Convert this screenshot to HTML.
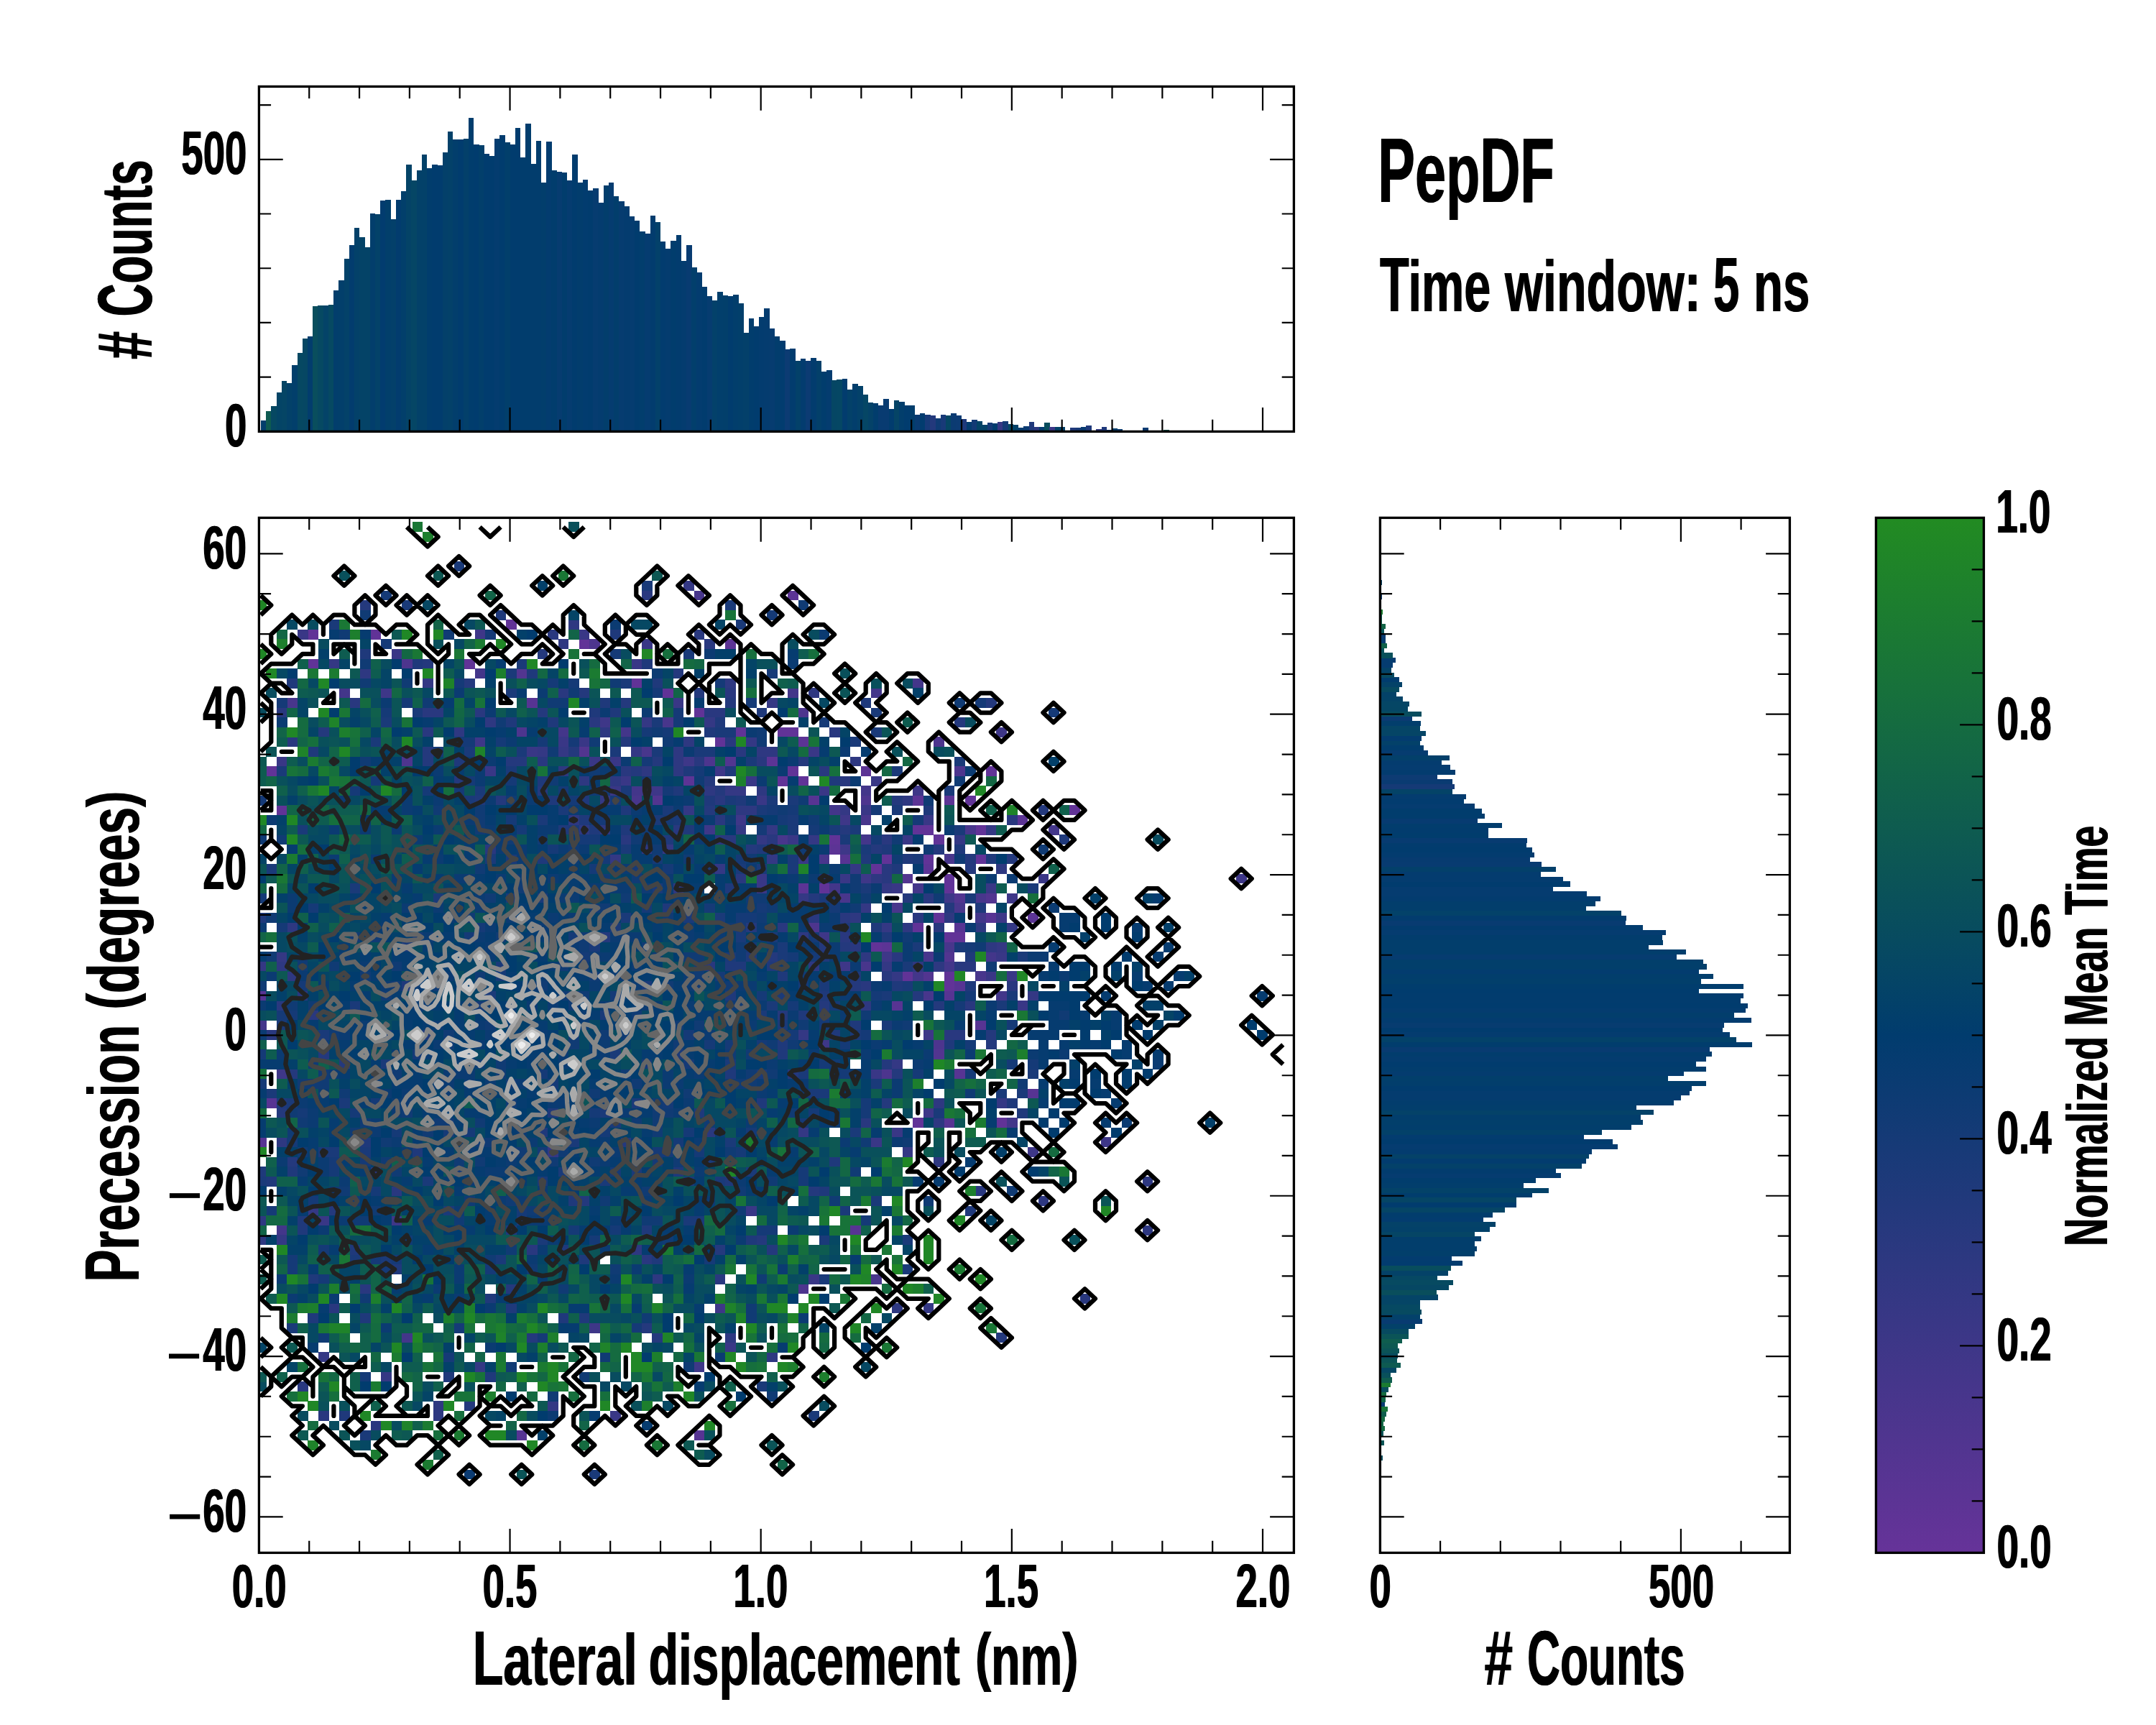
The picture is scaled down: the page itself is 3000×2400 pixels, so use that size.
<!DOCTYPE html><html><head><meta charset="utf-8"><title>PepDF</title><style>html,body{margin:0;padding:0;background:#fff}svg{display:block}</style></head><body><svg width="3000" height="2400" viewBox="0 0 3000 2400">
<defs>
<linearGradient id="cb" x1="0" y1="1" x2="0" y2="0"><stop offset="0" stop-color="#663399"/><stop offset="0.5" stop-color="#013c6e"/><stop offset="1" stop-color="#228b22"/></linearGradient>
<clipPath id="cm"><rect x="360.4" y="720.4" width="1440" height="1440"/></clipPath>
<clipPath id="ct"><rect x="360.4" y="120.4" width="1440" height="480"/></clipPath>
<clipPath id="cr"><rect x="1920.4" y="720.4" width="570" height="1440"/></clipPath>
</defs>
<rect width="3000" height="2400" fill="#fff"/>
<g clip-path="url(#ct)" shape-rendering="crispEdges">
<rect x="363.00" y="585.07" width="7.52" height="15.33" fill="#023e6c"/>
<rect x="370.22" y="571.69" width="7.52" height="28.71" fill="#0e5a51"/>
<rect x="377.44" y="564.73" width="7.52" height="35.67" fill="#064862"/>
<rect x="384.66" y="545.50" width="7.52" height="54.90" fill="#044466"/>
<rect x="391.88" y="530.45" width="7.52" height="69.95" fill="#054565"/>
<rect x="399.10" y="533.24" width="7.52" height="67.16" fill="#034169"/>
<rect x="406.32" y="508.43" width="7.52" height="91.97" fill="#023f6b"/>
<rect x="413.54" y="491.15" width="7.52" height="109.25" fill="#064862"/>
<rect x="420.76" y="471.37" width="7.52" height="129.03" fill="#064763"/>
<rect x="427.98" y="468.02" width="7.52" height="132.38" fill="#023d6d"/>
<rect x="435.20" y="426.22" width="7.52" height="174.18" fill="#094e5d"/>
<rect x="442.42" y="424.55" width="7.52" height="175.85" fill="#064962"/>
<rect x="449.64" y="425.38" width="7.52" height="175.02" fill="#044368"/>
<rect x="456.86" y="424.27" width="7.52" height="176.13" fill="#064962"/>
<rect x="464.08" y="404.20" width="7.52" height="196.20" fill="#023e6c"/>
<rect x="471.30" y="390.27" width="7.52" height="210.13" fill="#023f6b"/>
<rect x="478.52" y="360.17" width="7.52" height="240.23" fill="#034269"/>
<rect x="485.74" y="341.22" width="7.52" height="259.18" fill="#023c6e"/>
<rect x="492.96" y="317.25" width="7.52" height="283.15" fill="#034169"/>
<rect x="500.18" y="330.07" width="7.52" height="270.33" fill="#044367"/>
<rect x="507.40" y="344.01" width="7.52" height="256.39" fill="#044367"/>
<rect x="514.62" y="296.91" width="7.52" height="303.49" fill="#023e6c"/>
<rect x="521.84" y="298.02" width="7.52" height="302.38" fill="#034269"/>
<rect x="529.06" y="279.07" width="7.52" height="321.33" fill="#023c6f"/>
<rect x="536.28" y="278.23" width="7.52" height="322.17" fill="#023f6b"/>
<rect x="543.50" y="304.71" width="7.52" height="295.69" fill="#03406a"/>
<rect x="550.72" y="278.23" width="7.52" height="322.17" fill="#023c6e"/>
<rect x="557.94" y="265.97" width="7.52" height="334.43" fill="#023f6b"/>
<rect x="565.16" y="228.91" width="7.52" height="371.49" fill="#044367"/>
<rect x="572.38" y="250.64" width="7.52" height="349.76" fill="#054665"/>
<rect x="579.60" y="236.99" width="7.52" height="363.41" fill="#034169"/>
<rect x="586.82" y="214.97" width="7.52" height="385.43" fill="#034169"/>
<rect x="594.04" y="233.92" width="7.52" height="366.48" fill="#013d6d"/>
<rect x="601.26" y="228.91" width="7.52" height="371.49" fill="#013c6e"/>
<rect x="608.48" y="230.02" width="7.52" height="370.38" fill="#013c6e"/>
<rect x="615.70" y="211.63" width="7.52" height="388.77" fill="#03406a"/>
<rect x="622.92" y="182.92" width="7.52" height="417.48" fill="#034169"/>
<rect x="630.14" y="194.07" width="7.52" height="406.33" fill="#023e6c"/>
<rect x="637.36" y="194.07" width="7.52" height="406.33" fill="#013c6e"/>
<rect x="644.58" y="193.23" width="7.52" height="407.17" fill="#03406a"/>
<rect x="651.80" y="163.69" width="7.52" height="436.71" fill="#013d6d"/>
<rect x="659.02" y="200.76" width="7.52" height="399.64" fill="#013c6e"/>
<rect x="666.24" y="202.43" width="7.52" height="397.97" fill="#023f6b"/>
<rect x="673.46" y="213.86" width="7.52" height="386.54" fill="#013c6e"/>
<rect x="680.68" y="216.64" width="7.52" height="383.76" fill="#013c6e"/>
<rect x="687.90" y="192.96" width="7.52" height="407.44" fill="#043c6f"/>
<rect x="695.12" y="187.94" width="7.52" height="412.46" fill="#013c6e"/>
<rect x="702.34" y="197.97" width="7.52" height="402.43" fill="#023f6b"/>
<rect x="709.56" y="200.76" width="7.52" height="399.64" fill="#013c6e"/>
<rect x="716.78" y="177.63" width="7.52" height="422.77" fill="#013c6e"/>
<rect x="724.00" y="218.60" width="7.52" height="381.80" fill="#013d6d"/>
<rect x="731.22" y="171.78" width="7.52" height="428.62" fill="#013d6d"/>
<rect x="738.44" y="227.79" width="7.52" height="372.61" fill="#023d6d"/>
<rect x="745.66" y="195.74" width="7.52" height="404.66" fill="#023d6d"/>
<rect x="752.88" y="253.99" width="7.52" height="346.41" fill="#023e6c"/>
<rect x="760.10" y="196.86" width="7.52" height="403.54" fill="#033c6f"/>
<rect x="767.32" y="236.99" width="7.52" height="363.41" fill="#013d6d"/>
<rect x="774.54" y="238.94" width="7.52" height="361.46" fill="#063c70"/>
<rect x="781.76" y="240.05" width="7.52" height="360.35" fill="#013d6d"/>
<rect x="788.98" y="251.48" width="7.52" height="348.92" fill="#053c70"/>
<rect x="796.20" y="214.97" width="7.52" height="385.43" fill="#013c6e"/>
<rect x="803.42" y="253.99" width="7.52" height="346.41" fill="#023d6d"/>
<rect x="810.64" y="249.81" width="7.52" height="350.59" fill="#023c6f"/>
<rect x="817.86" y="264.86" width="7.52" height="335.54" fill="#013c6e"/>
<rect x="825.08" y="262.07" width="7.52" height="338.33" fill="#063c70"/>
<rect x="832.30" y="281.86" width="7.52" height="318.54" fill="#043c6f"/>
<rect x="839.52" y="257.89" width="7.52" height="342.51" fill="#023e6c"/>
<rect x="846.74" y="253.99" width="7.52" height="346.41" fill="#053c70"/>
<rect x="853.96" y="272.94" width="7.52" height="327.46" fill="#023e6c"/>
<rect x="861.18" y="279.91" width="7.52" height="320.49" fill="#063c70"/>
<rect x="868.40" y="287.15" width="7.52" height="313.25" fill="#043c6f"/>
<rect x="875.62" y="301.09" width="7.52" height="299.31" fill="#053c70"/>
<rect x="882.84" y="306.94" width="7.52" height="293.46" fill="#013c6e"/>
<rect x="890.06" y="322.27" width="7.52" height="278.13" fill="#023e6d"/>
<rect x="897.28" y="325.05" width="7.52" height="275.35" fill="#053c70"/>
<rect x="904.50" y="300.25" width="7.52" height="300.15" fill="#023c6e"/>
<rect x="911.72" y="309.17" width="7.52" height="291.23" fill="#03416a"/>
<rect x="918.94" y="335.92" width="7.52" height="264.48" fill="#023c6f"/>
<rect x="926.16" y="345.96" width="7.52" height="254.44" fill="#043c6f"/>
<rect x="933.38" y="335.09" width="7.52" height="265.31" fill="#013d6d"/>
<rect x="940.60" y="327.01" width="7.52" height="273.39" fill="#023c6e"/>
<rect x="947.82" y="362.96" width="7.52" height="237.44" fill="#043c6f"/>
<rect x="955.04" y="341.22" width="7.52" height="259.18" fill="#083b71"/>
<rect x="962.26" y="372.15" width="7.52" height="228.25" fill="#023f6c"/>
<rect x="969.48" y="379.12" width="7.52" height="221.28" fill="#033c6f"/>
<rect x="976.70" y="399.19" width="7.52" height="201.21" fill="#013c6e"/>
<rect x="983.92" y="412.01" width="7.52" height="188.39" fill="#063c70"/>
<rect x="991.14" y="417.86" width="7.52" height="182.54" fill="#03416a"/>
<rect x="998.36" y="406.15" width="7.52" height="194.25" fill="#023f6c"/>
<rect x="1005.58" y="411.17" width="7.52" height="189.23" fill="#023f6b"/>
<rect x="1012.80" y="412.01" width="7.52" height="188.39" fill="#013c6e"/>
<rect x="1020.02" y="410.33" width="7.52" height="190.07" fill="#023e6c"/>
<rect x="1027.24" y="422.04" width="7.52" height="178.36" fill="#023f6b"/>
<rect x="1034.46" y="463.28" width="7.52" height="137.12" fill="#03406a"/>
<rect x="1041.68" y="443.22" width="7.52" height="157.18" fill="#013d6d"/>
<rect x="1048.90" y="454.09" width="7.52" height="146.31" fill="#013c6e"/>
<rect x="1056.12" y="441.27" width="7.52" height="159.13" fill="#033c6f"/>
<rect x="1063.34" y="429.01" width="7.52" height="171.39" fill="#043c6f"/>
<rect x="1070.56" y="457.15" width="7.52" height="143.25" fill="#063c70"/>
<rect x="1077.78" y="468.02" width="7.52" height="132.38" fill="#023d6d"/>
<rect x="1085.00" y="474.31" width="7.52" height="126.09" fill="#023c6f"/>
<rect x="1092.22" y="486.35" width="7.52" height="114.05" fill="#0c3b73"/>
<rect x="1099.44" y="485.35" width="7.52" height="115.05" fill="#023c6e"/>
<rect x="1106.66" y="502.41" width="7.52" height="97.99" fill="#034169"/>
<rect x="1113.88" y="499.40" width="7.52" height="101.00" fill="#033c6f"/>
<rect x="1121.10" y="502.41" width="7.52" height="97.99" fill="#0c3b73"/>
<rect x="1128.32" y="498.39" width="7.52" height="102.01" fill="#023c6e"/>
<rect x="1135.54" y="502.41" width="7.52" height="97.99" fill="#03406a"/>
<rect x="1142.76" y="517.29" width="7.52" height="83.11" fill="#013d6d"/>
<rect x="1149.98" y="515.45" width="7.52" height="84.95" fill="#043c6f"/>
<rect x="1157.20" y="529.33" width="7.52" height="71.07" fill="#054664"/>
<rect x="1164.42" y="528.33" width="7.52" height="72.07" fill="#054764"/>
<rect x="1171.64" y="527.32" width="7.52" height="73.08" fill="#023c6e"/>
<rect x="1178.86" y="542.37" width="7.52" height="58.03" fill="#034169"/>
<rect x="1186.08" y="533.51" width="7.52" height="66.89" fill="#023e6c"/>
<rect x="1193.30" y="537.36" width="7.52" height="63.04" fill="#034169"/>
<rect x="1200.52" y="549.40" width="7.52" height="51.00" fill="#054665"/>
<rect x="1207.74" y="560.43" width="7.52" height="39.97" fill="#044268"/>
<rect x="1214.96" y="561.44" width="7.52" height="38.96" fill="#013d6d"/>
<rect x="1222.18" y="564.45" width="7.52" height="35.95" fill="#083b71"/>
<rect x="1229.40" y="555.42" width="7.52" height="44.98" fill="#083b71"/>
<rect x="1236.62" y="569.46" width="7.52" height="30.94" fill="#013c6e"/>
<rect x="1243.84" y="557.42" width="7.52" height="42.98" fill="#054466"/>
<rect x="1251.06" y="558.59" width="7.52" height="41.81" fill="#023e6c"/>
<rect x="1258.28" y="564.45" width="7.52" height="35.95" fill="#013c6e"/>
<rect x="1265.50" y="564.45" width="7.52" height="35.95" fill="#023e6c"/>
<rect x="1272.72" y="577.49" width="7.52" height="22.91" fill="#093b71"/>
<rect x="1279.94" y="575.48" width="7.52" height="24.92" fill="#023c6f"/>
<rect x="1287.16" y="577.49" width="7.52" height="22.91" fill="#173a78"/>
<rect x="1294.38" y="578.49" width="7.52" height="21.91" fill="#23397c"/>
<rect x="1301.60" y="581.50" width="7.52" height="18.90" fill="#0f3b74"/>
<rect x="1308.82" y="577.49" width="7.52" height="22.91" fill="#183a78"/>
<rect x="1316.04" y="578.49" width="7.52" height="21.91" fill="#054664"/>
<rect x="1323.26" y="575.48" width="7.52" height="24.92" fill="#0b3b72"/>
<rect x="1330.48" y="578.49" width="7.52" height="21.91" fill="#0c3b73"/>
<rect x="1337.70" y="582.51" width="7.52" height="17.89" fill="#1f397b"/>
<rect x="1344.92" y="586.52" width="7.52" height="13.88" fill="#043c6f"/>
<rect x="1352.14" y="583.51" width="7.52" height="16.89" fill="#123a75"/>
<rect x="1359.36" y="585.52" width="7.52" height="14.88" fill="#044467"/>
<rect x="1366.58" y="590.53" width="7.52" height="9.87" fill="#044268"/>
<rect x="1373.80" y="587.52" width="7.52" height="12.88" fill="#163a77"/>
<rect x="1381.02" y="588.53" width="7.52" height="11.87" fill="#023c6e"/>
<rect x="1388.24" y="586.52" width="7.52" height="13.88" fill="#363784"/>
<rect x="1395.46" y="585.52" width="7.52" height="14.88" fill="#143a76"/>
<rect x="1402.68" y="589.53" width="7.52" height="10.87" fill="#064863"/>
<rect x="1409.90" y="590.53" width="7.52" height="9.87" fill="#034269"/>
<rect x="1417.12" y="594.55" width="7.52" height="5.85" fill="#053c70"/>
<rect x="1424.34" y="592.54" width="7.52" height="7.86" fill="#0a3b72"/>
<rect x="1431.56" y="586.52" width="7.52" height="13.88" fill="#20397b"/>
<rect x="1438.78" y="593.92" width="7.52" height="6.48" fill="#2a387f"/>
<rect x="1446.00" y="594.44" width="7.52" height="5.96" fill="#033c6f"/>
<rect x="1453.22" y="587.56" width="7.52" height="12.84" fill="#084d5d"/>
<rect x="1460.44" y="593.58" width="7.52" height="6.82" fill="#3c3787"/>
<rect x="1467.66" y="594.26" width="7.52" height="6.14" fill="#034268"/>
<rect x="1474.88" y="594.26" width="7.52" height="6.14" fill="#034169"/>
<rect x="1482.10" y="598.56" width="7.52" height="1.84" fill="#0c5754"/>
<rect x="1489.32" y="595.29" width="7.52" height="5.11" fill="#21397b"/>
<rect x="1496.54" y="594.61" width="7.52" height="5.79" fill="#173a77"/>
<rect x="1503.76" y="593.58" width="7.52" height="6.82" fill="#083b71"/>
<rect x="1510.98" y="591.51" width="7.52" height="8.89" fill="#1e397a"/>
<rect x="1525.42" y="596.50" width="7.52" height="3.90" fill="#2f3882"/>
<rect x="1532.64" y="594.44" width="7.52" height="5.96" fill="#1f397b"/>
<rect x="1539.86" y="597.53" width="7.52" height="2.87" fill="#0c3b73"/>
<rect x="1547.08" y="595.64" width="7.52" height="4.76" fill="#023e6c"/>
<rect x="1554.30" y="596.50" width="7.52" height="3.90" fill="#0a3b72"/>
<rect x="1561.52" y="598.56" width="7.52" height="1.84" fill="#063c70"/>
<rect x="1568.74" y="598.73" width="7.52" height="1.67" fill="#29387f"/>
<rect x="1575.96" y="598.73" width="7.52" height="1.67" fill="#2b3880"/>
<rect x="1583.18" y="598.56" width="7.52" height="1.84" fill="#0f5d4e"/>
<rect x="1590.40" y="595.47" width="7.52" height="4.93" fill="#0b3b72"/>
<rect x="1604.84" y="598.73" width="7.52" height="1.67" fill="#0d3b73"/>
<rect x="1612.06" y="598.56" width="7.52" height="1.84" fill="#0c5754"/>
<rect x="1619.28" y="597.53" width="7.52" height="2.87" fill="#0d5952"/>
<rect x="1640.94" y="598.90" width="7.52" height="1.50" fill="#136744"/>
<rect x="1677.04" y="598.90" width="7.52" height="1.50" fill="#054665"/>
</g>
<g clip-path="url(#cr)" shape-rendering="crispEdges">
<rect x="1920.40" y="2024.71" width="3.60" height="7.06" fill="#084e5d"/>
<rect x="1920.40" y="2004.42" width="5.60" height="7.06" fill="#0b5556"/>
<rect x="1920.40" y="1990.89" width="4.60" height="7.06" fill="#0b5358"/>
<rect x="1920.40" y="1984.12" width="6.60" height="7.06" fill="#146a41"/>
<rect x="1920.40" y="1977.36" width="4.60" height="7.06" fill="#126646"/>
<rect x="1920.40" y="1970.59" width="6.60" height="7.06" fill="#156b41"/>
<rect x="1920.40" y="1963.83" width="8.60" height="7.06" fill="#0f5e4d"/>
<rect x="1920.40" y="1957.06" width="10.60" height="7.06" fill="#187438"/>
<rect x="1920.40" y="1950.30" width="6.60" height="7.06" fill="#083b71"/>
<rect x="1920.40" y="1943.53" width="7.60" height="7.06" fill="#126646"/>
<rect x="1920.40" y="1936.77" width="8.60" height="7.06" fill="#156c40"/>
<rect x="1920.40" y="1930.00" width="11.60" height="7.06" fill="#084e5d"/>
<rect x="1920.40" y="1923.24" width="14.60" height="7.06" fill="#1b7b31"/>
<rect x="1920.40" y="1916.47" width="16.60" height="7.06" fill="#0f5d4e"/>
<rect x="1920.40" y="1909.71" width="14.60" height="7.06" fill="#09505b"/>
<rect x="1920.40" y="1902.94" width="22.60" height="7.06" fill="#054764"/>
<rect x="1920.40" y="1896.18" width="28.60" height="7.06" fill="#0e5a51"/>
<rect x="1920.40" y="1889.41" width="23.60" height="7.06" fill="#0b5456"/>
<rect x="1920.40" y="1882.65" width="24.60" height="7.06" fill="#084c5e"/>
<rect x="1920.40" y="1875.88" width="26.60" height="7.06" fill="#0b5457"/>
<rect x="1920.40" y="1869.12" width="24.60" height="7.06" fill="#0d5952"/>
<rect x="1920.40" y="1862.35" width="30.60" height="7.06" fill="#0f5d4e"/>
<rect x="1920.40" y="1855.59" width="39.60" height="7.06" fill="#0b5457"/>
<rect x="1920.40" y="1848.82" width="39.60" height="7.06" fill="#074a60"/>
<rect x="1920.40" y="1842.06" width="48.60" height="7.06" fill="#034169"/>
<rect x="1920.40" y="1835.29" width="58.60" height="7.06" fill="#083b71"/>
<rect x="1920.40" y="1828.53" width="55.60" height="7.06" fill="#03416a"/>
<rect x="1920.40" y="1821.76" width="57.60" height="7.06" fill="#074a60"/>
<rect x="1920.40" y="1815.00" width="55.60" height="7.06" fill="#064962"/>
<rect x="1920.40" y="1808.23" width="55.60" height="7.06" fill="#054566"/>
<rect x="1920.40" y="1801.47" width="80.60" height="7.06" fill="#044467"/>
<rect x="1920.40" y="1794.70" width="78.60" height="7.06" fill="#094e5c"/>
<rect x="1920.40" y="1787.94" width="95.60" height="7.06" fill="#064763"/>
<rect x="1920.40" y="1781.17" width="101.60" height="7.06" fill="#074a61"/>
<rect x="1920.40" y="1774.41" width="79.60" height="7.06" fill="#064863"/>
<rect x="1920.40" y="1767.64" width="94.60" height="7.06" fill="#044268"/>
<rect x="1920.40" y="1760.88" width="98.60" height="7.06" fill="#084d5d"/>
<rect x="1920.40" y="1754.11" width="114.60" height="7.06" fill="#023c6f"/>
<rect x="1920.40" y="1747.35" width="99.60" height="7.06" fill="#033c6f"/>
<rect x="1920.40" y="1740.58" width="131.60" height="7.06" fill="#023f6b"/>
<rect x="1920.40" y="1733.82" width="134.60" height="7.06" fill="#023e6c"/>
<rect x="1920.40" y="1727.05" width="131.60" height="7.06" fill="#023e6c"/>
<rect x="1920.40" y="1720.29" width="140.53" height="7.06" fill="#023e6c"/>
<rect x="1920.40" y="1713.52" width="131.81" height="7.06" fill="#054565"/>
<rect x="1920.40" y="1706.76" width="152.43" height="7.06" fill="#034169"/>
<rect x="1920.40" y="1699.99" width="160.36" height="7.06" fill="#044268"/>
<rect x="1920.40" y="1693.23" width="143.70" height="7.06" fill="#033c6f"/>
<rect x="1920.40" y="1686.46" width="156.92" height="7.06" fill="#023d6d"/>
<rect x="1920.40" y="1679.70" width="173.58" height="7.06" fill="#054565"/>
<rect x="1920.40" y="1672.93" width="189.45" height="7.06" fill="#013c6e"/>
<rect x="1920.40" y="1666.17" width="189.45" height="7.06" fill="#054565"/>
<rect x="1920.40" y="1659.40" width="211.13" height="7.06" fill="#013d6d"/>
<rect x="1920.40" y="1652.64" width="234.40" height="7.06" fill="#034268"/>
<rect x="1920.40" y="1645.87" width="199.76" height="7.06" fill="#023e6c"/>
<rect x="1920.40" y="1639.11" width="216.42" height="7.06" fill="#013d6d"/>
<rect x="1920.40" y="1632.34" width="251.32" height="7.06" fill="#053c70"/>
<rect x="1920.40" y="1625.58" width="244.71" height="7.06" fill="#023c6e"/>
<rect x="1920.40" y="1618.81" width="280.40" height="7.06" fill="#034169"/>
<rect x="1920.40" y="1612.05" width="286.49" height="7.06" fill="#023c6f"/>
<rect x="1920.40" y="1605.28" width="290.45" height="7.06" fill="#044268"/>
<rect x="1920.40" y="1598.52" width="294.42" height="7.06" fill="#033c6f"/>
<rect x="1920.40" y="1591.75" width="330.11" height="7.06" fill="#053c70"/>
<rect x="1920.40" y="1584.99" width="323.50" height="7.06" fill="#013c6e"/>
<rect x="1920.40" y="1578.22" width="283.84" height="7.06" fill="#033c6f"/>
<rect x="1920.40" y="1571.46" width="308.43" height="7.06" fill="#034169"/>
<rect x="1920.40" y="1564.69" width="349.94" height="7.06" fill="#023e6c"/>
<rect x="1920.40" y="1557.93" width="365.28" height="7.06" fill="#023f6b"/>
<rect x="1920.40" y="1551.16" width="362.64" height="7.06" fill="#023e6c"/>
<rect x="1920.40" y="1544.40" width="380.35" height="7.06" fill="#044268"/>
<rect x="1920.40" y="1537.63" width="356.55" height="7.06" fill="#023e6c"/>
<rect x="1920.40" y="1530.87" width="408.64" height="7.06" fill="#023d6d"/>
<rect x="1920.40" y="1524.10" width="418.69" height="7.06" fill="#043c6f"/>
<rect x="1920.40" y="1517.34" width="430.59" height="7.06" fill="#043c6f"/>
<rect x="1920.40" y="1510.57" width="433.23" height="7.06" fill="#013c6e"/>
<rect x="1920.40" y="1503.81" width="453.59" height="7.06" fill="#023e6c"/>
<rect x="1920.40" y="1497.04" width="400.71" height="7.06" fill="#023f6b"/>
<rect x="1920.40" y="1490.28" width="422.13" height="7.06" fill="#043c6f"/>
<rect x="1920.40" y="1483.51" width="453.59" height="7.06" fill="#023d6d"/>
<rect x="1920.40" y="1476.75" width="439.84" height="7.06" fill="#013c6e"/>
<rect x="1920.40" y="1469.98" width="453.59" height="7.06" fill="#043c6f"/>
<rect x="1920.40" y="1463.22" width="461.52" height="7.06" fill="#023d6d"/>
<rect x="1920.40" y="1456.45" width="458.88" height="7.06" fill="#083b71"/>
<rect x="1920.40" y="1449.69" width="517.32" height="7.06" fill="#013d6d"/>
<rect x="1920.40" y="1442.92" width="495.37" height="7.06" fill="#034269"/>
<rect x="1920.40" y="1436.16" width="486.12" height="7.06" fill="#043c6f"/>
<rect x="1920.40" y="1429.39" width="476.33" height="7.06" fill="#013c6e"/>
<rect x="1920.40" y="1422.63" width="478.18" height="7.06" fill="#073c70"/>
<rect x="1920.40" y="1415.86" width="516.52" height="7.06" fill="#033c6f"/>
<rect x="1920.40" y="1409.10" width="492.73" height="7.06" fill="#023e6c"/>
<rect x="1920.40" y="1402.33" width="508.59" height="7.06" fill="#043c6f"/>
<rect x="1920.40" y="1395.57" width="511.76" height="7.06" fill="#013c6e"/>
<rect x="1920.40" y="1388.80" width="501.45" height="7.06" fill="#023c6e"/>
<rect x="1920.40" y="1382.04" width="505.42" height="7.06" fill="#023c6e"/>
<rect x="1920.40" y="1375.27" width="443.81" height="7.06" fill="#013c6e"/>
<rect x="1920.40" y="1368.51" width="505.42" height="7.06" fill="#013d6d"/>
<rect x="1920.40" y="1361.74" width="446.45" height="7.06" fill="#023f6b"/>
<rect x="1920.40" y="1354.98" width="463.64" height="7.06" fill="#023e6c"/>
<rect x="1920.40" y="1348.21" width="443.81" height="7.06" fill="#033c6f"/>
<rect x="1920.40" y="1341.45" width="454.39" height="7.06" fill="#023f6b"/>
<rect x="1920.40" y="1334.68" width="449.10" height="7.06" fill="#023f6b"/>
<rect x="1920.40" y="1327.92" width="412.61" height="7.06" fill="#063c70"/>
<rect x="1920.40" y="1321.15" width="425.30" height="7.06" fill="#023e6c"/>
<rect x="1920.40" y="1314.39" width="373.74" height="7.06" fill="#023e6c"/>
<rect x="1920.40" y="1307.62" width="393.57" height="7.06" fill="#023e6c"/>
<rect x="1920.40" y="1300.86" width="392.25" height="7.06" fill="#023d6d"/>
<rect x="1920.40" y="1294.09" width="397.54" height="7.06" fill="#053c70"/>
<rect x="1920.40" y="1287.33" width="365.28" height="7.06" fill="#023c6e"/>
<rect x="1920.40" y="1280.56" width="341.48" height="7.06" fill="#083b71"/>
<rect x="1920.40" y="1273.80" width="342.54" height="7.06" fill="#023c6e"/>
<rect x="1920.40" y="1267.03" width="335.40" height="7.06" fill="#034269"/>
<rect x="1920.40" y="1260.27" width="286.49" height="7.06" fill="#023e6c"/>
<rect x="1920.40" y="1253.50" width="299.18" height="7.06" fill="#023e6c"/>
<rect x="1920.40" y="1246.74" width="306.32" height="7.06" fill="#033c6f"/>
<rect x="1920.40" y="1239.97" width="287.28" height="7.06" fill="#053c70"/>
<rect x="1920.40" y="1233.21" width="240.21" height="7.06" fill="#053c70"/>
<rect x="1920.40" y="1226.44" width="264.54" height="7.06" fill="#013c6e"/>
<rect x="1920.40" y="1219.68" width="254.23" height="7.06" fill="#043c6f"/>
<rect x="1920.40" y="1212.91" width="223.56" height="7.06" fill="#043c6f"/>
<rect x="1920.40" y="1206.15" width="244.44" height="7.06" fill="#03406a"/>
<rect x="1920.40" y="1199.38" width="224.35" height="7.06" fill="#083b71"/>
<rect x="1920.40" y="1192.62" width="208.48" height="7.06" fill="#073b70"/>
<rect x="1920.40" y="1185.85" width="214.30" height="7.06" fill="#033c6f"/>
<rect x="1920.40" y="1179.09" width="211.13" height="7.06" fill="#013c6e"/>
<rect x="1920.40" y="1172.32" width="203.20" height="7.06" fill="#023c6e"/>
<rect x="1920.40" y="1165.56" width="204.52" height="7.06" fill="#073b71"/>
<rect x="1920.40" y="1158.79" width="150.31" height="7.06" fill="#013d6d"/>
<rect x="1920.40" y="1152.03" width="150.31" height="7.06" fill="#023c6e"/>
<rect x="1920.40" y="1145.26" width="169.35" height="7.06" fill="#023d6d"/>
<rect x="1920.40" y="1138.50" width="135.24" height="7.06" fill="#073b71"/>
<rect x="1920.40" y="1131.73" width="145.29" height="7.06" fill="#013d6d"/>
<rect x="1920.40" y="1124.97" width="141.32" height="7.06" fill="#013d6d"/>
<rect x="1920.40" y="1118.20" width="131.28" height="7.06" fill="#053c70"/>
<rect x="1920.40" y="1111.44" width="116.47" height="7.06" fill="#023c6f"/>
<rect x="1920.40" y="1104.67" width="119.38" height="7.06" fill="#043c6f"/>
<rect x="1920.40" y="1097.91" width="100.34" height="7.06" fill="#044367"/>
<rect x="1920.40" y="1091.14" width="103.25" height="7.06" fill="#153a76"/>
<rect x="1920.40" y="1084.38" width="100.34" height="7.06" fill="#0a3b72"/>
<rect x="1920.40" y="1077.61" width="79.45" height="7.06" fill="#0d3b73"/>
<rect x="1920.40" y="1070.85" width="104.57" height="7.06" fill="#033c6f"/>
<rect x="1920.40" y="1064.08" width="97.43" height="7.06" fill="#053c70"/>
<rect x="1920.40" y="1057.32" width="85.27" height="7.06" fill="#043c6f"/>
<rect x="1920.40" y="1050.55" width="96.37" height="7.06" fill="#03406a"/>
<rect x="1920.40" y="1043.79" width="66.60" height="7.06" fill="#063c70"/>
<rect x="1920.40" y="1037.02" width="60.60" height="7.06" fill="#013d6d"/>
<rect x="1920.40" y="1030.26" width="55.60" height="7.06" fill="#034169"/>
<rect x="1920.40" y="1023.49" width="57.60" height="7.06" fill="#033c6f"/>
<rect x="1920.40" y="1016.73" width="63.60" height="7.06" fill="#054566"/>
<rect x="1920.40" y="1009.96" width="55.60" height="7.06" fill="#054566"/>
<rect x="1920.40" y="1003.20" width="56.60" height="7.06" fill="#023e6c"/>
<rect x="1920.40" y="996.43" width="44.60" height="7.06" fill="#0a3b72"/>
<rect x="1920.40" y="989.67" width="57.60" height="7.06" fill="#084d5e"/>
<rect x="1920.40" y="982.90" width="38.60" height="7.06" fill="#054664"/>
<rect x="1920.40" y="976.14" width="40.60" height="7.06" fill="#054665"/>
<rect x="1920.40" y="969.37" width="31.60" height="7.06" fill="#044367"/>
<rect x="1920.40" y="962.61" width="22.60" height="7.06" fill="#044268"/>
<rect x="1920.40" y="955.84" width="26.60" height="7.06" fill="#074a60"/>
<rect x="1920.40" y="949.08" width="30.60" height="7.06" fill="#044268"/>
<rect x="1920.40" y="942.31" width="26.60" height="7.06" fill="#013c6e"/>
<rect x="1920.40" y="935.55" width="19.60" height="7.06" fill="#074a60"/>
<rect x="1920.40" y="928.78" width="15.60" height="7.06" fill="#044367"/>
<rect x="1920.40" y="922.02" width="17.60" height="7.06" fill="#053c70"/>
<rect x="1920.40" y="915.25" width="21.60" height="7.06" fill="#053c70"/>
<rect x="1920.40" y="908.49" width="17.60" height="7.06" fill="#09505a"/>
<rect x="1920.40" y="901.72" width="5.60" height="7.06" fill="#09505b"/>
<rect x="1920.40" y="894.96" width="9.60" height="7.06" fill="#116249"/>
<rect x="1920.40" y="888.19" width="7.60" height="7.06" fill="#053c70"/>
<rect x="1920.40" y="881.43" width="7.60" height="7.06" fill="#0a3b72"/>
<rect x="1920.40" y="874.66" width="5.60" height="7.06" fill="#0b5457"/>
<rect x="1920.40" y="867.90" width="7.60" height="7.06" fill="#126547"/>
<rect x="1920.40" y="861.13" width="2.60" height="7.06" fill="#0f5e4d"/>
<rect x="1920.40" y="854.37" width="2.60" height="7.06" fill="#0d5952"/>
<rect x="1920.40" y="847.60" width="3.60" height="7.06" fill="#1c7e2f"/>
<rect x="1920.40" y="840.84" width="2.00" height="7.06" fill="#0f3b74"/>
<rect x="1920.40" y="834.07" width="2.00" height="7.06" fill="#26397e"/>
<rect x="1920.40" y="827.31" width="2.60" height="7.06" fill="#0a3b72"/>
<rect x="1920.40" y="807.01" width="2.60" height="7.06" fill="#034268"/>
</g>
<g clip-path="url(#cm)" shape-rendering="crispEdges">
<path fill="#613397" d="M370.4 1066.1h14.6v13.9h-14.6zM384.9 1120.4h14.6v13.9h-14.6zM428.4 916.6h14.6v13.9h-14.6zM428.4 875.8h14.6v13.9h-14.6zM515.5 875.8h14.6v13.9h-14.6zM646.1 916.6h14.6v13.9h-14.6zM704.2 862.2h14.6v13.9h-14.6zM805.8 889.4h14.6v13.9h-14.6zM878.4 943.8h14.6v13.9h-14.6zM921.9 957.3h14.6v13.9h-14.6zM965.5 984.5h14.6v13.9h-14.6zM994.5 1025.3h14.6v13.9h-14.6zM1023.5 1011.7h14.6v13.9h-14.6zM1081.6 1079.6h14.6v13.9h-14.6zM1081.6 1011.7h14.6v13.9h-14.6zM1096.1 1066.1h14.6v13.9h-14.6zM1096.1 1011.7h14.6v13.9h-14.6zM1110.6 1079.6h14.6v13.9h-14.6zM1139.7 1229.1h14.6v13.9h-14.6zM1154.2 1161.2h14.6v13.9h-14.6zM1212.2 1310.7h14.6v13.9h-14.6zM1212.2 1201.9h14.6v13.9h-14.6zM1226.8 1188.4h14.6v13.9h-14.6zM1255.8 1351.4h14.6v13.9h-14.6zM1270.3 1555.3h14.6v13.9h-14.6zM1270.3 1283.5h14.6v13.9h-14.6zM1270.3 1147.6h14.6v13.9h-14.6zM1284.8 1188.4h14.6v13.9h-14.6zM1284.8 1147.6h14.6v13.9h-14.6zM1299.3 1269.9h14.6v13.9h-14.6zM1299.3 1161.2h14.6v13.9h-14.6zM1313.8 1365.0h14.6v13.9h-14.6zM1313.8 1351.4h14.6v13.9h-14.6zM1313.8 1297.1h14.6v13.9h-14.6zM1313.8 1229.1h14.6v13.9h-14.6zM1313.8 1215.5h14.6v13.9h-14.6zM1328.4 1297.1h14.6v13.9h-14.6zM1342.9 1106.8h14.6v13.9h-14.6zM1357.4 1188.4h14.6v13.9h-14.6zM1357.4 1147.6h14.6v13.9h-14.6zM1371.9 1066.1h14.6v13.9h-14.6zM1386.4 1555.3h14.6v13.9h-14.6zM1488.0 1120.4h14.6v13.9h-14.6z"/>
<path fill="#5c3495" d="M951.0 1079.6h14.6v13.9h-14.6zM1009.0 889.4h14.6v13.9h-14.6zM1067.1 1052.5h14.6v13.9h-14.6zM1096.1 821.5h14.6v13.9h-14.6zM1110.6 1229.1h14.6v13.9h-14.6zM1110.6 1025.3h14.6v13.9h-14.6zM1154.2 1174.8h14.6v13.9h-14.6zM1197.7 1066.1h14.6v13.9h-14.6zM1226.8 1310.7h14.6v13.9h-14.6zM1270.3 1106.8h14.6v13.9h-14.6zM1284.8 1201.9h14.6v13.9h-14.6zM1313.8 1106.8h14.6v13.9h-14.6zM1415.4 1134.0h14.6v13.9h-14.6zM1430.0 1269.9h14.6v13.9h-14.6z"/>
<path fill="#573493" d="M355.9 1582.4h14.6v13.9h-14.6zM355.9 1378.6h14.6v13.9h-14.6zM370.4 1528.1h14.6v13.9h-14.6zM718.7 1990.1h14.6v13.9h-14.6zM733.2 970.9h14.6v13.9h-14.6zM965.5 1990.1h14.6v13.9h-14.6zM1125.1 1106.8h14.6v13.9h-14.6zM1168.7 1188.4h14.6v13.9h-14.6zM1183.2 1704.7h14.6v13.9h-14.6zM1241.3 1392.2h14.6v13.9h-14.6zM1313.8 1555.3h14.6v13.9h-14.6zM1313.8 1378.6h14.6v13.9h-14.6zM1328.4 1487.3h14.6v13.9h-14.6zM1328.4 1365.0h14.6v13.9h-14.6zM1328.4 1283.5h14.6v13.9h-14.6zM1357.4 1419.4h14.6v13.9h-14.6zM1371.9 1269.9h14.6v13.9h-14.6zM1430.0 1514.5h14.6v13.9h-14.6z"/>
<path fill="#523590" d="M718.7 930.2h14.6v13.9h-14.6zM805.8 1038.9h14.6v13.9h-14.6zM907.4 1106.8h14.6v13.9h-14.6zM1009.0 1052.5h14.6v13.9h-14.6zM1255.8 1215.5h14.6v13.9h-14.6zM1284.8 1351.4h14.6v13.9h-14.6zM1299.3 1460.1h14.6v13.9h-14.6zM1313.8 1324.2h14.6v13.9h-14.6zM1328.4 1242.7h14.6v13.9h-14.6zM1371.9 1242.7h14.6v13.9h-14.6z"/>
<path fill="#4d358e" d="M559.1 1052.5h14.6v13.9h-14.6zM559.1 916.6h14.6v13.9h-14.6zM718.7 1011.7h14.6v13.9h-14.6zM820.3 889.4h14.6v13.9h-14.6zM980.0 1052.5h14.6v13.9h-14.6zM1110.6 1786.3h14.6v13.9h-14.6zM1110.6 984.5h14.6v13.9h-14.6zM1125.1 1283.5h14.6v13.9h-14.6zM1197.7 1106.8h14.6v13.9h-14.6zM1226.8 1487.3h14.6v13.9h-14.6zM1299.3 1446.5h14.6v13.9h-14.6zM1299.3 1025.3h14.6v13.9h-14.6zM1328.4 1066.1h14.6v13.9h-14.6z"/>
<path fill="#48368c" d="M399.4 970.9h14.6v13.9h-14.6zM878.4 1106.8h14.6v13.9h-14.6zM892.9 1038.9h14.6v13.9h-14.6zM921.9 998.1h14.6v13.9h-14.6zM965.5 821.5h14.6v13.9h-14.6zM1081.6 1161.2h14.6v13.9h-14.6zM1139.7 1188.4h14.6v13.9h-14.6zM1168.7 1242.7h14.6v13.9h-14.6zM1197.7 1337.8h14.6v13.9h-14.6zM1197.7 1134.0h14.6v13.9h-14.6zM1212.2 1772.7h14.6v13.9h-14.6zM1241.3 1256.3h14.6v13.9h-14.6zM1284.8 1378.6h14.6v13.9h-14.6zM1284.8 1324.2h14.6v13.9h-14.6zM1313.8 1310.7h14.6v13.9h-14.6zM1313.8 1188.4h14.6v13.9h-14.6zM1328.4 1256.3h14.6v13.9h-14.6zM1342.9 1147.6h14.6v13.9h-14.6zM1357.4 1351.4h14.6v13.9h-14.6zM1357.4 1242.7h14.6v13.9h-14.6z"/>
<path fill="#43368a" d="M355.9 1419.4h14.6v13.9h-14.6zM384.9 1704.7h14.6v13.9h-14.6zM472.0 957.3h14.6v13.9h-14.6zM559.1 1854.2h14.6v13.9h-14.6zM660.7 930.2h14.6v13.9h-14.6zM776.8 1011.7h14.6v13.9h-14.6zM863.9 1011.7h14.6v13.9h-14.6zM878.4 1093.2h14.6v13.9h-14.6zM1096.1 957.3h14.6v13.9h-14.6zM1154.2 1229.1h14.6v13.9h-14.6zM1154.2 1120.4h14.6v13.9h-14.6zM1197.7 1161.2h14.6v13.9h-14.6zM1197.7 1093.2h14.6v13.9h-14.6zM1212.2 957.3h14.6v13.9h-14.6zM1270.3 1351.4h14.6v13.9h-14.6zM1270.3 1229.1h14.6v13.9h-14.6zM1270.3 943.8h14.6v13.9h-14.6zM1313.8 1337.8h14.6v13.9h-14.6zM1357.4 1269.9h14.6v13.9h-14.6zM1371.9 1324.2h14.6v13.9h-14.6zM1386.4 1378.6h14.6v13.9h-14.6zM1400.9 1555.3h14.6v13.9h-14.6zM1459.0 1147.6h14.6v13.9h-14.6z"/>
<path fill="#3e3788" d="M384.9 1487.3h14.6v13.9h-14.6zM530.0 957.3h14.6v13.9h-14.6zM544.5 1691.1h14.6v13.9h-14.6zM660.7 1025.3h14.6v13.9h-14.6zM660.7 875.8h14.6v13.9h-14.6zM820.3 1840.6h14.6v13.9h-14.6zM834.8 998.1h14.6v13.9h-14.6zM892.9 1093.2h14.6v13.9h-14.6zM907.4 1093.2h14.6v13.9h-14.6zM951.0 1052.5h14.6v13.9h-14.6zM965.5 1895.0h14.6v13.9h-14.6zM980.0 1147.6h14.6v13.9h-14.6zM994.5 1813.4h14.6v13.9h-14.6zM994.5 1066.1h14.6v13.9h-14.6zM1023.5 1134.0h14.6v13.9h-14.6zM1139.7 1446.5h14.6v13.9h-14.6zM1139.7 1297.1h14.6v13.9h-14.6zM1168.7 1337.8h14.6v13.9h-14.6zM1168.7 1174.8h14.6v13.9h-14.6zM1168.7 1134.0h14.6v13.9h-14.6zM1197.7 1215.5h14.6v13.9h-14.6zM1226.8 1324.2h14.6v13.9h-14.6zM1270.3 1093.2h14.6v13.9h-14.6zM1284.8 1541.7h14.6v13.9h-14.6zM1284.8 1433.0h14.6v13.9h-14.6zM1313.8 1242.7h14.6v13.9h-14.6zM1386.4 1269.9h14.6v13.9h-14.6zM1386.4 1011.7h14.6v13.9h-14.6zM1400.9 1242.7h14.6v13.9h-14.6zM1430.0 1596.0h14.6v13.9h-14.6zM1531.6 1582.4h14.6v13.9h-14.6zM1720.3 1215.5h14.6v13.9h-14.6z"/>
<path fill="#393786" d="M384.9 1052.5h14.6v13.9h-14.6zM413.9 875.8h14.6v13.9h-14.6zM442.9 1691.1h14.6v13.9h-14.6zM544.5 903.0h14.6v13.9h-14.6zM675.2 1066.1h14.6v13.9h-14.6zM733.2 1038.9h14.6v13.9h-14.6zM776.8 1025.3h14.6v13.9h-14.6zM805.8 1025.3h14.6v13.9h-14.6zM805.8 875.8h14.6v13.9h-14.6zM820.3 1052.5h14.6v13.9h-14.6zM849.4 1962.9h14.6v13.9h-14.6zM849.4 1093.2h14.6v13.9h-14.6zM849.4 1052.5h14.6v13.9h-14.6zM863.9 1079.6h14.6v13.9h-14.6zM878.4 916.6h14.6v13.9h-14.6zM892.9 889.4h14.6v13.9h-14.6zM936.5 970.9h14.6v13.9h-14.6zM1009.0 1867.8h14.6v13.9h-14.6zM1038.1 1677.6h14.6v13.9h-14.6zM1038.1 1079.6h14.6v13.9h-14.6zM1052.6 1229.1h14.6v13.9h-14.6zM1052.6 1215.5h14.6v13.9h-14.6zM1052.6 1106.8h14.6v13.9h-14.6zM1096.1 1161.2h14.6v13.9h-14.6zM1110.6 1188.4h14.6v13.9h-14.6zM1125.1 1772.7h14.6v13.9h-14.6zM1125.1 1038.9h14.6v13.9h-14.6zM1139.7 1093.2h14.6v13.9h-14.6zM1168.7 1215.5h14.6v13.9h-14.6zM1197.7 1120.4h14.6v13.9h-14.6zM1212.2 1582.4h14.6v13.9h-14.6zM1212.2 1487.3h14.6v13.9h-14.6zM1212.2 1079.6h14.6v13.9h-14.6zM1241.3 1568.8h14.6v13.9h-14.6zM1241.3 1229.1h14.6v13.9h-14.6zM1255.8 1161.2h14.6v13.9h-14.6zM1284.8 1134.0h14.6v13.9h-14.6zM1371.9 1351.4h14.6v13.9h-14.6zM1371.9 1229.1h14.6v13.9h-14.6zM1386.4 1324.2h14.6v13.9h-14.6zM1400.9 1351.4h14.6v13.9h-14.6zM1415.4 1392.2h14.6v13.9h-14.6zM1444.5 1215.5h14.6v13.9h-14.6z"/>
<path fill="#343884" d="M355.9 1337.8h14.6v13.9h-14.6zM384.9 1718.3h14.6v13.9h-14.6zM384.9 1324.2h14.6v13.9h-14.6zM428.4 1677.6h14.6v13.9h-14.6zM442.9 1881.4h14.6v13.9h-14.6zM457.5 916.6h14.6v13.9h-14.6zM530.0 1908.6h14.6v13.9h-14.6zM588.1 943.8h14.6v13.9h-14.6zM660.7 1895.0h14.6v13.9h-14.6zM747.8 1038.9h14.6v13.9h-14.6zM762.3 1949.3h14.6v13.9h-14.6zM762.3 1596.0h14.6v13.9h-14.6zM776.8 1038.9h14.6v13.9h-14.6zM834.8 1106.8h14.6v13.9h-14.6zM849.4 1188.4h14.6v13.9h-14.6zM878.4 1038.9h14.6v13.9h-14.6zM892.9 998.1h14.6v13.9h-14.6zM921.9 1174.8h14.6v13.9h-14.6zM951.0 1120.4h14.6v13.9h-14.6zM951.0 807.9h14.6v13.9h-14.6zM980.0 998.1h14.6v13.9h-14.6zM994.5 1201.9h14.6v13.9h-14.6zM1009.0 1093.2h14.6v13.9h-14.6zM1023.5 1147.6h14.6v13.9h-14.6zM1023.5 1093.2h14.6v13.9h-14.6zM1038.1 1025.3h14.6v13.9h-14.6zM1052.6 1161.2h14.6v13.9h-14.6zM1067.1 1188.4h14.6v13.9h-14.6zM1067.1 1147.6h14.6v13.9h-14.6zM1067.1 970.9h14.6v13.9h-14.6zM1110.6 1568.8h14.6v13.9h-14.6zM1110.6 1433.0h14.6v13.9h-14.6zM1110.6 1242.7h14.6v13.9h-14.6zM1125.1 1161.2h14.6v13.9h-14.6zM1168.7 1120.4h14.6v13.9h-14.6zM1183.2 1201.9h14.6v13.9h-14.6zM1197.7 1256.3h14.6v13.9h-14.6zM1226.8 1337.8h14.6v13.9h-14.6zM1226.8 1283.5h14.6v13.9h-14.6zM1226.8 1229.1h14.6v13.9h-14.6zM1241.3 1473.7h14.6v13.9h-14.6zM1241.3 1351.4h14.6v13.9h-14.6zM1255.8 1596.0h14.6v13.9h-14.6zM1284.8 1813.4h14.6v13.9h-14.6zM1328.4 1161.2h14.6v13.9h-14.6zM1371.9 1147.6h14.6v13.9h-14.6zM1386.4 1528.1h14.6v13.9h-14.6zM1386.4 1310.7h14.6v13.9h-14.6zM1400.9 1283.5h14.6v13.9h-14.6zM1430.0 1378.6h14.6v13.9h-14.6z"/>
<path fill="#2e3881" d="M355.9 1718.3h14.6v13.9h-14.6zM355.9 1691.1h14.6v13.9h-14.6zM384.9 1582.4h14.6v13.9h-14.6zM384.9 1337.8h14.6v13.9h-14.6zM399.4 1351.4h14.6v13.9h-14.6zM399.4 1283.5h14.6v13.9h-14.6zM501.0 930.2h14.6v13.9h-14.6zM602.6 1962.9h14.6v13.9h-14.6zM602.6 1949.3h14.6v13.9h-14.6zM631.6 1011.7h14.6v13.9h-14.6zM675.2 998.1h14.6v13.9h-14.6zM776.8 1066.1h14.6v13.9h-14.6zM776.8 889.4h14.6v13.9h-14.6zM791.3 1134.0h14.6v13.9h-14.6zM791.3 862.2h14.6v13.9h-14.6zM805.8 1147.6h14.6v13.9h-14.6zM805.8 1079.6h14.6v13.9h-14.6zM834.8 1147.6h14.6v13.9h-14.6zM834.8 1011.7h14.6v13.9h-14.6zM849.4 1079.6h14.6v13.9h-14.6zM878.4 1731.9h14.6v13.9h-14.6zM892.9 1174.8h14.6v13.9h-14.6zM892.9 1066.1h14.6v13.9h-14.6zM907.4 1772.7h14.6v13.9h-14.6zM936.5 1229.1h14.6v13.9h-14.6zM936.5 1066.1h14.6v13.9h-14.6zM936.5 1052.5h14.6v13.9h-14.6zM936.5 1038.9h14.6v13.9h-14.6zM951.0 1025.3h14.6v13.9h-14.6zM980.0 1093.2h14.6v13.9h-14.6zM1009.0 1854.2h14.6v13.9h-14.6zM1009.0 943.8h14.6v13.9h-14.6zM1023.5 1120.4h14.6v13.9h-14.6zM1038.1 1120.4h14.6v13.9h-14.6zM1052.6 1093.2h14.6v13.9h-14.6zM1052.6 1038.9h14.6v13.9h-14.6zM1067.1 1881.4h14.6v13.9h-14.6zM1067.1 1038.9h14.6v13.9h-14.6zM1110.6 1297.1h14.6v13.9h-14.6zM1125.1 1337.8h14.6v13.9h-14.6zM1125.1 957.3h14.6v13.9h-14.6zM1183.2 1269.9h14.6v13.9h-14.6zM1183.2 1052.5h14.6v13.9h-14.6zM1197.7 1392.2h14.6v13.9h-14.6zM1197.7 1324.2h14.6v13.9h-14.6zM1212.2 1215.5h14.6v13.9h-14.6zM1241.3 1813.4h14.6v13.9h-14.6zM1255.8 1283.5h14.6v13.9h-14.6zM1255.8 1106.8h14.6v13.9h-14.6zM1270.3 1337.8h14.6v13.9h-14.6zM1299.3 1609.6h14.6v13.9h-14.6zM1299.3 1555.3h14.6v13.9h-14.6zM1299.3 1528.1h14.6v13.9h-14.6zM1299.3 1337.8h14.6v13.9h-14.6zM1313.8 1269.9h14.6v13.9h-14.6zM1357.4 1283.5h14.6v13.9h-14.6zM1371.9 1310.7h14.6v13.9h-14.6zM1386.4 1201.9h14.6v13.9h-14.6zM1444.5 1664.0h14.6v13.9h-14.6zM1589.6 1704.7h14.6v13.9h-14.6zM1589.6 1636.8h14.6v13.9h-14.6z"/>
<path fill="#29387f" d="M370.4 1433.0h14.6v13.9h-14.6zM384.9 1392.2h14.6v13.9h-14.6zM384.9 984.5h14.6v13.9h-14.6zM399.4 1025.3h14.6v13.9h-14.6zM413.9 1922.2h14.6v13.9h-14.6zM413.9 1378.6h14.6v13.9h-14.6zM428.4 1405.8h14.6v13.9h-14.6zM442.9 1962.9h14.6v13.9h-14.6zM457.5 1813.4h14.6v13.9h-14.6zM486.5 970.9h14.6v13.9h-14.6zM501.0 1786.3h14.6v13.9h-14.6zM515.5 1976.5h14.6v13.9h-14.6zM515.5 1623.2h14.6v13.9h-14.6zM544.5 1650.4h14.6v13.9h-14.6zM588.1 1011.7h14.6v13.9h-14.6zM588.1 984.5h14.6v13.9h-14.6zM602.6 984.5h14.6v13.9h-14.6zM660.7 984.5h14.6v13.9h-14.6zM675.2 1174.8h14.6v13.9h-14.6zM733.2 1731.9h14.6v13.9h-14.6zM747.8 1052.5h14.6v13.9h-14.6zM762.3 875.8h14.6v13.9h-14.6zM776.8 957.3h14.6v13.9h-14.6zM820.3 998.1h14.6v13.9h-14.6zM863.9 1161.2h14.6v13.9h-14.6zM863.9 1066.1h14.6v13.9h-14.6zM892.9 1745.5h14.6v13.9h-14.6zM892.9 821.5h14.6v13.9h-14.6zM936.5 1147.6h14.6v13.9h-14.6zM965.5 1052.5h14.6v13.9h-14.6zM965.5 875.8h14.6v13.9h-14.6zM980.0 1568.8h14.6v13.9h-14.6zM980.0 1337.8h14.6v13.9h-14.6zM980.0 984.5h14.6v13.9h-14.6zM980.0 889.4h14.6v13.9h-14.6zM994.5 1772.7h14.6v13.9h-14.6zM994.5 1161.2h14.6v13.9h-14.6zM994.5 1134.0h14.6v13.9h-14.6zM994.5 1106.8h14.6v13.9h-14.6zM994.5 984.5h14.6v13.9h-14.6zM1009.0 1161.2h14.6v13.9h-14.6zM1009.0 1025.3h14.6v13.9h-14.6zM1009.0 957.3h14.6v13.9h-14.6zM1023.5 1215.5h14.6v13.9h-14.6zM1023.5 1038.9h14.6v13.9h-14.6zM1052.6 1052.5h14.6v13.9h-14.6zM1067.1 1161.2h14.6v13.9h-14.6zM1081.6 1283.5h14.6v13.9h-14.6zM1125.1 1269.9h14.6v13.9h-14.6zM1139.7 1066.1h14.6v13.9h-14.6zM1154.2 1011.7h14.6v13.9h-14.6zM1168.7 1297.1h14.6v13.9h-14.6zM1168.7 1269.9h14.6v13.9h-14.6zM1168.7 1079.6h14.6v13.9h-14.6zM1183.2 1310.7h14.6v13.9h-14.6zM1197.7 1555.3h14.6v13.9h-14.6zM1197.7 1365.0h14.6v13.9h-14.6zM1226.8 1351.4h14.6v13.9h-14.6zM1226.8 1215.5h14.6v13.9h-14.6zM1226.8 1201.9h14.6v13.9h-14.6zM1226.8 1161.2h14.6v13.9h-14.6zM1241.3 1324.2h14.6v13.9h-14.6zM1270.3 1269.9h14.6v13.9h-14.6zM1284.8 1242.7h14.6v13.9h-14.6zM1299.3 1283.5h14.6v13.9h-14.6zM1313.8 1433.0h14.6v13.9h-14.6zM1328.4 1433.0h14.6v13.9h-14.6zM1328.4 1337.8h14.6v13.9h-14.6zM1342.9 1392.2h14.6v13.9h-14.6zM1342.9 1337.8h14.6v13.9h-14.6zM1357.4 1650.4h14.6v13.9h-14.6zM1400.9 1365.0h14.6v13.9h-14.6zM1400.9 1134.0h14.6v13.9h-14.6zM1502.5 1799.9h14.6v13.9h-14.6z"/>
<path fill="#24397d" d="M384.9 1541.7h14.6v13.9h-14.6zM399.4 1609.6h14.6v13.9h-14.6zM399.4 1487.3h14.6v13.9h-14.6zM442.9 1460.1h14.6v13.9h-14.6zM442.9 1011.7h14.6v13.9h-14.6zM457.5 1677.6h14.6v13.9h-14.6zM472.0 1473.7h14.6v13.9h-14.6zM501.0 835.0h14.6v13.9h-14.6zM588.1 1052.5h14.6v13.9h-14.6zM588.1 1038.9h14.6v13.9h-14.6zM588.1 916.6h14.6v13.9h-14.6zM631.6 1079.6h14.6v13.9h-14.6zM646.1 1949.3h14.6v13.9h-14.6zM646.1 943.8h14.6v13.9h-14.6zM689.7 1106.8h14.6v13.9h-14.6zM704.2 1786.3h14.6v13.9h-14.6zM704.2 1052.5h14.6v13.9h-14.6zM718.7 1052.5h14.6v13.9h-14.6zM733.2 1854.2h14.6v13.9h-14.6zM747.8 1093.2h14.6v13.9h-14.6zM747.8 984.5h14.6v13.9h-14.6zM747.8 903.0h14.6v13.9h-14.6zM791.3 1038.9h14.6v13.9h-14.6zM805.8 1664.0h14.6v13.9h-14.6zM805.8 957.3h14.6v13.9h-14.6zM834.8 1297.1h14.6v13.9h-14.6zM863.9 1582.4h14.6v13.9h-14.6zM863.9 1025.3h14.6v13.9h-14.6zM863.9 970.9h14.6v13.9h-14.6zM878.4 1066.1h14.6v13.9h-14.6zM892.9 1840.6h14.6v13.9h-14.6zM907.4 1854.2h14.6v13.9h-14.6zM907.4 1052.5h14.6v13.9h-14.6zM936.5 930.2h14.6v13.9h-14.6zM965.5 957.3h14.6v13.9h-14.6zM980.0 1120.4h14.6v13.9h-14.6zM980.0 1079.6h14.6v13.9h-14.6zM994.5 1731.9h14.6v13.9h-14.6zM994.5 1093.2h14.6v13.9h-14.6zM1009.0 970.9h14.6v13.9h-14.6zM1038.1 1283.5h14.6v13.9h-14.6zM1038.1 1174.8h14.6v13.9h-14.6zM1052.6 1718.3h14.6v13.9h-14.6zM1067.1 1731.9h14.6v13.9h-14.6zM1067.1 1324.2h14.6v13.9h-14.6zM1081.6 1405.8h14.6v13.9h-14.6zM1096.1 1487.3h14.6v13.9h-14.6zM1110.6 1052.5h14.6v13.9h-14.6zM1125.1 1650.4h14.6v13.9h-14.6zM1125.1 1242.7h14.6v13.9h-14.6zM1139.7 1392.2h14.6v13.9h-14.6zM1139.7 1310.7h14.6v13.9h-14.6zM1168.7 1310.7h14.6v13.9h-14.6zM1168.7 1147.6h14.6v13.9h-14.6zM1183.2 1365.0h14.6v13.9h-14.6zM1212.2 1174.8h14.6v13.9h-14.6zM1226.8 1528.1h14.6v13.9h-14.6zM1226.8 1473.7h14.6v13.9h-14.6zM1241.3 1487.3h14.6v13.9h-14.6zM1241.3 1106.8h14.6v13.9h-14.6zM1255.8 1242.7h14.6v13.9h-14.6zM1270.3 1378.6h14.6v13.9h-14.6zM1299.3 1392.2h14.6v13.9h-14.6zM1299.3 1174.8h14.6v13.9h-14.6zM1313.8 1256.3h14.6v13.9h-14.6zM1328.4 998.1h14.6v13.9h-14.6zM1342.9 1201.9h14.6v13.9h-14.6zM1342.9 1188.4h14.6v13.9h-14.6zM1371.9 1446.5h14.6v13.9h-14.6zM1371.9 1433.0h14.6v13.9h-14.6zM1371.9 970.9h14.6v13.9h-14.6zM1386.4 1854.2h14.6v13.9h-14.6zM1400.9 1188.4h14.6v13.9h-14.6zM1444.5 1120.4h14.6v13.9h-14.6z"/>
<path fill="#1f397b" d="M355.9 1623.2h14.6v13.9h-14.6zM355.9 1269.9h14.6v13.9h-14.6zM370.4 1636.8h14.6v13.9h-14.6zM384.9 1528.1h14.6v13.9h-14.6zM399.4 1623.2h14.6v13.9h-14.6zM399.4 943.8h14.6v13.9h-14.6zM413.9 1704.7h14.6v13.9h-14.6zM413.9 1691.1h14.6v13.9h-14.6zM428.4 1827.0h14.6v13.9h-14.6zM428.4 1772.7h14.6v13.9h-14.6zM428.4 1038.9h14.6v13.9h-14.6zM472.0 1962.9h14.6v13.9h-14.6zM486.5 1731.9h14.6v13.9h-14.6zM501.0 1827.0h14.6v13.9h-14.6zM501.0 1582.4h14.6v13.9h-14.6zM501.0 903.0h14.6v13.9h-14.6zM544.5 1759.1h14.6v13.9h-14.6zM559.1 1365.0h14.6v13.9h-14.6zM573.6 1596.0h14.6v13.9h-14.6zM573.6 916.6h14.6v13.9h-14.6zM588.1 1433.0h14.6v13.9h-14.6zM617.1 1908.6h14.6v13.9h-14.6zM631.6 1052.5h14.6v13.9h-14.6zM660.7 1106.8h14.6v13.9h-14.6zM675.2 1908.6h14.6v13.9h-14.6zM675.2 1799.9h14.6v13.9h-14.6zM689.7 848.6h14.6v13.9h-14.6zM704.2 1813.4h14.6v13.9h-14.6zM704.2 1704.7h14.6v13.9h-14.6zM704.2 998.1h14.6v13.9h-14.6zM733.2 930.2h14.6v13.9h-14.6zM747.8 1568.8h14.6v13.9h-14.6zM747.8 1188.4h14.6v13.9h-14.6zM747.8 1079.6h14.6v13.9h-14.6zM762.3 1541.7h14.6v13.9h-14.6zM762.3 1106.8h14.6v13.9h-14.6zM762.3 998.1h14.6v13.9h-14.6zM776.8 1827.0h14.6v13.9h-14.6zM776.8 1731.9h14.6v13.9h-14.6zM776.8 1147.6h14.6v13.9h-14.6zM791.3 1664.0h14.6v13.9h-14.6zM805.8 1827.0h14.6v13.9h-14.6zM805.8 1745.5h14.6v13.9h-14.6zM805.8 1134.0h14.6v13.9h-14.6zM805.8 1106.8h14.6v13.9h-14.6zM820.3 1147.6h14.6v13.9h-14.6zM820.3 984.5h14.6v13.9h-14.6zM834.8 970.9h14.6v13.9h-14.6zM849.4 984.5h14.6v13.9h-14.6zM849.4 875.8h14.6v13.9h-14.6zM863.9 1147.6h14.6v13.9h-14.6zM863.9 1120.4h14.6v13.9h-14.6zM892.9 1704.7h14.6v13.9h-14.6zM892.9 916.6h14.6v13.9h-14.6zM907.4 1745.5h14.6v13.9h-14.6zM907.4 943.8h14.6v13.9h-14.6zM921.9 1256.3h14.6v13.9h-14.6zM921.9 1161.2h14.6v13.9h-14.6zM936.5 1623.2h14.6v13.9h-14.6zM936.5 1093.2h14.6v13.9h-14.6zM951.0 1147.6h14.6v13.9h-14.6zM951.0 1066.1h14.6v13.9h-14.6zM965.5 1541.7h14.6v13.9h-14.6zM980.0 1106.8h14.6v13.9h-14.6zM980.0 1011.7h14.6v13.9h-14.6zM994.5 998.1h14.6v13.9h-14.6zM1009.0 1636.8h14.6v13.9h-14.6zM1009.0 1487.3h14.6v13.9h-14.6zM1009.0 1378.6h14.6v13.9h-14.6zM1009.0 1337.8h14.6v13.9h-14.6zM1009.0 1229.1h14.6v13.9h-14.6zM1009.0 1066.1h14.6v13.9h-14.6zM1023.5 1337.8h14.6v13.9h-14.6zM1023.5 1106.8h14.6v13.9h-14.6zM1038.1 1718.3h14.6v13.9h-14.6zM1038.1 1324.2h14.6v13.9h-14.6zM1052.6 1528.1h14.6v13.9h-14.6zM1052.6 1174.8h14.6v13.9h-14.6zM1052.6 984.5h14.6v13.9h-14.6zM1067.1 1337.8h14.6v13.9h-14.6zM1081.6 1460.1h14.6v13.9h-14.6zM1081.6 1446.5h14.6v13.9h-14.6zM1081.6 1351.4h14.6v13.9h-14.6zM1110.6 1405.8h14.6v13.9h-14.6zM1139.7 1650.4h14.6v13.9h-14.6zM1139.7 1378.6h14.6v13.9h-14.6zM1139.7 1324.2h14.6v13.9h-14.6zM1139.7 1215.5h14.6v13.9h-14.6zM1154.2 1609.6h14.6v13.9h-14.6zM1154.2 1433.0h14.6v13.9h-14.6zM1154.2 1079.6h14.6v13.9h-14.6zM1168.7 1283.5h14.6v13.9h-14.6zM1183.2 1419.4h14.6v13.9h-14.6zM1183.2 1351.4h14.6v13.9h-14.6zM1197.7 1188.4h14.6v13.9h-14.6zM1197.7 970.9h14.6v13.9h-14.6zM1212.2 1283.5h14.6v13.9h-14.6zM1226.8 1297.1h14.6v13.9h-14.6zM1226.8 1174.8h14.6v13.9h-14.6zM1241.3 1365.0h14.6v13.9h-14.6zM1241.3 1201.9h14.6v13.9h-14.6zM1255.8 1188.4h14.6v13.9h-14.6zM1284.8 1120.4h14.6v13.9h-14.6zM1313.8 1446.5h14.6v13.9h-14.6zM1328.4 1174.8h14.6v13.9h-14.6zM1342.9 1677.6h14.6v13.9h-14.6zM1342.9 1365.0h14.6v13.9h-14.6zM1342.9 1324.2h14.6v13.9h-14.6zM1357.4 1256.3h14.6v13.9h-14.6zM1371.9 1188.4h14.6v13.9h-14.6zM1400.9 1528.1h14.6v13.9h-14.6zM1415.4 1541.7h14.6v13.9h-14.6zM1473.5 1161.2h14.6v13.9h-14.6z"/>
<path fill="#1a3a79" d="M355.9 1636.8h14.6v13.9h-14.6zM370.4 1514.5h14.6v13.9h-14.6zM370.4 1201.9h14.6v13.9h-14.6zM384.9 1419.4h14.6v13.9h-14.6zM384.9 1066.1h14.6v13.9h-14.6zM399.4 1840.6h14.6v13.9h-14.6zM399.4 1528.1h14.6v13.9h-14.6zM413.9 1147.6h14.6v13.9h-14.6zM442.9 1596.0h14.6v13.9h-14.6zM442.9 1433.0h14.6v13.9h-14.6zM457.5 1596.0h14.6v13.9h-14.6zM457.5 862.2h14.6v13.9h-14.6zM472.0 1528.1h14.6v13.9h-14.6zM486.5 1745.5h14.6v13.9h-14.6zM486.5 1392.2h14.6v13.9h-14.6zM486.5 1229.1h14.6v13.9h-14.6zM501.0 1990.1h14.6v13.9h-14.6zM501.0 1596.0h14.6v13.9h-14.6zM515.5 1025.3h14.6v13.9h-14.6zM530.0 1745.5h14.6v13.9h-14.6zM530.0 1473.7h14.6v13.9h-14.6zM530.0 998.1h14.6v13.9h-14.6zM559.1 1310.7h14.6v13.9h-14.6zM559.1 835.0h14.6v13.9h-14.6zM573.6 984.5h14.6v13.9h-14.6zM588.1 1636.8h14.6v13.9h-14.6zM602.6 1242.7h14.6v13.9h-14.6zM617.1 1677.6h14.6v13.9h-14.6zM631.6 780.7h14.6v13.9h-14.6zM646.1 1106.8h14.6v13.9h-14.6zM646.1 1038.9h14.6v13.9h-14.6zM660.7 1093.2h14.6v13.9h-14.6zM675.2 1378.6h14.6v13.9h-14.6zM675.2 1188.4h14.6v13.9h-14.6zM689.7 1745.5h14.6v13.9h-14.6zM689.7 1337.8h14.6v13.9h-14.6zM704.2 1242.7h14.6v13.9h-14.6zM704.2 1188.4h14.6v13.9h-14.6zM704.2 1066.1h14.6v13.9h-14.6zM704.2 957.3h14.6v13.9h-14.6zM704.2 930.2h14.6v13.9h-14.6zM718.7 1691.1h14.6v13.9h-14.6zM718.7 1038.9h14.6v13.9h-14.6zM718.7 916.6h14.6v13.9h-14.6zM747.8 1718.3h14.6v13.9h-14.6zM747.8 1636.8h14.6v13.9h-14.6zM747.8 1242.7h14.6v13.9h-14.6zM747.8 1134.0h14.6v13.9h-14.6zM776.8 1623.2h14.6v13.9h-14.6zM776.8 1120.4h14.6v13.9h-14.6zM791.3 1582.4h14.6v13.9h-14.6zM791.3 1378.6h14.6v13.9h-14.6zM791.3 1147.6h14.6v13.9h-14.6zM820.3 2044.5h14.6v13.9h-14.6zM820.3 1310.7h14.6v13.9h-14.6zM834.8 1636.8h14.6v13.9h-14.6zM834.8 1541.7h14.6v13.9h-14.6zM834.8 1405.8h14.6v13.9h-14.6zM849.4 1555.3h14.6v13.9h-14.6zM849.4 1460.1h14.6v13.9h-14.6zM849.4 1283.5h14.6v13.9h-14.6zM849.4 1038.9h14.6v13.9h-14.6zM863.9 1269.9h14.6v13.9h-14.6zM863.9 1174.8h14.6v13.9h-14.6zM863.9 1093.2h14.6v13.9h-14.6zM863.9 943.8h14.6v13.9h-14.6zM878.4 1623.2h14.6v13.9h-14.6zM878.4 1528.1h14.6v13.9h-14.6zM892.9 1365.0h14.6v13.9h-14.6zM892.9 807.9h14.6v13.9h-14.6zM907.4 1229.1h14.6v13.9h-14.6zM907.4 1134.0h14.6v13.9h-14.6zM907.4 1038.9h14.6v13.9h-14.6zM907.4 998.1h14.6v13.9h-14.6zM921.9 1120.4h14.6v13.9h-14.6zM936.5 1460.1h14.6v13.9h-14.6zM936.5 1134.0h14.6v13.9h-14.6zM951.0 1691.1h14.6v13.9h-14.6zM951.0 1636.8h14.6v13.9h-14.6zM951.0 1269.9h14.6v13.9h-14.6zM951.0 903.0h14.6v13.9h-14.6zM965.5 1691.1h14.6v13.9h-14.6zM965.5 1038.9h14.6v13.9h-14.6zM980.0 1609.6h14.6v13.9h-14.6zM980.0 1201.9h14.6v13.9h-14.6zM980.0 1038.9h14.6v13.9h-14.6zM994.5 1636.8h14.6v13.9h-14.6zM994.5 1269.9h14.6v13.9h-14.6zM994.5 1011.7h14.6v13.9h-14.6zM1009.0 1582.4h14.6v13.9h-14.6zM1009.0 1473.7h14.6v13.9h-14.6zM1009.0 1324.2h14.6v13.9h-14.6zM1009.0 1106.8h14.6v13.9h-14.6zM1009.0 1011.7h14.6v13.9h-14.6zM1009.0 835.0h14.6v13.9h-14.6zM1023.5 1297.1h14.6v13.9h-14.6zM1023.5 1201.9h14.6v13.9h-14.6zM1023.5 862.2h14.6v13.9h-14.6zM1038.1 1623.2h14.6v13.9h-14.6zM1038.1 1052.5h14.6v13.9h-14.6zM1052.6 1922.2h14.6v13.9h-14.6zM1052.6 1487.3h14.6v13.9h-14.6zM1052.6 1405.8h14.6v13.9h-14.6zM1052.6 1201.9h14.6v13.9h-14.6zM1052.6 1120.4h14.6v13.9h-14.6zM1067.1 1392.2h14.6v13.9h-14.6zM1067.1 1297.1h14.6v13.9h-14.6zM1067.1 1106.8h14.6v13.9h-14.6zM1081.6 1419.4h14.6v13.9h-14.6zM1081.6 1378.6h14.6v13.9h-14.6zM1081.6 1324.2h14.6v13.9h-14.6zM1081.6 1310.7h14.6v13.9h-14.6zM1096.1 1201.9h14.6v13.9h-14.6zM1096.1 1188.4h14.6v13.9h-14.6zM1096.1 1147.6h14.6v13.9h-14.6zM1096.1 1134.0h14.6v13.9h-14.6zM1096.1 1106.8h14.6v13.9h-14.6zM1110.6 1487.3h14.6v13.9h-14.6zM1125.1 1962.9h14.6v13.9h-14.6zM1125.1 1514.5h14.6v13.9h-14.6zM1139.7 1772.7h14.6v13.9h-14.6zM1139.7 1718.3h14.6v13.9h-14.6zM1139.7 1514.5h14.6v13.9h-14.6zM1139.7 1405.8h14.6v13.9h-14.6zM1139.7 1365.0h14.6v13.9h-14.6zM1139.7 1242.7h14.6v13.9h-14.6zM1154.2 1242.7h14.6v13.9h-14.6zM1154.2 1147.6h14.6v13.9h-14.6zM1168.7 1677.6h14.6v13.9h-14.6zM1168.7 1161.2h14.6v13.9h-14.6zM1183.2 1568.8h14.6v13.9h-14.6zM1183.2 1433.0h14.6v13.9h-14.6zM1183.2 1147.6h14.6v13.9h-14.6zM1183.2 1025.3h14.6v13.9h-14.6zM1197.7 1229.1h14.6v13.9h-14.6zM1197.7 1174.8h14.6v13.9h-14.6zM1212.2 1664.0h14.6v13.9h-14.6zM1212.2 1500.9h14.6v13.9h-14.6zM1212.2 1011.7h14.6v13.9h-14.6zM1212.2 984.5h14.6v13.9h-14.6zM1226.8 1419.4h14.6v13.9h-14.6zM1226.8 1378.6h14.6v13.9h-14.6zM1241.3 1120.4h14.6v13.9h-14.6zM1241.3 1066.1h14.6v13.9h-14.6zM1255.8 1759.1h14.6v13.9h-14.6zM1255.8 1718.3h14.6v13.9h-14.6zM1255.8 1365.0h14.6v13.9h-14.6zM1255.8 1337.8h14.6v13.9h-14.6zM1270.3 1310.7h14.6v13.9h-14.6zM1270.3 1188.4h14.6v13.9h-14.6zM1299.3 1541.7h14.6v13.9h-14.6zM1313.8 1093.2h14.6v13.9h-14.6zM1328.4 1310.7h14.6v13.9h-14.6zM1328.4 1147.6h14.6v13.9h-14.6zM1328.4 1052.5h14.6v13.9h-14.6zM1342.9 1242.7h14.6v13.9h-14.6zM1386.4 1514.5h14.6v13.9h-14.6zM1386.4 1392.2h14.6v13.9h-14.6zM1400.9 1378.6h14.6v13.9h-14.6zM1415.4 1514.5h14.6v13.9h-14.6zM1415.4 1324.2h14.6v13.9h-14.6zM1430.0 1487.3h14.6v13.9h-14.6zM1430.0 1229.1h14.6v13.9h-14.6z"/>
<path fill="#153a77" d="M355.9 1500.9h14.6v13.9h-14.6zM355.9 1460.1h14.6v13.9h-14.6zM355.9 1242.7h14.6v13.9h-14.6zM355.9 1106.8h14.6v13.9h-14.6zM370.4 1677.6h14.6v13.9h-14.6zM384.9 1405.8h14.6v13.9h-14.6zM384.9 1283.5h14.6v13.9h-14.6zM384.9 970.9h14.6v13.9h-14.6zM399.4 1759.1h14.6v13.9h-14.6zM399.4 1745.5h14.6v13.9h-14.6zM399.4 1582.4h14.6v13.9h-14.6zM399.4 1405.8h14.6v13.9h-14.6zM413.9 1541.7h14.6v13.9h-14.6zM413.9 1365.0h14.6v13.9h-14.6zM428.4 1664.0h14.6v13.9h-14.6zM428.4 1256.3h14.6v13.9h-14.6zM442.9 1772.7h14.6v13.9h-14.6zM442.9 1731.9h14.6v13.9h-14.6zM457.5 1623.2h14.6v13.9h-14.6zM457.5 1609.6h14.6v13.9h-14.6zM486.5 1541.7h14.6v13.9h-14.6zM486.5 1093.2h14.6v13.9h-14.6zM501.0 1908.6h14.6v13.9h-14.6zM501.0 1609.6h14.6v13.9h-14.6zM515.5 1745.5h14.6v13.9h-14.6zM515.5 1650.4h14.6v13.9h-14.6zM515.5 1528.1h14.6v13.9h-14.6zM515.5 1079.6h14.6v13.9h-14.6zM530.0 1759.1h14.6v13.9h-14.6zM530.0 1433.0h14.6v13.9h-14.6zM530.0 984.5h14.6v13.9h-14.6zM530.0 889.4h14.6v13.9h-14.6zM530.0 821.5h14.6v13.9h-14.6zM544.5 1745.5h14.6v13.9h-14.6zM544.5 1568.8h14.6v13.9h-14.6zM559.1 970.9h14.6v13.9h-14.6zM573.6 1460.1h14.6v13.9h-14.6zM573.6 1297.1h14.6v13.9h-14.6zM588.1 1093.2h14.6v13.9h-14.6zM602.6 1038.9h14.6v13.9h-14.6zM617.1 1881.4h14.6v13.9h-14.6zM617.1 1568.8h14.6v13.9h-14.6zM631.6 1840.6h14.6v13.9h-14.6zM631.6 1623.2h14.6v13.9h-14.6zM631.6 1093.2h14.6v13.9h-14.6zM631.6 1025.3h14.6v13.9h-14.6zM631.6 943.8h14.6v13.9h-14.6zM646.1 1568.8h14.6v13.9h-14.6zM646.1 1297.1h14.6v13.9h-14.6zM646.1 1079.6h14.6v13.9h-14.6zM646.1 1025.3h14.6v13.9h-14.6zM660.7 1392.2h14.6v13.9h-14.6zM660.7 1283.5h14.6v13.9h-14.6zM675.2 1759.1h14.6v13.9h-14.6zM675.2 875.8h14.6v13.9h-14.6zM689.7 1351.4h14.6v13.9h-14.6zM689.7 1025.3h14.6v13.9h-14.6zM704.2 1134.0h14.6v13.9h-14.6zM704.2 1079.6h14.6v13.9h-14.6zM718.7 1677.6h14.6v13.9h-14.6zM718.7 1147.6h14.6v13.9h-14.6zM747.8 1854.2h14.6v13.9h-14.6zM747.8 1596.0h14.6v13.9h-14.6zM747.8 1487.3h14.6v13.9h-14.6zM747.8 1025.3h14.6v13.9h-14.6zM762.3 1582.4h14.6v13.9h-14.6zM762.3 1500.9h14.6v13.9h-14.6zM762.3 1174.8h14.6v13.9h-14.6zM762.3 943.8h14.6v13.9h-14.6zM776.8 1093.2h14.6v13.9h-14.6zM791.3 1704.7h14.6v13.9h-14.6zM791.3 1297.1h14.6v13.9h-14.6zM791.3 1106.8h14.6v13.9h-14.6zM791.3 1025.3h14.6v13.9h-14.6zM791.3 943.8h14.6v13.9h-14.6zM805.8 1324.2h14.6v13.9h-14.6zM805.8 1161.2h14.6v13.9h-14.6zM820.3 1718.3h14.6v13.9h-14.6zM820.3 1541.7h14.6v13.9h-14.6zM820.3 1201.9h14.6v13.9h-14.6zM820.3 1161.2h14.6v13.9h-14.6zM834.8 1568.8h14.6v13.9h-14.6zM834.8 1188.4h14.6v13.9h-14.6zM834.8 1134.0h14.6v13.9h-14.6zM834.8 1093.2h14.6v13.9h-14.6zM849.4 1704.7h14.6v13.9h-14.6zM849.4 1623.2h14.6v13.9h-14.6zM849.4 1378.6h14.6v13.9h-14.6zM849.4 1106.8h14.6v13.9h-14.6zM849.4 903.0h14.6v13.9h-14.6zM878.4 1840.6h14.6v13.9h-14.6zM878.4 1609.6h14.6v13.9h-14.6zM878.4 1201.9h14.6v13.9h-14.6zM892.9 1473.7h14.6v13.9h-14.6zM892.9 1256.3h14.6v13.9h-14.6zM892.9 1079.6h14.6v13.9h-14.6zM892.9 1052.5h14.6v13.9h-14.6zM892.9 1011.7h14.6v13.9h-14.6zM907.4 1609.6h14.6v13.9h-14.6zM907.4 1596.0h14.6v13.9h-14.6zM907.4 1188.4h14.6v13.9h-14.6zM907.4 957.3h14.6v13.9h-14.6zM921.9 1596.0h14.6v13.9h-14.6zM921.9 1528.1h14.6v13.9h-14.6zM921.9 1201.9h14.6v13.9h-14.6zM921.9 1134.0h14.6v13.9h-14.6zM921.9 1093.2h14.6v13.9h-14.6zM921.9 1011.7h14.6v13.9h-14.6zM936.5 1582.4h14.6v13.9h-14.6zM936.5 998.1h14.6v13.9h-14.6zM936.5 984.5h14.6v13.9h-14.6zM951.0 1568.8h14.6v13.9h-14.6zM951.0 1473.7h14.6v13.9h-14.6zM951.0 1433.0h14.6v13.9h-14.6zM965.5 1596.0h14.6v13.9h-14.6zM965.5 1337.8h14.6v13.9h-14.6zM965.5 1066.1h14.6v13.9h-14.6zM980.0 1745.5h14.6v13.9h-14.6zM980.0 1446.5h14.6v13.9h-14.6zM980.0 1256.3h14.6v13.9h-14.6zM994.5 1351.4h14.6v13.9h-14.6zM994.5 943.8h14.6v13.9h-14.6zM1009.0 1446.5h14.6v13.9h-14.6zM1023.5 1596.0h14.6v13.9h-14.6zM1023.5 1283.5h14.6v13.9h-14.6zM1023.5 1269.9h14.6v13.9h-14.6zM1023.5 1188.4h14.6v13.9h-14.6zM1038.1 1568.8h14.6v13.9h-14.6zM1038.1 1310.7h14.6v13.9h-14.6zM1038.1 1269.9h14.6v13.9h-14.6zM1038.1 970.9h14.6v13.9h-14.6zM1052.6 1704.7h14.6v13.9h-14.6zM1052.6 1446.5h14.6v13.9h-14.6zM1052.6 1378.6h14.6v13.9h-14.6zM1052.6 1256.3h14.6v13.9h-14.6zM1052.6 1147.6h14.6v13.9h-14.6zM1067.1 1704.7h14.6v13.9h-14.6zM1067.1 1120.4h14.6v13.9h-14.6zM1067.1 930.2h14.6v13.9h-14.6zM1067.1 848.6h14.6v13.9h-14.6zM1081.6 1134.0h14.6v13.9h-14.6zM1096.1 1433.0h14.6v13.9h-14.6zM1096.1 1392.2h14.6v13.9h-14.6zM1096.1 1324.2h14.6v13.9h-14.6zM1096.1 1120.4h14.6v13.9h-14.6zM1110.6 1636.8h14.6v13.9h-14.6zM1110.6 1623.2h14.6v13.9h-14.6zM1110.6 1555.3h14.6v13.9h-14.6zM1110.6 1365.0h14.6v13.9h-14.6zM1125.1 1541.7h14.6v13.9h-14.6zM1125.1 1324.2h14.6v13.9h-14.6zM1125.1 1297.1h14.6v13.9h-14.6zM1125.1 1147.6h14.6v13.9h-14.6zM1139.7 1473.7h14.6v13.9h-14.6zM1139.7 1419.4h14.6v13.9h-14.6zM1139.7 998.1h14.6v13.9h-14.6zM1154.2 1392.2h14.6v13.9h-14.6zM1154.2 1256.3h14.6v13.9h-14.6zM1168.7 1487.3h14.6v13.9h-14.6zM1168.7 1446.5h14.6v13.9h-14.6zM1197.7 1691.1h14.6v13.9h-14.6zM1197.7 1541.7h14.6v13.9h-14.6zM1197.7 1528.1h14.6v13.9h-14.6zM1197.7 1433.0h14.6v13.9h-14.6zM1212.2 1378.6h14.6v13.9h-14.6zM1212.2 1161.2h14.6v13.9h-14.6zM1212.2 1120.4h14.6v13.9h-14.6zM1270.3 1487.3h14.6v13.9h-14.6zM1270.3 1134.0h14.6v13.9h-14.6zM1328.4 1392.2h14.6v13.9h-14.6zM1342.9 1487.3h14.6v13.9h-14.6zM1342.9 1446.5h14.6v13.9h-14.6zM1342.9 1378.6h14.6v13.9h-14.6zM1342.9 1310.7h14.6v13.9h-14.6zM1357.4 970.9h14.6v13.9h-14.6zM1400.9 1473.7h14.6v13.9h-14.6zM1400.9 1419.4h14.6v13.9h-14.6zM1430.0 1473.7h14.6v13.9h-14.6zM1459.0 984.5h14.6v13.9h-14.6z"/>
<path fill="#103b74" d="M355.9 1365.0h14.6v13.9h-14.6zM355.9 1161.2h14.6v13.9h-14.6zM370.4 1324.2h14.6v13.9h-14.6zM370.4 1269.9h14.6v13.9h-14.6zM384.9 1161.2h14.6v13.9h-14.6zM399.4 1568.8h14.6v13.9h-14.6zM399.4 1541.7h14.6v13.9h-14.6zM399.4 1392.2h14.6v13.9h-14.6zM413.9 1623.2h14.6v13.9h-14.6zM413.9 1596.0h14.6v13.9h-14.6zM413.9 1555.3h14.6v13.9h-14.6zM413.9 1500.9h14.6v13.9h-14.6zM413.9 1337.8h14.6v13.9h-14.6zM413.9 1324.2h14.6v13.9h-14.6zM428.4 1500.9h14.6v13.9h-14.6zM428.4 1473.7h14.6v13.9h-14.6zM428.4 1392.2h14.6v13.9h-14.6zM442.9 1854.2h14.6v13.9h-14.6zM442.9 1500.9h14.6v13.9h-14.6zM442.9 1487.3h14.6v13.9h-14.6zM442.9 1446.5h14.6v13.9h-14.6zM457.5 1650.4h14.6v13.9h-14.6zM457.5 1433.0h14.6v13.9h-14.6zM457.5 1337.8h14.6v13.9h-14.6zM472.0 1650.4h14.6v13.9h-14.6zM472.0 1514.5h14.6v13.9h-14.6zM472.0 875.8h14.6v13.9h-14.6zM486.5 1691.1h14.6v13.9h-14.6zM486.5 1664.0h14.6v13.9h-14.6zM486.5 1568.8h14.6v13.9h-14.6zM486.5 1297.1h14.6v13.9h-14.6zM501.0 1799.9h14.6v13.9h-14.6zM501.0 1691.1h14.6v13.9h-14.6zM501.0 1555.3h14.6v13.9h-14.6zM501.0 1351.4h14.6v13.9h-14.6zM501.0 1052.5h14.6v13.9h-14.6zM501.0 943.8h14.6v13.9h-14.6zM501.0 916.6h14.6v13.9h-14.6zM501.0 848.6h14.6v13.9h-14.6zM515.5 1677.6h14.6v13.9h-14.6zM515.5 1297.1h14.6v13.9h-14.6zM530.0 1609.6h14.6v13.9h-14.6zM530.0 1582.4h14.6v13.9h-14.6zM530.0 1378.6h14.6v13.9h-14.6zM544.5 1623.2h14.6v13.9h-14.6zM544.5 1487.3h14.6v13.9h-14.6zM544.5 1365.0h14.6v13.9h-14.6zM544.5 1337.8h14.6v13.9h-14.6zM559.1 1718.3h14.6v13.9h-14.6zM559.1 1541.7h14.6v13.9h-14.6zM559.1 943.8h14.6v13.9h-14.6zM588.1 1568.8h14.6v13.9h-14.6zM588.1 970.9h14.6v13.9h-14.6zM602.6 1555.3h14.6v13.9h-14.6zM602.6 1365.0h14.6v13.9h-14.6zM602.6 1120.4h14.6v13.9h-14.6zM617.1 1555.3h14.6v13.9h-14.6zM617.1 1446.5h14.6v13.9h-14.6zM617.1 1433.0h14.6v13.9h-14.6zM617.1 875.8h14.6v13.9h-14.6zM631.6 1691.1h14.6v13.9h-14.6zM631.6 1609.6h14.6v13.9h-14.6zM646.1 1664.0h14.6v13.9h-14.6zM646.1 1269.9h14.6v13.9h-14.6zM660.7 1609.6h14.6v13.9h-14.6zM660.7 1582.4h14.6v13.9h-14.6zM660.7 1555.3h14.6v13.9h-14.6zM660.7 1351.4h14.6v13.9h-14.6zM660.7 1201.9h14.6v13.9h-14.6zM660.7 1147.6h14.6v13.9h-14.6zM660.7 1134.0h14.6v13.9h-14.6zM660.7 1120.4h14.6v13.9h-14.6zM675.2 1745.5h14.6v13.9h-14.6zM675.2 1582.4h14.6v13.9h-14.6zM675.2 1419.4h14.6v13.9h-14.6zM675.2 1242.7h14.6v13.9h-14.6zM689.7 1487.3h14.6v13.9h-14.6zM689.7 1473.7h14.6v13.9h-14.6zM689.7 1297.1h14.6v13.9h-14.6zM689.7 998.1h14.6v13.9h-14.6zM704.2 1895.0h14.6v13.9h-14.6zM704.2 1731.9h14.6v13.9h-14.6zM704.2 1664.0h14.6v13.9h-14.6zM704.2 1528.1h14.6v13.9h-14.6zM704.2 1500.9h14.6v13.9h-14.6zM704.2 1161.2h14.6v13.9h-14.6zM704.2 1106.8h14.6v13.9h-14.6zM718.7 1596.0h14.6v13.9h-14.6zM718.7 1229.1h14.6v13.9h-14.6zM733.2 1759.1h14.6v13.9h-14.6zM733.2 1677.6h14.6v13.9h-14.6zM747.8 1365.0h14.6v13.9h-14.6zM747.8 1161.2h14.6v13.9h-14.6zM762.3 1935.7h14.6v13.9h-14.6zM762.3 1609.6h14.6v13.9h-14.6zM762.3 1079.6h14.6v13.9h-14.6zM762.3 1038.9h14.6v13.9h-14.6zM762.3 970.9h14.6v13.9h-14.6zM776.8 1786.3h14.6v13.9h-14.6zM776.8 1596.0h14.6v13.9h-14.6zM776.8 1378.6h14.6v13.9h-14.6zM776.8 1337.8h14.6v13.9h-14.6zM776.8 970.9h14.6v13.9h-14.6zM791.3 1446.5h14.6v13.9h-14.6zM791.3 1433.0h14.6v13.9h-14.6zM791.3 1392.2h14.6v13.9h-14.6zM791.3 1174.8h14.6v13.9h-14.6zM791.3 957.3h14.6v13.9h-14.6zM805.8 1908.6h14.6v13.9h-14.6zM805.8 1378.6h14.6v13.9h-14.6zM805.8 1337.8h14.6v13.9h-14.6zM805.8 1310.7h14.6v13.9h-14.6zM805.8 1297.1h14.6v13.9h-14.6zM820.3 1609.6h14.6v13.9h-14.6zM820.3 1514.5h14.6v13.9h-14.6zM820.3 1351.4h14.6v13.9h-14.6zM820.3 1324.2h14.6v13.9h-14.6zM820.3 1256.3h14.6v13.9h-14.6zM820.3 1134.0h14.6v13.9h-14.6zM820.3 1093.2h14.6v13.9h-14.6zM820.3 1066.1h14.6v13.9h-14.6zM820.3 1025.3h14.6v13.9h-14.6zM834.8 1881.4h14.6v13.9h-14.6zM834.8 1664.0h14.6v13.9h-14.6zM834.8 1433.0h14.6v13.9h-14.6zM834.8 1256.3h14.6v13.9h-14.6zM834.8 1215.5h14.6v13.9h-14.6zM849.4 1759.1h14.6v13.9h-14.6zM849.4 943.8h14.6v13.9h-14.6zM863.9 1487.3h14.6v13.9h-14.6zM863.9 1433.0h14.6v13.9h-14.6zM863.9 1242.7h14.6v13.9h-14.6zM878.4 1555.3h14.6v13.9h-14.6zM878.4 1500.9h14.6v13.9h-14.6zM878.4 1405.8h14.6v13.9h-14.6zM878.4 1215.5h14.6v13.9h-14.6zM878.4 1161.2h14.6v13.9h-14.6zM892.9 1827.0h14.6v13.9h-14.6zM892.9 1691.1h14.6v13.9h-14.6zM892.9 1650.4h14.6v13.9h-14.6zM892.9 1310.7h14.6v13.9h-14.6zM892.9 1229.1h14.6v13.9h-14.6zM892.9 1147.6h14.6v13.9h-14.6zM907.4 1691.1h14.6v13.9h-14.6zM907.4 1650.4h14.6v13.9h-14.6zM907.4 1568.8h14.6v13.9h-14.6zM907.4 1555.3h14.6v13.9h-14.6zM907.4 1541.7h14.6v13.9h-14.6zM907.4 1528.1h14.6v13.9h-14.6zM907.4 1174.8h14.6v13.9h-14.6zM907.4 1011.7h14.6v13.9h-14.6zM921.9 1718.3h14.6v13.9h-14.6zM921.9 1541.7h14.6v13.9h-14.6zM921.9 1365.0h14.6v13.9h-14.6zM921.9 1269.9h14.6v13.9h-14.6zM921.9 1025.3h14.6v13.9h-14.6zM936.5 1609.6h14.6v13.9h-14.6zM936.5 1446.5h14.6v13.9h-14.6zM936.5 1419.4h14.6v13.9h-14.6zM951.0 1895.0h14.6v13.9h-14.6zM951.0 1514.5h14.6v13.9h-14.6zM951.0 1324.2h14.6v13.9h-14.6zM951.0 1188.4h14.6v13.9h-14.6zM965.5 1419.4h14.6v13.9h-14.6zM965.5 1365.0h14.6v13.9h-14.6zM965.5 1351.4h14.6v13.9h-14.6zM965.5 1324.2h14.6v13.9h-14.6zM965.5 1079.6h14.6v13.9h-14.6zM980.0 1555.3h14.6v13.9h-14.6zM1009.0 1596.0h14.6v13.9h-14.6zM1009.0 1500.9h14.6v13.9h-14.6zM1009.0 1460.1h14.6v13.9h-14.6zM1009.0 1392.2h14.6v13.9h-14.6zM1009.0 1365.0h14.6v13.9h-14.6zM1009.0 1283.5h14.6v13.9h-14.6zM1009.0 1134.0h14.6v13.9h-14.6zM1023.5 1677.6h14.6v13.9h-14.6zM1023.5 1650.4h14.6v13.9h-14.6zM1023.5 1500.9h14.6v13.9h-14.6zM1023.5 1392.2h14.6v13.9h-14.6zM1023.5 1324.2h14.6v13.9h-14.6zM1023.5 1310.7h14.6v13.9h-14.6zM1038.1 1827.0h14.6v13.9h-14.6zM1038.1 1813.4h14.6v13.9h-14.6zM1038.1 1500.9h14.6v13.9h-14.6zM1038.1 1487.3h14.6v13.9h-14.6zM1038.1 1460.1h14.6v13.9h-14.6zM1038.1 1242.7h14.6v13.9h-14.6zM1038.1 1188.4h14.6v13.9h-14.6zM1038.1 1106.8h14.6v13.9h-14.6zM1052.6 1772.7h14.6v13.9h-14.6zM1052.6 1269.9h14.6v13.9h-14.6zM1052.6 1242.7h14.6v13.9h-14.6zM1052.6 1025.3h14.6v13.9h-14.6zM1052.6 1011.7h14.6v13.9h-14.6zM1067.1 1935.7h14.6v13.9h-14.6zM1067.1 1636.8h14.6v13.9h-14.6zM1067.1 1487.3h14.6v13.9h-14.6zM1067.1 1446.5h14.6v13.9h-14.6zM1067.1 1256.3h14.6v13.9h-14.6zM1081.6 1120.4h14.6v13.9h-14.6zM1096.1 1541.7h14.6v13.9h-14.6zM1096.1 1446.5h14.6v13.9h-14.6zM1110.6 1514.5h14.6v13.9h-14.6zM1110.6 1419.4h14.6v13.9h-14.6zM1110.6 1351.4h14.6v13.9h-14.6zM1110.6 1174.8h14.6v13.9h-14.6zM1110.6 1106.8h14.6v13.9h-14.6zM1110.6 835.0h14.6v13.9h-14.6zM1125.1 1134.0h14.6v13.9h-14.6zM1154.2 1664.0h14.6v13.9h-14.6zM1154.2 1473.7h14.6v13.9h-14.6zM1183.2 1623.2h14.6v13.9h-14.6zM1183.2 1256.3h14.6v13.9h-14.6zM1183.2 1229.1h14.6v13.9h-14.6zM1183.2 1215.5h14.6v13.9h-14.6zM1197.7 1582.4h14.6v13.9h-14.6zM1197.7 1405.8h14.6v13.9h-14.6zM1197.7 1242.7h14.6v13.9h-14.6zM1241.3 1188.4h14.6v13.9h-14.6zM1241.3 1161.2h14.6v13.9h-14.6zM1255.8 1582.4h14.6v13.9h-14.6zM1255.8 1419.4h14.6v13.9h-14.6zM1255.8 1297.1h14.6v13.9h-14.6zM1284.8 1664.0h14.6v13.9h-14.6zM1284.8 1174.8h14.6v13.9h-14.6zM1284.8 1106.8h14.6v13.9h-14.6zM1299.3 1242.7h14.6v13.9h-14.6zM1328.4 1188.4h14.6v13.9h-14.6zM1328.4 1079.6h14.6v13.9h-14.6zM1328.4 970.9h14.6v13.9h-14.6zM1342.9 1514.5h14.6v13.9h-14.6zM1357.4 1310.7h14.6v13.9h-14.6zM1371.9 1337.8h14.6v13.9h-14.6zM1400.9 1650.4h14.6v13.9h-14.6zM1415.4 1500.9h14.6v13.9h-14.6zM1444.5 1174.8h14.6v13.9h-14.6zM1473.5 1405.8h14.6v13.9h-14.6z"/>
<path fill="#0b3b72" d="M355.9 1433.0h14.6v13.9h-14.6zM355.9 1392.2h14.6v13.9h-14.6zM355.9 1283.5h14.6v13.9h-14.6zM370.4 1351.4h14.6v13.9h-14.6zM370.4 1134.0h14.6v13.9h-14.6zM384.9 1772.7h14.6v13.9h-14.6zM384.9 1609.6h14.6v13.9h-14.6zM384.9 1460.1h14.6v13.9h-14.6zM384.9 998.1h14.6v13.9h-14.6zM399.4 1799.9h14.6v13.9h-14.6zM399.4 1256.3h14.6v13.9h-14.6zM399.4 1242.7h14.6v13.9h-14.6zM413.9 1528.1h14.6v13.9h-14.6zM413.9 1351.4h14.6v13.9h-14.6zM428.4 1555.3h14.6v13.9h-14.6zM428.4 1541.7h14.6v13.9h-14.6zM442.9 1704.7h14.6v13.9h-14.6zM442.9 1623.2h14.6v13.9h-14.6zM442.9 1609.6h14.6v13.9h-14.6zM442.9 1514.5h14.6v13.9h-14.6zM457.5 1799.9h14.6v13.9h-14.6zM457.5 1487.3h14.6v13.9h-14.6zM457.5 1188.4h14.6v13.9h-14.6zM457.5 1147.6h14.6v13.9h-14.6zM472.0 1691.1h14.6v13.9h-14.6zM472.0 1636.8h14.6v13.9h-14.6zM472.0 1433.0h14.6v13.9h-14.6zM472.0 1324.2h14.6v13.9h-14.6zM472.0 1106.8h14.6v13.9h-14.6zM501.0 1419.4h14.6v13.9h-14.6zM501.0 1337.8h14.6v13.9h-14.6zM501.0 1147.6h14.6v13.9h-14.6zM515.5 1568.8h14.6v13.9h-14.6zM515.5 1555.3h14.6v13.9h-14.6zM515.5 1500.9h14.6v13.9h-14.6zM515.5 1487.3h14.6v13.9h-14.6zM515.5 1188.4h14.6v13.9h-14.6zM530.0 1840.6h14.6v13.9h-14.6zM530.0 1514.5h14.6v13.9h-14.6zM530.0 1365.0h14.6v13.9h-14.6zM530.0 1283.5h14.6v13.9h-14.6zM530.0 970.9h14.6v13.9h-14.6zM544.5 1582.4h14.6v13.9h-14.6zM544.5 1541.7h14.6v13.9h-14.6zM544.5 1528.1h14.6v13.9h-14.6zM544.5 1215.5h14.6v13.9h-14.6zM544.5 1147.6h14.6v13.9h-14.6zM559.1 1596.0h14.6v13.9h-14.6zM559.1 1528.1h14.6v13.9h-14.6zM559.1 1514.5h14.6v13.9h-14.6zM559.1 1256.3h14.6v13.9h-14.6zM559.1 1120.4h14.6v13.9h-14.6zM559.1 1106.8h14.6v13.9h-14.6zM573.6 1392.2h14.6v13.9h-14.6zM573.6 1365.0h14.6v13.9h-14.6zM573.6 1161.2h14.6v13.9h-14.6zM588.1 1460.1h14.6v13.9h-14.6zM588.1 1392.2h14.6v13.9h-14.6zM588.1 1297.1h14.6v13.9h-14.6zM602.6 1786.3h14.6v13.9h-14.6zM602.6 1500.9h14.6v13.9h-14.6zM602.6 1446.5h14.6v13.9h-14.6zM602.6 1419.4h14.6v13.9h-14.6zM602.6 1256.3h14.6v13.9h-14.6zM602.6 1188.4h14.6v13.9h-14.6zM602.6 1147.6h14.6v13.9h-14.6zM602.6 1106.8h14.6v13.9h-14.6zM602.6 1066.1h14.6v13.9h-14.6zM617.1 1514.5h14.6v13.9h-14.6zM617.1 1500.9h14.6v13.9h-14.6zM617.1 1487.3h14.6v13.9h-14.6zM617.1 1351.4h14.6v13.9h-14.6zM617.1 1269.9h14.6v13.9h-14.6zM631.6 1799.9h14.6v13.9h-14.6zM631.6 1772.7h14.6v13.9h-14.6zM631.6 1759.1h14.6v13.9h-14.6zM631.6 1677.6h14.6v13.9h-14.6zM631.6 1487.3h14.6v13.9h-14.6zM631.6 1215.5h14.6v13.9h-14.6zM631.6 957.3h14.6v13.9h-14.6zM646.1 2044.5h14.6v13.9h-14.6zM646.1 1636.8h14.6v13.9h-14.6zM646.1 1596.0h14.6v13.9h-14.6zM646.1 1500.9h14.6v13.9h-14.6zM646.1 1487.3h14.6v13.9h-14.6zM646.1 1392.2h14.6v13.9h-14.6zM646.1 1215.5h14.6v13.9h-14.6zM646.1 1134.0h14.6v13.9h-14.6zM646.1 1052.5h14.6v13.9h-14.6zM660.7 1473.7h14.6v13.9h-14.6zM660.7 1446.5h14.6v13.9h-14.6zM660.7 1419.4h14.6v13.9h-14.6zM660.7 1324.2h14.6v13.9h-14.6zM660.7 1297.1h14.6v13.9h-14.6zM660.7 1256.3h14.6v13.9h-14.6zM660.7 1242.7h14.6v13.9h-14.6zM660.7 1079.6h14.6v13.9h-14.6zM660.7 1066.1h14.6v13.9h-14.6zM675.2 1867.8h14.6v13.9h-14.6zM675.2 1813.4h14.6v13.9h-14.6zM675.2 1623.2h14.6v13.9h-14.6zM675.2 1500.9h14.6v13.9h-14.6zM675.2 1433.0h14.6v13.9h-14.6zM675.2 1392.2h14.6v13.9h-14.6zM675.2 1324.2h14.6v13.9h-14.6zM675.2 1310.7h14.6v13.9h-14.6zM675.2 1283.5h14.6v13.9h-14.6zM675.2 1147.6h14.6v13.9h-14.6zM675.2 1106.8h14.6v13.9h-14.6zM675.2 1052.5h14.6v13.9h-14.6zM675.2 984.5h14.6v13.9h-14.6zM689.7 1664.0h14.6v13.9h-14.6zM689.7 1623.2h14.6v13.9h-14.6zM689.7 1568.8h14.6v13.9h-14.6zM689.7 1215.5h14.6v13.9h-14.6zM689.7 1174.8h14.6v13.9h-14.6zM689.7 1161.2h14.6v13.9h-14.6zM704.2 1609.6h14.6v13.9h-14.6zM704.2 1596.0h14.6v13.9h-14.6zM704.2 1392.2h14.6v13.9h-14.6zM704.2 1269.9h14.6v13.9h-14.6zM704.2 1025.3h14.6v13.9h-14.6zM718.7 1664.0h14.6v13.9h-14.6zM718.7 1568.8h14.6v13.9h-14.6zM718.7 1500.9h14.6v13.9h-14.6zM718.7 1215.5h14.6v13.9h-14.6zM718.7 1188.4h14.6v13.9h-14.6zM718.7 1174.8h14.6v13.9h-14.6zM733.2 1745.5h14.6v13.9h-14.6zM733.2 1691.1h14.6v13.9h-14.6zM733.2 1582.4h14.6v13.9h-14.6zM733.2 1392.2h14.6v13.9h-14.6zM733.2 1365.0h14.6v13.9h-14.6zM733.2 1106.8h14.6v13.9h-14.6zM747.8 1731.9h14.6v13.9h-14.6zM747.8 1691.1h14.6v13.9h-14.6zM747.8 1677.6h14.6v13.9h-14.6zM747.8 1650.4h14.6v13.9h-14.6zM747.8 1433.0h14.6v13.9h-14.6zM747.8 1351.4h14.6v13.9h-14.6zM747.8 1283.5h14.6v13.9h-14.6zM747.8 1147.6h14.6v13.9h-14.6zM747.8 957.3h14.6v13.9h-14.6zM762.3 1962.9h14.6v13.9h-14.6zM762.3 1718.3h14.6v13.9h-14.6zM762.3 1528.1h14.6v13.9h-14.6zM762.3 1392.2h14.6v13.9h-14.6zM762.3 1269.9h14.6v13.9h-14.6zM762.3 1215.5h14.6v13.9h-14.6zM762.3 1147.6h14.6v13.9h-14.6zM776.8 1528.1h14.6v13.9h-14.6zM776.8 1473.7h14.6v13.9h-14.6zM776.8 1460.1h14.6v13.9h-14.6zM776.8 1242.7h14.6v13.9h-14.6zM776.8 1174.8h14.6v13.9h-14.6zM791.3 1541.7h14.6v13.9h-14.6zM791.3 1310.7h14.6v13.9h-14.6zM791.3 1269.9h14.6v13.9h-14.6zM791.3 1242.7h14.6v13.9h-14.6zM791.3 1188.4h14.6v13.9h-14.6zM791.3 1120.4h14.6v13.9h-14.6zM805.8 1419.4h14.6v13.9h-14.6zM805.8 1405.8h14.6v13.9h-14.6zM805.8 1174.8h14.6v13.9h-14.6zM820.3 1555.3h14.6v13.9h-14.6zM820.3 1365.0h14.6v13.9h-14.6zM820.3 1297.1h14.6v13.9h-14.6zM820.3 1229.1h14.6v13.9h-14.6zM834.8 1731.9h14.6v13.9h-14.6zM834.8 1609.6h14.6v13.9h-14.6zM834.8 1582.4h14.6v13.9h-14.6zM834.8 1528.1h14.6v13.9h-14.6zM834.8 1460.1h14.6v13.9h-14.6zM834.8 1446.5h14.6v13.9h-14.6zM834.8 1392.2h14.6v13.9h-14.6zM834.8 1324.2h14.6v13.9h-14.6zM834.8 1066.1h14.6v13.9h-14.6zM834.8 984.5h14.6v13.9h-14.6zM849.4 1772.7h14.6v13.9h-14.6zM849.4 1691.1h14.6v13.9h-14.6zM849.4 1596.0h14.6v13.9h-14.6zM849.4 1351.4h14.6v13.9h-14.6zM849.4 1297.1h14.6v13.9h-14.6zM849.4 1229.1h14.6v13.9h-14.6zM849.4 1201.9h14.6v13.9h-14.6zM849.4 862.2h14.6v13.9h-14.6zM863.9 1691.1h14.6v13.9h-14.6zM863.9 1541.7h14.6v13.9h-14.6zM863.9 1419.4h14.6v13.9h-14.6zM863.9 1351.4h14.6v13.9h-14.6zM863.9 1297.1h14.6v13.9h-14.6zM863.9 1229.1h14.6v13.9h-14.6zM863.9 1201.9h14.6v13.9h-14.6zM863.9 1052.5h14.6v13.9h-14.6zM878.4 1759.1h14.6v13.9h-14.6zM878.4 1582.4h14.6v13.9h-14.6zM878.4 1365.0h14.6v13.9h-14.6zM878.4 1337.8h14.6v13.9h-14.6zM878.4 1297.1h14.6v13.9h-14.6zM878.4 1120.4h14.6v13.9h-14.6zM892.9 1664.0h14.6v13.9h-14.6zM892.9 1392.2h14.6v13.9h-14.6zM892.9 984.5h14.6v13.9h-14.6zM907.4 1718.3h14.6v13.9h-14.6zM907.4 1324.2h14.6v13.9h-14.6zM907.4 930.2h14.6v13.9h-14.6zM921.9 1500.9h14.6v13.9h-14.6zM921.9 1487.3h14.6v13.9h-14.6zM921.9 1229.1h14.6v13.9h-14.6zM921.9 1215.5h14.6v13.9h-14.6zM936.5 1541.7h14.6v13.9h-14.6zM936.5 1500.9h14.6v13.9h-14.6zM936.5 1242.7h14.6v13.9h-14.6zM936.5 1120.4h14.6v13.9h-14.6zM951.0 1772.7h14.6v13.9h-14.6zM951.0 1528.1h14.6v13.9h-14.6zM951.0 1392.2h14.6v13.9h-14.6zM951.0 1365.0h14.6v13.9h-14.6zM951.0 1351.4h14.6v13.9h-14.6zM951.0 1297.1h14.6v13.9h-14.6zM951.0 1283.5h14.6v13.9h-14.6zM951.0 1256.3h14.6v13.9h-14.6zM951.0 1106.8h14.6v13.9h-14.6zM951.0 1038.9h14.6v13.9h-14.6zM965.5 1623.2h14.6v13.9h-14.6zM965.5 1582.4h14.6v13.9h-14.6zM965.5 1487.3h14.6v13.9h-14.6zM965.5 1161.2h14.6v13.9h-14.6zM980.0 1664.0h14.6v13.9h-14.6zM980.0 1433.0h14.6v13.9h-14.6zM980.0 1134.0h14.6v13.9h-14.6zM980.0 903.0h14.6v13.9h-14.6zM994.5 1881.4h14.6v13.9h-14.6zM994.5 1568.8h14.6v13.9h-14.6zM994.5 1297.1h14.6v13.9h-14.6zM1023.5 1718.3h14.6v13.9h-14.6zM1023.5 1636.8h14.6v13.9h-14.6zM1023.5 1365.0h14.6v13.9h-14.6zM1038.1 1555.3h14.6v13.9h-14.6zM1038.1 1419.4h14.6v13.9h-14.6zM1038.1 1365.0h14.6v13.9h-14.6zM1038.1 1256.3h14.6v13.9h-14.6zM1038.1 1201.9h14.6v13.9h-14.6zM1038.1 1011.7h14.6v13.9h-14.6zM1052.6 1514.5h14.6v13.9h-14.6zM1052.6 1500.9h14.6v13.9h-14.6zM1052.6 1392.2h14.6v13.9h-14.6zM1052.6 1297.1h14.6v13.9h-14.6zM1052.6 1283.5h14.6v13.9h-14.6zM1052.6 1079.6h14.6v13.9h-14.6zM1067.1 1473.7h14.6v13.9h-14.6zM1067.1 1310.7h14.6v13.9h-14.6zM1081.6 1759.1h14.6v13.9h-14.6zM1081.6 1337.8h14.6v13.9h-14.6zM1081.6 1066.1h14.6v13.9h-14.6zM1096.1 1704.7h14.6v13.9h-14.6zM1096.1 1405.8h14.6v13.9h-14.6zM1096.1 1215.5h14.6v13.9h-14.6zM1096.1 1052.5h14.6v13.9h-14.6zM1096.1 916.6h14.6v13.9h-14.6zM1110.6 1827.0h14.6v13.9h-14.6zM1110.6 1500.9h14.6v13.9h-14.6zM1110.6 1310.7h14.6v13.9h-14.6zM1110.6 1283.5h14.6v13.9h-14.6zM1125.1 1460.1h14.6v13.9h-14.6zM1125.1 1310.7h14.6v13.9h-14.6zM1125.1 1215.5h14.6v13.9h-14.6zM1139.7 1283.5h14.6v13.9h-14.6zM1139.7 1174.8h14.6v13.9h-14.6zM1139.7 1147.6h14.6v13.9h-14.6zM1139.7 875.8h14.6v13.9h-14.6zM1154.2 1555.3h14.6v13.9h-14.6zM1154.2 1487.3h14.6v13.9h-14.6zM1154.2 1324.2h14.6v13.9h-14.6zM1154.2 1310.7h14.6v13.9h-14.6zM1154.2 1283.5h14.6v13.9h-14.6zM1154.2 1269.9h14.6v13.9h-14.6zM1154.2 1201.9h14.6v13.9h-14.6zM1168.7 1582.4h14.6v13.9h-14.6zM1168.7 1405.8h14.6v13.9h-14.6zM1168.7 1378.6h14.6v13.9h-14.6zM1168.7 1038.9h14.6v13.9h-14.6zM1183.2 1487.3h14.6v13.9h-14.6zM1183.2 1337.8h14.6v13.9h-14.6zM1183.2 1079.6h14.6v13.9h-14.6zM1197.7 1460.1h14.6v13.9h-14.6zM1212.2 1446.5h14.6v13.9h-14.6zM1212.2 1392.2h14.6v13.9h-14.6zM1212.2 1365.0h14.6v13.9h-14.6zM1212.2 1229.1h14.6v13.9h-14.6zM1241.3 1582.4h14.6v13.9h-14.6zM1241.3 1514.5h14.6v13.9h-14.6zM1241.3 1500.9h14.6v13.9h-14.6zM1241.3 1419.4h14.6v13.9h-14.6zM1255.8 1324.2h14.6v13.9h-14.6zM1255.8 1310.7h14.6v13.9h-14.6zM1270.3 1473.7h14.6v13.9h-14.6zM1284.8 1460.1h14.6v13.9h-14.6zM1299.3 1324.2h14.6v13.9h-14.6zM1313.8 1147.6h14.6v13.9h-14.6zM1342.9 1460.1h14.6v13.9h-14.6zM1342.9 1283.5h14.6v13.9h-14.6zM1342.9 1066.1h14.6v13.9h-14.6zM1371.9 1392.2h14.6v13.9h-14.6zM1371.9 1215.5h14.6v13.9h-14.6zM1400.9 1215.5h14.6v13.9h-14.6zM1430.0 1460.1h14.6v13.9h-14.6zM1430.0 1324.2h14.6v13.9h-14.6zM1444.5 1324.2h14.6v13.9h-14.6zM1459.0 1256.3h14.6v13.9h-14.6zM1473.5 1460.1h14.6v13.9h-14.6zM1473.5 1351.4h14.6v13.9h-14.6zM1560.6 1555.3h14.6v13.9h-14.6zM1604.1 1473.7h14.6v13.9h-14.6z"/>
<path fill="#063c70" d="M355.9 1568.8h14.6v13.9h-14.6zM355.9 1555.3h14.6v13.9h-14.6zM355.9 1514.5h14.6v13.9h-14.6zM355.9 1473.7h14.6v13.9h-14.6zM355.9 1324.2h14.6v13.9h-14.6zM370.4 1473.7h14.6v13.9h-14.6zM384.9 1473.7h14.6v13.9h-14.6zM399.4 1174.8h14.6v13.9h-14.6zM413.9 1677.6h14.6v13.9h-14.6zM413.9 1636.8h14.6v13.9h-14.6zM428.4 1867.8h14.6v13.9h-14.6zM428.4 1759.1h14.6v13.9h-14.6zM428.4 1596.0h14.6v13.9h-14.6zM428.4 1582.4h14.6v13.9h-14.6zM428.4 1528.1h14.6v13.9h-14.6zM428.4 1419.4h14.6v13.9h-14.6zM442.9 1813.4h14.6v13.9h-14.6zM442.9 1528.1h14.6v13.9h-14.6zM442.9 1365.0h14.6v13.9h-14.6zM457.5 1731.9h14.6v13.9h-14.6zM457.5 1568.8h14.6v13.9h-14.6zM457.5 1555.3h14.6v13.9h-14.6zM457.5 875.8h14.6v13.9h-14.6zM472.0 1609.6h14.6v13.9h-14.6zM472.0 1487.3h14.6v13.9h-14.6zM472.0 1446.5h14.6v13.9h-14.6zM472.0 1392.2h14.6v13.9h-14.6zM472.0 1310.7h14.6v13.9h-14.6zM486.5 1419.4h14.6v13.9h-14.6zM486.5 1365.0h14.6v13.9h-14.6zM486.5 1242.7h14.6v13.9h-14.6zM501.0 1623.2h14.6v13.9h-14.6zM501.0 1528.1h14.6v13.9h-14.6zM501.0 1460.1h14.6v13.9h-14.6zM501.0 1433.0h14.6v13.9h-14.6zM501.0 1378.6h14.6v13.9h-14.6zM501.0 1324.2h14.6v13.9h-14.6zM501.0 1256.3h14.6v13.9h-14.6zM501.0 1134.0h14.6v13.9h-14.6zM501.0 875.8h14.6v13.9h-14.6zM515.5 1664.0h14.6v13.9h-14.6zM515.5 1473.7h14.6v13.9h-14.6zM515.5 1351.4h14.6v13.9h-14.6zM515.5 1283.5h14.6v13.9h-14.6zM515.5 1120.4h14.6v13.9h-14.6zM515.5 1052.5h14.6v13.9h-14.6zM530.0 1691.1h14.6v13.9h-14.6zM530.0 1677.6h14.6v13.9h-14.6zM530.0 1269.9h14.6v13.9h-14.6zM530.0 1120.4h14.6v13.9h-14.6zM544.5 1786.3h14.6v13.9h-14.6zM544.5 1500.9h14.6v13.9h-14.6zM544.5 1460.1h14.6v13.9h-14.6zM544.5 1378.6h14.6v13.9h-14.6zM544.5 1324.2h14.6v13.9h-14.6zM559.1 1636.8h14.6v13.9h-14.6zM559.1 1500.9h14.6v13.9h-14.6zM559.1 1446.5h14.6v13.9h-14.6zM559.1 1419.4h14.6v13.9h-14.6zM559.1 1405.8h14.6v13.9h-14.6zM559.1 1337.8h14.6v13.9h-14.6zM559.1 1324.2h14.6v13.9h-14.6zM559.1 1229.1h14.6v13.9h-14.6zM573.6 1582.4h14.6v13.9h-14.6zM573.6 1568.8h14.6v13.9h-14.6zM573.6 1500.9h14.6v13.9h-14.6zM573.6 1487.3h14.6v13.9h-14.6zM573.6 1446.5h14.6v13.9h-14.6zM573.6 1433.0h14.6v13.9h-14.6zM573.6 1405.8h14.6v13.9h-14.6zM573.6 1378.6h14.6v13.9h-14.6zM573.6 1351.4h14.6v13.9h-14.6zM573.6 1324.2h14.6v13.9h-14.6zM573.6 1242.7h14.6v13.9h-14.6zM573.6 1201.9h14.6v13.9h-14.6zM573.6 1120.4h14.6v13.9h-14.6zM588.1 1799.9h14.6v13.9h-14.6zM588.1 1731.9h14.6v13.9h-14.6zM588.1 1691.1h14.6v13.9h-14.6zM588.1 1609.6h14.6v13.9h-14.6zM588.1 1541.7h14.6v13.9h-14.6zM588.1 1419.4h14.6v13.9h-14.6zM588.1 1378.6h14.6v13.9h-14.6zM588.1 1365.0h14.6v13.9h-14.6zM588.1 1351.4h14.6v13.9h-14.6zM588.1 1310.7h14.6v13.9h-14.6zM588.1 1188.4h14.6v13.9h-14.6zM588.1 998.1h14.6v13.9h-14.6zM602.6 1541.7h14.6v13.9h-14.6zM602.6 1392.2h14.6v13.9h-14.6zM602.6 1215.5h14.6v13.9h-14.6zM602.6 1174.8h14.6v13.9h-14.6zM602.6 1079.6h14.6v13.9h-14.6zM617.1 1636.8h14.6v13.9h-14.6zM617.1 1596.0h14.6v13.9h-14.6zM617.1 1541.7h14.6v13.9h-14.6zM617.1 1337.8h14.6v13.9h-14.6zM617.1 1297.1h14.6v13.9h-14.6zM617.1 970.9h14.6v13.9h-14.6zM631.6 1650.4h14.6v13.9h-14.6zM631.6 1582.4h14.6v13.9h-14.6zM631.6 1555.3h14.6v13.9h-14.6zM631.6 1473.7h14.6v13.9h-14.6zM631.6 1433.0h14.6v13.9h-14.6zM631.6 1419.4h14.6v13.9h-14.6zM631.6 1405.8h14.6v13.9h-14.6zM631.6 1392.2h14.6v13.9h-14.6zM631.6 1324.2h14.6v13.9h-14.6zM631.6 1269.9h14.6v13.9h-14.6zM631.6 1066.1h14.6v13.9h-14.6zM646.1 1704.7h14.6v13.9h-14.6zM646.1 1541.7h14.6v13.9h-14.6zM646.1 1514.5h14.6v13.9h-14.6zM646.1 1460.1h14.6v13.9h-14.6zM646.1 1433.0h14.6v13.9h-14.6zM646.1 1188.4h14.6v13.9h-14.6zM646.1 1174.8h14.6v13.9h-14.6zM646.1 1161.2h14.6v13.9h-14.6zM660.7 1623.2h14.6v13.9h-14.6zM660.7 1596.0h14.6v13.9h-14.6zM660.7 1541.7h14.6v13.9h-14.6zM660.7 1514.5h14.6v13.9h-14.6zM660.7 1405.8h14.6v13.9h-14.6zM660.7 1310.7h14.6v13.9h-14.6zM660.7 1215.5h14.6v13.9h-14.6zM675.2 1691.1h14.6v13.9h-14.6zM675.2 1677.6h14.6v13.9h-14.6zM675.2 1596.0h14.6v13.9h-14.6zM675.2 1514.5h14.6v13.9h-14.6zM675.2 1297.1h14.6v13.9h-14.6zM675.2 1134.0h14.6v13.9h-14.6zM689.7 1799.9h14.6v13.9h-14.6zM689.7 1609.6h14.6v13.9h-14.6zM689.7 1011.7h14.6v13.9h-14.6zM689.7 916.6h14.6v13.9h-14.6zM704.2 1636.8h14.6v13.9h-14.6zM704.2 1568.8h14.6v13.9h-14.6zM704.2 1555.3h14.6v13.9h-14.6zM704.2 1514.5h14.6v13.9h-14.6zM704.2 1473.7h14.6v13.9h-14.6zM704.2 1446.5h14.6v13.9h-14.6zM704.2 1419.4h14.6v13.9h-14.6zM704.2 1405.8h14.6v13.9h-14.6zM704.2 1351.4h14.6v13.9h-14.6zM704.2 1174.8h14.6v13.9h-14.6zM704.2 1147.6h14.6v13.9h-14.6zM704.2 1093.2h14.6v13.9h-14.6zM718.7 1636.8h14.6v13.9h-14.6zM718.7 1609.6h14.6v13.9h-14.6zM718.7 1528.1h14.6v13.9h-14.6zM718.7 1433.0h14.6v13.9h-14.6zM718.7 1365.0h14.6v13.9h-14.6zM718.7 1269.9h14.6v13.9h-14.6zM718.7 1256.3h14.6v13.9h-14.6zM718.7 957.3h14.6v13.9h-14.6zM733.2 1514.5h14.6v13.9h-14.6zM733.2 1473.7h14.6v13.9h-14.6zM733.2 1460.1h14.6v13.9h-14.6zM733.2 1324.2h14.6v13.9h-14.6zM733.2 1297.1h14.6v13.9h-14.6zM733.2 1269.9h14.6v13.9h-14.6zM733.2 1093.2h14.6v13.9h-14.6zM733.2 1011.7h14.6v13.9h-14.6zM747.8 1772.7h14.6v13.9h-14.6zM747.8 1623.2h14.6v13.9h-14.6zM747.8 1541.7h14.6v13.9h-14.6zM747.8 1460.1h14.6v13.9h-14.6zM747.8 1446.5h14.6v13.9h-14.6zM747.8 1419.4h14.6v13.9h-14.6zM747.8 1378.6h14.6v13.9h-14.6zM747.8 1324.2h14.6v13.9h-14.6zM747.8 1297.1h14.6v13.9h-14.6zM747.8 1229.1h14.6v13.9h-14.6zM747.8 1174.8h14.6v13.9h-14.6zM747.8 1106.8h14.6v13.9h-14.6zM762.3 1691.1h14.6v13.9h-14.6zM762.3 1514.5h14.6v13.9h-14.6zM762.3 1487.3h14.6v13.9h-14.6zM762.3 1433.0h14.6v13.9h-14.6zM762.3 1405.8h14.6v13.9h-14.6zM762.3 1378.6h14.6v13.9h-14.6zM762.3 1365.0h14.6v13.9h-14.6zM762.3 1337.8h14.6v13.9h-14.6zM762.3 1297.1h14.6v13.9h-14.6zM762.3 1283.5h14.6v13.9h-14.6zM762.3 1134.0h14.6v13.9h-14.6zM762.3 1120.4h14.6v13.9h-14.6zM776.8 1840.6h14.6v13.9h-14.6zM776.8 1514.5h14.6v13.9h-14.6zM776.8 1405.8h14.6v13.9h-14.6zM776.8 1269.9h14.6v13.9h-14.6zM776.8 1215.5h14.6v13.9h-14.6zM791.3 1840.6h14.6v13.9h-14.6zM791.3 1813.4h14.6v13.9h-14.6zM791.3 1650.4h14.6v13.9h-14.6zM791.3 1596.0h14.6v13.9h-14.6zM791.3 1568.8h14.6v13.9h-14.6zM791.3 1528.1h14.6v13.9h-14.6zM791.3 1351.4h14.6v13.9h-14.6zM791.3 1229.1h14.6v13.9h-14.6zM791.3 1215.5h14.6v13.9h-14.6zM791.3 1201.9h14.6v13.9h-14.6zM791.3 1161.2h14.6v13.9h-14.6zM805.8 1813.4h14.6v13.9h-14.6zM805.8 1704.7h14.6v13.9h-14.6zM805.8 1555.3h14.6v13.9h-14.6zM805.8 1351.4h14.6v13.9h-14.6zM805.8 1215.5h14.6v13.9h-14.6zM805.8 1066.1h14.6v13.9h-14.6zM805.8 1011.7h14.6v13.9h-14.6zM820.3 1962.9h14.6v13.9h-14.6zM820.3 1704.7h14.6v13.9h-14.6zM820.3 1677.6h14.6v13.9h-14.6zM820.3 1623.2h14.6v13.9h-14.6zM820.3 1582.4h14.6v13.9h-14.6zM820.3 1568.8h14.6v13.9h-14.6zM820.3 1528.1h14.6v13.9h-14.6zM820.3 1500.9h14.6v13.9h-14.6zM820.3 1460.1h14.6v13.9h-14.6zM820.3 1446.5h14.6v13.9h-14.6zM820.3 1405.8h14.6v13.9h-14.6zM820.3 1120.4h14.6v13.9h-14.6zM820.3 1079.6h14.6v13.9h-14.6zM834.8 1704.7h14.6v13.9h-14.6zM834.8 1514.5h14.6v13.9h-14.6zM834.8 1283.5h14.6v13.9h-14.6zM834.8 1120.4h14.6v13.9h-14.6zM849.4 1609.6h14.6v13.9h-14.6zM849.4 1419.4h14.6v13.9h-14.6zM849.4 1392.2h14.6v13.9h-14.6zM849.4 1324.2h14.6v13.9h-14.6zM849.4 1310.7h14.6v13.9h-14.6zM849.4 1174.8h14.6v13.9h-14.6zM849.4 1147.6h14.6v13.9h-14.6zM849.4 1120.4h14.6v13.9h-14.6zM849.4 1066.1h14.6v13.9h-14.6zM863.9 1704.7h14.6v13.9h-14.6zM863.9 1650.4h14.6v13.9h-14.6zM863.9 1405.8h14.6v13.9h-14.6zM863.9 1378.6h14.6v13.9h-14.6zM878.4 1813.4h14.6v13.9h-14.6zM878.4 1650.4h14.6v13.9h-14.6zM878.4 1636.8h14.6v13.9h-14.6zM878.4 1541.7h14.6v13.9h-14.6zM878.4 1392.2h14.6v13.9h-14.6zM878.4 1269.9h14.6v13.9h-14.6zM878.4 1188.4h14.6v13.9h-14.6zM878.4 1174.8h14.6v13.9h-14.6zM878.4 1134.0h14.6v13.9h-14.6zM892.9 1976.5h14.6v13.9h-14.6zM892.9 1731.9h14.6v13.9h-14.6zM892.9 1623.2h14.6v13.9h-14.6zM892.9 1568.8h14.6v13.9h-14.6zM892.9 1541.7h14.6v13.9h-14.6zM892.9 1500.9h14.6v13.9h-14.6zM892.9 1460.1h14.6v13.9h-14.6zM892.9 1378.6h14.6v13.9h-14.6zM892.9 1351.4h14.6v13.9h-14.6zM892.9 1188.4h14.6v13.9h-14.6zM892.9 1161.2h14.6v13.9h-14.6zM892.9 1120.4h14.6v13.9h-14.6zM907.4 1460.1h14.6v13.9h-14.6zM907.4 1433.0h14.6v13.9h-14.6zM907.4 1405.8h14.6v13.9h-14.6zM907.4 1392.2h14.6v13.9h-14.6zM907.4 1283.5h14.6v13.9h-14.6zM907.4 1201.9h14.6v13.9h-14.6zM907.4 1161.2h14.6v13.9h-14.6zM907.4 1120.4h14.6v13.9h-14.6zM921.9 1704.7h14.6v13.9h-14.6zM921.9 1446.5h14.6v13.9h-14.6zM936.5 1365.0h14.6v13.9h-14.6zM936.5 1201.9h14.6v13.9h-14.6zM936.5 1106.8h14.6v13.9h-14.6zM936.5 1025.3h14.6v13.9h-14.6zM951.0 1786.3h14.6v13.9h-14.6zM951.0 1759.1h14.6v13.9h-14.6zM951.0 1704.7h14.6v13.9h-14.6zM951.0 1487.3h14.6v13.9h-14.6zM951.0 1460.1h14.6v13.9h-14.6zM951.0 1446.5h14.6v13.9h-14.6zM951.0 1229.1h14.6v13.9h-14.6zM951.0 1174.8h14.6v13.9h-14.6zM965.5 1922.2h14.6v13.9h-14.6zM965.5 1813.4h14.6v13.9h-14.6zM965.5 1677.6h14.6v13.9h-14.6zM965.5 1664.0h14.6v13.9h-14.6zM965.5 1636.8h14.6v13.9h-14.6zM965.5 1609.6h14.6v13.9h-14.6zM965.5 1433.0h14.6v13.9h-14.6zM965.5 1405.8h14.6v13.9h-14.6zM965.5 1297.1h14.6v13.9h-14.6zM965.5 1229.1h14.6v13.9h-14.6zM965.5 1201.9h14.6v13.9h-14.6zM965.5 1147.6h14.6v13.9h-14.6zM965.5 970.9h14.6v13.9h-14.6zM980.0 1473.7h14.6v13.9h-14.6zM980.0 1405.8h14.6v13.9h-14.6zM980.0 1066.1h14.6v13.9h-14.6zM994.5 1365.0h14.6v13.9h-14.6zM994.5 1242.7h14.6v13.9h-14.6zM994.5 1229.1h14.6v13.9h-14.6zM994.5 1215.5h14.6v13.9h-14.6zM994.5 1188.4h14.6v13.9h-14.6zM1009.0 1419.4h14.6v13.9h-14.6zM1009.0 1269.9h14.6v13.9h-14.6zM1009.0 1256.3h14.6v13.9h-14.6zM1023.5 1568.8h14.6v13.9h-14.6zM1023.5 1487.3h14.6v13.9h-14.6zM1023.5 1378.6h14.6v13.9h-14.6zM1023.5 1256.3h14.6v13.9h-14.6zM1023.5 1229.1h14.6v13.9h-14.6zM1038.1 1650.4h14.6v13.9h-14.6zM1038.1 1405.8h14.6v13.9h-14.6zM1038.1 1229.1h14.6v13.9h-14.6zM1052.6 1650.4h14.6v13.9h-14.6zM1052.6 1351.4h14.6v13.9h-14.6zM1052.6 1134.0h14.6v13.9h-14.6zM1067.1 1623.2h14.6v13.9h-14.6zM1067.1 1582.4h14.6v13.9h-14.6zM1067.1 1541.7h14.6v13.9h-14.6zM1067.1 1514.5h14.6v13.9h-14.6zM1067.1 1405.8h14.6v13.9h-14.6zM1067.1 1229.1h14.6v13.9h-14.6zM1067.1 1134.0h14.6v13.9h-14.6zM1081.6 1867.8h14.6v13.9h-14.6zM1081.6 1528.1h14.6v13.9h-14.6zM1081.6 1433.0h14.6v13.9h-14.6zM1081.6 1297.1h14.6v13.9h-14.6zM1081.6 1269.9h14.6v13.9h-14.6zM1081.6 1215.5h14.6v13.9h-14.6zM1096.1 1596.0h14.6v13.9h-14.6zM1096.1 1500.9h14.6v13.9h-14.6zM1096.1 1378.6h14.6v13.9h-14.6zM1096.1 1269.9h14.6v13.9h-14.6zM1096.1 1256.3h14.6v13.9h-14.6zM1096.1 1079.6h14.6v13.9h-14.6zM1096.1 903.0h14.6v13.9h-14.6zM1110.6 1473.7h14.6v13.9h-14.6zM1110.6 1446.5h14.6v13.9h-14.6zM1110.6 1269.9h14.6v13.9h-14.6zM1110.6 1256.3h14.6v13.9h-14.6zM1110.6 1161.2h14.6v13.9h-14.6zM1110.6 1134.0h14.6v13.9h-14.6zM1125.1 1568.8h14.6v13.9h-14.6zM1125.1 1433.0h14.6v13.9h-14.6zM1125.1 1351.4h14.6v13.9h-14.6zM1139.7 1555.3h14.6v13.9h-14.6zM1139.7 1038.9h14.6v13.9h-14.6zM1154.2 1541.7h14.6v13.9h-14.6zM1154.2 1351.4h14.6v13.9h-14.6zM1154.2 1215.5h14.6v13.9h-14.6zM1168.7 1514.5h14.6v13.9h-14.6zM1168.7 1460.1h14.6v13.9h-14.6zM1168.7 1351.4h14.6v13.9h-14.6zM1168.7 1256.3h14.6v13.9h-14.6zM1168.7 1229.1h14.6v13.9h-14.6zM1183.2 1745.5h14.6v13.9h-14.6zM1183.2 1596.0h14.6v13.9h-14.6zM1183.2 1378.6h14.6v13.9h-14.6zM1197.7 1487.3h14.6v13.9h-14.6zM1197.7 1473.7h14.6v13.9h-14.6zM1197.7 1038.9h14.6v13.9h-14.6zM1212.2 1568.8h14.6v13.9h-14.6zM1212.2 1297.1h14.6v13.9h-14.6zM1226.8 1446.5h14.6v13.9h-14.6zM1226.8 1365.0h14.6v13.9h-14.6zM1241.3 1337.8h14.6v13.9h-14.6zM1255.8 1568.8h14.6v13.9h-14.6zM1270.3 1636.8h14.6v13.9h-14.6zM1270.3 1446.5h14.6v13.9h-14.6zM1270.3 1201.9h14.6v13.9h-14.6zM1270.3 1161.2h14.6v13.9h-14.6zM1284.8 1473.7h14.6v13.9h-14.6zM1299.3 1636.8h14.6v13.9h-14.6zM1328.4 1419.4h14.6v13.9h-14.6zM1328.4 1269.9h14.6v13.9h-14.6zM1342.9 1609.6h14.6v13.9h-14.6zM1357.4 1433.0h14.6v13.9h-14.6zM1371.9 1555.3h14.6v13.9h-14.6zM1371.9 1405.8h14.6v13.9h-14.6zM1400.9 1568.8h14.6v13.9h-14.6zM1430.0 1433.0h14.6v13.9h-14.6zM1444.5 1528.1h14.6v13.9h-14.6zM1444.5 1500.9h14.6v13.9h-14.6zM1444.5 1473.7h14.6v13.9h-14.6zM1444.5 1460.1h14.6v13.9h-14.6zM1444.5 1446.5h14.6v13.9h-14.6zM1444.5 1433.0h14.6v13.9h-14.6zM1444.5 1351.4h14.6v13.9h-14.6zM1459.0 1433.0h14.6v13.9h-14.6zM1459.0 1419.4h14.6v13.9h-14.6zM1459.0 1405.8h14.6v13.9h-14.6zM1459.0 1392.2h14.6v13.9h-14.6zM1459.0 1337.8h14.6v13.9h-14.6zM1459.0 1310.7h14.6v13.9h-14.6zM1473.5 1446.5h14.6v13.9h-14.6zM1473.5 1419.4h14.6v13.9h-14.6zM1473.5 1392.2h14.6v13.9h-14.6zM1473.5 1283.5h14.6v13.9h-14.6zM1473.5 1269.9h14.6v13.9h-14.6zM1488.0 1487.3h14.6v13.9h-14.6zM1488.0 1269.9h14.6v13.9h-14.6zM1502.5 1405.8h14.6v13.9h-14.6zM1517.0 1500.9h14.6v13.9h-14.6zM1517.0 1446.5h14.6v13.9h-14.6zM1531.6 1555.3h14.6v13.9h-14.6zM1531.6 1514.5h14.6v13.9h-14.6zM1531.6 1378.6h14.6v13.9h-14.6zM1546.1 1528.1h14.6v13.9h-14.6zM1546.1 1419.4h14.6v13.9h-14.6zM1546.1 1405.8h14.6v13.9h-14.6zM1560.6 1460.1h14.6v13.9h-14.6zM1560.6 1446.5h14.6v13.9h-14.6zM1575.1 1351.4h14.6v13.9h-14.6zM1575.1 1283.5h14.6v13.9h-14.6zM1589.6 1365.0h14.6v13.9h-14.6zM1604.1 1460.1h14.6v13.9h-14.6zM1604.1 1324.2h14.6v13.9h-14.6zM1604.1 1242.7h14.6v13.9h-14.6zM1618.7 1365.0h14.6v13.9h-14.6zM1618.7 1310.7h14.6v13.9h-14.6zM1633.2 1351.4h14.6v13.9h-14.6zM1749.3 1378.6h14.6v13.9h-14.6z"/>
<path fill="#013c6e" d="M355.9 1650.4h14.6v13.9h-14.6zM355.9 1215.5h14.6v13.9h-14.6zM370.4 1392.2h14.6v13.9h-14.6zM399.4 1446.5h14.6v13.9h-14.6zM399.4 1419.4h14.6v13.9h-14.6zM399.4 1269.9h14.6v13.9h-14.6zM399.4 930.2h14.6v13.9h-14.6zM413.9 1718.3h14.6v13.9h-14.6zM413.9 1609.6h14.6v13.9h-14.6zM413.9 1582.4h14.6v13.9h-14.6zM413.9 1514.5h14.6v13.9h-14.6zM413.9 1283.5h14.6v13.9h-14.6zM413.9 1256.3h14.6v13.9h-14.6zM428.4 1786.3h14.6v13.9h-14.6zM428.4 1704.7h14.6v13.9h-14.6zM428.4 1650.4h14.6v13.9h-14.6zM428.4 1623.2h14.6v13.9h-14.6zM428.4 1351.4h14.6v13.9h-14.6zM428.4 1269.9h14.6v13.9h-14.6zM428.4 1229.1h14.6v13.9h-14.6zM428.4 1079.6h14.6v13.9h-14.6zM442.9 1827.0h14.6v13.9h-14.6zM442.9 1392.2h14.6v13.9h-14.6zM442.9 1324.2h14.6v13.9h-14.6zM442.9 1310.7h14.6v13.9h-14.6zM442.9 1174.8h14.6v13.9h-14.6zM457.5 1691.1h14.6v13.9h-14.6zM457.5 1664.0h14.6v13.9h-14.6zM457.5 1582.4h14.6v13.9h-14.6zM457.5 1528.1h14.6v13.9h-14.6zM457.5 1297.1h14.6v13.9h-14.6zM457.5 1201.9h14.6v13.9h-14.6zM457.5 984.5h14.6v13.9h-14.6zM457.5 943.8h14.6v13.9h-14.6zM472.0 1378.6h14.6v13.9h-14.6zM472.0 1351.4h14.6v13.9h-14.6zM486.5 1813.4h14.6v13.9h-14.6zM486.5 1460.1h14.6v13.9h-14.6zM486.5 1433.0h14.6v13.9h-14.6zM486.5 1351.4h14.6v13.9h-14.6zM486.5 1066.1h14.6v13.9h-14.6zM486.5 1052.5h14.6v13.9h-14.6zM501.0 1922.2h14.6v13.9h-14.6zM501.0 1677.6h14.6v13.9h-14.6zM501.0 1664.0h14.6v13.9h-14.6zM501.0 1405.8h14.6v13.9h-14.6zM501.0 1297.1h14.6v13.9h-14.6zM501.0 1093.2h14.6v13.9h-14.6zM515.5 1691.1h14.6v13.9h-14.6zM515.5 1596.0h14.6v13.9h-14.6zM515.5 1582.4h14.6v13.9h-14.6zM515.5 1337.8h14.6v13.9h-14.6zM515.5 1229.1h14.6v13.9h-14.6zM530.0 1922.2h14.6v13.9h-14.6zM530.0 1731.9h14.6v13.9h-14.6zM530.0 1568.8h14.6v13.9h-14.6zM530.0 1528.1h14.6v13.9h-14.6zM530.0 1297.1h14.6v13.9h-14.6zM544.5 1704.7h14.6v13.9h-14.6zM544.5 1514.5h14.6v13.9h-14.6zM544.5 1433.0h14.6v13.9h-14.6zM544.5 1351.4h14.6v13.9h-14.6zM544.5 1310.7h14.6v13.9h-14.6zM544.5 1011.7h14.6v13.9h-14.6zM544.5 916.6h14.6v13.9h-14.6zM559.1 1881.4h14.6v13.9h-14.6zM559.1 1827.0h14.6v13.9h-14.6zM559.1 1392.2h14.6v13.9h-14.6zM559.1 1297.1h14.6v13.9h-14.6zM559.1 1283.5h14.6v13.9h-14.6zM559.1 1269.9h14.6v13.9h-14.6zM559.1 1093.2h14.6v13.9h-14.6zM559.1 930.2h14.6v13.9h-14.6zM573.6 1745.5h14.6v13.9h-14.6zM573.6 1650.4h14.6v13.9h-14.6zM573.6 1473.7h14.6v13.9h-14.6zM573.6 1419.4h14.6v13.9h-14.6zM573.6 1269.9h14.6v13.9h-14.6zM573.6 1066.1h14.6v13.9h-14.6zM573.6 998.1h14.6v13.9h-14.6zM588.1 1759.1h14.6v13.9h-14.6zM588.1 1623.2h14.6v13.9h-14.6zM588.1 1596.0h14.6v13.9h-14.6zM588.1 1514.5h14.6v13.9h-14.6zM588.1 1500.9h14.6v13.9h-14.6zM588.1 1446.5h14.6v13.9h-14.6zM588.1 1283.5h14.6v13.9h-14.6zM588.1 1147.6h14.6v13.9h-14.6zM588.1 1066.1h14.6v13.9h-14.6zM602.6 1772.7h14.6v13.9h-14.6zM602.6 1664.0h14.6v13.9h-14.6zM602.6 1623.2h14.6v13.9h-14.6zM602.6 1582.4h14.6v13.9h-14.6zM602.6 1568.8h14.6v13.9h-14.6zM602.6 1473.7h14.6v13.9h-14.6zM602.6 1460.1h14.6v13.9h-14.6zM602.6 1351.4h14.6v13.9h-14.6zM602.6 1324.2h14.6v13.9h-14.6zM602.6 1297.1h14.6v13.9h-14.6zM602.6 1269.9h14.6v13.9h-14.6zM602.6 1093.2h14.6v13.9h-14.6zM617.1 1745.5h14.6v13.9h-14.6zM617.1 1704.7h14.6v13.9h-14.6zM617.1 1419.4h14.6v13.9h-14.6zM617.1 1392.2h14.6v13.9h-14.6zM617.1 1283.5h14.6v13.9h-14.6zM617.1 1188.4h14.6v13.9h-14.6zM617.1 1161.2h14.6v13.9h-14.6zM617.1 1011.7h14.6v13.9h-14.6zM631.6 1718.3h14.6v13.9h-14.6zM631.6 1704.7h14.6v13.9h-14.6zM631.6 1636.8h14.6v13.9h-14.6zM631.6 1460.1h14.6v13.9h-14.6zM631.6 1446.5h14.6v13.9h-14.6zM631.6 1365.0h14.6v13.9h-14.6zM631.6 1310.7h14.6v13.9h-14.6zM631.6 1256.3h14.6v13.9h-14.6zM646.1 1473.7h14.6v13.9h-14.6zM646.1 1446.5h14.6v13.9h-14.6zM646.1 1365.0h14.6v13.9h-14.6zM646.1 1310.7h14.6v13.9h-14.6zM646.1 1242.7h14.6v13.9h-14.6zM646.1 1120.4h14.6v13.9h-14.6zM660.7 1813.4h14.6v13.9h-14.6zM660.7 1677.6h14.6v13.9h-14.6zM660.7 1500.9h14.6v13.9h-14.6zM660.7 1052.5h14.6v13.9h-14.6zM660.7 998.1h14.6v13.9h-14.6zM675.2 1704.7h14.6v13.9h-14.6zM675.2 1609.6h14.6v13.9h-14.6zM675.2 1568.8h14.6v13.9h-14.6zM675.2 1555.3h14.6v13.9h-14.6zM675.2 1460.1h14.6v13.9h-14.6zM675.2 1446.5h14.6v13.9h-14.6zM675.2 1405.8h14.6v13.9h-14.6zM675.2 1365.0h14.6v13.9h-14.6zM675.2 1215.5h14.6v13.9h-14.6zM675.2 1201.9h14.6v13.9h-14.6zM675.2 1120.4h14.6v13.9h-14.6zM675.2 1011.7h14.6v13.9h-14.6zM675.2 970.9h14.6v13.9h-14.6zM675.2 930.2h14.6v13.9h-14.6zM689.7 1867.8h14.6v13.9h-14.6zM689.7 1636.8h14.6v13.9h-14.6zM689.7 1514.5h14.6v13.9h-14.6zM689.7 1446.5h14.6v13.9h-14.6zM689.7 1433.0h14.6v13.9h-14.6zM689.7 1405.8h14.6v13.9h-14.6zM689.7 1392.2h14.6v13.9h-14.6zM689.7 1283.5h14.6v13.9h-14.6zM689.7 1052.5h14.6v13.9h-14.6zM704.2 1935.7h14.6v13.9h-14.6zM704.2 1799.9h14.6v13.9h-14.6zM704.2 1623.2h14.6v13.9h-14.6zM704.2 1582.4h14.6v13.9h-14.6zM704.2 1433.0h14.6v13.9h-14.6zM704.2 1365.0h14.6v13.9h-14.6zM704.2 1337.8h14.6v13.9h-14.6zM704.2 1324.2h14.6v13.9h-14.6zM704.2 1283.5h14.6v13.9h-14.6zM704.2 1229.1h14.6v13.9h-14.6zM704.2 1120.4h14.6v13.9h-14.6zM718.7 1759.1h14.6v13.9h-14.6zM718.7 1704.7h14.6v13.9h-14.6zM718.7 1555.3h14.6v13.9h-14.6zM718.7 1541.7h14.6v13.9h-14.6zM718.7 1473.7h14.6v13.9h-14.6zM718.7 1460.1h14.6v13.9h-14.6zM718.7 1446.5h14.6v13.9h-14.6zM718.7 1378.6h14.6v13.9h-14.6zM718.7 1297.1h14.6v13.9h-14.6zM718.7 1242.7h14.6v13.9h-14.6zM733.2 1609.6h14.6v13.9h-14.6zM733.2 1528.1h14.6v13.9h-14.6zM733.2 1446.5h14.6v13.9h-14.6zM733.2 1419.4h14.6v13.9h-14.6zM733.2 1378.6h14.6v13.9h-14.6zM733.2 1283.5h14.6v13.9h-14.6zM733.2 1256.3h14.6v13.9h-14.6zM733.2 1201.9h14.6v13.9h-14.6zM733.2 1120.4h14.6v13.9h-14.6zM733.2 875.8h14.6v13.9h-14.6zM747.8 1962.9h14.6v13.9h-14.6zM747.8 1704.7h14.6v13.9h-14.6zM747.8 1555.3h14.6v13.9h-14.6zM747.8 1528.1h14.6v13.9h-14.6zM747.8 1337.8h14.6v13.9h-14.6zM747.8 1256.3h14.6v13.9h-14.6zM747.8 1215.5h14.6v13.9h-14.6zM747.8 1120.4h14.6v13.9h-14.6zM762.3 1745.5h14.6v13.9h-14.6zM762.3 1636.8h14.6v13.9h-14.6zM762.3 1623.2h14.6v13.9h-14.6zM762.3 1568.8h14.6v13.9h-14.6zM762.3 1473.7h14.6v13.9h-14.6zM762.3 1446.5h14.6v13.9h-14.6zM762.3 1242.7h14.6v13.9h-14.6zM762.3 1201.9h14.6v13.9h-14.6zM762.3 1188.4h14.6v13.9h-14.6zM776.8 1718.3h14.6v13.9h-14.6zM776.8 1419.4h14.6v13.9h-14.6zM776.8 1392.2h14.6v13.9h-14.6zM776.8 1324.2h14.6v13.9h-14.6zM776.8 1283.5h14.6v13.9h-14.6zM776.8 1134.0h14.6v13.9h-14.6zM776.8 984.5h14.6v13.9h-14.6zM776.8 916.6h14.6v13.9h-14.6zM791.3 1636.8h14.6v13.9h-14.6zM791.3 1609.6h14.6v13.9h-14.6zM791.3 1555.3h14.6v13.9h-14.6zM791.3 1473.7h14.6v13.9h-14.6zM791.3 1337.8h14.6v13.9h-14.6zM805.8 1759.1h14.6v13.9h-14.6zM805.8 1718.3h14.6v13.9h-14.6zM805.8 1623.2h14.6v13.9h-14.6zM805.8 1609.6h14.6v13.9h-14.6zM805.8 1568.8h14.6v13.9h-14.6zM805.8 1392.2h14.6v13.9h-14.6zM805.8 1242.7h14.6v13.9h-14.6zM805.8 1229.1h14.6v13.9h-14.6zM805.8 1188.4h14.6v13.9h-14.6zM820.3 1691.1h14.6v13.9h-14.6zM820.3 1487.3h14.6v13.9h-14.6zM834.8 1786.3h14.6v13.9h-14.6zM834.8 1473.7h14.6v13.9h-14.6zM834.8 1419.4h14.6v13.9h-14.6zM834.8 1269.9h14.6v13.9h-14.6zM834.8 1242.7h14.6v13.9h-14.6zM834.8 1161.2h14.6v13.9h-14.6zM849.4 1541.7h14.6v13.9h-14.6zM849.4 1528.1h14.6v13.9h-14.6zM849.4 1514.5h14.6v13.9h-14.6zM849.4 1337.8h14.6v13.9h-14.6zM849.4 1256.3h14.6v13.9h-14.6zM849.4 1161.2h14.6v13.9h-14.6zM863.9 1514.5h14.6v13.9h-14.6zM863.9 1500.9h14.6v13.9h-14.6zM863.9 1392.2h14.6v13.9h-14.6zM863.9 1337.8h14.6v13.9h-14.6zM863.9 998.1h14.6v13.9h-14.6zM878.4 1487.3h14.6v13.9h-14.6zM878.4 1351.4h14.6v13.9h-14.6zM878.4 1310.7h14.6v13.9h-14.6zM878.4 1025.3h14.6v13.9h-14.6zM892.9 1881.4h14.6v13.9h-14.6zM892.9 1677.6h14.6v13.9h-14.6zM892.9 1582.4h14.6v13.9h-14.6zM892.9 1528.1h14.6v13.9h-14.6zM892.9 1337.8h14.6v13.9h-14.6zM892.9 1269.9h14.6v13.9h-14.6zM892.9 1242.7h14.6v13.9h-14.6zM892.9 1215.5h14.6v13.9h-14.6zM892.9 957.3h14.6v13.9h-14.6zM907.4 1365.0h14.6v13.9h-14.6zM907.4 1337.8h14.6v13.9h-14.6zM907.4 1297.1h14.6v13.9h-14.6zM907.4 1215.5h14.6v13.9h-14.6zM907.4 1147.6h14.6v13.9h-14.6zM921.9 1840.6h14.6v13.9h-14.6zM921.9 1827.0h14.6v13.9h-14.6zM921.9 1772.7h14.6v13.9h-14.6zM921.9 1460.1h14.6v13.9h-14.6zM921.9 1419.4h14.6v13.9h-14.6zM921.9 1378.6h14.6v13.9h-14.6zM921.9 1351.4h14.6v13.9h-14.6zM921.9 1242.7h14.6v13.9h-14.6zM921.9 1106.8h14.6v13.9h-14.6zM921.9 1052.5h14.6v13.9h-14.6zM936.5 1718.3h14.6v13.9h-14.6zM936.5 1664.0h14.6v13.9h-14.6zM936.5 1528.1h14.6v13.9h-14.6zM936.5 1405.8h14.6v13.9h-14.6zM936.5 1392.2h14.6v13.9h-14.6zM936.5 1378.6h14.6v13.9h-14.6zM936.5 1324.2h14.6v13.9h-14.6zM936.5 1297.1h14.6v13.9h-14.6zM936.5 1283.5h14.6v13.9h-14.6zM936.5 1269.9h14.6v13.9h-14.6zM951.0 1718.3h14.6v13.9h-14.6zM951.0 1582.4h14.6v13.9h-14.6zM951.0 1419.4h14.6v13.9h-14.6zM951.0 1378.6h14.6v13.9h-14.6zM951.0 1215.5h14.6v13.9h-14.6zM951.0 998.1h14.6v13.9h-14.6zM965.5 1827.0h14.6v13.9h-14.6zM965.5 1745.5h14.6v13.9h-14.6zM965.5 1568.8h14.6v13.9h-14.6zM965.5 1514.5h14.6v13.9h-14.6zM965.5 1473.7h14.6v13.9h-14.6zM965.5 1460.1h14.6v13.9h-14.6zM965.5 1283.5h14.6v13.9h-14.6zM965.5 1215.5h14.6v13.9h-14.6zM965.5 1134.0h14.6v13.9h-14.6zM980.0 1908.6h14.6v13.9h-14.6zM980.0 1731.9h14.6v13.9h-14.6zM980.0 1487.3h14.6v13.9h-14.6zM980.0 1161.2h14.6v13.9h-14.6zM994.5 1596.0h14.6v13.9h-14.6zM994.5 1473.7h14.6v13.9h-14.6zM994.5 1460.1h14.6v13.9h-14.6zM994.5 1324.2h14.6v13.9h-14.6zM994.5 1310.7h14.6v13.9h-14.6zM994.5 1283.5h14.6v13.9h-14.6zM1009.0 1731.9h14.6v13.9h-14.6zM1009.0 1528.1h14.6v13.9h-14.6zM1009.0 1514.5h14.6v13.9h-14.6zM1009.0 1351.4h14.6v13.9h-14.6zM1009.0 1310.7h14.6v13.9h-14.6zM1009.0 1147.6h14.6v13.9h-14.6zM1009.0 1038.9h14.6v13.9h-14.6zM1023.5 1935.7h14.6v13.9h-14.6zM1023.5 1704.7h14.6v13.9h-14.6zM1038.1 1636.8h14.6v13.9h-14.6zM1038.1 1596.0h14.6v13.9h-14.6zM1038.1 1528.1h14.6v13.9h-14.6zM1038.1 1473.7h14.6v13.9h-14.6zM1052.6 1473.7h14.6v13.9h-14.6zM1052.6 1433.0h14.6v13.9h-14.6zM1052.6 1337.8h14.6v13.9h-14.6zM1067.1 1664.0h14.6v13.9h-14.6zM1067.1 1433.0h14.6v13.9h-14.6zM1067.1 1365.0h14.6v13.9h-14.6zM1067.1 1215.5h14.6v13.9h-14.6zM1067.1 1174.8h14.6v13.9h-14.6zM1081.6 1500.9h14.6v13.9h-14.6zM1081.6 1487.3h14.6v13.9h-14.6zM1081.6 1052.5h14.6v13.9h-14.6zM1081.6 984.5h14.6v13.9h-14.6zM1096.1 1799.9h14.6v13.9h-14.6zM1096.1 1528.1h14.6v13.9h-14.6zM1096.1 1365.0h14.6v13.9h-14.6zM1096.1 1310.7h14.6v13.9h-14.6zM1125.1 1636.8h14.6v13.9h-14.6zM1125.1 1473.7h14.6v13.9h-14.6zM1125.1 1446.5h14.6v13.9h-14.6zM1125.1 1201.9h14.6v13.9h-14.6zM1125.1 1188.4h14.6v13.9h-14.6zM1139.7 1799.9h14.6v13.9h-14.6zM1139.7 1704.7h14.6v13.9h-14.6zM1139.7 1623.2h14.6v13.9h-14.6zM1139.7 1541.7h14.6v13.9h-14.6zM1139.7 1256.3h14.6v13.9h-14.6zM1139.7 1106.8h14.6v13.9h-14.6zM1168.7 1025.3h14.6v13.9h-14.6zM1197.7 1867.8h14.6v13.9h-14.6zM1197.7 1446.5h14.6v13.9h-14.6zM1197.7 1419.4h14.6v13.9h-14.6zM1197.7 1310.7h14.6v13.9h-14.6zM1212.2 1623.2h14.6v13.9h-14.6zM1212.2 1460.1h14.6v13.9h-14.6zM1212.2 1337.8h14.6v13.9h-14.6zM1226.8 1256.3h14.6v13.9h-14.6zM1241.3 1297.1h14.6v13.9h-14.6zM1255.8 1446.5h14.6v13.9h-14.6zM1284.8 1514.5h14.6v13.9h-14.6zM1284.8 1392.2h14.6v13.9h-14.6zM1284.8 1229.1h14.6v13.9h-14.6zM1299.3 1500.9h14.6v13.9h-14.6zM1299.3 1378.6h14.6v13.9h-14.6zM1299.3 1297.1h14.6v13.9h-14.6zM1328.4 1623.2h14.6v13.9h-14.6zM1371.9 1528.1h14.6v13.9h-14.6zM1371.9 1419.4h14.6v13.9h-14.6zM1386.4 1188.4h14.6v13.9h-14.6zM1430.0 1623.2h14.6v13.9h-14.6zM1444.5 1555.3h14.6v13.9h-14.6zM1444.5 1405.8h14.6v13.9h-14.6zM1444.5 1378.6h14.6v13.9h-14.6zM1459.0 1568.8h14.6v13.9h-14.6zM1459.0 1541.7h14.6v13.9h-14.6zM1459.0 1460.1h14.6v13.9h-14.6zM1459.0 1378.6h14.6v13.9h-14.6zM1459.0 1351.4h14.6v13.9h-14.6zM1473.5 1555.3h14.6v13.9h-14.6zM1473.5 1528.1h14.6v13.9h-14.6zM1473.5 1378.6h14.6v13.9h-14.6zM1488.0 1528.1h14.6v13.9h-14.6zM1488.0 1500.9h14.6v13.9h-14.6zM1488.0 1405.8h14.6v13.9h-14.6zM1488.0 1392.2h14.6v13.9h-14.6zM1488.0 1378.6h14.6v13.9h-14.6zM1488.0 1351.4h14.6v13.9h-14.6zM1488.0 1337.8h14.6v13.9h-14.6zM1488.0 1283.5h14.6v13.9h-14.6zM1502.5 1446.5h14.6v13.9h-14.6zM1502.5 1433.0h14.6v13.9h-14.6zM1502.5 1419.4h14.6v13.9h-14.6zM1502.5 1378.6h14.6v13.9h-14.6zM1502.5 1337.8h14.6v13.9h-14.6zM1517.0 1514.5h14.6v13.9h-14.6zM1517.0 1487.3h14.6v13.9h-14.6zM1531.6 1446.5h14.6v13.9h-14.6zM1531.6 1419.4h14.6v13.9h-14.6zM1531.6 1283.5h14.6v13.9h-14.6zM1531.6 1269.9h14.6v13.9h-14.6zM1546.1 1568.8h14.6v13.9h-14.6zM1546.1 1460.1h14.6v13.9h-14.6zM1546.1 1433.0h14.6v13.9h-14.6zM1546.1 1337.8h14.6v13.9h-14.6zM1560.6 1500.9h14.6v13.9h-14.6zM1560.6 1487.3h14.6v13.9h-14.6zM1560.6 1324.2h14.6v13.9h-14.6zM1575.1 1419.4h14.6v13.9h-14.6zM1575.1 1365.0h14.6v13.9h-14.6zM1575.1 1297.1h14.6v13.9h-14.6zM1589.6 1487.3h14.6v13.9h-14.6zM1589.6 1433.0h14.6v13.9h-14.6zM1633.2 1405.8h14.6v13.9h-14.6zM1734.8 1419.4h14.6v13.9h-14.6zM1749.3 1433.0h14.6v13.9h-14.6z"/>
<path fill="#03406a" d="M370.4 1718.3h14.6v13.9h-14.6zM384.9 1650.4h14.6v13.9h-14.6zM384.9 1623.2h14.6v13.9h-14.6zM384.9 1596.0h14.6v13.9h-14.6zM384.9 1378.6h14.6v13.9h-14.6zM384.9 1242.7h14.6v13.9h-14.6zM384.9 1134.0h14.6v13.9h-14.6zM399.4 1731.9h14.6v13.9h-14.6zM399.4 1691.1h14.6v13.9h-14.6zM399.4 1596.0h14.6v13.9h-14.6zM399.4 1500.9h14.6v13.9h-14.6zM399.4 1473.7h14.6v13.9h-14.6zM399.4 1106.8h14.6v13.9h-14.6zM413.9 1799.9h14.6v13.9h-14.6zM413.9 1731.9h14.6v13.9h-14.6zM413.9 1664.0h14.6v13.9h-14.6zM413.9 1405.8h14.6v13.9h-14.6zM413.9 1392.2h14.6v13.9h-14.6zM413.9 1297.1h14.6v13.9h-14.6zM413.9 1188.4h14.6v13.9h-14.6zM413.9 1079.6h14.6v13.9h-14.6zM428.4 1609.6h14.6v13.9h-14.6zM428.4 1568.8h14.6v13.9h-14.6zM428.4 1378.6h14.6v13.9h-14.6zM428.4 1174.8h14.6v13.9h-14.6zM442.9 1541.7h14.6v13.9h-14.6zM442.9 1405.8h14.6v13.9h-14.6zM442.9 1256.3h14.6v13.9h-14.6zM442.9 903.0h14.6v13.9h-14.6zM457.5 1460.1h14.6v13.9h-14.6zM457.5 1378.6h14.6v13.9h-14.6zM457.5 1324.2h14.6v13.9h-14.6zM472.0 1664.0h14.6v13.9h-14.6zM472.0 1500.9h14.6v13.9h-14.6zM472.0 1460.1h14.6v13.9h-14.6zM472.0 1256.3h14.6v13.9h-14.6zM486.5 1772.7h14.6v13.9h-14.6zM486.5 1623.2h14.6v13.9h-14.6zM486.5 1582.4h14.6v13.9h-14.6zM486.5 1555.3h14.6v13.9h-14.6zM486.5 1378.6h14.6v13.9h-14.6zM486.5 1337.8h14.6v13.9h-14.6zM486.5 1324.2h14.6v13.9h-14.6zM486.5 998.1h14.6v13.9h-14.6zM501.0 1392.2h14.6v13.9h-14.6zM515.5 1609.6h14.6v13.9h-14.6zM515.5 1514.5h14.6v13.9h-14.6zM515.5 1446.5h14.6v13.9h-14.6zM515.5 1433.0h14.6v13.9h-14.6zM515.5 1392.2h14.6v13.9h-14.6zM515.5 1365.0h14.6v13.9h-14.6zM515.5 1324.2h14.6v13.9h-14.6zM515.5 1269.9h14.6v13.9h-14.6zM530.0 1813.4h14.6v13.9h-14.6zM530.0 1664.0h14.6v13.9h-14.6zM530.0 1487.3h14.6v13.9h-14.6zM530.0 1392.2h14.6v13.9h-14.6zM530.0 1351.4h14.6v13.9h-14.6zM530.0 1134.0h14.6v13.9h-14.6zM530.0 1066.1h14.6v13.9h-14.6zM530.0 1052.5h14.6v13.9h-14.6zM530.0 1038.9h14.6v13.9h-14.6zM544.5 1718.3h14.6v13.9h-14.6zM544.5 1636.8h14.6v13.9h-14.6zM544.5 1596.0h14.6v13.9h-14.6zM544.5 1473.7h14.6v13.9h-14.6zM544.5 1392.2h14.6v13.9h-14.6zM544.5 1297.1h14.6v13.9h-14.6zM544.5 1052.5h14.6v13.9h-14.6zM559.1 1772.7h14.6v13.9h-14.6zM559.1 1704.7h14.6v13.9h-14.6zM559.1 1677.6h14.6v13.9h-14.6zM559.1 1487.3h14.6v13.9h-14.6zM559.1 1242.7h14.6v13.9h-14.6zM559.1 1174.8h14.6v13.9h-14.6zM559.1 1011.7h14.6v13.9h-14.6zM573.6 1799.9h14.6v13.9h-14.6zM573.6 1718.3h14.6v13.9h-14.6zM573.6 1691.1h14.6v13.9h-14.6zM573.6 1623.2h14.6v13.9h-14.6zM573.6 1541.7h14.6v13.9h-14.6zM573.6 1514.5h14.6v13.9h-14.6zM588.1 1718.3h14.6v13.9h-14.6zM588.1 1528.1h14.6v13.9h-14.6zM588.1 1337.8h14.6v13.9h-14.6zM588.1 1324.2h14.6v13.9h-14.6zM588.1 1215.5h14.6v13.9h-14.6zM588.1 1161.2h14.6v13.9h-14.6zM588.1 1134.0h14.6v13.9h-14.6zM588.1 1106.8h14.6v13.9h-14.6zM588.1 1025.3h14.6v13.9h-14.6zM602.6 1731.9h14.6v13.9h-14.6zM602.6 1528.1h14.6v13.9h-14.6zM602.6 1514.5h14.6v13.9h-14.6zM602.6 1433.0h14.6v13.9h-14.6zM602.6 1405.8h14.6v13.9h-14.6zM602.6 1378.6h14.6v13.9h-14.6zM617.1 1895.0h14.6v13.9h-14.6zM617.1 1867.8h14.6v13.9h-14.6zM617.1 1813.4h14.6v13.9h-14.6zM617.1 1799.9h14.6v13.9h-14.6zM617.1 1528.1h14.6v13.9h-14.6zM617.1 1460.1h14.6v13.9h-14.6zM617.1 1365.0h14.6v13.9h-14.6zM617.1 1324.2h14.6v13.9h-14.6zM617.1 1229.1h14.6v13.9h-14.6zM617.1 1079.6h14.6v13.9h-14.6zM631.6 1786.3h14.6v13.9h-14.6zM631.6 1731.9h14.6v13.9h-14.6zM631.6 1568.8h14.6v13.9h-14.6zM631.6 1500.9h14.6v13.9h-14.6zM631.6 1242.7h14.6v13.9h-14.6zM631.6 1229.1h14.6v13.9h-14.6zM631.6 1161.2h14.6v13.9h-14.6zM631.6 1106.8h14.6v13.9h-14.6zM631.6 1038.9h14.6v13.9h-14.6zM646.1 1623.2h14.6v13.9h-14.6zM646.1 1324.2h14.6v13.9h-14.6zM646.1 1147.6h14.6v13.9h-14.6zM646.1 1011.7h14.6v13.9h-14.6zM660.7 1691.1h14.6v13.9h-14.6zM660.7 1664.0h14.6v13.9h-14.6zM660.7 1650.4h14.6v13.9h-14.6zM660.7 1636.8h14.6v13.9h-14.6zM660.7 1528.1h14.6v13.9h-14.6zM660.7 1433.0h14.6v13.9h-14.6zM660.7 1365.0h14.6v13.9h-14.6zM660.7 1011.7h14.6v13.9h-14.6zM675.2 1895.0h14.6v13.9h-14.6zM675.2 1731.9h14.6v13.9h-14.6zM675.2 1636.8h14.6v13.9h-14.6zM675.2 1541.7h14.6v13.9h-14.6zM675.2 1528.1h14.6v13.9h-14.6zM675.2 1487.3h14.6v13.9h-14.6zM675.2 1351.4h14.6v13.9h-14.6zM675.2 1256.3h14.6v13.9h-14.6zM675.2 1161.2h14.6v13.9h-14.6zM675.2 1025.3h14.6v13.9h-14.6zM675.2 943.8h14.6v13.9h-14.6zM689.7 1772.7h14.6v13.9h-14.6zM689.7 1731.9h14.6v13.9h-14.6zM689.7 1555.3h14.6v13.9h-14.6zM689.7 1500.9h14.6v13.9h-14.6zM689.7 1378.6h14.6v13.9h-14.6zM689.7 1242.7h14.6v13.9h-14.6zM689.7 1201.9h14.6v13.9h-14.6zM689.7 1188.4h14.6v13.9h-14.6zM689.7 1120.4h14.6v13.9h-14.6zM689.7 1066.1h14.6v13.9h-14.6zM704.2 1827.0h14.6v13.9h-14.6zM704.2 1691.1h14.6v13.9h-14.6zM704.2 1677.6h14.6v13.9h-14.6zM704.2 1541.7h14.6v13.9h-14.6zM704.2 1487.3h14.6v13.9h-14.6zM704.2 1460.1h14.6v13.9h-14.6zM704.2 1011.7h14.6v13.9h-14.6zM718.7 1813.4h14.6v13.9h-14.6zM718.7 1786.3h14.6v13.9h-14.6zM718.7 1623.2h14.6v13.9h-14.6zM718.7 1514.5h14.6v13.9h-14.6zM718.7 1419.4h14.6v13.9h-14.6zM718.7 1337.8h14.6v13.9h-14.6zM718.7 1201.9h14.6v13.9h-14.6zM718.7 1134.0h14.6v13.9h-14.6zM718.7 875.8h14.6v13.9h-14.6zM733.2 1881.4h14.6v13.9h-14.6zM733.2 1623.2h14.6v13.9h-14.6zM733.2 1568.8h14.6v13.9h-14.6zM733.2 1555.3h14.6v13.9h-14.6zM733.2 1541.7h14.6v13.9h-14.6zM733.2 1500.9h14.6v13.9h-14.6zM733.2 1487.3h14.6v13.9h-14.6zM733.2 1433.0h14.6v13.9h-14.6zM733.2 1405.8h14.6v13.9h-14.6zM733.2 1242.7h14.6v13.9h-14.6zM733.2 1215.5h14.6v13.9h-14.6zM733.2 1174.8h14.6v13.9h-14.6zM733.2 1161.2h14.6v13.9h-14.6zM733.2 1147.6h14.6v13.9h-14.6zM747.8 1990.1h14.6v13.9h-14.6zM747.8 1500.9h14.6v13.9h-14.6zM747.8 1473.7h14.6v13.9h-14.6zM747.8 1269.9h14.6v13.9h-14.6zM747.8 998.1h14.6v13.9h-14.6zM747.8 807.9h14.6v13.9h-14.6zM762.3 1677.6h14.6v13.9h-14.6zM762.3 1555.3h14.6v13.9h-14.6zM762.3 1460.1h14.6v13.9h-14.6zM762.3 1351.4h14.6v13.9h-14.6zM762.3 1256.3h14.6v13.9h-14.6zM776.8 1664.0h14.6v13.9h-14.6zM776.8 1636.8h14.6v13.9h-14.6zM776.8 1609.6h14.6v13.9h-14.6zM776.8 1568.8h14.6v13.9h-14.6zM776.8 1487.3h14.6v13.9h-14.6zM776.8 1365.0h14.6v13.9h-14.6zM776.8 1310.7h14.6v13.9h-14.6zM776.8 1297.1h14.6v13.9h-14.6zM776.8 1201.9h14.6v13.9h-14.6zM776.8 1188.4h14.6v13.9h-14.6zM776.8 1079.6h14.6v13.9h-14.6zM776.8 943.8h14.6v13.9h-14.6zM791.3 1514.5h14.6v13.9h-14.6zM791.3 1500.9h14.6v13.9h-14.6zM791.3 1487.3h14.6v13.9h-14.6zM805.8 1636.8h14.6v13.9h-14.6zM805.8 1487.3h14.6v13.9h-14.6zM805.8 1365.0h14.6v13.9h-14.6zM805.8 1269.9h14.6v13.9h-14.6zM805.8 998.1h14.6v13.9h-14.6zM805.8 970.9h14.6v13.9h-14.6zM820.3 1664.0h14.6v13.9h-14.6zM820.3 1433.0h14.6v13.9h-14.6zM820.3 1392.2h14.6v13.9h-14.6zM820.3 1337.8h14.6v13.9h-14.6zM820.3 1283.5h14.6v13.9h-14.6zM820.3 1269.9h14.6v13.9h-14.6zM820.3 1215.5h14.6v13.9h-14.6zM820.3 1188.4h14.6v13.9h-14.6zM834.8 1650.4h14.6v13.9h-14.6zM834.8 1623.2h14.6v13.9h-14.6zM834.8 1596.0h14.6v13.9h-14.6zM834.8 1555.3h14.6v13.9h-14.6zM834.8 1365.0h14.6v13.9h-14.6zM834.8 1310.7h14.6v13.9h-14.6zM849.4 1664.0h14.6v13.9h-14.6zM849.4 1636.8h14.6v13.9h-14.6zM849.4 1582.4h14.6v13.9h-14.6zM849.4 1568.8h14.6v13.9h-14.6zM849.4 1487.3h14.6v13.9h-14.6zM849.4 1405.8h14.6v13.9h-14.6zM849.4 1269.9h14.6v13.9h-14.6zM849.4 970.9h14.6v13.9h-14.6zM863.9 1636.8h14.6v13.9h-14.6zM863.9 1596.0h14.6v13.9h-14.6zM863.9 1568.8h14.6v13.9h-14.6zM863.9 1446.5h14.6v13.9h-14.6zM863.9 1324.2h14.6v13.9h-14.6zM863.9 1310.7h14.6v13.9h-14.6zM863.9 1256.3h14.6v13.9h-14.6zM863.9 1215.5h14.6v13.9h-14.6zM878.4 1596.0h14.6v13.9h-14.6zM878.4 1514.5h14.6v13.9h-14.6zM878.4 1419.4h14.6v13.9h-14.6zM892.9 1772.7h14.6v13.9h-14.6zM892.9 1636.8h14.6v13.9h-14.6zM892.9 1596.0h14.6v13.9h-14.6zM892.9 1419.4h14.6v13.9h-14.6zM892.9 1283.5h14.6v13.9h-14.6zM892.9 1134.0h14.6v13.9h-14.6zM892.9 1025.3h14.6v13.9h-14.6zM892.9 943.8h14.6v13.9h-14.6zM907.4 1731.9h14.6v13.9h-14.6zM907.4 1636.8h14.6v13.9h-14.6zM907.4 1419.4h14.6v13.9h-14.6zM907.4 1351.4h14.6v13.9h-14.6zM907.4 1242.7h14.6v13.9h-14.6zM921.9 1623.2h14.6v13.9h-14.6zM921.9 1609.6h14.6v13.9h-14.6zM921.9 1079.6h14.6v13.9h-14.6zM936.5 1731.9h14.6v13.9h-14.6zM936.5 1650.4h14.6v13.9h-14.6zM936.5 1514.5h14.6v13.9h-14.6zM936.5 1473.7h14.6v13.9h-14.6zM936.5 1351.4h14.6v13.9h-14.6zM936.5 1310.7h14.6v13.9h-14.6zM936.5 1188.4h14.6v13.9h-14.6zM951.0 1609.6h14.6v13.9h-14.6zM951.0 1596.0h14.6v13.9h-14.6zM951.0 1541.7h14.6v13.9h-14.6zM951.0 1500.9h14.6v13.9h-14.6zM951.0 1242.7h14.6v13.9h-14.6zM965.5 1500.9h14.6v13.9h-14.6zM965.5 1446.5h14.6v13.9h-14.6zM965.5 1392.2h14.6v13.9h-14.6zM965.5 930.2h14.6v13.9h-14.6zM980.0 1799.9h14.6v13.9h-14.6zM980.0 1514.5h14.6v13.9h-14.6zM980.0 1351.4h14.6v13.9h-14.6zM980.0 1242.7h14.6v13.9h-14.6zM980.0 1174.8h14.6v13.9h-14.6zM994.5 1745.5h14.6v13.9h-14.6zM994.5 1718.3h14.6v13.9h-14.6zM994.5 1582.4h14.6v13.9h-14.6zM994.5 1514.5h14.6v13.9h-14.6zM994.5 1500.9h14.6v13.9h-14.6zM994.5 1446.5h14.6v13.9h-14.6zM994.5 1405.8h14.6v13.9h-14.6zM994.5 1378.6h14.6v13.9h-14.6zM994.5 1038.9h14.6v13.9h-14.6zM994.5 903.0h14.6v13.9h-14.6zM1009.0 1840.6h14.6v13.9h-14.6zM1009.0 1541.7h14.6v13.9h-14.6zM1009.0 1405.8h14.6v13.9h-14.6zM1009.0 1297.1h14.6v13.9h-14.6zM1009.0 1215.5h14.6v13.9h-14.6zM1009.0 1201.9h14.6v13.9h-14.6zM1009.0 903.0h14.6v13.9h-14.6zM1023.5 1745.5h14.6v13.9h-14.6zM1023.5 1528.1h14.6v13.9h-14.6zM1023.5 1419.4h14.6v13.9h-14.6zM1023.5 1242.7h14.6v13.9h-14.6zM1023.5 1052.5h14.6v13.9h-14.6zM1038.1 1786.3h14.6v13.9h-14.6zM1038.1 1446.5h14.6v13.9h-14.6zM1038.1 1297.1h14.6v13.9h-14.6zM1038.1 1134.0h14.6v13.9h-14.6zM1038.1 930.2h14.6v13.9h-14.6zM1052.6 1609.6h14.6v13.9h-14.6zM1052.6 1324.2h14.6v13.9h-14.6zM1067.1 1922.2h14.6v13.9h-14.6zM1067.1 1568.8h14.6v13.9h-14.6zM1067.1 1500.9h14.6v13.9h-14.6zM1067.1 1242.7h14.6v13.9h-14.6zM1081.6 1609.6h14.6v13.9h-14.6zM1081.6 1541.7h14.6v13.9h-14.6zM1081.6 1473.7h14.6v13.9h-14.6zM1081.6 1365.0h14.6v13.9h-14.6zM1081.6 1188.4h14.6v13.9h-14.6zM1096.1 1650.4h14.6v13.9h-14.6zM1096.1 1609.6h14.6v13.9h-14.6zM1096.1 1419.4h14.6v13.9h-14.6zM1096.1 1229.1h14.6v13.9h-14.6zM1110.6 1759.1h14.6v13.9h-14.6zM1110.6 1677.6h14.6v13.9h-14.6zM1110.6 1392.2h14.6v13.9h-14.6zM1110.6 1324.2h14.6v13.9h-14.6zM1110.6 998.1h14.6v13.9h-14.6zM1125.1 1609.6h14.6v13.9h-14.6zM1125.1 1528.1h14.6v13.9h-14.6zM1125.1 1419.4h14.6v13.9h-14.6zM1125.1 1365.0h14.6v13.9h-14.6zM1125.1 1256.3h14.6v13.9h-14.6zM1125.1 1229.1h14.6v13.9h-14.6zM1125.1 1174.8h14.6v13.9h-14.6zM1139.7 1337.8h14.6v13.9h-14.6zM1139.7 1269.9h14.6v13.9h-14.6zM1139.7 1025.3h14.6v13.9h-14.6zM1154.2 1460.1h14.6v13.9h-14.6zM1154.2 1419.4h14.6v13.9h-14.6zM1154.2 1365.0h14.6v13.9h-14.6zM1154.2 1052.5h14.6v13.9h-14.6zM1168.7 1473.7h14.6v13.9h-14.6zM1183.2 1555.3h14.6v13.9h-14.6zM1183.2 1541.7h14.6v13.9h-14.6zM1183.2 1297.1h14.6v13.9h-14.6zM1197.7 1514.5h14.6v13.9h-14.6zM1197.7 1500.9h14.6v13.9h-14.6zM1197.7 1269.9h14.6v13.9h-14.6zM1212.2 1840.6h14.6v13.9h-14.6zM1212.2 1528.1h14.6v13.9h-14.6zM1226.8 1677.6h14.6v13.9h-14.6zM1226.8 1392.2h14.6v13.9h-14.6zM1226.8 1269.9h14.6v13.9h-14.6zM1226.8 1134.0h14.6v13.9h-14.6zM1255.8 1405.8h14.6v13.9h-14.6zM1270.3 1297.1h14.6v13.9h-14.6zM1270.3 957.3h14.6v13.9h-14.6zM1284.8 1487.3h14.6v13.9h-14.6zM1284.8 1365.0h14.6v13.9h-14.6zM1284.8 1337.8h14.6v13.9h-14.6zM1313.8 1392.2h14.6v13.9h-14.6zM1328.4 1446.5h14.6v13.9h-14.6zM1371.9 1541.7h14.6v13.9h-14.6zM1386.4 1596.0h14.6v13.9h-14.6zM1386.4 1283.5h14.6v13.9h-14.6zM1400.9 1392.2h14.6v13.9h-14.6zM1400.9 1324.2h14.6v13.9h-14.6zM1430.0 1392.2h14.6v13.9h-14.6zM1444.5 1514.5h14.6v13.9h-14.6zM1459.0 1052.5h14.6v13.9h-14.6zM1473.5 1500.9h14.6v13.9h-14.6zM1473.5 1365.0h14.6v13.9h-14.6zM1488.0 1473.7h14.6v13.9h-14.6zM1488.0 1446.5h14.6v13.9h-14.6zM1488.0 1419.4h14.6v13.9h-14.6zM1502.5 1351.4h14.6v13.9h-14.6zM1502.5 1297.1h14.6v13.9h-14.6zM1517.0 1419.4h14.6v13.9h-14.6zM1517.0 1242.7h14.6v13.9h-14.6zM1531.6 1433.0h14.6v13.9h-14.6zM1531.6 1405.8h14.6v13.9h-14.6zM1546.1 1351.4h14.6v13.9h-14.6zM1575.1 1473.7h14.6v13.9h-14.6zM1575.1 1337.8h14.6v13.9h-14.6zM1589.6 1392.2h14.6v13.9h-14.6zM1589.6 1242.7h14.6v13.9h-14.6zM1604.1 1419.4h14.6v13.9h-14.6zM1604.1 1392.2h14.6v13.9h-14.6zM1618.7 1283.5h14.6v13.9h-14.6zM1647.7 1351.4h14.6v13.9h-14.6zM1676.7 1555.3h14.6v13.9h-14.6z"/>
<path fill="#044466" d="M355.9 1867.8h14.6v13.9h-14.6zM355.9 1188.4h14.6v13.9h-14.6zM384.9 1365.0h14.6v13.9h-14.6zM384.9 1269.9h14.6v13.9h-14.6zM384.9 1147.6h14.6v13.9h-14.6zM399.4 1895.0h14.6v13.9h-14.6zM399.4 1718.3h14.6v13.9h-14.6zM399.4 1664.0h14.6v13.9h-14.6zM399.4 1324.2h14.6v13.9h-14.6zM399.4 1229.1h14.6v13.9h-14.6zM399.4 1201.9h14.6v13.9h-14.6zM413.9 1242.7h14.6v13.9h-14.6zM413.9 984.5h14.6v13.9h-14.6zM413.9 970.9h14.6v13.9h-14.6zM428.4 1691.1h14.6v13.9h-14.6zM428.4 1636.8h14.6v13.9h-14.6zM428.4 1337.8h14.6v13.9h-14.6zM428.4 1011.7h14.6v13.9h-14.6zM442.9 1636.8h14.6v13.9h-14.6zM442.9 1568.8h14.6v13.9h-14.6zM442.9 1351.4h14.6v13.9h-14.6zM442.9 1201.9h14.6v13.9h-14.6zM457.5 1541.7h14.6v13.9h-14.6zM457.5 1446.5h14.6v13.9h-14.6zM457.5 1419.4h14.6v13.9h-14.6zM457.5 1392.2h14.6v13.9h-14.6zM457.5 1093.2h14.6v13.9h-14.6zM472.0 1772.7h14.6v13.9h-14.6zM472.0 1759.1h14.6v13.9h-14.6zM472.0 1623.2h14.6v13.9h-14.6zM472.0 1555.3h14.6v13.9h-14.6zM472.0 1419.4h14.6v13.9h-14.6zM472.0 1365.0h14.6v13.9h-14.6zM472.0 1337.8h14.6v13.9h-14.6zM472.0 1283.5h14.6v13.9h-14.6zM472.0 1242.7h14.6v13.9h-14.6zM472.0 916.6h14.6v13.9h-14.6zM486.5 1840.6h14.6v13.9h-14.6zM486.5 1759.1h14.6v13.9h-14.6zM486.5 1609.6h14.6v13.9h-14.6zM486.5 1514.5h14.6v13.9h-14.6zM486.5 1487.3h14.6v13.9h-14.6zM486.5 1473.7h14.6v13.9h-14.6zM486.5 1446.5h14.6v13.9h-14.6zM486.5 1269.9h14.6v13.9h-14.6zM486.5 1188.4h14.6v13.9h-14.6zM486.5 984.5h14.6v13.9h-14.6zM501.0 1650.4h14.6v13.9h-14.6zM501.0 1514.5h14.6v13.9h-14.6zM501.0 1500.9h14.6v13.9h-14.6zM501.0 1487.3h14.6v13.9h-14.6zM501.0 1446.5h14.6v13.9h-14.6zM501.0 1283.5h14.6v13.9h-14.6zM501.0 1242.7h14.6v13.9h-14.6zM501.0 889.4h14.6v13.9h-14.6zM515.5 1867.8h14.6v13.9h-14.6zM515.5 1636.8h14.6v13.9h-14.6zM515.5 1419.4h14.6v13.9h-14.6zM515.5 1256.3h14.6v13.9h-14.6zM515.5 1242.7h14.6v13.9h-14.6zM515.5 1011.7h14.6v13.9h-14.6zM530.0 1596.0h14.6v13.9h-14.6zM530.0 1555.3h14.6v13.9h-14.6zM530.0 1541.7h14.6v13.9h-14.6zM530.0 1500.9h14.6v13.9h-14.6zM530.0 1446.5h14.6v13.9h-14.6zM530.0 1405.8h14.6v13.9h-14.6zM530.0 1337.8h14.6v13.9h-14.6zM530.0 1324.2h14.6v13.9h-14.6zM530.0 943.8h14.6v13.9h-14.6zM530.0 930.2h14.6v13.9h-14.6zM544.5 1799.9h14.6v13.9h-14.6zM544.5 1664.0h14.6v13.9h-14.6zM544.5 1419.4h14.6v13.9h-14.6zM544.5 1242.7h14.6v13.9h-14.6zM544.5 1229.1h14.6v13.9h-14.6zM544.5 1188.4h14.6v13.9h-14.6zM544.5 1120.4h14.6v13.9h-14.6zM544.5 1079.6h14.6v13.9h-14.6zM559.1 1786.3h14.6v13.9h-14.6zM559.1 1650.4h14.6v13.9h-14.6zM559.1 1623.2h14.6v13.9h-14.6zM559.1 1460.1h14.6v13.9h-14.6zM559.1 1215.5h14.6v13.9h-14.6zM573.6 1731.9h14.6v13.9h-14.6zM573.6 1704.7h14.6v13.9h-14.6zM573.6 1528.1h14.6v13.9h-14.6zM573.6 1337.8h14.6v13.9h-14.6zM573.6 1134.0h14.6v13.9h-14.6zM573.6 1052.5h14.6v13.9h-14.6zM573.6 1038.9h14.6v13.9h-14.6zM588.1 1935.7h14.6v13.9h-14.6zM588.1 1704.7h14.6v13.9h-14.6zM588.1 1650.4h14.6v13.9h-14.6zM588.1 1555.3h14.6v13.9h-14.6zM588.1 1487.3h14.6v13.9h-14.6zM588.1 1405.8h14.6v13.9h-14.6zM588.1 1256.3h14.6v13.9h-14.6zM602.6 1677.6h14.6v13.9h-14.6zM602.6 1636.8h14.6v13.9h-14.6zM602.6 1609.6h14.6v13.9h-14.6zM602.6 1596.0h14.6v13.9h-14.6zM602.6 1337.8h14.6v13.9h-14.6zM602.6 1310.7h14.6v13.9h-14.6zM602.6 998.1h14.6v13.9h-14.6zM617.1 1609.6h14.6v13.9h-14.6zM617.1 1405.8h14.6v13.9h-14.6zM617.1 1310.7h14.6v13.9h-14.6zM617.1 1256.3h14.6v13.9h-14.6zM617.1 1134.0h14.6v13.9h-14.6zM617.1 1120.4h14.6v13.9h-14.6zM617.1 984.5h14.6v13.9h-14.6zM617.1 916.6h14.6v13.9h-14.6zM631.6 1813.4h14.6v13.9h-14.6zM631.6 1664.0h14.6v13.9h-14.6zM631.6 1541.7h14.6v13.9h-14.6zM631.6 1528.1h14.6v13.9h-14.6zM631.6 1514.5h14.6v13.9h-14.6zM631.6 1378.6h14.6v13.9h-14.6zM631.6 1337.8h14.6v13.9h-14.6zM631.6 1297.1h14.6v13.9h-14.6zM631.6 1188.4h14.6v13.9h-14.6zM646.1 1854.2h14.6v13.9h-14.6zM646.1 1691.1h14.6v13.9h-14.6zM646.1 1419.4h14.6v13.9h-14.6zM646.1 1378.6h14.6v13.9h-14.6zM646.1 1351.4h14.6v13.9h-14.6zM646.1 1337.8h14.6v13.9h-14.6zM646.1 1229.1h14.6v13.9h-14.6zM646.1 970.9h14.6v13.9h-14.6zM660.7 1704.7h14.6v13.9h-14.6zM660.7 1487.3h14.6v13.9h-14.6zM660.7 1378.6h14.6v13.9h-14.6zM660.7 1161.2h14.6v13.9h-14.6zM675.2 1664.0h14.6v13.9h-14.6zM675.2 1473.7h14.6v13.9h-14.6zM675.2 1269.9h14.6v13.9h-14.6zM675.2 1229.1h14.6v13.9h-14.6zM675.2 1079.6h14.6v13.9h-14.6zM675.2 1038.9h14.6v13.9h-14.6zM689.7 1962.9h14.6v13.9h-14.6zM689.7 1691.1h14.6v13.9h-14.6zM689.7 1596.0h14.6v13.9h-14.6zM689.7 1582.4h14.6v13.9h-14.6zM689.7 1541.7h14.6v13.9h-14.6zM689.7 1365.0h14.6v13.9h-14.6zM689.7 1324.2h14.6v13.9h-14.6zM689.7 1310.7h14.6v13.9h-14.6zM689.7 1256.3h14.6v13.9h-14.6zM689.7 1134.0h14.6v13.9h-14.6zM689.7 1079.6h14.6v13.9h-14.6zM704.2 1772.7h14.6v13.9h-14.6zM704.2 1650.4h14.6v13.9h-14.6zM704.2 1378.6h14.6v13.9h-14.6zM704.2 1297.1h14.6v13.9h-14.6zM704.2 1215.5h14.6v13.9h-14.6zM704.2 1201.9h14.6v13.9h-14.6zM718.7 1799.9h14.6v13.9h-14.6zM718.7 1487.3h14.6v13.9h-14.6zM718.7 1392.2h14.6v13.9h-14.6zM718.7 1324.2h14.6v13.9h-14.6zM718.7 1283.5h14.6v13.9h-14.6zM718.7 1120.4h14.6v13.9h-14.6zM718.7 1025.3h14.6v13.9h-14.6zM733.2 1799.9h14.6v13.9h-14.6zM733.2 1351.4h14.6v13.9h-14.6zM733.2 1079.6h14.6v13.9h-14.6zM733.2 1025.3h14.6v13.9h-14.6zM733.2 998.1h14.6v13.9h-14.6zM747.8 1745.5h14.6v13.9h-14.6zM747.8 1582.4h14.6v13.9h-14.6zM747.8 1514.5h14.6v13.9h-14.6zM747.8 1405.8h14.6v13.9h-14.6zM747.8 1392.2h14.6v13.9h-14.6zM747.8 1310.7h14.6v13.9h-14.6zM762.3 1419.4h14.6v13.9h-14.6zM762.3 1310.7h14.6v13.9h-14.6zM762.3 1229.1h14.6v13.9h-14.6zM762.3 1066.1h14.6v13.9h-14.6zM762.3 930.2h14.6v13.9h-14.6zM776.8 1677.6h14.6v13.9h-14.6zM776.8 1500.9h14.6v13.9h-14.6zM776.8 1446.5h14.6v13.9h-14.6zM776.8 1351.4h14.6v13.9h-14.6zM776.8 1256.3h14.6v13.9h-14.6zM776.8 1229.1h14.6v13.9h-14.6zM791.3 1854.2h14.6v13.9h-14.6zM791.3 1745.5h14.6v13.9h-14.6zM791.3 1677.6h14.6v13.9h-14.6zM791.3 1460.1h14.6v13.9h-14.6zM791.3 1405.8h14.6v13.9h-14.6zM791.3 1283.5h14.6v13.9h-14.6zM791.3 1093.2h14.6v13.9h-14.6zM791.3 848.6h14.6v13.9h-14.6zM805.8 1582.4h14.6v13.9h-14.6zM805.8 1541.7h14.6v13.9h-14.6zM805.8 1514.5h14.6v13.9h-14.6zM805.8 1473.7h14.6v13.9h-14.6zM805.8 1460.1h14.6v13.9h-14.6zM805.8 1201.9h14.6v13.9h-14.6zM805.8 1120.4h14.6v13.9h-14.6zM820.3 1596.0h14.6v13.9h-14.6zM820.3 1378.6h14.6v13.9h-14.6zM834.8 1500.9h14.6v13.9h-14.6zM834.8 1487.3h14.6v13.9h-14.6zM834.8 1378.6h14.6v13.9h-14.6zM834.8 1351.4h14.6v13.9h-14.6zM834.8 1337.8h14.6v13.9h-14.6zM834.8 1229.1h14.6v13.9h-14.6zM834.8 1174.8h14.6v13.9h-14.6zM849.4 1854.2h14.6v13.9h-14.6zM849.4 1786.3h14.6v13.9h-14.6zM849.4 1500.9h14.6v13.9h-14.6zM849.4 1446.5h14.6v13.9h-14.6zM863.9 1623.2h14.6v13.9h-14.6zM863.9 1365.0h14.6v13.9h-14.6zM878.4 1704.7h14.6v13.9h-14.6zM878.4 1677.6h14.6v13.9h-14.6zM878.4 1473.7h14.6v13.9h-14.6zM878.4 1460.1h14.6v13.9h-14.6zM878.4 1433.0h14.6v13.9h-14.6zM878.4 1378.6h14.6v13.9h-14.6zM878.4 1256.3h14.6v13.9h-14.6zM878.4 1147.6h14.6v13.9h-14.6zM892.9 1555.3h14.6v13.9h-14.6zM892.9 1514.5h14.6v13.9h-14.6zM892.9 1324.2h14.6v13.9h-14.6zM907.4 1867.8h14.6v13.9h-14.6zM907.4 1759.1h14.6v13.9h-14.6zM907.4 1704.7h14.6v13.9h-14.6zM907.4 1664.0h14.6v13.9h-14.6zM907.4 1623.2h14.6v13.9h-14.6zM907.4 1473.7h14.6v13.9h-14.6zM907.4 1446.5h14.6v13.9h-14.6zM921.9 1664.0h14.6v13.9h-14.6zM921.9 1555.3h14.6v13.9h-14.6zM921.9 1514.5h14.6v13.9h-14.6zM921.9 1433.0h14.6v13.9h-14.6zM921.9 1405.8h14.6v13.9h-14.6zM921.9 1297.1h14.6v13.9h-14.6zM921.9 1283.5h14.6v13.9h-14.6zM921.9 1188.4h14.6v13.9h-14.6zM921.9 1038.9h14.6v13.9h-14.6zM921.9 930.2h14.6v13.9h-14.6zM936.5 1704.7h14.6v13.9h-14.6zM936.5 1487.3h14.6v13.9h-14.6zM936.5 1174.8h14.6v13.9h-14.6zM936.5 1079.6h14.6v13.9h-14.6zM951.0 1881.4h14.6v13.9h-14.6zM951.0 1799.9h14.6v13.9h-14.6zM951.0 1677.6h14.6v13.9h-14.6zM951.0 1664.0h14.6v13.9h-14.6zM951.0 1555.3h14.6v13.9h-14.6zM951.0 1405.8h14.6v13.9h-14.6zM951.0 1093.2h14.6v13.9h-14.6zM965.5 1854.2h14.6v13.9h-14.6zM965.5 1256.3h14.6v13.9h-14.6zM965.5 1188.4h14.6v13.9h-14.6zM965.5 1093.2h14.6v13.9h-14.6zM965.5 1025.3h14.6v13.9h-14.6zM980.0 1759.1h14.6v13.9h-14.6zM980.0 1677.6h14.6v13.9h-14.6zM980.0 1650.4h14.6v13.9h-14.6zM980.0 1623.2h14.6v13.9h-14.6zM980.0 1500.9h14.6v13.9h-14.6zM980.0 1460.1h14.6v13.9h-14.6zM980.0 1365.0h14.6v13.9h-14.6zM980.0 1310.7h14.6v13.9h-14.6zM980.0 1297.1h14.6v13.9h-14.6zM994.5 1487.3h14.6v13.9h-14.6zM994.5 1337.8h14.6v13.9h-14.6zM994.5 1256.3h14.6v13.9h-14.6zM994.5 1120.4h14.6v13.9h-14.6zM994.5 862.2h14.6v13.9h-14.6zM1009.0 1704.7h14.6v13.9h-14.6zM1009.0 1664.0h14.6v13.9h-14.6zM1009.0 1433.0h14.6v13.9h-14.6zM1009.0 1242.7h14.6v13.9h-14.6zM1009.0 1188.4h14.6v13.9h-14.6zM1009.0 1174.8h14.6v13.9h-14.6zM1023.5 1786.3h14.6v13.9h-14.6zM1023.5 1691.1h14.6v13.9h-14.6zM1023.5 1555.3h14.6v13.9h-14.6zM1023.5 1514.5h14.6v13.9h-14.6zM1023.5 1405.8h14.6v13.9h-14.6zM1038.1 1514.5h14.6v13.9h-14.6zM1038.1 1392.2h14.6v13.9h-14.6zM1038.1 1378.6h14.6v13.9h-14.6zM1038.1 1337.8h14.6v13.9h-14.6zM1038.1 1038.9h14.6v13.9h-14.6zM1038.1 916.6h14.6v13.9h-14.6zM1052.6 1664.0h14.6v13.9h-14.6zM1052.6 1596.0h14.6v13.9h-14.6zM1052.6 1568.8h14.6v13.9h-14.6zM1052.6 1555.3h14.6v13.9h-14.6zM1052.6 1419.4h14.6v13.9h-14.6zM1052.6 1188.4h14.6v13.9h-14.6zM1067.1 1419.4h14.6v13.9h-14.6zM1067.1 1351.4h14.6v13.9h-14.6zM1067.1 1283.5h14.6v13.9h-14.6zM1067.1 1093.2h14.6v13.9h-14.6zM1081.6 1786.3h14.6v13.9h-14.6zM1081.6 1636.8h14.6v13.9h-14.6zM1081.6 1623.2h14.6v13.9h-14.6zM1081.6 1555.3h14.6v13.9h-14.6zM1081.6 1242.7h14.6v13.9h-14.6zM1096.1 1677.6h14.6v13.9h-14.6zM1096.1 1623.2h14.6v13.9h-14.6zM1096.1 1473.7h14.6v13.9h-14.6zM1096.1 1351.4h14.6v13.9h-14.6zM1096.1 1337.8h14.6v13.9h-14.6zM1096.1 1242.7h14.6v13.9h-14.6zM1096.1 970.9h14.6v13.9h-14.6zM1110.6 1609.6h14.6v13.9h-14.6zM1110.6 1541.7h14.6v13.9h-14.6zM1110.6 1378.6h14.6v13.9h-14.6zM1125.1 1378.6h14.6v13.9h-14.6zM1125.1 1052.5h14.6v13.9h-14.6zM1139.7 1840.6h14.6v13.9h-14.6zM1139.7 1636.8h14.6v13.9h-14.6zM1139.7 1134.0h14.6v13.9h-14.6zM1154.2 1446.5h14.6v13.9h-14.6zM1154.2 1378.6h14.6v13.9h-14.6zM1154.2 1337.8h14.6v13.9h-14.6zM1168.7 1596.0h14.6v13.9h-14.6zM1168.7 1433.0h14.6v13.9h-14.6zM1168.7 1419.4h14.6v13.9h-14.6zM1168.7 1392.2h14.6v13.9h-14.6zM1168.7 1011.7h14.6v13.9h-14.6zM1183.2 1514.5h14.6v13.9h-14.6zM1183.2 1446.5h14.6v13.9h-14.6zM1183.2 1242.7h14.6v13.9h-14.6zM1197.7 1609.6h14.6v13.9h-14.6zM1197.7 1351.4h14.6v13.9h-14.6zM1212.2 1242.7h14.6v13.9h-14.6zM1212.2 1188.4h14.6v13.9h-14.6zM1226.8 1514.5h14.6v13.9h-14.6zM1241.3 1718.3h14.6v13.9h-14.6zM1241.3 1405.8h14.6v13.9h-14.6zM1241.3 1174.8h14.6v13.9h-14.6zM1255.8 1731.9h14.6v13.9h-14.6zM1255.8 1460.1h14.6v13.9h-14.6zM1255.8 1392.2h14.6v13.9h-14.6zM1255.8 1147.6h14.6v13.9h-14.6zM1270.3 1514.5h14.6v13.9h-14.6zM1270.3 1460.1h14.6v13.9h-14.6zM1270.3 1324.2h14.6v13.9h-14.6zM1270.3 1242.7h14.6v13.9h-14.6zM1284.8 1555.3h14.6v13.9h-14.6zM1284.8 1446.5h14.6v13.9h-14.6zM1284.8 1269.9h14.6v13.9h-14.6zM1313.8 1405.8h14.6v13.9h-14.6zM1328.4 1405.8h14.6v13.9h-14.6zM1328.4 1378.6h14.6v13.9h-14.6zM1357.4 1405.8h14.6v13.9h-14.6zM1371.9 1691.1h14.6v13.9h-14.6zM1386.4 1256.3h14.6v13.9h-14.6zM1415.4 1582.4h14.6v13.9h-14.6zM1430.0 1541.7h14.6v13.9h-14.6zM1444.5 1623.2h14.6v13.9h-14.6zM1618.7 1405.8h14.6v13.9h-14.6z"/>
<path fill="#064863" d="M355.9 1528.1h14.6v13.9h-14.6zM355.9 1351.4h14.6v13.9h-14.6zM384.9 1514.5h14.6v13.9h-14.6zM384.9 1310.7h14.6v13.9h-14.6zM384.9 1297.1h14.6v13.9h-14.6zM384.9 1188.4h14.6v13.9h-14.6zM384.9 930.2h14.6v13.9h-14.6zM399.4 1650.4h14.6v13.9h-14.6zM399.4 1514.5h14.6v13.9h-14.6zM399.4 1433.0h14.6v13.9h-14.6zM399.4 1365.0h14.6v13.9h-14.6zM399.4 1079.6h14.6v13.9h-14.6zM399.4 862.2h14.6v13.9h-14.6zM413.9 1786.3h14.6v13.9h-14.6zM413.9 1745.5h14.6v13.9h-14.6zM413.9 1487.3h14.6v13.9h-14.6zM413.9 1419.4h14.6v13.9h-14.6zM413.9 1310.7h14.6v13.9h-14.6zM413.9 1215.5h14.6v13.9h-14.6zM428.4 1854.2h14.6v13.9h-14.6zM428.4 1840.6h14.6v13.9h-14.6zM428.4 1460.1h14.6v13.9h-14.6zM428.4 1324.2h14.6v13.9h-14.6zM428.4 1242.7h14.6v13.9h-14.6zM428.4 1161.2h14.6v13.9h-14.6zM428.4 1066.1h14.6v13.9h-14.6zM428.4 943.8h14.6v13.9h-14.6zM442.9 1664.0h14.6v13.9h-14.6zM442.9 1650.4h14.6v13.9h-14.6zM442.9 1582.4h14.6v13.9h-14.6zM442.9 1419.4h14.6v13.9h-14.6zM442.9 1297.1h14.6v13.9h-14.6zM442.9 1188.4h14.6v13.9h-14.6zM442.9 1161.2h14.6v13.9h-14.6zM442.9 1147.6h14.6v13.9h-14.6zM442.9 1038.9h14.6v13.9h-14.6zM442.9 916.6h14.6v13.9h-14.6zM457.5 1745.5h14.6v13.9h-14.6zM457.5 1351.4h14.6v13.9h-14.6zM457.5 1310.7h14.6v13.9h-14.6zM457.5 1256.3h14.6v13.9h-14.6zM457.5 1215.5h14.6v13.9h-14.6zM472.0 1786.3h14.6v13.9h-14.6zM472.0 1568.8h14.6v13.9h-14.6zM472.0 1541.7h14.6v13.9h-14.6zM472.0 1405.8h14.6v13.9h-14.6zM472.0 1297.1h14.6v13.9h-14.6zM472.0 1066.1h14.6v13.9h-14.6zM486.5 1881.4h14.6v13.9h-14.6zM486.5 1528.1h14.6v13.9h-14.6zM486.5 1283.5h14.6v13.9h-14.6zM486.5 1215.5h14.6v13.9h-14.6zM486.5 1201.9h14.6v13.9h-14.6zM486.5 1174.8h14.6v13.9h-14.6zM486.5 1106.8h14.6v13.9h-14.6zM501.0 2003.7h14.6v13.9h-14.6zM501.0 1636.8h14.6v13.9h-14.6zM501.0 1568.8h14.6v13.9h-14.6zM501.0 1541.7h14.6v13.9h-14.6zM501.0 1473.7h14.6v13.9h-14.6zM501.0 1365.0h14.6v13.9h-14.6zM501.0 1310.7h14.6v13.9h-14.6zM501.0 1269.9h14.6v13.9h-14.6zM501.0 1201.9h14.6v13.9h-14.6zM501.0 1025.3h14.6v13.9h-14.6zM501.0 998.1h14.6v13.9h-14.6zM515.5 1541.7h14.6v13.9h-14.6zM515.5 1405.8h14.6v13.9h-14.6zM515.5 1215.5h14.6v13.9h-14.6zM515.5 1174.8h14.6v13.9h-14.6zM515.5 943.8h14.6v13.9h-14.6zM530.0 1895.0h14.6v13.9h-14.6zM530.0 1854.2h14.6v13.9h-14.6zM530.0 1718.3h14.6v13.9h-14.6zM530.0 1650.4h14.6v13.9h-14.6zM530.0 1636.8h14.6v13.9h-14.6zM530.0 1460.1h14.6v13.9h-14.6zM530.0 1256.3h14.6v13.9h-14.6zM544.5 1731.9h14.6v13.9h-14.6zM544.5 1555.3h14.6v13.9h-14.6zM544.5 1446.5h14.6v13.9h-14.6zM544.5 1269.9h14.6v13.9h-14.6zM559.1 1609.6h14.6v13.9h-14.6zM559.1 1568.8h14.6v13.9h-14.6zM559.1 1555.3h14.6v13.9h-14.6zM559.1 1473.7h14.6v13.9h-14.6zM559.1 1378.6h14.6v13.9h-14.6zM573.6 1949.3h14.6v13.9h-14.6zM573.6 1813.4h14.6v13.9h-14.6zM573.6 1677.6h14.6v13.9h-14.6zM573.6 1636.8h14.6v13.9h-14.6zM573.6 1283.5h14.6v13.9h-14.6zM573.6 1256.3h14.6v13.9h-14.6zM573.6 1229.1h14.6v13.9h-14.6zM588.1 1786.3h14.6v13.9h-14.6zM588.1 1745.5h14.6v13.9h-14.6zM588.1 1677.6h14.6v13.9h-14.6zM588.1 1582.4h14.6v13.9h-14.6zM588.1 1473.7h14.6v13.9h-14.6zM588.1 1269.9h14.6v13.9h-14.6zM588.1 1229.1h14.6v13.9h-14.6zM588.1 1201.9h14.6v13.9h-14.6zM588.1 957.3h14.6v13.9h-14.6zM588.1 835.0h14.6v13.9h-14.6zM602.6 1813.4h14.6v13.9h-14.6zM602.6 1650.4h14.6v13.9h-14.6zM602.6 1487.3h14.6v13.9h-14.6zM602.6 1052.5h14.6v13.9h-14.6zM617.1 1718.3h14.6v13.9h-14.6zM617.1 1664.0h14.6v13.9h-14.6zM617.1 1582.4h14.6v13.9h-14.6zM617.1 1473.7h14.6v13.9h-14.6zM617.1 1378.6h14.6v13.9h-14.6zM617.1 1242.7h14.6v13.9h-14.6zM617.1 1215.5h14.6v13.9h-14.6zM617.1 1106.8h14.6v13.9h-14.6zM617.1 1025.3h14.6v13.9h-14.6zM631.6 1596.0h14.6v13.9h-14.6zM631.6 1201.9h14.6v13.9h-14.6zM631.6 1134.0h14.6v13.9h-14.6zM631.6 1120.4h14.6v13.9h-14.6zM631.6 930.2h14.6v13.9h-14.6zM631.6 889.4h14.6v13.9h-14.6zM646.1 1895.0h14.6v13.9h-14.6zM646.1 1799.9h14.6v13.9h-14.6zM646.1 1718.3h14.6v13.9h-14.6zM646.1 1650.4h14.6v13.9h-14.6zM646.1 1201.9h14.6v13.9h-14.6zM646.1 1066.1h14.6v13.9h-14.6zM646.1 862.2h14.6v13.9h-14.6zM660.7 1745.5h14.6v13.9h-14.6zM660.7 1718.3h14.6v13.9h-14.6zM660.7 1568.8h14.6v13.9h-14.6zM660.7 1460.1h14.6v13.9h-14.6zM660.7 1337.8h14.6v13.9h-14.6zM660.7 1229.1h14.6v13.9h-14.6zM660.7 1188.4h14.6v13.9h-14.6zM675.2 1962.9h14.6v13.9h-14.6zM675.2 1772.7h14.6v13.9h-14.6zM675.2 1718.3h14.6v13.9h-14.6zM675.2 1650.4h14.6v13.9h-14.6zM675.2 916.6h14.6v13.9h-14.6zM689.7 1528.1h14.6v13.9h-14.6zM689.7 1419.4h14.6v13.9h-14.6zM689.7 1269.9h14.6v13.9h-14.6zM689.7 1147.6h14.6v13.9h-14.6zM704.2 1867.8h14.6v13.9h-14.6zM704.2 984.5h14.6v13.9h-14.6zM718.7 1881.4h14.6v13.9h-14.6zM718.7 1650.4h14.6v13.9h-14.6zM718.7 1582.4h14.6v13.9h-14.6zM718.7 1405.8h14.6v13.9h-14.6zM718.7 1351.4h14.6v13.9h-14.6zM718.7 1310.7h14.6v13.9h-14.6zM718.7 1106.8h14.6v13.9h-14.6zM718.7 1079.6h14.6v13.9h-14.6zM718.7 1066.1h14.6v13.9h-14.6zM718.7 998.1h14.6v13.9h-14.6zM733.2 1664.0h14.6v13.9h-14.6zM733.2 1636.8h14.6v13.9h-14.6zM733.2 1229.1h14.6v13.9h-14.6zM747.8 1799.9h14.6v13.9h-14.6zM747.8 1759.1h14.6v13.9h-14.6zM747.8 1609.6h14.6v13.9h-14.6zM747.8 1201.9h14.6v13.9h-14.6zM747.8 1011.7h14.6v13.9h-14.6zM747.8 970.9h14.6v13.9h-14.6zM747.8 943.8h14.6v13.9h-14.6zM762.3 1664.0h14.6v13.9h-14.6zM762.3 1650.4h14.6v13.9h-14.6zM762.3 1093.2h14.6v13.9h-14.6zM762.3 1025.3h14.6v13.9h-14.6zM762.3 1011.7h14.6v13.9h-14.6zM776.8 1799.9h14.6v13.9h-14.6zM776.8 1772.7h14.6v13.9h-14.6zM776.8 1759.1h14.6v13.9h-14.6zM776.8 1650.4h14.6v13.9h-14.6zM776.8 1555.3h14.6v13.9h-14.6zM776.8 998.1h14.6v13.9h-14.6zM791.3 1786.3h14.6v13.9h-14.6zM791.3 1623.2h14.6v13.9h-14.6zM805.8 1854.2h14.6v13.9h-14.6zM805.8 1731.9h14.6v13.9h-14.6zM805.8 1691.1h14.6v13.9h-14.6zM805.8 1677.6h14.6v13.9h-14.6zM805.8 1596.0h14.6v13.9h-14.6zM805.8 1500.9h14.6v13.9h-14.6zM805.8 1446.5h14.6v13.9h-14.6zM805.8 1433.0h14.6v13.9h-14.6zM805.8 1256.3h14.6v13.9h-14.6zM805.8 1093.2h14.6v13.9h-14.6zM820.3 1786.3h14.6v13.9h-14.6zM820.3 1772.7h14.6v13.9h-14.6zM820.3 1650.4h14.6v13.9h-14.6zM820.3 1636.8h14.6v13.9h-14.6zM820.3 1473.7h14.6v13.9h-14.6zM820.3 1419.4h14.6v13.9h-14.6zM820.3 1106.8h14.6v13.9h-14.6zM834.8 1922.2h14.6v13.9h-14.6zM834.8 1691.1h14.6v13.9h-14.6zM834.8 1677.6h14.6v13.9h-14.6zM834.8 1201.9h14.6v13.9h-14.6zM849.4 1813.4h14.6v13.9h-14.6zM849.4 1718.3h14.6v13.9h-14.6zM849.4 1650.4h14.6v13.9h-14.6zM849.4 1473.7h14.6v13.9h-14.6zM849.4 1365.0h14.6v13.9h-14.6zM849.4 1215.5h14.6v13.9h-14.6zM849.4 1134.0h14.6v13.9h-14.6zM863.9 1922.2h14.6v13.9h-14.6zM863.9 1827.0h14.6v13.9h-14.6zM863.9 1677.6h14.6v13.9h-14.6zM863.9 1609.6h14.6v13.9h-14.6zM863.9 1555.3h14.6v13.9h-14.6zM863.9 1528.1h14.6v13.9h-14.6zM863.9 1283.5h14.6v13.9h-14.6zM863.9 1134.0h14.6v13.9h-14.6zM878.4 1799.9h14.6v13.9h-14.6zM878.4 1568.8h14.6v13.9h-14.6zM878.4 1446.5h14.6v13.9h-14.6zM878.4 1283.5h14.6v13.9h-14.6zM878.4 862.2h14.6v13.9h-14.6zM892.9 1405.8h14.6v13.9h-14.6zM892.9 1297.1h14.6v13.9h-14.6zM892.9 862.2h14.6v13.9h-14.6zM907.4 1908.6h14.6v13.9h-14.6zM907.4 1514.5h14.6v13.9h-14.6zM907.4 1487.3h14.6v13.9h-14.6zM907.4 1378.6h14.6v13.9h-14.6zM907.4 1269.9h14.6v13.9h-14.6zM907.4 1256.3h14.6v13.9h-14.6zM907.4 1079.6h14.6v13.9h-14.6zM921.9 1949.3h14.6v13.9h-14.6zM921.9 1867.8h14.6v13.9h-14.6zM921.9 1677.6h14.6v13.9h-14.6zM921.9 1582.4h14.6v13.9h-14.6zM921.9 1568.8h14.6v13.9h-14.6zM921.9 1147.6h14.6v13.9h-14.6zM921.9 1066.1h14.6v13.9h-14.6zM936.5 1691.1h14.6v13.9h-14.6zM936.5 1677.6h14.6v13.9h-14.6zM936.5 1596.0h14.6v13.9h-14.6zM936.5 1433.0h14.6v13.9h-14.6zM936.5 1161.2h14.6v13.9h-14.6zM951.0 1840.6h14.6v13.9h-14.6zM951.0 1201.9h14.6v13.9h-14.6zM965.5 1555.3h14.6v13.9h-14.6zM965.5 1242.7h14.6v13.9h-14.6zM965.5 1174.8h14.6v13.9h-14.6zM965.5 1120.4h14.6v13.9h-14.6zM980.0 1596.0h14.6v13.9h-14.6zM980.0 1582.4h14.6v13.9h-14.6zM980.0 1541.7h14.6v13.9h-14.6zM980.0 1528.1h14.6v13.9h-14.6zM980.0 1392.2h14.6v13.9h-14.6zM980.0 1378.6h14.6v13.9h-14.6zM980.0 1324.2h14.6v13.9h-14.6zM980.0 1283.5h14.6v13.9h-14.6zM980.0 1188.4h14.6v13.9h-14.6zM994.5 1555.3h14.6v13.9h-14.6zM994.5 1541.7h14.6v13.9h-14.6zM994.5 1392.2h14.6v13.9h-14.6zM1009.0 1555.3h14.6v13.9h-14.6zM1023.5 1582.4h14.6v13.9h-14.6zM1023.5 1460.1h14.6v13.9h-14.6zM1023.5 1433.0h14.6v13.9h-14.6zM1023.5 1174.8h14.6v13.9h-14.6zM1038.1 1433.0h14.6v13.9h-14.6zM1038.1 1351.4h14.6v13.9h-14.6zM1038.1 1161.2h14.6v13.9h-14.6zM1052.6 1677.6h14.6v13.9h-14.6zM1052.6 1582.4h14.6v13.9h-14.6zM1052.6 1460.1h14.6v13.9h-14.6zM1052.6 1365.0h14.6v13.9h-14.6zM1067.1 1827.0h14.6v13.9h-14.6zM1067.1 1786.3h14.6v13.9h-14.6zM1067.1 1691.1h14.6v13.9h-14.6zM1067.1 1677.6h14.6v13.9h-14.6zM1067.1 1460.1h14.6v13.9h-14.6zM1067.1 1378.6h14.6v13.9h-14.6zM1081.6 1568.8h14.6v13.9h-14.6zM1081.6 1392.2h14.6v13.9h-14.6zM1081.6 1256.3h14.6v13.9h-14.6zM1081.6 1229.1h14.6v13.9h-14.6zM1081.6 1147.6h14.6v13.9h-14.6zM1081.6 1025.3h14.6v13.9h-14.6zM1081.6 970.9h14.6v13.9h-14.6zM1096.1 1731.9h14.6v13.9h-14.6zM1096.1 1636.8h14.6v13.9h-14.6zM1096.1 1297.1h14.6v13.9h-14.6zM1096.1 1038.9h14.6v13.9h-14.6zM1110.6 1704.7h14.6v13.9h-14.6zM1110.6 1215.5h14.6v13.9h-14.6zM1125.1 1677.6h14.6v13.9h-14.6zM1125.1 1664.0h14.6v13.9h-14.6zM1125.1 1555.3h14.6v13.9h-14.6zM1125.1 1405.8h14.6v13.9h-14.6zM1125.1 1392.2h14.6v13.9h-14.6zM1139.7 1596.0h14.6v13.9h-14.6zM1139.7 1351.4h14.6v13.9h-14.6zM1139.7 1201.9h14.6v13.9h-14.6zM1139.7 1120.4h14.6v13.9h-14.6zM1139.7 970.9h14.6v13.9h-14.6zM1154.2 1745.5h14.6v13.9h-14.6zM1154.2 1718.3h14.6v13.9h-14.6zM1154.2 1405.8h14.6v13.9h-14.6zM1168.7 1365.0h14.6v13.9h-14.6zM1168.7 1324.2h14.6v13.9h-14.6zM1168.7 1201.9h14.6v13.9h-14.6zM1183.2 1609.6h14.6v13.9h-14.6zM1183.2 1582.4h14.6v13.9h-14.6zM1183.2 1134.0h14.6v13.9h-14.6zM1197.7 1895.0h14.6v13.9h-14.6zM1212.2 1473.7h14.6v13.9h-14.6zM1212.2 1405.8h14.6v13.9h-14.6zM1212.2 1147.6h14.6v13.9h-14.6zM1226.8 1827.0h14.6v13.9h-14.6zM1226.8 1650.4h14.6v13.9h-14.6zM1226.8 1405.8h14.6v13.9h-14.6zM1241.3 1691.1h14.6v13.9h-14.6zM1241.3 1650.4h14.6v13.9h-14.6zM1241.3 1433.0h14.6v13.9h-14.6zM1241.3 1378.6h14.6v13.9h-14.6zM1255.8 1256.3h14.6v13.9h-14.6zM1299.3 1310.7h14.6v13.9h-14.6zM1299.3 1229.1h14.6v13.9h-14.6zM1313.8 1500.9h14.6v13.9h-14.6zM1357.4 1297.1h14.6v13.9h-14.6zM1357.4 1174.8h14.6v13.9h-14.6zM1386.4 1433.0h14.6v13.9h-14.6zM1430.0 1365.0h14.6v13.9h-14.6z"/>
<path fill="#084c5f" d="M355.9 1922.2h14.6v13.9h-14.6zM355.9 1405.8h14.6v13.9h-14.6zM355.9 984.5h14.6v13.9h-14.6zM370.4 1568.8h14.6v13.9h-14.6zM370.4 1378.6h14.6v13.9h-14.6zM370.4 957.3h14.6v13.9h-14.6zM384.9 1786.3h14.6v13.9h-14.6zM399.4 1378.6h14.6v13.9h-14.6zM399.4 1310.7h14.6v13.9h-14.6zM399.4 1093.2h14.6v13.9h-14.6zM413.9 1962.9h14.6v13.9h-14.6zM413.9 1446.5h14.6v13.9h-14.6zM413.9 1106.8h14.6v13.9h-14.6zM413.9 1052.5h14.6v13.9h-14.6zM428.4 1799.9h14.6v13.9h-14.6zM428.4 1446.5h14.6v13.9h-14.6zM428.4 1297.1h14.6v13.9h-14.6zM428.4 1201.9h14.6v13.9h-14.6zM428.4 1147.6h14.6v13.9h-14.6zM428.4 998.1h14.6v13.9h-14.6zM428.4 862.2h14.6v13.9h-14.6zM442.9 1378.6h14.6v13.9h-14.6zM442.9 1283.5h14.6v13.9h-14.6zM442.9 1242.7h14.6v13.9h-14.6zM442.9 1229.1h14.6v13.9h-14.6zM442.9 1106.8h14.6v13.9h-14.6zM442.9 889.4h14.6v13.9h-14.6zM457.5 1976.5h14.6v13.9h-14.6zM457.5 1772.7h14.6v13.9h-14.6zM457.5 1718.3h14.6v13.9h-14.6zM457.5 1636.8h14.6v13.9h-14.6zM457.5 1405.8h14.6v13.9h-14.6zM457.5 1365.0h14.6v13.9h-14.6zM457.5 1269.9h14.6v13.9h-14.6zM457.5 1242.7h14.6v13.9h-14.6zM472.0 1147.6h14.6v13.9h-14.6zM472.0 998.1h14.6v13.9h-14.6zM472.0 943.8h14.6v13.9h-14.6zM486.5 1827.0h14.6v13.9h-14.6zM486.5 1718.3h14.6v13.9h-14.6zM486.5 1677.6h14.6v13.9h-14.6zM486.5 1500.9h14.6v13.9h-14.6zM486.5 1310.7h14.6v13.9h-14.6zM486.5 1147.6h14.6v13.9h-14.6zM486.5 943.8h14.6v13.9h-14.6zM501.0 1813.4h14.6v13.9h-14.6zM501.0 1718.3h14.6v13.9h-14.6zM515.5 1990.1h14.6v13.9h-14.6zM515.5 1378.6h14.6v13.9h-14.6zM515.5 1201.9h14.6v13.9h-14.6zM515.5 1161.2h14.6v13.9h-14.6zM515.5 1147.6h14.6v13.9h-14.6zM515.5 970.9h14.6v13.9h-14.6zM530.0 1623.2h14.6v13.9h-14.6zM530.0 1419.4h14.6v13.9h-14.6zM530.0 1106.8h14.6v13.9h-14.6zM530.0 916.6h14.6v13.9h-14.6zM544.5 1976.5h14.6v13.9h-14.6zM544.5 1405.8h14.6v13.9h-14.6zM544.5 1283.5h14.6v13.9h-14.6zM544.5 1256.3h14.6v13.9h-14.6zM544.5 1025.3h14.6v13.9h-14.6zM544.5 998.1h14.6v13.9h-14.6zM559.1 1867.8h14.6v13.9h-14.6zM559.1 1759.1h14.6v13.9h-14.6zM559.1 1745.5h14.6v13.9h-14.6zM559.1 1433.0h14.6v13.9h-14.6zM559.1 1351.4h14.6v13.9h-14.6zM559.1 1038.9h14.6v13.9h-14.6zM573.6 1772.7h14.6v13.9h-14.6zM573.6 1759.1h14.6v13.9h-14.6zM573.6 1664.0h14.6v13.9h-14.6zM573.6 1555.3h14.6v13.9h-14.6zM573.6 1310.7h14.6v13.9h-14.6zM573.6 1147.6h14.6v13.9h-14.6zM573.6 1079.6h14.6v13.9h-14.6zM573.6 1025.3h14.6v13.9h-14.6zM588.1 1922.2h14.6v13.9h-14.6zM588.1 1664.0h14.6v13.9h-14.6zM588.1 1242.7h14.6v13.9h-14.6zM588.1 1120.4h14.6v13.9h-14.6zM602.6 1827.0h14.6v13.9h-14.6zM602.6 1799.9h14.6v13.9h-14.6zM602.6 1759.1h14.6v13.9h-14.6zM602.6 1718.3h14.6v13.9h-14.6zM602.6 1704.7h14.6v13.9h-14.6zM602.6 1691.1h14.6v13.9h-14.6zM602.6 1283.5h14.6v13.9h-14.6zM602.6 1201.9h14.6v13.9h-14.6zM602.6 1134.0h14.6v13.9h-14.6zM602.6 970.9h14.6v13.9h-14.6zM617.1 1759.1h14.6v13.9h-14.6zM617.1 1731.9h14.6v13.9h-14.6zM617.1 1691.1h14.6v13.9h-14.6zM617.1 1201.9h14.6v13.9h-14.6zM617.1 1147.6h14.6v13.9h-14.6zM617.1 1066.1h14.6v13.9h-14.6zM631.6 1351.4h14.6v13.9h-14.6zM631.6 1283.5h14.6v13.9h-14.6zM646.1 1745.5h14.6v13.9h-14.6zM646.1 1731.9h14.6v13.9h-14.6zM646.1 1609.6h14.6v13.9h-14.6zM646.1 1582.4h14.6v13.9h-14.6zM646.1 1555.3h14.6v13.9h-14.6zM646.1 1405.8h14.6v13.9h-14.6zM646.1 1256.3h14.6v13.9h-14.6zM646.1 998.1h14.6v13.9h-14.6zM660.7 1786.3h14.6v13.9h-14.6zM660.7 1731.9h14.6v13.9h-14.6zM675.2 1337.8h14.6v13.9h-14.6zM689.7 1677.6h14.6v13.9h-14.6zM689.7 1460.1h14.6v13.9h-14.6zM689.7 1229.1h14.6v13.9h-14.6zM689.7 1093.2h14.6v13.9h-14.6zM704.2 1990.1h14.6v13.9h-14.6zM718.7 1772.7h14.6v13.9h-14.6zM718.7 1093.2h14.6v13.9h-14.6zM733.2 1962.9h14.6v13.9h-14.6zM733.2 1867.8h14.6v13.9h-14.6zM733.2 1813.4h14.6v13.9h-14.6zM733.2 1704.7h14.6v13.9h-14.6zM733.2 1596.0h14.6v13.9h-14.6zM733.2 1337.8h14.6v13.9h-14.6zM733.2 1188.4h14.6v13.9h-14.6zM733.2 943.8h14.6v13.9h-14.6zM762.3 1867.8h14.6v13.9h-14.6zM762.3 1786.3h14.6v13.9h-14.6zM776.8 1704.7h14.6v13.9h-14.6zM776.8 1582.4h14.6v13.9h-14.6zM776.8 1541.7h14.6v13.9h-14.6zM776.8 1433.0h14.6v13.9h-14.6zM791.3 1691.1h14.6v13.9h-14.6zM791.3 1419.4h14.6v13.9h-14.6zM791.3 1365.0h14.6v13.9h-14.6zM791.3 1079.6h14.6v13.9h-14.6zM820.3 1827.0h14.6v13.9h-14.6zM820.3 1242.7h14.6v13.9h-14.6zM834.8 1827.0h14.6v13.9h-14.6zM834.8 1772.7h14.6v13.9h-14.6zM849.4 1908.6h14.6v13.9h-14.6zM849.4 1827.0h14.6v13.9h-14.6zM849.4 1433.0h14.6v13.9h-14.6zM849.4 1242.7h14.6v13.9h-14.6zM863.9 1473.7h14.6v13.9h-14.6zM863.9 1106.8h14.6v13.9h-14.6zM863.9 903.0h14.6v13.9h-14.6zM878.4 1691.1h14.6v13.9h-14.6zM878.4 1324.2h14.6v13.9h-14.6zM878.4 1229.1h14.6v13.9h-14.6zM878.4 1079.6h14.6v13.9h-14.6zM878.4 1011.7h14.6v13.9h-14.6zM892.9 1867.8h14.6v13.9h-14.6zM892.9 1446.5h14.6v13.9h-14.6zM892.9 1433.0h14.6v13.9h-14.6zM892.9 1201.9h14.6v13.9h-14.6zM892.9 1106.8h14.6v13.9h-14.6zM907.4 1677.6h14.6v13.9h-14.6zM907.4 1500.9h14.6v13.9h-14.6zM907.4 1066.1h14.6v13.9h-14.6zM921.9 1786.3h14.6v13.9h-14.6zM921.9 1473.7h14.6v13.9h-14.6zM921.9 1324.2h14.6v13.9h-14.6zM921.9 1310.7h14.6v13.9h-14.6zM936.5 1813.4h14.6v13.9h-14.6zM936.5 1337.8h14.6v13.9h-14.6zM936.5 1256.3h14.6v13.9h-14.6zM951.0 1813.4h14.6v13.9h-14.6zM951.0 1731.9h14.6v13.9h-14.6zM951.0 1337.8h14.6v13.9h-14.6zM951.0 1310.7h14.6v13.9h-14.6zM965.5 1840.6h14.6v13.9h-14.6zM965.5 1799.9h14.6v13.9h-14.6zM965.5 1786.3h14.6v13.9h-14.6zM965.5 1759.1h14.6v13.9h-14.6zM965.5 1310.7h14.6v13.9h-14.6zM980.0 2017.3h14.6v13.9h-14.6zM980.0 1922.2h14.6v13.9h-14.6zM980.0 1827.0h14.6v13.9h-14.6zM980.0 1786.3h14.6v13.9h-14.6zM994.5 1664.0h14.6v13.9h-14.6zM994.5 1650.4h14.6v13.9h-14.6zM994.5 1433.0h14.6v13.9h-14.6zM1009.0 1718.3h14.6v13.9h-14.6zM1009.0 1691.1h14.6v13.9h-14.6zM1009.0 1677.6h14.6v13.9h-14.6zM1009.0 1650.4h14.6v13.9h-14.6zM1009.0 1609.6h14.6v13.9h-14.6zM1009.0 1120.4h14.6v13.9h-14.6zM1009.0 984.5h14.6v13.9h-14.6zM1023.5 1623.2h14.6v13.9h-14.6zM1023.5 1541.7h14.6v13.9h-14.6zM1023.5 1473.7h14.6v13.9h-14.6zM1023.5 1351.4h14.6v13.9h-14.6zM1038.1 1799.9h14.6v13.9h-14.6zM1038.1 1664.0h14.6v13.9h-14.6zM1052.6 1827.0h14.6v13.9h-14.6zM1052.6 1636.8h14.6v13.9h-14.6zM1052.6 1541.7h14.6v13.9h-14.6zM1052.6 1310.7h14.6v13.9h-14.6zM1052.6 1066.1h14.6v13.9h-14.6zM1067.1 1718.3h14.6v13.9h-14.6zM1067.1 1609.6h14.6v13.9h-14.6zM1067.1 1269.9h14.6v13.9h-14.6zM1067.1 1066.1h14.6v13.9h-14.6zM1081.6 1582.4h14.6v13.9h-14.6zM1096.1 1772.7h14.6v13.9h-14.6zM1096.1 1568.8h14.6v13.9h-14.6zM1096.1 1093.2h14.6v13.9h-14.6zM1096.1 889.4h14.6v13.9h-14.6zM1110.6 1582.4h14.6v13.9h-14.6zM1125.1 1704.7h14.6v13.9h-14.6zM1125.1 1582.4h14.6v13.9h-14.6zM1125.1 1120.4h14.6v13.9h-14.6zM1125.1 875.8h14.6v13.9h-14.6zM1139.7 1949.3h14.6v13.9h-14.6zM1139.7 1609.6h14.6v13.9h-14.6zM1139.7 1460.1h14.6v13.9h-14.6zM1139.7 1052.5h14.6v13.9h-14.6zM1154.2 1731.9h14.6v13.9h-14.6zM1154.2 1650.4h14.6v13.9h-14.6zM1168.7 1568.8h14.6v13.9h-14.6zM1183.2 1392.2h14.6v13.9h-14.6zM1183.2 1324.2h14.6v13.9h-14.6zM1226.8 1636.8h14.6v13.9h-14.6zM1241.3 1460.1h14.6v13.9h-14.6zM1241.3 1446.5h14.6v13.9h-14.6zM1241.3 1283.5h14.6v13.9h-14.6zM1255.8 1541.7h14.6v13.9h-14.6zM1255.8 1433.0h14.6v13.9h-14.6zM1255.8 1378.6h14.6v13.9h-14.6zM1255.8 943.8h14.6v13.9h-14.6zM1270.3 1365.0h14.6v13.9h-14.6zM1284.8 1405.8h14.6v13.9h-14.6zM1299.3 1038.9h14.6v13.9h-14.6zM1313.8 1487.3h14.6v13.9h-14.6zM1328.4 1596.0h14.6v13.9h-14.6zM1342.9 998.1h14.6v13.9h-14.6zM1357.4 1229.1h14.6v13.9h-14.6zM1357.4 1215.5h14.6v13.9h-14.6zM1386.4 1473.7h14.6v13.9h-14.6zM1415.4 1229.1h14.6v13.9h-14.6zM1604.1 1161.2h14.6v13.9h-14.6z"/>
<path fill="#09505b" d="M370.4 1405.8h14.6v13.9h-14.6zM384.9 1555.3h14.6v13.9h-14.6zM384.9 1106.8h14.6v13.9h-14.6zM384.9 1079.6h14.6v13.9h-14.6zM399.4 1337.8h14.6v13.9h-14.6zM399.4 1297.1h14.6v13.9h-14.6zM413.9 1650.4h14.6v13.9h-14.6zM413.9 1568.8h14.6v13.9h-14.6zM413.9 1460.1h14.6v13.9h-14.6zM413.9 1134.0h14.6v13.9h-14.6zM428.4 1718.3h14.6v13.9h-14.6zM428.4 1433.0h14.6v13.9h-14.6zM428.4 1120.4h14.6v13.9h-14.6zM428.4 970.9h14.6v13.9h-14.6zM442.9 1949.3h14.6v13.9h-14.6zM442.9 1745.5h14.6v13.9h-14.6zM442.9 1269.9h14.6v13.9h-14.6zM442.9 1079.6h14.6v13.9h-14.6zM442.9 1025.3h14.6v13.9h-14.6zM457.5 1867.8h14.6v13.9h-14.6zM457.5 1500.9h14.6v13.9h-14.6zM457.5 1106.8h14.6v13.9h-14.6zM457.5 1011.7h14.6v13.9h-14.6zM472.0 1949.3h14.6v13.9h-14.6zM472.0 1704.7h14.6v13.9h-14.6zM472.0 1582.4h14.6v13.9h-14.6zM472.0 1229.1h14.6v13.9h-14.6zM472.0 1025.3h14.6v13.9h-14.6zM472.0 794.3h14.6v13.9h-14.6zM486.5 2003.7h14.6v13.9h-14.6zM486.5 1256.3h14.6v13.9h-14.6zM501.0 1745.5h14.6v13.9h-14.6zM501.0 1215.5h14.6v13.9h-14.6zM501.0 1188.4h14.6v13.9h-14.6zM501.0 1174.8h14.6v13.9h-14.6zM501.0 1106.8h14.6v13.9h-14.6zM501.0 1038.9h14.6v13.9h-14.6zM501.0 984.5h14.6v13.9h-14.6zM501.0 957.3h14.6v13.9h-14.6zM515.5 1731.9h14.6v13.9h-14.6zM515.5 1718.3h14.6v13.9h-14.6zM515.5 1310.7h14.6v13.9h-14.6zM515.5 957.3h14.6v13.9h-14.6zM530.0 1799.9h14.6v13.9h-14.6zM530.0 1772.7h14.6v13.9h-14.6zM530.0 1229.1h14.6v13.9h-14.6zM530.0 1215.5h14.6v13.9h-14.6zM530.0 1188.4h14.6v13.9h-14.6zM544.5 1174.8h14.6v13.9h-14.6zM544.5 1161.2h14.6v13.9h-14.6zM544.5 1038.9h14.6v13.9h-14.6zM559.1 1582.4h14.6v13.9h-14.6zM559.1 1079.6h14.6v13.9h-14.6zM559.1 957.3h14.6v13.9h-14.6zM573.6 1786.3h14.6v13.9h-14.6zM573.6 1188.4h14.6v13.9h-14.6zM573.6 1106.8h14.6v13.9h-14.6zM573.6 1093.2h14.6v13.9h-14.6zM588.1 1854.2h14.6v13.9h-14.6zM602.6 1745.5h14.6v13.9h-14.6zM602.6 889.4h14.6v13.9h-14.6zM617.1 1772.7h14.6v13.9h-14.6zM617.1 1174.8h14.6v13.9h-14.6zM631.6 1745.5h14.6v13.9h-14.6zM631.6 1174.8h14.6v13.9h-14.6zM646.1 1922.2h14.6v13.9h-14.6zM646.1 1283.5h14.6v13.9h-14.6zM660.7 1772.7h14.6v13.9h-14.6zM675.2 957.3h14.6v13.9h-14.6zM689.7 1813.4h14.6v13.9h-14.6zM689.7 1759.1h14.6v13.9h-14.6zM689.7 1704.7h14.6v13.9h-14.6zM704.2 1310.7h14.6v13.9h-14.6zM704.2 1256.3h14.6v13.9h-14.6zM704.2 1038.9h14.6v13.9h-14.6zM704.2 943.8h14.6v13.9h-14.6zM733.2 1786.3h14.6v13.9h-14.6zM733.2 1650.4h14.6v13.9h-14.6zM733.2 1134.0h14.6v13.9h-14.6zM733.2 1066.1h14.6v13.9h-14.6zM747.8 1664.0h14.6v13.9h-14.6zM762.3 1731.9h14.6v13.9h-14.6zM762.3 1324.2h14.6v13.9h-14.6zM762.3 1052.5h14.6v13.9h-14.6zM776.8 1745.5h14.6v13.9h-14.6zM776.8 1691.1h14.6v13.9h-14.6zM776.8 1161.2h14.6v13.9h-14.6zM776.8 1106.8h14.6v13.9h-14.6zM776.8 1052.5h14.6v13.9h-14.6zM791.3 1066.1h14.6v13.9h-14.6zM791.3 726.3h14.6v13.9h-14.6zM805.8 1283.5h14.6v13.9h-14.6zM805.8 1052.5h14.6v13.9h-14.6zM805.8 916.6h14.6v13.9h-14.6zM820.3 1908.6h14.6v13.9h-14.6zM820.3 1038.9h14.6v13.9h-14.6zM820.3 970.9h14.6v13.9h-14.6zM834.8 1052.5h14.6v13.9h-14.6zM849.4 1745.5h14.6v13.9h-14.6zM849.4 1025.3h14.6v13.9h-14.6zM863.9 1854.2h14.6v13.9h-14.6zM863.9 1759.1h14.6v13.9h-14.6zM863.9 1731.9h14.6v13.9h-14.6zM863.9 1664.0h14.6v13.9h-14.6zM863.9 1188.4h14.6v13.9h-14.6zM863.9 984.5h14.6v13.9h-14.6zM878.4 1949.3h14.6v13.9h-14.6zM878.4 1827.0h14.6v13.9h-14.6zM878.4 1772.7h14.6v13.9h-14.6zM892.9 1759.1h14.6v13.9h-14.6zM892.9 1609.6h14.6v13.9h-14.6zM892.9 1487.3h14.6v13.9h-14.6zM907.4 1827.0h14.6v13.9h-14.6zM907.4 1786.3h14.6v13.9h-14.6zM907.4 1582.4h14.6v13.9h-14.6zM921.9 1650.4h14.6v13.9h-14.6zM921.9 1636.8h14.6v13.9h-14.6zM921.9 1337.8h14.6v13.9h-14.6zM921.9 943.8h14.6v13.9h-14.6zM936.5 1568.8h14.6v13.9h-14.6zM936.5 1555.3h14.6v13.9h-14.6zM936.5 1215.5h14.6v13.9h-14.6zM951.0 1650.4h14.6v13.9h-14.6zM951.0 1623.2h14.6v13.9h-14.6zM965.5 1935.7h14.6v13.9h-14.6zM965.5 1867.8h14.6v13.9h-14.6zM965.5 1772.7h14.6v13.9h-14.6zM965.5 1718.3h14.6v13.9h-14.6zM965.5 1269.9h14.6v13.9h-14.6zM965.5 1106.8h14.6v13.9h-14.6zM980.0 1990.1h14.6v13.9h-14.6zM980.0 1636.8h14.6v13.9h-14.6zM980.0 1419.4h14.6v13.9h-14.6zM994.5 1419.4h14.6v13.9h-14.6zM1023.5 1772.7h14.6v13.9h-14.6zM1023.5 1446.5h14.6v13.9h-14.6zM1023.5 1161.2h14.6v13.9h-14.6zM1052.6 1854.2h14.6v13.9h-14.6zM1052.6 1731.9h14.6v13.9h-14.6zM1052.6 916.6h14.6v13.9h-14.6zM1067.1 1799.9h14.6v13.9h-14.6zM1067.1 916.6h14.6v13.9h-14.6zM1081.6 1922.2h14.6v13.9h-14.6zM1081.6 1745.5h14.6v13.9h-14.6zM1081.6 1650.4h14.6v13.9h-14.6zM1096.1 1582.4h14.6v13.9h-14.6zM1110.6 1772.7h14.6v13.9h-14.6zM1110.6 1460.1h14.6v13.9h-14.6zM1110.6 1337.8h14.6v13.9h-14.6zM1110.6 1120.4h14.6v13.9h-14.6zM1125.1 1500.9h14.6v13.9h-14.6zM1125.1 1093.2h14.6v13.9h-14.6zM1139.7 1745.5h14.6v13.9h-14.6zM1139.7 1568.8h14.6v13.9h-14.6zM1139.7 1528.1h14.6v13.9h-14.6zM1139.7 1433.0h14.6v13.9h-14.6zM1154.2 1786.3h14.6v13.9h-14.6zM1154.2 1623.2h14.6v13.9h-14.6zM1154.2 1500.9h14.6v13.9h-14.6zM1168.7 1541.7h14.6v13.9h-14.6zM1168.7 930.2h14.6v13.9h-14.6zM1183.2 1759.1h14.6v13.9h-14.6zM1183.2 1528.1h14.6v13.9h-14.6zM1183.2 1500.9h14.6v13.9h-14.6zM1183.2 1283.5h14.6v13.9h-14.6zM1197.7 1596.0h14.6v13.9h-14.6zM1212.2 1650.4h14.6v13.9h-14.6zM1212.2 1596.0h14.6v13.9h-14.6zM1212.2 1555.3h14.6v13.9h-14.6zM1212.2 1269.9h14.6v13.9h-14.6zM1212.2 943.8h14.6v13.9h-14.6zM1226.8 1596.0h14.6v13.9h-14.6zM1226.8 1568.8h14.6v13.9h-14.6zM1241.3 1038.9h14.6v13.9h-14.6zM1255.8 1487.3h14.6v13.9h-14.6zM1284.8 1677.6h14.6v13.9h-14.6zM1299.3 1596.0h14.6v13.9h-14.6zM1313.8 1528.1h14.6v13.9h-14.6zM1313.8 1419.4h14.6v13.9h-14.6zM1313.8 1038.9h14.6v13.9h-14.6zM1386.4 1636.8h14.6v13.9h-14.6zM1386.4 1419.4h14.6v13.9h-14.6zM1430.0 1405.8h14.6v13.9h-14.6zM1488.0 1718.3h14.6v13.9h-14.6z"/>
<path fill="#0b5457" d="M355.9 1677.6h14.6v13.9h-14.6zM355.9 1201.9h14.6v13.9h-14.6zM370.4 1038.9h14.6v13.9h-14.6zM384.9 1568.8h14.6v13.9h-14.6zM384.9 1256.3h14.6v13.9h-14.6zM399.4 1786.3h14.6v13.9h-14.6zM399.4 1704.7h14.6v13.9h-14.6zM399.4 1677.6h14.6v13.9h-14.6zM399.4 1460.1h14.6v13.9h-14.6zM399.4 1215.5h14.6v13.9h-14.6zM413.9 1759.1h14.6v13.9h-14.6zM413.9 1433.0h14.6v13.9h-14.6zM413.9 1229.1h14.6v13.9h-14.6zM428.4 1514.5h14.6v13.9h-14.6zM428.4 1106.8h14.6v13.9h-14.6zM442.9 1935.7h14.6v13.9h-14.6zM442.9 1786.3h14.6v13.9h-14.6zM442.9 1718.3h14.6v13.9h-14.6zM442.9 1677.6h14.6v13.9h-14.6zM442.9 1555.3h14.6v13.9h-14.6zM442.9 1337.8h14.6v13.9h-14.6zM442.9 957.3h14.6v13.9h-14.6zM457.5 1827.0h14.6v13.9h-14.6zM457.5 1473.7h14.6v13.9h-14.6zM457.5 1229.1h14.6v13.9h-14.6zM457.5 1025.3h14.6v13.9h-14.6zM472.0 1990.1h14.6v13.9h-14.6zM472.0 1881.4h14.6v13.9h-14.6zM472.0 1677.6h14.6v13.9h-14.6zM472.0 1215.5h14.6v13.9h-14.6zM472.0 1201.9h14.6v13.9h-14.6zM501.0 1772.7h14.6v13.9h-14.6zM501.0 1229.1h14.6v13.9h-14.6zM501.0 1066.1h14.6v13.9h-14.6zM515.5 1460.1h14.6v13.9h-14.6zM515.5 1038.9h14.6v13.9h-14.6zM530.0 1867.8h14.6v13.9h-14.6zM530.0 1704.7h14.6v13.9h-14.6zM530.0 1310.7h14.6v13.9h-14.6zM530.0 1242.7h14.6v13.9h-14.6zM530.0 1174.8h14.6v13.9h-14.6zM530.0 1079.6h14.6v13.9h-14.6zM544.5 1827.0h14.6v13.9h-14.6zM544.5 1677.6h14.6v13.9h-14.6zM544.5 1201.9h14.6v13.9h-14.6zM544.5 1066.1h14.6v13.9h-14.6zM544.5 984.5h14.6v13.9h-14.6zM544.5 970.9h14.6v13.9h-14.6zM544.5 943.8h14.6v13.9h-14.6zM559.1 1731.9h14.6v13.9h-14.6zM559.1 1201.9h14.6v13.9h-14.6zM559.1 1147.6h14.6v13.9h-14.6zM559.1 1066.1h14.6v13.9h-14.6zM573.6 1935.7h14.6v13.9h-14.6zM573.6 1609.6h14.6v13.9h-14.6zM573.6 1174.8h14.6v13.9h-14.6zM588.1 1174.8h14.6v13.9h-14.6zM602.6 1229.1h14.6v13.9h-14.6zM617.1 1650.4h14.6v13.9h-14.6zM617.1 1623.2h14.6v13.9h-14.6zM631.6 1881.4h14.6v13.9h-14.6zM631.6 916.6h14.6v13.9h-14.6zM646.1 1093.2h14.6v13.9h-14.6zM646.1 957.3h14.6v13.9h-14.6zM660.7 1269.9h14.6v13.9h-14.6zM675.2 1854.2h14.6v13.9h-14.6zM675.2 1093.2h14.6v13.9h-14.6zM704.2 1759.1h14.6v13.9h-14.6zM704.2 1745.5h14.6v13.9h-14.6zM718.7 2044.5h14.6v13.9h-14.6zM718.7 1718.3h14.6v13.9h-14.6zM718.7 1161.2h14.6v13.9h-14.6zM733.2 1310.7h14.6v13.9h-14.6zM733.2 984.5h14.6v13.9h-14.6zM747.8 1827.0h14.6v13.9h-14.6zM762.3 1772.7h14.6v13.9h-14.6zM762.3 1161.2h14.6v13.9h-14.6zM762.3 984.5h14.6v13.9h-14.6zM791.3 1718.3h14.6v13.9h-14.6zM791.3 1324.2h14.6v13.9h-14.6zM791.3 998.1h14.6v13.9h-14.6zM805.8 1962.9h14.6v13.9h-14.6zM805.8 1528.1h14.6v13.9h-14.6zM820.3 1745.5h14.6v13.9h-14.6zM820.3 1731.9h14.6v13.9h-14.6zM820.3 1174.8h14.6v13.9h-14.6zM820.3 957.3h14.6v13.9h-14.6zM863.9 1460.1h14.6v13.9h-14.6zM878.4 1664.0h14.6v13.9h-14.6zM878.4 998.1h14.6v13.9h-14.6zM892.9 1935.7h14.6v13.9h-14.6zM907.4 1310.7h14.6v13.9h-14.6zM921.9 1799.9h14.6v13.9h-14.6zM921.9 1691.1h14.6v13.9h-14.6zM921.9 1392.2h14.6v13.9h-14.6zM951.0 1134.0h14.6v13.9h-14.6zM965.5 1704.7h14.6v13.9h-14.6zM965.5 1650.4h14.6v13.9h-14.6zM965.5 1378.6h14.6v13.9h-14.6zM994.5 1840.6h14.6v13.9h-14.6zM994.5 1691.1h14.6v13.9h-14.6zM994.5 1677.6h14.6v13.9h-14.6zM994.5 1623.2h14.6v13.9h-14.6zM994.5 957.3h14.6v13.9h-14.6zM1009.0 1827.0h14.6v13.9h-14.6zM1009.0 1568.8h14.6v13.9h-14.6zM1023.5 1867.8h14.6v13.9h-14.6zM1023.5 1799.9h14.6v13.9h-14.6zM1038.1 1881.4h14.6v13.9h-14.6zM1038.1 1745.5h14.6v13.9h-14.6zM1038.1 1541.7h14.6v13.9h-14.6zM1052.6 1813.4h14.6v13.9h-14.6zM1052.6 1786.3h14.6v13.9h-14.6zM1052.6 1759.1h14.6v13.9h-14.6zM1067.1 2003.7h14.6v13.9h-14.6zM1067.1 1201.9h14.6v13.9h-14.6zM1067.1 1079.6h14.6v13.9h-14.6zM1081.6 1514.5h14.6v13.9h-14.6zM1096.1 1514.5h14.6v13.9h-14.6zM1110.6 1596.0h14.6v13.9h-14.6zM1125.1 1623.2h14.6v13.9h-14.6zM1125.1 1066.1h14.6v13.9h-14.6zM1125.1 1011.7h14.6v13.9h-14.6zM1139.7 1582.4h14.6v13.9h-14.6zM1154.2 1636.8h14.6v13.9h-14.6zM1154.2 1297.1h14.6v13.9h-14.6zM1154.2 1134.0h14.6v13.9h-14.6zM1168.7 1636.8h14.6v13.9h-14.6zM1168.7 957.3h14.6v13.9h-14.6zM1183.2 1664.0h14.6v13.9h-14.6zM1183.2 1650.4h14.6v13.9h-14.6zM1197.7 1650.4h14.6v13.9h-14.6zM1212.2 1691.1h14.6v13.9h-14.6zM1212.2 1677.6h14.6v13.9h-14.6zM1212.2 1609.6h14.6v13.9h-14.6zM1226.8 1582.4h14.6v13.9h-14.6zM1226.8 1433.0h14.6v13.9h-14.6zM1226.8 1011.7h14.6v13.9h-14.6zM1241.3 1269.9h14.6v13.9h-14.6zM1255.8 1514.5h14.6v13.9h-14.6zM1255.8 1500.9h14.6v13.9h-14.6zM1299.3 1582.4h14.6v13.9h-14.6zM1313.8 1460.1h14.6v13.9h-14.6zM1313.8 1134.0h14.6v13.9h-14.6zM1328.4 1555.3h14.6v13.9h-14.6zM1357.4 1514.5h14.6v13.9h-14.6zM1371.9 1568.8h14.6v13.9h-14.6zM1473.5 1636.8h14.6v13.9h-14.6zM1531.6 1664.0h14.6v13.9h-14.6z"/>
<path fill="#0d5853" d="M355.9 1908.6h14.6v13.9h-14.6zM355.9 1664.0h14.6v13.9h-14.6zM355.9 1052.5h14.6v13.9h-14.6zM370.4 1623.2h14.6v13.9h-14.6zM370.4 1555.3h14.6v13.9h-14.6zM370.4 1215.5h14.6v13.9h-14.6zM384.9 1745.5h14.6v13.9h-14.6zM384.9 1664.0h14.6v13.9h-14.6zM384.9 1446.5h14.6v13.9h-14.6zM384.9 1433.0h14.6v13.9h-14.6zM384.9 1351.4h14.6v13.9h-14.6zM399.4 1867.8h14.6v13.9h-14.6zM399.4 1813.4h14.6v13.9h-14.6zM413.9 1990.1h14.6v13.9h-14.6zM413.9 1161.2h14.6v13.9h-14.6zM428.4 1365.0h14.6v13.9h-14.6zM428.4 1215.5h14.6v13.9h-14.6zM428.4 957.3h14.6v13.9h-14.6zM442.9 1215.5h14.6v13.9h-14.6zM457.5 1704.7h14.6v13.9h-14.6zM457.5 1514.5h14.6v13.9h-14.6zM457.5 1161.2h14.6v13.9h-14.6zM457.5 1120.4h14.6v13.9h-14.6zM472.0 1596.0h14.6v13.9h-14.6zM472.0 1174.8h14.6v13.9h-14.6zM472.0 970.9h14.6v13.9h-14.6zM486.5 1650.4h14.6v13.9h-14.6zM486.5 1596.0h14.6v13.9h-14.6zM486.5 1405.8h14.6v13.9h-14.6zM486.5 930.2h14.6v13.9h-14.6zM501.0 1840.6h14.6v13.9h-14.6zM501.0 1731.9h14.6v13.9h-14.6zM501.0 1079.6h14.6v13.9h-14.6zM515.5 1106.8h14.6v13.9h-14.6zM515.5 1093.2h14.6v13.9h-14.6zM530.0 1161.2h14.6v13.9h-14.6zM530.0 1147.6h14.6v13.9h-14.6zM544.5 1854.2h14.6v13.9h-14.6zM544.5 875.8h14.6v13.9h-14.6zM559.1 1990.1h14.6v13.9h-14.6zM559.1 1949.3h14.6v13.9h-14.6zM559.1 1664.0h14.6v13.9h-14.6zM559.1 1161.2h14.6v13.9h-14.6zM573.6 1215.5h14.6v13.9h-14.6zM573.6 1011.7h14.6v13.9h-14.6zM573.6 957.3h14.6v13.9h-14.6zM602.6 1854.2h14.6v13.9h-14.6zM602.6 1161.2h14.6v13.9h-14.6zM602.6 1011.7h14.6v13.9h-14.6zM602.6 794.3h14.6v13.9h-14.6zM617.1 1786.3h14.6v13.9h-14.6zM617.1 1052.5h14.6v13.9h-14.6zM617.1 998.1h14.6v13.9h-14.6zM617.1 957.3h14.6v13.9h-14.6zM631.6 1895.0h14.6v13.9h-14.6zM631.6 1147.6h14.6v13.9h-14.6zM646.1 1772.7h14.6v13.9h-14.6zM646.1 984.5h14.6v13.9h-14.6zM660.7 1799.9h14.6v13.9h-14.6zM660.7 957.3h14.6v13.9h-14.6zM660.7 862.2h14.6v13.9h-14.6zM689.7 1908.6h14.6v13.9h-14.6zM689.7 1718.3h14.6v13.9h-14.6zM689.7 984.5h14.6v13.9h-14.6zM704.2 1718.3h14.6v13.9h-14.6zM718.7 1731.9h14.6v13.9h-14.6zM718.7 970.9h14.6v13.9h-14.6zM733.2 1718.3h14.6v13.9h-14.6zM747.8 1949.3h14.6v13.9h-14.6zM762.3 1799.9h14.6v13.9h-14.6zM776.8 1867.8h14.6v13.9h-14.6zM791.3 1731.9h14.6v13.9h-14.6zM791.3 1256.3h14.6v13.9h-14.6zM791.3 1011.7h14.6v13.9h-14.6zM805.8 1772.7h14.6v13.9h-14.6zM805.8 930.2h14.6v13.9h-14.6zM849.4 1799.9h14.6v13.9h-14.6zM849.4 1731.9h14.6v13.9h-14.6zM849.4 998.1h14.6v13.9h-14.6zM849.4 957.3h14.6v13.9h-14.6zM878.4 1745.5h14.6v13.9h-14.6zM878.4 970.9h14.6v13.9h-14.6zM878.4 957.3h14.6v13.9h-14.6zM892.9 970.9h14.6v13.9h-14.6zM907.4 794.3h14.6v13.9h-14.6zM921.9 970.9h14.6v13.9h-14.6zM936.5 1854.2h14.6v13.9h-14.6zM936.5 1759.1h14.6v13.9h-14.6zM951.0 2003.7h14.6v13.9h-14.6zM965.5 1528.1h14.6v13.9h-14.6zM965.5 998.1h14.6v13.9h-14.6zM994.5 1759.1h14.6v13.9h-14.6zM994.5 1609.6h14.6v13.9h-14.6zM994.5 1528.1h14.6v13.9h-14.6zM1023.5 998.1h14.6v13.9h-14.6zM1038.1 1704.7h14.6v13.9h-14.6zM1038.1 1609.6h14.6v13.9h-14.6zM1038.1 943.8h14.6v13.9h-14.6zM1052.6 1623.2h14.6v13.9h-14.6zM1067.1 1528.1h14.6v13.9h-14.6zM1081.6 1038.9h14.6v13.9h-14.6zM1096.1 1786.3h14.6v13.9h-14.6zM1096.1 1460.1h14.6v13.9h-14.6zM1110.6 1691.1h14.6v13.9h-14.6zM1125.1 1731.9h14.6v13.9h-14.6zM1139.7 1500.9h14.6v13.9h-14.6zM1154.2 1813.4h14.6v13.9h-14.6zM1154.2 1596.0h14.6v13.9h-14.6zM1154.2 1582.4h14.6v13.9h-14.6zM1154.2 1038.9h14.6v13.9h-14.6zM1168.7 1772.7h14.6v13.9h-14.6zM1183.2 1174.8h14.6v13.9h-14.6zM1197.7 1378.6h14.6v13.9h-14.6zM1212.2 1745.5h14.6v13.9h-14.6zM1212.2 1324.2h14.6v13.9h-14.6zM1255.8 1636.8h14.6v13.9h-14.6zM1299.3 1419.4h14.6v13.9h-14.6zM1313.8 1514.5h14.6v13.9h-14.6zM1313.8 1120.4h14.6v13.9h-14.6zM1342.9 1161.2h14.6v13.9h-14.6zM1371.9 1297.1h14.6v13.9h-14.6zM1400.9 1460.1h14.6v13.9h-14.6zM1430.0 1528.1h14.6v13.9h-14.6z"/>
<path fill="#0e5c50" d="M355.9 1772.7h14.6v13.9h-14.6zM355.9 1745.5h14.6v13.9h-14.6zM355.9 1079.6h14.6v13.9h-14.6zM355.9 1066.1h14.6v13.9h-14.6zM370.4 1799.9h14.6v13.9h-14.6zM370.4 1460.1h14.6v13.9h-14.6zM384.9 1500.9h14.6v13.9h-14.6zM384.9 1025.3h14.6v13.9h-14.6zM399.4 1147.6h14.6v13.9h-14.6zM399.4 1052.5h14.6v13.9h-14.6zM413.9 1473.7h14.6v13.9h-14.6zM413.9 1120.4h14.6v13.9h-14.6zM413.9 957.3h14.6v13.9h-14.6zM428.4 1731.9h14.6v13.9h-14.6zM428.4 1487.3h14.6v13.9h-14.6zM428.4 1310.7h14.6v13.9h-14.6zM442.9 1922.2h14.6v13.9h-14.6zM442.9 1134.0h14.6v13.9h-14.6zM442.9 998.1h14.6v13.9h-14.6zM457.5 1854.2h14.6v13.9h-14.6zM457.5 1052.5h14.6v13.9h-14.6zM472.0 1813.4h14.6v13.9h-14.6zM472.0 1718.3h14.6v13.9h-14.6zM472.0 1120.4h14.6v13.9h-14.6zM472.0 1052.5h14.6v13.9h-14.6zM472.0 903.0h14.6v13.9h-14.6zM486.5 1161.2h14.6v13.9h-14.6zM486.5 1120.4h14.6v13.9h-14.6zM501.0 1759.1h14.6v13.9h-14.6zM501.0 1161.2h14.6v13.9h-14.6zM515.5 1895.0h14.6v13.9h-14.6zM515.5 1813.4h14.6v13.9h-14.6zM515.5 1704.7h14.6v13.9h-14.6zM515.5 998.1h14.6v13.9h-14.6zM515.5 930.2h14.6v13.9h-14.6zM530.0 1201.9h14.6v13.9h-14.6zM544.5 1990.1h14.6v13.9h-14.6zM544.5 1840.6h14.6v13.9h-14.6zM544.5 1134.0h14.6v13.9h-14.6zM544.5 1106.8h14.6v13.9h-14.6zM559.1 1895.0h14.6v13.9h-14.6zM559.1 1840.6h14.6v13.9h-14.6zM559.1 1188.4h14.6v13.9h-14.6zM573.6 1895.0h14.6v13.9h-14.6zM588.1 1813.4h14.6v13.9h-14.6zM617.1 930.2h14.6v13.9h-14.6zM646.1 1759.1h14.6v13.9h-14.6zM646.1 1677.6h14.6v13.9h-14.6zM646.1 1528.1h14.6v13.9h-14.6zM660.7 1854.2h14.6v13.9h-14.6zM660.7 1174.8h14.6v13.9h-14.6zM689.7 1786.3h14.6v13.9h-14.6zM689.7 1038.9h14.6v13.9h-14.6zM704.2 1908.6h14.6v13.9h-14.6zM733.2 1052.5h14.6v13.9h-14.6zM762.3 1704.7h14.6v13.9h-14.6zM820.3 1799.9h14.6v13.9h-14.6zM820.3 1759.1h14.6v13.9h-14.6zM834.8 1799.9h14.6v13.9h-14.6zM834.8 1759.1h14.6v13.9h-14.6zM849.4 1840.6h14.6v13.9h-14.6zM849.4 1677.6h14.6v13.9h-14.6zM863.9 1718.3h14.6v13.9h-14.6zM878.4 1242.7h14.6v13.9h-14.6zM892.9 1922.2h14.6v13.9h-14.6zM892.9 1813.4h14.6v13.9h-14.6zM907.4 1935.7h14.6v13.9h-14.6zM907.4 1840.6h14.6v13.9h-14.6zM921.9 1922.2h14.6v13.9h-14.6zM921.9 1759.1h14.6v13.9h-14.6zM921.9 1745.5h14.6v13.9h-14.6zM936.5 1786.3h14.6v13.9h-14.6zM936.5 1636.8h14.6v13.9h-14.6zM965.5 2017.3h14.6v13.9h-14.6zM980.0 1772.7h14.6v13.9h-14.6zM980.0 1718.3h14.6v13.9h-14.6zM980.0 1215.5h14.6v13.9h-14.6zM994.5 1827.0h14.6v13.9h-14.6zM994.5 1174.8h14.6v13.9h-14.6zM994.5 1052.5h14.6v13.9h-14.6zM1023.5 1731.9h14.6v13.9h-14.6zM1023.5 1609.6h14.6v13.9h-14.6zM1052.6 1840.6h14.6v13.9h-14.6zM1067.1 1772.7h14.6v13.9h-14.6zM1067.1 1745.5h14.6v13.9h-14.6zM1067.1 1596.0h14.6v13.9h-14.6zM1081.6 1827.0h14.6v13.9h-14.6zM1081.6 1664.0h14.6v13.9h-14.6zM1081.6 1174.8h14.6v13.9h-14.6zM1096.1 1691.1h14.6v13.9h-14.6zM1096.1 1025.3h14.6v13.9h-14.6zM1096.1 943.8h14.6v13.9h-14.6zM1110.6 1664.0h14.6v13.9h-14.6zM1110.6 903.0h14.6v13.9h-14.6zM1139.7 1731.9h14.6v13.9h-14.6zM1183.2 1405.8h14.6v13.9h-14.6zM1197.7 1636.8h14.6v13.9h-14.6zM1197.7 1201.9h14.6v13.9h-14.6zM1212.2 1514.5h14.6v13.9h-14.6zM1226.8 1541.7h14.6v13.9h-14.6zM1226.8 1500.9h14.6v13.9h-14.6zM1226.8 1106.8h14.6v13.9h-14.6zM1255.8 1528.1h14.6v13.9h-14.6zM1255.8 1134.0h14.6v13.9h-14.6zM1255.8 998.1h14.6v13.9h-14.6zM1270.3 1405.8h14.6v13.9h-14.6zM1284.8 1596.0h14.6v13.9h-14.6zM1328.4 1514.5h14.6v13.9h-14.6zM1342.9 1582.4h14.6v13.9h-14.6zM1357.4 1582.4h14.6v13.9h-14.6zM1357.4 1392.2h14.6v13.9h-14.6zM1371.9 1487.3h14.6v13.9h-14.6zM1386.4 1460.1h14.6v13.9h-14.6zM1386.4 1229.1h14.6v13.9h-14.6zM1386.4 1147.6h14.6v13.9h-14.6zM1415.4 1446.5h14.6v13.9h-14.6z"/>
<path fill="#10604c" d="M355.9 1446.5h14.6v13.9h-14.6zM370.4 1609.6h14.6v13.9h-14.6zM370.4 1337.8h14.6v13.9h-14.6zM384.9 1908.6h14.6v13.9h-14.6zM384.9 1636.8h14.6v13.9h-14.6zM384.9 1093.2h14.6v13.9h-14.6zM399.4 1636.8h14.6v13.9h-14.6zM413.9 1840.6h14.6v13.9h-14.6zM413.9 1269.9h14.6v13.9h-14.6zM413.9 1201.9h14.6v13.9h-14.6zM413.9 1093.2h14.6v13.9h-14.6zM413.9 916.6h14.6v13.9h-14.6zM428.4 1745.5h14.6v13.9h-14.6zM428.4 1283.5h14.6v13.9h-14.6zM428.4 1188.4h14.6v13.9h-14.6zM442.9 1759.1h14.6v13.9h-14.6zM442.9 1473.7h14.6v13.9h-14.6zM457.5 1759.1h14.6v13.9h-14.6zM457.5 1283.5h14.6v13.9h-14.6zM457.5 1174.8h14.6v13.9h-14.6zM472.0 1867.8h14.6v13.9h-14.6zM472.0 1731.9h14.6v13.9h-14.6zM472.0 1269.9h14.6v13.9h-14.6zM472.0 1188.4h14.6v13.9h-14.6zM486.5 1922.2h14.6v13.9h-14.6zM486.5 1908.6h14.6v13.9h-14.6zM486.5 1636.8h14.6v13.9h-14.6zM486.5 1079.6h14.6v13.9h-14.6zM486.5 1038.9h14.6v13.9h-14.6zM501.0 1867.8h14.6v13.9h-14.6zM501.0 1854.2h14.6v13.9h-14.6zM501.0 1011.7h14.6v13.9h-14.6zM515.5 1949.3h14.6v13.9h-14.6zM515.5 1066.1h14.6v13.9h-14.6zM515.5 984.5h14.6v13.9h-14.6zM515.5 916.6h14.6v13.9h-14.6zM530.0 1827.0h14.6v13.9h-14.6zM530.0 1025.3h14.6v13.9h-14.6zM544.5 1609.6h14.6v13.9h-14.6zM559.1 1813.4h14.6v13.9h-14.6zM559.1 1691.1h14.6v13.9h-14.6zM559.1 1134.0h14.6v13.9h-14.6zM573.6 1976.5h14.6v13.9h-14.6zM573.6 1881.4h14.6v13.9h-14.6zM573.6 1827.0h14.6v13.9h-14.6zM573.6 970.9h14.6v13.9h-14.6zM588.1 1079.6h14.6v13.9h-14.6zM602.6 2017.3h14.6v13.9h-14.6zM602.6 1922.2h14.6v13.9h-14.6zM617.1 1840.6h14.6v13.9h-14.6zM617.1 1038.9h14.6v13.9h-14.6zM660.7 1759.1h14.6v13.9h-14.6zM689.7 1650.4h14.6v13.9h-14.6zM704.2 1854.2h14.6v13.9h-14.6zM718.7 1922.2h14.6v13.9h-14.6zM718.7 984.5h14.6v13.9h-14.6zM718.7 943.8h14.6v13.9h-14.6zM747.8 1881.4h14.6v13.9h-14.6zM747.8 1786.3h14.6v13.9h-14.6zM762.3 1840.6h14.6v13.9h-14.6zM762.3 957.3h14.6v13.9h-14.6zM791.3 1827.0h14.6v13.9h-14.6zM805.8 1840.6h14.6v13.9h-14.6zM805.8 1799.9h14.6v13.9h-14.6zM805.8 1786.3h14.6v13.9h-14.6zM820.3 1011.7h14.6v13.9h-14.6zM849.4 1011.7h14.6v13.9h-14.6zM863.9 1786.3h14.6v13.9h-14.6zM863.9 1745.5h14.6v13.9h-14.6zM878.4 1052.5h14.6v13.9h-14.6zM892.9 1799.9h14.6v13.9h-14.6zM892.9 1718.3h14.6v13.9h-14.6zM907.4 1895.0h14.6v13.9h-14.6zM921.9 984.5h14.6v13.9h-14.6zM936.5 1772.7h14.6v13.9h-14.6zM980.0 1704.7h14.6v13.9h-14.6zM980.0 1269.9h14.6v13.9h-14.6zM994.5 1867.8h14.6v13.9h-14.6zM994.5 1147.6h14.6v13.9h-14.6zM1009.0 1922.2h14.6v13.9h-14.6zM1009.0 1786.3h14.6v13.9h-14.6zM1067.1 1908.6h14.6v13.9h-14.6zM1067.1 1650.4h14.6v13.9h-14.6zM1067.1 1555.3h14.6v13.9h-14.6zM1081.6 1731.9h14.6v13.9h-14.6zM1081.6 943.8h14.6v13.9h-14.6zM1096.1 1759.1h14.6v13.9h-14.6zM1168.7 1500.9h14.6v13.9h-14.6zM1183.2 1460.1h14.6v13.9h-14.6zM1183.2 1161.2h14.6v13.9h-14.6zM1197.7 1704.7h14.6v13.9h-14.6zM1284.8 1786.3h14.6v13.9h-14.6zM1299.3 1568.8h14.6v13.9h-14.6zM1371.9 1120.4h14.6v13.9h-14.6zM1459.0 1201.9h14.6v13.9h-14.6zM1473.5 1120.4h14.6v13.9h-14.6z"/>
<path fill="#126448" d="M355.9 1704.7h14.6v13.9h-14.6zM355.9 1297.1h14.6v13.9h-14.6zM355.9 1229.1h14.6v13.9h-14.6zM370.4 1079.6h14.6v13.9h-14.6zM384.9 1759.1h14.6v13.9h-14.6zM384.9 1201.9h14.6v13.9h-14.6zM384.9 1011.7h14.6v13.9h-14.6zM399.4 1555.3h14.6v13.9h-14.6zM399.4 1120.4h14.6v13.9h-14.6zM399.4 984.5h14.6v13.9h-14.6zM413.9 1025.3h14.6v13.9h-14.6zM442.9 1052.5h14.6v13.9h-14.6zM457.5 1038.9h14.6v13.9h-14.6zM472.0 1134.0h14.6v13.9h-14.6zM486.5 1134.0h14.6v13.9h-14.6zM515.5 1786.3h14.6v13.9h-14.6zM515.5 1772.7h14.6v13.9h-14.6zM515.5 1759.1h14.6v13.9h-14.6zM515.5 1134.0h14.6v13.9h-14.6zM530.0 1786.3h14.6v13.9h-14.6zM559.1 1799.9h14.6v13.9h-14.6zM573.6 1922.2h14.6v13.9h-14.6zM573.6 1908.6h14.6v13.9h-14.6zM573.6 1840.6h14.6v13.9h-14.6zM602.6 1867.8h14.6v13.9h-14.6zM602.6 862.2h14.6v13.9h-14.6zM617.1 1854.2h14.6v13.9h-14.6zM631.6 1827.0h14.6v13.9h-14.6zM631.6 998.1h14.6v13.9h-14.6zM646.1 1867.8h14.6v13.9h-14.6zM646.1 889.4h14.6v13.9h-14.6zM660.7 1881.4h14.6v13.9h-14.6zM675.2 821.5h14.6v13.9h-14.6zM704.2 1976.5h14.6v13.9h-14.6zM733.2 1772.7h14.6v13.9h-14.6zM762.3 1759.1h14.6v13.9h-14.6zM791.3 1799.9h14.6v13.9h-14.6zM791.3 1759.1h14.6v13.9h-14.6zM791.3 875.8h14.6v13.9h-14.6zM805.8 1976.5h14.6v13.9h-14.6zM805.8 1650.4h14.6v13.9h-14.6zM820.3 1867.8h14.6v13.9h-14.6zM834.8 1813.4h14.6v13.9h-14.6zM834.8 1718.3h14.6v13.9h-14.6zM849.4 1895.0h14.6v13.9h-14.6zM863.9 916.6h14.6v13.9h-14.6zM878.4 1908.6h14.6v13.9h-14.6zM878.4 1718.3h14.6v13.9h-14.6zM921.9 1895.0h14.6v13.9h-14.6zM921.9 1813.4h14.6v13.9h-14.6zM936.5 1745.5h14.6v13.9h-14.6zM936.5 957.3h14.6v13.9h-14.6zM951.0 1161.2h14.6v13.9h-14.6zM1009.0 1799.9h14.6v13.9h-14.6zM1038.1 1731.9h14.6v13.9h-14.6zM1052.6 1745.5h14.6v13.9h-14.6zM1081.6 2030.9h14.6v13.9h-14.6zM1081.6 1677.6h14.6v13.9h-14.6zM1096.1 1283.5h14.6v13.9h-14.6zM1110.6 1840.6h14.6v13.9h-14.6zM1110.6 1745.5h14.6v13.9h-14.6zM1110.6 1093.2h14.6v13.9h-14.6zM1125.1 1759.1h14.6v13.9h-14.6zM1125.1 1596.0h14.6v13.9h-14.6zM1139.7 1664.0h14.6v13.9h-14.6zM1168.7 1664.0h14.6v13.9h-14.6zM1197.7 1568.8h14.6v13.9h-14.6zM1212.2 1541.7h14.6v13.9h-14.6zM1241.3 1609.6h14.6v13.9h-14.6zM1328.4 1500.9h14.6v13.9h-14.6zM1328.4 1460.1h14.6v13.9h-14.6zM1357.4 1500.9h14.6v13.9h-14.6zM1386.4 1487.3h14.6v13.9h-14.6zM1386.4 1297.1h14.6v13.9h-14.6zM1400.9 1500.9h14.6v13.9h-14.6zM1400.9 1310.7h14.6v13.9h-14.6zM1459.0 1623.2h14.6v13.9h-14.6z"/>
<path fill="#136744" d="M355.9 1147.6h14.6v13.9h-14.6zM370.4 1691.1h14.6v13.9h-14.6zM384.9 1691.1h14.6v13.9h-14.6zM384.9 875.8h14.6v13.9h-14.6zM413.9 943.8h14.6v13.9h-14.6zM428.4 1134.0h14.6v13.9h-14.6zM442.9 1120.4h14.6v13.9h-14.6zM457.5 1908.6h14.6v13.9h-14.6zM472.0 1093.2h14.6v13.9h-14.6zM486.5 1867.8h14.6v13.9h-14.6zM486.5 1799.9h14.6v13.9h-14.6zM501.0 1120.4h14.6v13.9h-14.6zM515.5 1881.4h14.6v13.9h-14.6zM530.0 1011.7h14.6v13.9h-14.6zM544.5 957.3h14.6v13.9h-14.6zM559.1 903.0h14.6v13.9h-14.6zM588.1 1840.6h14.6v13.9h-14.6zM602.6 1895.0h14.6v13.9h-14.6zM631.6 984.5h14.6v13.9h-14.6zM646.1 1786.3h14.6v13.9h-14.6zM689.7 1922.2h14.6v13.9h-14.6zM718.7 1962.9h14.6v13.9h-14.6zM718.7 1840.6h14.6v13.9h-14.6zM747.8 1908.6h14.6v13.9h-14.6zM747.8 930.2h14.6v13.9h-14.6zM776.8 1813.4h14.6v13.9h-14.6zM791.3 1881.4h14.6v13.9h-14.6zM791.3 1772.7h14.6v13.9h-14.6zM791.3 1052.5h14.6v13.9h-14.6zM834.8 1854.2h14.6v13.9h-14.6zM834.8 1079.6h14.6v13.9h-14.6zM834.8 943.8h14.6v13.9h-14.6zM863.9 1840.6h14.6v13.9h-14.6zM921.9 1908.6h14.6v13.9h-14.6zM936.5 1881.4h14.6v13.9h-14.6zM951.0 1854.2h14.6v13.9h-14.6zM951.0 1827.0h14.6v13.9h-14.6zM965.5 916.6h14.6v13.9h-14.6zM1052.6 1881.4h14.6v13.9h-14.6zM1081.6 1691.1h14.6v13.9h-14.6zM1096.1 1555.3h14.6v13.9h-14.6zM1096.1 1174.8h14.6v13.9h-14.6zM1110.6 1528.1h14.6v13.9h-14.6zM1125.1 1745.5h14.6v13.9h-14.6zM1139.7 1867.8h14.6v13.9h-14.6zM1168.7 1745.5h14.6v13.9h-14.6zM1168.7 1623.2h14.6v13.9h-14.6zM1168.7 1609.6h14.6v13.9h-14.6zM1168.7 1528.1h14.6v13.9h-14.6zM1197.7 1827.0h14.6v13.9h-14.6zM1226.8 1066.1h14.6v13.9h-14.6zM1241.3 1623.2h14.6v13.9h-14.6zM1241.3 1310.7h14.6v13.9h-14.6zM1241.3 1215.5h14.6v13.9h-14.6zM1255.8 1691.1h14.6v13.9h-14.6zM1255.8 1052.5h14.6v13.9h-14.6zM1371.9 1079.6h14.6v13.9h-14.6zM1400.9 1446.5h14.6v13.9h-14.6z"/>
<path fill="#156b40" d="M355.9 1541.7h14.6v13.9h-14.6zM384.9 1677.6h14.6v13.9h-14.6zM384.9 1229.1h14.6v13.9h-14.6zM413.9 1066.1h14.6v13.9h-14.6zM413.9 1011.7h14.6v13.9h-14.6zM413.9 998.1h14.6v13.9h-14.6zM428.4 1976.5h14.6v13.9h-14.6zM472.0 1161.2h14.6v13.9h-14.6zM486.5 1704.7h14.6v13.9h-14.6zM501.0 970.9h14.6v13.9h-14.6zM515.5 1854.2h14.6v13.9h-14.6zM515.5 1840.6h14.6v13.9h-14.6zM544.5 1093.2h14.6v13.9h-14.6zM559.1 1908.6h14.6v13.9h-14.6zM588.1 1867.8h14.6v13.9h-14.6zM631.6 970.9h14.6v13.9h-14.6zM660.7 1827.0h14.6v13.9h-14.6zM704.2 1840.6h14.6v13.9h-14.6zM718.7 1745.5h14.6v13.9h-14.6zM733.2 1935.7h14.6v13.9h-14.6zM776.8 930.2h14.6v13.9h-14.6zM805.8 2003.7h14.6v13.9h-14.6zM820.3 916.6h14.6v13.9h-14.6zM834.8 1895.0h14.6v13.9h-14.6zM849.4 1881.4h14.6v13.9h-14.6zM849.4 1867.8h14.6v13.9h-14.6zM878.4 1854.2h14.6v13.9h-14.6zM878.4 1786.3h14.6v13.9h-14.6zM951.0 916.6h14.6v13.9h-14.6zM965.5 1731.9h14.6v13.9h-14.6zM980.0 1691.1h14.6v13.9h-14.6zM994.5 1704.7h14.6v13.9h-14.6zM1009.0 1745.5h14.6v13.9h-14.6zM1052.6 1691.1h14.6v13.9h-14.6zM1081.6 1854.2h14.6v13.9h-14.6zM1096.1 1718.3h14.6v13.9h-14.6zM1096.1 984.5h14.6v13.9h-14.6zM1110.6 1038.9h14.6v13.9h-14.6zM1125.1 1487.3h14.6v13.9h-14.6zM1139.7 1854.2h14.6v13.9h-14.6zM1154.2 1772.7h14.6v13.9h-14.6zM1154.2 1528.1h14.6v13.9h-14.6zM1154.2 1093.2h14.6v13.9h-14.6zM1183.2 1854.2h14.6v13.9h-14.6zM1183.2 1636.8h14.6v13.9h-14.6zM1197.7 1745.5h14.6v13.9h-14.6zM1212.2 1433.0h14.6v13.9h-14.6zM1226.8 1786.3h14.6v13.9h-14.6zM1241.3 1528.1h14.6v13.9h-14.6zM1284.8 1528.1h14.6v13.9h-14.6zM1386.4 1568.8h14.6v13.9h-14.6zM1386.4 1351.4h14.6v13.9h-14.6zM1400.9 1718.3h14.6v13.9h-14.6zM1459.0 1596.0h14.6v13.9h-14.6z"/>
<path fill="#166f3d" d="M355.9 1487.3h14.6v13.9h-14.6zM370.4 1297.1h14.6v13.9h-14.6zM399.4 1935.7h14.6v13.9h-14.6zM413.9 1895.0h14.6v13.9h-14.6zM413.9 1174.8h14.6v13.9h-14.6zM428.4 1025.3h14.6v13.9h-14.6zM457.5 1935.7h14.6v13.9h-14.6zM457.5 1134.0h14.6v13.9h-14.6zM457.5 1066.1h14.6v13.9h-14.6zM472.0 1854.2h14.6v13.9h-14.6zM486.5 1786.3h14.6v13.9h-14.6zM486.5 1025.3h14.6v13.9h-14.6zM515.5 1827.0h14.6v13.9h-14.6zM602.6 1990.1h14.6v13.9h-14.6zM617.1 1093.2h14.6v13.9h-14.6zM631.6 1962.9h14.6v13.9h-14.6zM689.7 1827.0h14.6v13.9h-14.6zM733.2 1827.0h14.6v13.9h-14.6zM762.3 1813.4h14.6v13.9h-14.6zM791.3 1935.7h14.6v13.9h-14.6zM834.8 1935.7h14.6v13.9h-14.6zM834.8 1840.6h14.6v13.9h-14.6zM863.9 1813.4h14.6v13.9h-14.6zM892.9 1786.3h14.6v13.9h-14.6zM921.9 903.0h14.6v13.9h-14.6zM936.5 1799.9h14.6v13.9h-14.6zM951.0 1867.8h14.6v13.9h-14.6zM951.0 1745.5h14.6v13.9h-14.6zM1009.0 1949.3h14.6v13.9h-14.6zM1023.5 1813.4h14.6v13.9h-14.6zM1038.1 1895.0h14.6v13.9h-14.6zM1038.1 1066.1h14.6v13.9h-14.6zM1038.1 957.3h14.6v13.9h-14.6zM1038.1 903.0h14.6v13.9h-14.6zM1067.1 1867.8h14.6v13.9h-14.6zM1081.6 1201.9h14.6v13.9h-14.6zM1096.1 1854.2h14.6v13.9h-14.6zM1110.6 1731.9h14.6v13.9h-14.6zM1110.6 1650.4h14.6v13.9h-14.6zM1125.1 903.0h14.6v13.9h-14.6zM1139.7 1487.3h14.6v13.9h-14.6zM1154.2 1066.1h14.6v13.9h-14.6zM1183.2 1188.4h14.6v13.9h-14.6zM1226.8 1623.2h14.6v13.9h-14.6zM1328.4 1541.7h14.6v13.9h-14.6zM1342.9 1568.8h14.6v13.9h-14.6zM1342.9 1500.9h14.6v13.9h-14.6zM1430.0 1242.7h14.6v13.9h-14.6z"/>
<path fill="#187339" d="M399.4 1066.1h14.6v13.9h-14.6zM413.9 1772.7h14.6v13.9h-14.6zM442.9 1908.6h14.6v13.9h-14.6zM472.0 1079.6h14.6v13.9h-14.6zM486.5 1011.7h14.6v13.9h-14.6zM501.0 1704.7h14.6v13.9h-14.6zM559.1 998.1h14.6v13.9h-14.6zM588.1 1895.0h14.6v13.9h-14.6zM588.1 1772.7h14.6v13.9h-14.6zM602.6 1881.4h14.6v13.9h-14.6zM631.6 1935.7h14.6v13.9h-14.6zM646.1 1935.7h14.6v13.9h-14.6zM646.1 1840.6h14.6v13.9h-14.6zM660.7 1908.6h14.6v13.9h-14.6zM660.7 970.9h14.6v13.9h-14.6zM733.2 1908.6h14.6v13.9h-14.6zM747.8 1840.6h14.6v13.9h-14.6zM747.8 1066.1h14.6v13.9h-14.6zM762.3 1922.2h14.6v13.9h-14.6zM776.8 1895.0h14.6v13.9h-14.6zM791.3 903.0h14.6v13.9h-14.6zM820.3 1813.4h14.6v13.9h-14.6zM820.3 943.8h14.6v13.9h-14.6zM907.4 1922.2h14.6v13.9h-14.6zM1009.0 848.6h14.6v13.9h-14.6zM1023.5 1664.0h14.6v13.9h-14.6zM1038.1 1854.2h14.6v13.9h-14.6zM1038.1 1759.1h14.6v13.9h-14.6zM1038.1 1215.5h14.6v13.9h-14.6zM1052.6 1895.0h14.6v13.9h-14.6zM1067.1 1759.1h14.6v13.9h-14.6zM1081.6 1840.6h14.6v13.9h-14.6zM1081.6 1596.0h14.6v13.9h-14.6zM1125.1 1025.3h14.6v13.9h-14.6zM1139.7 1677.6h14.6v13.9h-14.6zM1139.7 1161.2h14.6v13.9h-14.6zM1154.2 1704.7h14.6v13.9h-14.6zM1168.7 1704.7h14.6v13.9h-14.6zM1168.7 1691.1h14.6v13.9h-14.6zM1183.2 1731.9h14.6v13.9h-14.6zM1183.2 1691.1h14.6v13.9h-14.6zM1241.3 1745.5h14.6v13.9h-14.6zM1241.3 1636.8h14.6v13.9h-14.6zM1284.8 1419.4h14.6v13.9h-14.6zM1299.3 1433.0h14.6v13.9h-14.6zM1357.4 1813.4h14.6v13.9h-14.6z"/>
<path fill="#1a7735" d="M384.9 1215.5h14.6v13.9h-14.6zM428.4 1093.2h14.6v13.9h-14.6zM428.4 930.2h14.6v13.9h-14.6zM442.9 1840.6h14.6v13.9h-14.6zM457.5 1079.6h14.6v13.9h-14.6zM472.0 1745.5h14.6v13.9h-14.6zM472.0 984.5h14.6v13.9h-14.6zM472.0 862.2h14.6v13.9h-14.6zM573.6 903.0h14.6v13.9h-14.6zM573.6 726.3h14.6v13.9h-14.6zM631.6 903.0h14.6v13.9h-14.6zM675.2 1840.6h14.6v13.9h-14.6zM675.2 1827.0h14.6v13.9h-14.6zM689.7 1881.4h14.6v13.9h-14.6zM776.8 1922.2h14.6v13.9h-14.6zM776.8 794.3h14.6v13.9h-14.6zM892.9 1908.6h14.6v13.9h-14.6zM907.4 2003.7h14.6v13.9h-14.6zM965.5 1881.4h14.6v13.9h-14.6zM1009.0 1759.1h14.6v13.9h-14.6zM1052.6 1799.9h14.6v13.9h-14.6zM1081.6 1799.9h14.6v13.9h-14.6zM1110.6 1718.3h14.6v13.9h-14.6zM1139.7 1691.1h14.6v13.9h-14.6zM1168.7 1799.9h14.6v13.9h-14.6zM1168.7 1555.3h14.6v13.9h-14.6zM1212.2 1636.8h14.6v13.9h-14.6zM1226.8 1867.8h14.6v13.9h-14.6zM1226.8 1731.9h14.6v13.9h-14.6zM1241.3 1677.6h14.6v13.9h-14.6zM1313.8 1541.7h14.6v13.9h-14.6zM1357.4 1460.1h14.6v13.9h-14.6zM1371.9 1840.6h14.6v13.9h-14.6zM1415.4 1405.8h14.6v13.9h-14.6zM1473.5 1623.2h14.6v13.9h-14.6z"/>
<path fill="#1b7b31" d="M399.4 1827.0h14.6v13.9h-14.6zM399.4 1188.4h14.6v13.9h-14.6zM413.9 1813.4h14.6v13.9h-14.6zM428.4 1052.5h14.6v13.9h-14.6zM442.9 1066.1h14.6v13.9h-14.6zM457.5 930.2h14.6v13.9h-14.6zM515.5 2017.3h14.6v13.9h-14.6zM515.5 1922.2h14.6v13.9h-14.6zM544.5 1881.4h14.6v13.9h-14.6zM573.6 1867.8h14.6v13.9h-14.6zM588.1 2030.9h14.6v13.9h-14.6zM588.1 1976.5h14.6v13.9h-14.6zM631.6 1990.1h14.6v13.9h-14.6zM660.7 889.4h14.6v13.9h-14.6zM689.7 1895.0h14.6v13.9h-14.6zM718.7 1854.2h14.6v13.9h-14.6zM718.7 1827.0h14.6v13.9h-14.6zM747.8 1895.0h14.6v13.9h-14.6zM820.3 930.2h14.6v13.9h-14.6zM921.9 1731.9h14.6v13.9h-14.6zM1081.6 1772.7h14.6v13.9h-14.6zM1154.2 1514.5h14.6v13.9h-14.6zM1197.7 1664.0h14.6v13.9h-14.6zM1226.8 1609.6h14.6v13.9h-14.6zM1226.8 1460.1h14.6v13.9h-14.6zM1241.3 1704.7h14.6v13.9h-14.6zM1313.8 1473.7h14.6v13.9h-14.6zM1328.4 1759.1h14.6v13.9h-14.6zM1357.4 1555.3h14.6v13.9h-14.6z"/>
<path fill="#1d7f2d" d="M384.9 889.4h14.6v13.9h-14.6zM428.4 1813.4h14.6v13.9h-14.6zM457.5 1786.3h14.6v13.9h-14.6zM472.0 1011.7h14.6v13.9h-14.6zM486.5 875.8h14.6v13.9h-14.6zM515.5 1799.9h14.6v13.9h-14.6zM588.1 739.9h14.6v13.9h-14.6zM617.1 1827.0h14.6v13.9h-14.6zM646.1 1813.4h14.6v13.9h-14.6zM675.2 1935.7h14.6v13.9h-14.6zM689.7 1840.6h14.6v13.9h-14.6zM689.7 930.2h14.6v13.9h-14.6zM747.8 1867.8h14.6v13.9h-14.6zM762.3 1854.2h14.6v13.9h-14.6zM892.9 1949.3h14.6v13.9h-14.6zM907.4 1881.4h14.6v13.9h-14.6zM936.5 1922.2h14.6v13.9h-14.6zM994.5 1799.9h14.6v13.9h-14.6zM1023.5 1079.6h14.6v13.9h-14.6zM1038.1 1582.4h14.6v13.9h-14.6zM1096.1 1895.0h14.6v13.9h-14.6zM1096.1 1745.5h14.6v13.9h-14.6zM1139.7 1908.6h14.6v13.9h-14.6zM1270.3 1786.3h14.6v13.9h-14.6zM1270.3 1500.9h14.6v13.9h-14.6zM1342.9 1650.4h14.6v13.9h-14.6zM1415.4 1460.1h14.6v13.9h-14.6z"/>
<path fill="#1f832a" d="M413.9 1038.9h14.6v13.9h-14.6zM428.4 2003.7h14.6v13.9h-14.6zM457.5 1840.6h14.6v13.9h-14.6zM457.5 998.1h14.6v13.9h-14.6zM472.0 1840.6h14.6v13.9h-14.6zM559.1 1976.5h14.6v13.9h-14.6zM617.1 943.8h14.6v13.9h-14.6zM660.7 1038.9h14.6v13.9h-14.6zM689.7 1854.2h14.6v13.9h-14.6zM834.8 1867.8h14.6v13.9h-14.6zM907.4 1813.4h14.6v13.9h-14.6zM921.9 1854.2h14.6v13.9h-14.6zM1009.0 1813.4h14.6v13.9h-14.6zM1023.5 1827.0h14.6v13.9h-14.6zM1096.1 1827.0h14.6v13.9h-14.6zM1110.6 1201.9h14.6v13.9h-14.6zM1197.7 1772.7h14.6v13.9h-14.6zM1400.9 1120.4h14.6v13.9h-14.6z"/>
<path fill="#208726" d="M355.9 1596.0h14.6v13.9h-14.6zM355.9 1134.0h14.6v13.9h-14.6zM355.9 903.0h14.6v13.9h-14.6zM355.9 835.0h14.6v13.9h-14.6zM370.4 930.2h14.6v13.9h-14.6zM384.9 1799.9h14.6v13.9h-14.6zM384.9 1731.9h14.6v13.9h-14.6zM399.4 1772.7h14.6v13.9h-14.6zM399.4 1161.2h14.6v13.9h-14.6zM399.4 1134.0h14.6v13.9h-14.6zM399.4 1011.7h14.6v13.9h-14.6zM413.9 1935.7h14.6v13.9h-14.6zM428.4 1949.3h14.6v13.9h-14.6zM442.9 1799.9h14.6v13.9h-14.6zM442.9 1093.2h14.6v13.9h-14.6zM442.9 984.5h14.6v13.9h-14.6zM442.9 943.8h14.6v13.9h-14.6zM457.5 1922.2h14.6v13.9h-14.6zM472.0 1038.9h14.6v13.9h-14.6zM501.0 1962.9h14.6v13.9h-14.6zM530.0 1976.5h14.6v13.9h-14.6zM530.0 1093.2h14.6v13.9h-14.6zM544.5 1867.8h14.6v13.9h-14.6zM544.5 1813.4h14.6v13.9h-14.6zM559.1 1025.3h14.6v13.9h-14.6zM559.1 875.8h14.6v13.9h-14.6zM573.6 1854.2h14.6v13.9h-14.6zM588.1 930.2h14.6v13.9h-14.6zM602.6 875.8h14.6v13.9h-14.6zM617.1 1949.3h14.6v13.9h-14.6zM646.1 1908.6h14.6v13.9h-14.6zM646.1 1827.0h14.6v13.9h-14.6zM675.2 1990.1h14.6v13.9h-14.6zM689.7 1990.1h14.6v13.9h-14.6zM689.7 889.4h14.6v13.9h-14.6zM718.7 1908.6h14.6v13.9h-14.6zM718.7 1867.8h14.6v13.9h-14.6zM733.2 2003.7h14.6v13.9h-14.6zM733.2 1840.6h14.6v13.9h-14.6zM733.2 916.6h14.6v13.9h-14.6zM747.8 1922.2h14.6v13.9h-14.6zM747.8 1813.4h14.6v13.9h-14.6zM762.3 1908.6h14.6v13.9h-14.6zM762.3 1895.0h14.6v13.9h-14.6zM791.3 970.9h14.6v13.9h-14.6zM834.8 1949.3h14.6v13.9h-14.6zM863.9 1867.8h14.6v13.9h-14.6zM863.9 1799.9h14.6v13.9h-14.6zM863.9 1772.7h14.6v13.9h-14.6zM878.4 1895.0h14.6v13.9h-14.6zM878.4 1881.4h14.6v13.9h-14.6zM892.9 1895.0h14.6v13.9h-14.6zM892.9 903.0h14.6v13.9h-14.6zM936.5 1011.7h14.6v13.9h-14.6zM951.0 1935.7h14.6v13.9h-14.6zM980.0 1976.5h14.6v13.9h-14.6zM1009.0 1881.4h14.6v13.9h-14.6zM1009.0 1623.2h14.6v13.9h-14.6zM1023.5 1895.0h14.6v13.9h-14.6zM1023.5 1066.1h14.6v13.9h-14.6zM1023.5 1025.3h14.6v13.9h-14.6zM1038.1 1840.6h14.6v13.9h-14.6zM1038.1 1772.7h14.6v13.9h-14.6zM1067.1 1813.4h14.6v13.9h-14.6zM1081.6 1895.0h14.6v13.9h-14.6zM1081.6 1813.4h14.6v13.9h-14.6zM1081.6 1718.3h14.6v13.9h-14.6zM1096.1 1867.8h14.6v13.9h-14.6zM1110.6 1813.4h14.6v13.9h-14.6zM1125.1 1799.9h14.6v13.9h-14.6zM1139.7 1079.6h14.6v13.9h-14.6zM1154.2 1677.6h14.6v13.9h-14.6zM1183.2 1840.6h14.6v13.9h-14.6zM1183.2 1772.7h14.6v13.9h-14.6zM1183.2 1718.3h14.6v13.9h-14.6zM1197.7 1759.1h14.6v13.9h-14.6zM1197.7 1297.1h14.6v13.9h-14.6zM1212.2 1813.4h14.6v13.9h-14.6zM1241.3 1759.1h14.6v13.9h-14.6zM1241.3 1664.0h14.6v13.9h-14.6zM1255.8 1786.3h14.6v13.9h-14.6zM1255.8 1609.6h14.6v13.9h-14.6zM1284.8 1745.5h14.6v13.9h-14.6zM1284.8 1731.9h14.6v13.9h-14.6zM1284.8 1718.3h14.6v13.9h-14.6zM1299.3 1799.9h14.6v13.9h-14.6zM1299.3 1473.7h14.6v13.9h-14.6zM1299.3 1365.0h14.6v13.9h-14.6zM1328.4 1691.1h14.6v13.9h-14.6zM1328.4 1351.4h14.6v13.9h-14.6zM1357.4 1772.7h14.6v13.9h-14.6zM1357.4 1324.2h14.6v13.9h-14.6zM1357.4 1093.2h14.6v13.9h-14.6zM1415.4 1351.4h14.6v13.9h-14.6zM1531.6 1677.6h14.6v13.9h-14.6z"/>
</g>
<g clip-path="url(#cm)" fill="none" stroke-width="6.25" stroke-linejoin="round" stroke-linecap="butt">
<path stroke="#000000" d="M638.6 2051.4L653.1 2065.0L667.6 2051.4L653.1 2037.8ZM711.2 2051.4L725.7 2065.0L740.2 2051.4L725.7 2037.8ZM812.8 2051.4L827.3 2065.0L841.8 2051.4L827.3 2037.8ZM580.5 2037.8L595.0 2051.4L609.6 2037.8L609.6 2037.8L624.1 2024.2L609.6 2010.6L595.0 2024.2L595.0 2024.2ZM1074.0 2037.8L1088.5 2051.4L1103.1 2037.8L1088.5 2024.2ZM957.9 2024.2L972.4 2037.8L986.9 2037.8L1001.5 2024.2L986.9 2010.6L972.4 2010.6L972.4 2010.6L972.4 2010.6L986.9 2010.6L1001.5 1997.1L1001.5 1983.5L986.9 1969.9L972.4 1983.5L972.4 1983.5L957.9 1997.1L957.9 1997.1L943.4 2010.6L957.9 2024.2ZM798.2 2010.6L812.8 2024.2L827.3 2010.6L812.8 1997.1ZM899.9 2010.6L914.4 2024.2L928.9 2010.6L914.4 1997.1ZM1059.5 2010.6L1074.0 2024.2L1088.5 2010.6L1074.0 1997.1ZM624.1 1997.1L638.6 2010.6L653.1 1997.1L638.6 1983.5ZM885.3 1983.5L899.9 1997.1L914.4 1983.5L899.9 1969.9ZM435.4 1969.9L435.4 1969.9L435.4 1969.9L435.4 1969.9ZM464.4 1969.9L464.4 1969.9L464.4 1956.3L464.4 1956.3L464.4 1956.3L464.4 1969.9ZM1117.6 1969.9L1132.1 1983.5L1146.6 1969.9L1146.6 1969.9L1161.1 1956.3L1146.6 1942.7L1132.1 1956.3L1132.1 1956.3ZM638.6 1956.3L638.6 1956.3L638.6 1956.3L638.6 1956.3ZM1001.5 1956.3L1016.0 1969.9L1030.5 1956.3L1030.5 1956.3L1045.0 1942.7L1030.5 1929.1L1030.5 1929.1L1016.0 1915.5L1001.5 1929.1L1016.0 1942.7L1016.0 1942.7L1016.0 1942.7ZM609.6 1942.7L609.6 1942.7L609.6 1942.7L624.1 1929.1L624.1 1929.1L638.6 1915.5L638.6 1915.5L638.6 1915.5L638.6 1929.1L638.6 1929.1L624.1 1942.7L624.1 1942.7ZM754.7 1942.7L754.7 1942.7L754.7 1942.7L754.7 1942.7ZM362.8 1942.7L377.3 1929.1L377.3 1915.5L362.8 1901.9M711.2 1929.1L711.2 1929.1L711.2 1929.1L711.2 1929.1ZM740.2 1929.1L740.2 1929.1L740.2 1929.1L740.2 1929.1ZM957.9 1929.1L957.9 1929.1L943.4 1915.5L943.4 1915.5L943.4 1901.9L943.4 1901.9L943.4 1901.9L957.9 1915.5L972.4 1915.5L972.4 1915.5L972.4 1915.5L957.9 1929.1ZM377.3 1915.5L391.8 1929.1L406.3 1915.5L406.3 1915.5L420.9 1915.5L435.4 1901.9L420.9 1888.3L406.3 1888.3L391.8 1901.9L391.8 1901.9ZM522.5 1915.5L522.5 1915.5L522.5 1915.5L522.5 1915.5ZM595.0 1915.5L595.0 1915.5L595.0 1915.5L609.6 1915.5L609.6 1915.5L609.6 1915.5ZM841.8 1915.5L841.8 1915.5L841.8 1915.5L841.8 1915.5ZM870.8 1915.5L870.8 1915.5L870.8 1901.9L870.8 1888.3L870.8 1888.3L870.8 1888.3L870.8 1901.9L870.8 1915.5ZM1132.1 1915.5L1146.6 1929.1L1161.1 1915.5L1146.6 1901.9ZM725.7 1901.9L725.7 1901.9L725.7 1901.9L740.2 1901.9L740.2 1901.9L740.2 1901.9ZM1074.0 1901.9L1074.0 1901.9L1074.0 1901.9L1074.0 1901.9ZM1190.2 1901.9L1204.7 1915.5L1219.2 1901.9L1204.7 1888.3ZM537.0 1888.3L537.0 1888.3L537.0 1888.3L537.0 1888.3ZM595.0 1888.3L595.0 1888.3L595.0 1888.3L595.0 1888.3ZM653.1 1888.3L653.1 1888.3L653.1 1888.3L653.1 1888.3ZM682.1 1888.3L682.1 1888.3L682.1 1888.3L682.1 1888.3ZM711.2 1888.3L711.2 1888.3L711.2 1888.3L711.2 1888.3ZM769.2 1888.3L769.2 1888.3L769.2 1888.3L783.7 1888.3L783.7 1888.3L783.7 1888.3ZM928.9 1888.3L928.9 1888.3L928.9 1888.3L928.9 1888.3ZM1030.5 1888.3L1030.5 1888.3L1030.5 1888.3L1030.5 1888.3ZM362.8 1888.3L377.3 1874.8L362.8 1861.2M391.8 1874.8L406.3 1888.3L420.9 1874.8L406.3 1861.2ZM449.9 1874.8L449.9 1874.8L449.9 1874.8L449.9 1874.8ZM638.6 1874.8L638.6 1874.8L638.6 1861.2L638.6 1861.2L638.6 1861.2L638.6 1874.8ZM667.6 1874.8L667.6 1874.8L667.6 1874.8L667.6 1874.8ZM885.3 1874.8L885.3 1874.8L885.3 1874.8L885.3 1874.8ZM943.4 1874.8L943.4 1874.8L943.4 1874.8L943.4 1874.8ZM1045.0 1874.8L1045.0 1874.8L1045.0 1874.8L1059.5 1874.8L1059.5 1874.8L1059.5 1874.8ZM1132.1 1874.8L1146.6 1888.3L1161.1 1874.8L1161.1 1861.2L1161.1 1847.6L1146.6 1834.0L1132.1 1847.6L1132.1 1861.2ZM1190.2 1874.8L1204.7 1888.3L1219.2 1874.8L1204.7 1861.2L1204.7 1861.2L1204.7 1847.6L1204.7 1847.6L1204.7 1847.6L1219.2 1861.2L1233.7 1847.6L1233.7 1847.6L1248.2 1834.0L1248.2 1834.0L1262.7 1820.4L1248.2 1806.8L1233.7 1820.4L1233.7 1820.4L1233.7 1820.4L1219.2 1806.8L1204.7 1820.4L1204.7 1820.4L1190.2 1834.0L1190.2 1834.0L1175.6 1847.6L1175.6 1861.2L1190.2 1874.8ZM1219.2 1874.8L1233.7 1888.3L1248.2 1874.8L1233.7 1861.2ZM493.4 1861.2L493.4 1861.2L493.4 1861.2L493.4 1861.2ZM783.7 1861.2L783.7 1861.2L783.7 1861.2L783.7 1861.2ZM827.3 1861.2L827.3 1861.2L827.3 1861.2L827.3 1861.2ZM899.9 1861.2L899.9 1861.2L899.9 1861.2L899.9 1861.2ZM1030.5 1861.2L1030.5 1861.2L1030.5 1847.6L1030.5 1847.6L1030.5 1847.6L1030.5 1861.2ZM1074.0 1861.2L1074.0 1861.2L1074.0 1847.6L1074.0 1847.6L1074.0 1847.6L1074.0 1861.2ZM1378.9 1861.2L1393.4 1874.8L1407.9 1861.2L1393.4 1847.6L1393.4 1847.6L1378.9 1834.0L1364.3 1847.6L1378.9 1861.2ZM609.6 1847.6L609.6 1847.6L609.6 1847.6L609.6 1847.6ZM667.6 1847.6L667.6 1847.6L667.6 1847.6L667.6 1847.6ZM943.4 1847.6L943.4 1847.6L943.4 1834.0L943.4 1834.0L943.4 1834.0L943.4 1847.6ZM1103.1 1847.6L1103.1 1847.6L1103.1 1847.6L1103.1 1847.6ZM420.9 1834.0L420.9 1834.0L420.9 1834.0L420.9 1834.0ZM478.9 1834.0L478.9 1834.0L478.9 1834.0L478.9 1834.0ZM595.0 1834.0L595.0 1834.0L595.0 1834.0L595.0 1834.0ZM769.2 1834.0L769.2 1834.0L769.2 1834.0L769.2 1834.0ZM1219.2 1834.0L1219.2 1834.0L1219.2 1834.0L1219.2 1834.0ZM986.9 1820.4L986.9 1820.4L986.9 1820.4L986.9 1820.4ZM1103.1 1820.4L1103.1 1820.4L1103.1 1820.4L1103.1 1820.4ZM1277.2 1820.4L1291.8 1834.0L1306.3 1820.4L1306.3 1820.4L1320.8 1806.8L1306.3 1793.2L1306.3 1793.2L1291.8 1779.6L1277.2 1779.6L1262.7 1779.6L1248.2 1793.2L1262.7 1806.8L1277.2 1806.8L1291.8 1806.8L1291.8 1806.8L1291.8 1806.8ZM1349.8 1820.4L1364.3 1834.0L1378.9 1820.4L1364.3 1806.8ZM478.9 1806.8L478.9 1806.8L478.9 1806.8L478.9 1806.8ZM914.4 1806.8L914.4 1806.8L914.4 1806.8L914.4 1806.8ZM1117.6 1806.8L1117.6 1806.8L1117.6 1806.8L1117.6 1806.8ZM1161.1 1806.8L1161.1 1806.8L1161.1 1806.8L1161.1 1806.8ZM1495.0 1806.8L1509.5 1820.4L1524.0 1806.8L1509.5 1793.2ZM682.1 1793.2L682.1 1793.2L682.1 1793.2L682.1 1793.2ZM1001.5 1793.2L1001.5 1793.2L1001.5 1793.2L1001.5 1793.2ZM1132.1 1793.2L1132.1 1793.2L1132.1 1793.2L1146.6 1793.2L1146.6 1793.2L1146.6 1793.2ZM362.8 1793.2L377.3 1779.6L362.8 1766.0M551.5 1779.6L551.5 1779.6L551.5 1779.6L551.5 1779.6ZM1016.0 1779.6L1016.0 1779.6L1016.0 1779.6L1016.0 1779.6ZM1349.8 1779.6L1364.3 1793.2L1378.9 1779.6L1364.3 1766.0ZM1030.5 1766.0L1030.5 1766.0L1030.5 1766.0L1030.5 1766.0ZM1146.6 1766.0L1146.6 1766.0L1146.6 1766.0L1161.1 1766.0L1175.6 1766.0L1175.6 1766.0L1175.6 1766.0L1161.1 1766.0ZM1320.8 1766.0L1335.3 1779.6L1349.8 1766.0L1335.3 1752.5ZM362.8 1766.0L377.3 1752.5L362.8 1738.9M841.8 1752.5L841.8 1752.5L841.8 1752.5L841.8 1752.5ZM1277.2 1752.5L1291.8 1766.0L1306.3 1752.5L1306.3 1738.9L1306.3 1725.3L1291.8 1711.7L1277.2 1725.3L1277.2 1738.9ZM1175.6 1738.9L1175.6 1738.9L1175.6 1725.3L1175.6 1725.3L1175.6 1725.3L1175.6 1738.9ZM1204.7 1738.9L1204.7 1738.9L1204.7 1725.3L1204.7 1725.3L1219.2 1711.7L1219.2 1711.7L1233.7 1698.1L1233.7 1698.1L1233.7 1698.1L1233.7 1711.7L1233.7 1725.3L1233.7 1725.3L1219.2 1738.9L1219.2 1738.9ZM1248.2 1738.9L1248.2 1738.9L1248.2 1738.9L1248.2 1738.9ZM362.8 1738.9L377.3 1738.9L377.3 1738.9L377.3 1752.5L377.3 1766.0L377.3 1779.6L377.3 1793.2L377.3 1793.2L362.8 1806.8L377.3 1820.4L391.8 1820.4L391.8 1820.4L391.8 1834.0L391.8 1847.6L406.3 1861.2L420.9 1861.2L420.9 1861.2L420.9 1874.8L435.4 1888.3L435.4 1888.3L449.9 1901.9L464.4 1888.3L464.4 1888.3L464.4 1888.3L478.9 1901.9L493.4 1901.9L508.0 1888.3L508.0 1888.3L508.0 1888.3L508.0 1901.9L508.0 1901.9L493.4 1901.9L478.9 1915.5L478.9 1929.1L493.4 1942.7L508.0 1942.7L522.5 1942.7L537.0 1942.7L551.5 1929.1L551.5 1915.5L551.5 1901.9L551.5 1901.9L551.5 1901.9L551.5 1915.5L566.0 1929.1L566.0 1929.1L566.0 1942.7L566.0 1942.7L551.5 1956.3L566.0 1969.9L580.5 1969.9L595.0 1956.3L595.0 1956.3L595.0 1956.3L595.0 1969.9L595.0 1969.9L580.5 1969.9L566.0 1969.9L551.5 1969.9L537.0 1969.9L522.5 1969.9L522.5 1969.9L522.5 1969.9L537.0 1956.3L522.5 1942.7L508.0 1956.3L508.0 1956.3L493.4 1969.9L508.0 1983.5L508.0 1983.5L508.0 1983.5L493.4 1997.1L493.4 1997.1L493.4 1997.1L478.9 1983.5L478.9 1983.5L478.9 1983.5L493.4 1969.9L493.4 1956.3L478.9 1942.7L478.9 1942.7L478.9 1929.1L478.9 1915.5L464.4 1901.9L449.9 1901.9L435.4 1915.5L435.4 1929.1L435.4 1942.7L435.4 1942.7L435.4 1942.7L435.4 1929.1L420.9 1915.5L406.3 1929.1L406.3 1929.1L391.8 1942.7L406.3 1956.3L420.9 1956.3L420.9 1956.3L420.9 1956.3L406.3 1969.9L420.9 1983.5L420.9 1983.5L420.9 1983.5L406.3 1997.1L420.9 2010.6L420.9 2010.6L435.4 2024.2L449.9 2010.6L435.4 1997.1L435.4 1997.1L435.4 1997.1L449.9 1983.5L449.9 1983.5L449.9 1983.5L464.4 1997.1L464.4 1997.1L478.9 2010.6L478.9 2010.6L493.4 2024.2L508.0 2024.2L508.0 2024.2L522.5 2037.8L537.0 2024.2L522.5 2010.6L522.5 2010.6L522.5 2010.6L537.0 1997.1L537.0 1997.1L537.0 1997.1L551.5 2010.6L566.0 2010.6L580.5 1997.1L580.5 1997.1L595.0 1997.1L595.0 1997.1L609.6 2010.6L624.1 1997.1L609.6 1983.5L609.6 1983.5L609.6 1983.5L624.1 1969.9L624.1 1969.9L624.1 1969.9L638.6 1983.5L653.1 1969.9L653.1 1969.9L667.6 1956.3L667.6 1942.7L667.6 1929.1L667.6 1929.1L682.1 1929.1L682.1 1929.1L682.1 1929.1L667.6 1942.7L682.1 1956.3L696.6 1942.7L696.6 1942.7L696.6 1942.7L711.2 1956.3L725.7 1942.7L725.7 1942.7L725.7 1942.7L740.2 1956.3L740.2 1956.3L740.2 1956.3L725.7 1956.3L711.2 1969.9L711.2 1969.9L711.2 1969.9L696.6 1956.3L682.1 1956.3L667.6 1969.9L682.1 1983.5L696.6 1983.5L696.6 1983.5L696.6 1983.5L682.1 1983.5L667.6 1997.1L682.1 2010.6L696.6 2010.6L711.2 2010.6L725.7 2010.6L725.7 2010.6L740.2 2024.2L754.7 2010.6L754.7 2010.6L769.2 1997.1L754.7 1983.5L740.2 1997.1L740.2 1997.1L740.2 1997.1L725.7 1983.5L725.7 1983.5L725.7 1983.5L740.2 1983.5L754.7 1983.5L769.2 1983.5L783.7 1969.9L783.7 1956.3L783.7 1942.7L783.7 1942.7L783.7 1942.7L798.2 1956.3L812.8 1942.7L798.2 1929.1L798.2 1929.1L783.7 1915.5L783.7 1915.5L783.7 1915.5L798.2 1901.9L798.2 1901.9L812.8 1888.3L798.2 1874.8L798.2 1874.8L798.2 1874.8L812.8 1874.8L812.8 1874.8L827.3 1888.3L827.3 1888.3L827.3 1901.9L827.3 1901.9L812.8 1901.9L798.2 1915.5L812.8 1929.1L827.3 1929.1L827.3 1929.1L827.3 1942.7L827.3 1956.3L827.3 1956.3L812.8 1956.3L798.2 1969.9L798.2 1983.5L812.8 1997.1L827.3 1983.5L827.3 1983.5L841.8 1969.9L841.8 1969.9L841.8 1969.9L856.3 1983.5L870.8 1969.9L856.3 1956.3L856.3 1956.3L856.3 1942.7L856.3 1929.1L856.3 1929.1L856.3 1929.1L870.8 1942.7L885.3 1929.1L885.3 1929.1L885.3 1929.1L885.3 1942.7L885.3 1942.7L870.8 1956.3L885.3 1969.9L899.9 1969.9L914.4 1956.3L914.4 1956.3L914.4 1956.3L928.9 1969.9L943.4 1956.3L928.9 1942.7L928.9 1942.7L928.9 1942.7L943.4 1942.7L943.4 1942.7L957.9 1956.3L972.4 1956.3L986.9 1942.7L986.9 1942.7L1001.5 1929.1L1001.5 1915.5L986.9 1901.9L986.9 1901.9L986.9 1888.3L986.9 1874.8L986.9 1861.2L986.9 1847.6L986.9 1847.6L986.9 1847.6L1001.5 1861.2L1001.5 1861.2L1001.5 1861.2L986.9 1874.8L986.9 1888.3L1001.5 1901.9L1016.0 1901.9L1016.0 1901.9L1030.5 1915.5L1045.0 1915.5L1059.5 1915.5L1059.5 1915.5L1059.5 1915.5L1045.0 1929.1L1059.5 1942.7L1059.5 1942.7L1074.0 1956.3L1088.5 1942.7L1088.5 1942.7L1103.1 1929.1L1088.5 1915.5L1088.5 1915.5L1088.5 1915.5L1103.1 1915.5L1117.6 1901.9L1103.1 1888.3L1088.5 1888.3L1088.5 1888.3L1088.5 1888.3L1103.1 1888.3L1117.6 1874.8L1117.6 1861.2L1117.6 1861.2L1132.1 1847.6L1132.1 1834.0L1132.1 1820.4L1132.1 1820.4L1146.6 1820.4L1146.6 1820.4L1161.1 1834.0L1175.6 1820.4L1175.6 1820.4L1190.2 1806.8L1175.6 1793.2L1175.6 1793.2L1175.6 1793.2L1190.2 1793.2L1204.7 1793.2L1219.2 1793.2L1219.2 1793.2L1233.7 1806.8L1248.2 1793.2L1233.7 1779.6L1233.7 1779.6L1219.2 1766.0L1219.2 1766.0L1219.2 1766.0L1233.7 1752.5L1233.7 1752.5L1233.7 1752.5L1233.7 1766.0L1248.2 1779.6L1262.7 1779.6L1277.2 1766.0L1262.7 1752.5L1262.7 1752.5L1262.7 1752.5L1277.2 1738.9L1277.2 1725.3L1262.7 1711.7L1262.7 1711.7L1262.7 1711.7L1277.2 1698.1L1262.7 1684.5L1262.7 1684.5L1262.7 1670.9L1262.7 1657.3L1262.7 1657.3L1277.2 1657.3L1291.8 1643.7L1277.2 1630.2L1262.7 1630.2L1262.7 1630.2L1262.7 1630.2L1277.2 1616.6L1277.2 1603.0L1277.2 1589.4L1277.2 1575.8L1277.2 1575.8L1291.8 1575.8L1291.8 1575.8L1291.8 1589.4L1291.8 1589.4L1277.2 1603.0L1291.8 1616.6L1291.8 1616.6L1306.3 1630.2L1320.8 1616.6L1320.8 1603.0L1320.8 1589.4L1320.8 1575.8L1320.8 1575.8L1335.3 1575.8L1335.3 1575.8L1335.3 1589.4L1335.3 1589.4L1320.8 1603.0L1335.3 1616.6L1335.3 1616.6L1335.3 1616.6L1320.8 1630.2L1335.3 1643.7L1349.8 1630.2L1349.8 1630.2L1364.3 1616.6L1349.8 1603.0L1349.8 1603.0L1349.8 1603.0L1364.3 1603.0L1378.9 1589.4L1378.9 1589.4L1393.4 1589.4L1407.9 1589.4L1407.9 1589.4L1422.4 1603.0L1422.4 1603.0L1436.9 1616.6L1451.4 1603.0L1436.9 1589.4L1436.9 1589.4L1422.4 1575.8L1422.4 1575.8L1422.4 1562.2L1422.4 1562.2L1436.9 1562.2L1436.9 1562.2L1451.4 1575.8L1451.4 1575.8L1465.9 1589.4L1480.5 1575.8L1480.5 1575.8L1495.0 1562.2L1480.5 1548.6L1480.5 1548.6L1480.5 1548.6L1495.0 1548.6L1509.5 1535.0L1495.0 1521.4L1480.5 1521.4L1465.9 1535.0L1465.9 1535.0L1465.9 1535.0L1465.9 1521.4L1465.9 1507.9L1451.4 1494.3L1451.4 1494.3L1451.4 1494.3L1465.9 1480.7L1465.9 1480.7L1480.5 1480.7L1480.5 1480.7L1480.5 1494.3L1480.5 1494.3L1465.9 1507.9L1480.5 1521.4L1495.0 1521.4L1509.5 1507.9L1509.5 1494.3L1509.5 1480.7L1495.0 1467.1L1495.0 1467.1L1495.0 1467.1L1509.5 1467.1L1524.0 1467.1L1538.5 1467.1L1538.5 1467.1L1553.0 1480.7L1567.5 1480.7L1567.5 1480.7L1567.5 1480.7L1553.0 1494.3L1553.0 1507.9L1567.5 1521.4L1582.1 1507.9L1582.1 1494.3L1582.1 1494.3L1582.1 1494.3L1596.6 1507.9L1611.1 1494.3L1611.1 1494.3L1625.6 1480.7L1625.6 1467.1L1611.1 1453.5L1596.6 1467.1L1596.6 1480.7L1596.6 1480.7L1596.6 1480.7L1582.1 1467.1L1582.1 1467.1L1582.1 1453.5L1567.5 1439.9L1567.5 1439.9L1567.5 1426.3L1567.5 1412.7L1553.0 1399.1L1538.5 1399.1L1524.0 1412.7L1524.0 1412.7L1524.0 1412.7L1509.5 1399.1L1509.5 1399.1L1509.5 1399.1L1524.0 1385.5L1509.5 1372.0L1495.0 1372.0L1495.0 1372.0L1495.0 1372.0L1509.5 1372.0L1524.0 1358.4L1524.0 1344.8L1509.5 1331.2L1495.0 1331.2L1480.5 1344.8L1480.5 1344.8L1480.5 1344.8L1465.9 1331.2L1465.9 1331.2L1465.9 1331.2L1480.5 1317.6L1465.9 1304.0L1451.4 1317.6L1451.4 1317.6L1436.9 1317.6L1422.4 1317.6L1422.4 1317.6L1407.9 1304.0L1407.9 1304.0L1407.9 1304.0L1422.4 1290.4L1407.9 1276.8L1407.9 1276.8L1407.9 1263.2L1407.9 1263.2L1422.4 1249.7L1422.4 1249.7L1422.4 1249.7L1436.9 1263.2L1451.4 1249.7L1451.4 1236.1L1451.4 1236.1L1465.9 1222.5L1465.9 1222.5L1480.5 1208.9L1465.9 1195.3L1451.4 1208.9L1451.4 1208.9L1436.9 1222.5L1436.9 1222.5L1422.4 1222.5L1422.4 1222.5L1407.9 1208.9L1407.9 1208.9L1407.9 1208.9L1422.4 1195.3L1407.9 1181.7L1393.4 1181.7L1378.9 1181.7L1378.9 1181.7L1364.3 1168.1L1364.3 1168.1L1364.3 1168.1L1378.9 1168.1L1393.4 1168.1L1407.9 1154.5L1407.9 1154.5L1422.4 1154.5L1436.9 1140.9L1422.4 1127.4L1422.4 1127.4L1407.9 1113.8L1393.4 1127.4L1393.4 1140.9L1393.4 1140.9L1378.9 1140.9L1364.3 1140.9L1349.8 1140.9L1335.3 1140.9L1335.3 1140.9L1335.3 1127.4L1335.3 1113.8L1335.3 1100.2L1335.3 1100.2L1349.8 1086.6L1349.8 1086.6L1364.3 1073.0L1349.8 1059.4L1349.8 1059.4L1335.3 1045.8L1335.3 1045.8L1320.8 1032.2L1320.8 1032.2L1306.3 1018.6L1291.8 1032.2L1291.8 1045.8L1306.3 1059.4L1320.8 1059.4L1320.8 1059.4L1320.8 1073.0L1320.8 1086.6L1320.8 1086.6L1306.3 1100.2L1306.3 1113.8L1306.3 1127.4L1306.3 1140.9L1306.3 1154.5L1306.3 1154.5L1306.3 1154.5L1306.3 1140.9L1306.3 1127.4L1306.3 1113.8L1291.8 1100.2L1291.8 1100.2L1277.2 1086.6L1262.7 1100.2L1262.7 1100.2L1248.2 1100.2L1233.7 1100.2L1219.2 1113.8L1219.2 1113.8L1219.2 1113.8L1219.2 1100.2L1219.2 1100.2L1233.7 1086.6L1233.7 1086.6L1248.2 1086.6L1262.7 1073.0L1262.7 1073.0L1277.2 1059.4L1262.7 1045.8L1262.7 1045.8L1248.2 1032.2L1233.7 1045.8L1248.2 1059.4L1248.2 1059.4L1248.2 1059.4L1233.7 1059.4L1219.2 1073.0L1219.2 1073.0L1219.2 1073.0L1204.7 1059.4L1204.7 1059.4L1204.7 1059.4L1219.2 1045.8L1204.7 1032.2L1204.7 1032.2L1190.2 1018.6L1190.2 1018.6L1175.6 1005.1L1161.1 1005.1L1161.1 1005.1L1146.6 991.5L1132.1 1005.1L1132.1 1005.1L1132.1 1005.1L1132.1 991.5L1117.6 977.9L1117.6 977.9L1117.6 964.3L1117.6 950.7L1103.1 937.1L1088.5 937.1L1088.5 937.1L1088.5 923.5L1074.0 909.9L1059.5 909.9L1059.5 909.9L1045.0 896.3L1030.5 909.9L1030.5 923.5L1030.5 937.1L1030.5 950.7L1030.5 964.3L1030.5 977.9L1045.0 991.5L1045.0 991.5L1059.5 1005.1L1074.0 991.5L1074.0 991.5L1074.0 991.5L1088.5 1005.1L1103.1 1005.1L1103.1 1005.1L1103.1 1005.1L1088.5 1005.1L1074.0 1018.6L1074.0 1032.2L1074.0 1032.2L1074.0 1032.2L1074.0 1018.6L1059.5 1005.1L1045.0 1005.1L1045.0 1005.1L1030.5 991.5L1030.5 991.5L1030.5 977.9L1030.5 964.3L1030.5 950.7L1016.0 937.1L1001.5 937.1L986.9 950.7L986.9 964.3L1001.5 977.9L1001.5 977.9L1001.5 977.9L986.9 977.9L986.9 977.9L986.9 964.3L972.4 950.7L957.9 964.3L957.9 977.9L957.9 991.5L957.9 991.5L957.9 991.5L957.9 977.9L957.9 964.3L943.4 950.7L943.4 950.7L943.4 950.7L957.9 937.1L957.9 937.1L957.9 937.1L972.4 950.7L986.9 937.1L986.9 923.5L986.9 923.5L1001.5 923.5L1016.0 923.5L1030.5 909.9L1030.5 896.3L1016.0 882.8L1001.5 896.3L1001.5 896.3L1001.5 896.3L986.9 882.8L986.9 882.8L972.4 869.2L957.9 882.8L972.4 896.3L972.4 896.3L972.4 909.9L972.4 909.9L972.4 909.9L957.9 896.3L943.4 909.9L943.4 923.5L943.4 923.5L928.9 923.5L914.4 923.5L914.4 923.5L914.4 909.9L914.4 896.3L899.9 882.8L885.3 896.3L885.3 909.9L885.3 909.9L885.3 909.9L870.8 896.3L856.3 896.3L841.8 909.9L856.3 923.5L856.3 923.5L870.8 937.1L885.3 937.1L899.9 937.1L899.9 937.1L899.9 937.1L885.3 937.1L870.8 937.1L856.3 937.1L841.8 937.1L841.8 937.1L841.8 923.5L827.3 909.9L812.8 909.9L812.8 909.9L812.8 909.9L827.3 909.9L841.8 896.3L827.3 882.8L827.3 882.8L812.8 869.2L812.8 869.2L812.8 855.6L798.2 842.0L783.7 855.6L783.7 869.2L783.7 882.8L783.7 882.8L783.7 882.8L769.2 869.2L754.7 882.8L769.2 896.3L769.2 896.3L783.7 909.9L783.7 909.9L783.7 909.9L769.2 923.5L769.2 923.5L754.7 923.5L754.7 923.5L754.7 923.5L769.2 909.9L754.7 896.3L740.2 909.9L740.2 909.9L725.7 909.9L711.2 923.5L711.2 923.5L711.2 923.5L696.6 909.9L682.1 909.9L667.6 923.5L667.6 923.5L667.6 923.5L653.1 909.9L653.1 909.9L653.1 909.9L667.6 909.9L682.1 896.3L682.1 896.3L682.1 896.3L696.6 909.9L711.2 896.3L696.6 882.8L696.6 882.8L682.1 869.2L682.1 869.2L667.6 855.6L653.1 855.6L638.6 869.2L653.1 882.8L653.1 882.8L653.1 882.8L638.6 882.8L638.6 882.8L624.1 869.2L624.1 869.2L609.6 855.6L595.0 869.2L595.0 882.8L595.0 896.3L609.6 909.9L624.1 896.3L624.1 896.3L624.1 896.3L624.1 909.9L624.1 909.9L609.6 923.5L609.6 937.1L609.6 950.7L609.6 964.3L609.6 964.3L609.6 964.3L609.6 950.7L609.6 937.1L609.6 923.5L595.0 909.9L595.0 909.9L580.5 896.3L566.0 896.3L551.5 896.3L551.5 896.3L551.5 896.3L566.0 896.3L580.5 882.8L566.0 869.2L551.5 869.2L537.0 882.8L537.0 882.8L537.0 882.8L522.5 869.2L508.0 869.2L493.4 869.2L493.4 869.2L478.9 855.6L464.4 855.6L449.9 869.2L449.9 882.8L449.9 882.8L449.9 882.8L449.9 869.2L435.4 855.6L420.9 869.2L420.9 869.2L420.9 869.2L406.3 855.6L391.8 869.2L391.8 869.2L377.3 882.8L377.3 896.3L391.8 909.9L406.3 896.3L406.3 882.8L406.3 882.8L406.3 882.8L420.9 896.3L435.4 896.3L435.4 896.3L435.4 909.9L435.4 909.9L420.9 909.9L406.3 923.5L406.3 923.5L391.8 923.5L377.3 923.5L362.8 937.1L377.3 950.7L391.8 950.7L391.8 950.7L406.3 964.3L406.3 964.3L406.3 964.3L391.8 964.3L391.8 964.3L377.3 950.7L362.8 964.3L377.3 977.9L377.3 977.9L377.3 991.5L377.3 1005.1L377.3 1018.6L377.3 1032.2L377.3 1032.2L362.8 1045.8L362.8 1045.8M1132.1 1725.3L1132.1 1725.3L1132.1 1725.3L1132.1 1725.3ZM1393.4 1725.3L1407.9 1738.9L1422.4 1725.3L1407.9 1711.7ZM1480.5 1725.3L1495.0 1738.9L1509.5 1725.3L1495.0 1711.7ZM377.3 1711.7L377.3 1711.7L377.3 1711.7L377.3 1711.7ZM1088.5 1711.7L1088.5 1711.7L1088.5 1711.7L1088.5 1711.7ZM1582.1 1711.7L1596.6 1725.3L1611.1 1711.7L1596.6 1698.1ZM1045.0 1698.1L1045.0 1698.1L1045.0 1698.1L1045.0 1698.1ZM1132.1 1698.1L1132.1 1698.1L1132.1 1698.1L1132.1 1698.1ZM1161.1 1698.1L1161.1 1698.1L1161.1 1698.1L1161.1 1698.1ZM1320.8 1698.1L1335.3 1711.7L1349.8 1698.1L1349.8 1698.1L1364.3 1684.5L1349.8 1670.9L1335.3 1684.5L1335.3 1684.5ZM1364.3 1698.1L1378.9 1711.7L1393.4 1698.1L1378.9 1684.5ZM1190.2 1684.5L1190.2 1684.5L1190.2 1684.5L1204.7 1684.5L1204.7 1684.5L1204.7 1684.5ZM1277.2 1684.5L1291.8 1698.1L1306.3 1684.5L1306.3 1670.9L1291.8 1657.3L1277.2 1670.9ZM1524.0 1684.5L1538.5 1698.1L1553.0 1684.5L1553.0 1670.9L1538.5 1657.3L1524.0 1670.9ZM377.3 1670.9L377.3 1670.9L377.3 1657.3L377.3 1657.3L377.3 1657.3L377.3 1670.9ZM1103.1 1670.9L1103.1 1670.9L1103.1 1670.9L1103.1 1670.9ZM1233.7 1670.9L1233.7 1670.9L1233.7 1670.9L1233.7 1670.9ZM1436.9 1670.9L1451.4 1684.5L1465.9 1670.9L1451.4 1657.3ZM1175.6 1657.3L1175.6 1657.3L1175.6 1657.3L1175.6 1657.3ZM1335.3 1657.3L1349.8 1670.9L1364.3 1670.9L1378.9 1657.3L1364.3 1643.7L1349.8 1643.7ZM1393.4 1657.3L1407.9 1670.9L1422.4 1657.3L1407.9 1643.7L1407.9 1643.7L1393.4 1630.2L1378.9 1643.7L1393.4 1657.3ZM1291.8 1643.7L1306.3 1657.3L1320.8 1643.7L1306.3 1630.2ZM1465.9 1643.7L1480.5 1657.3L1495.0 1643.7L1495.0 1630.2L1480.5 1616.6L1465.9 1616.6L1451.4 1616.6L1436.9 1616.6L1422.4 1630.2L1436.9 1643.7L1451.4 1643.7L1465.9 1643.7ZM1582.1 1643.7L1596.6 1657.3L1611.1 1643.7L1596.6 1630.2ZM1204.7 1630.2L1204.7 1630.2L1204.7 1630.2L1204.7 1630.2ZM362.8 1616.6L362.8 1616.6ZM377.3 1603.0L377.3 1603.0L377.3 1589.4L377.3 1589.4L377.3 1589.4L377.3 1603.0ZM1248.2 1603.0L1248.2 1603.0L1248.2 1603.0L1248.2 1603.0ZM1378.9 1603.0L1393.4 1616.6L1407.9 1603.0L1393.4 1589.4ZM1451.4 1603.0L1465.9 1616.6L1480.5 1603.0L1465.9 1589.4ZM1524.0 1589.4L1538.5 1603.0L1553.0 1589.4L1553.0 1589.4L1567.5 1575.8L1567.5 1575.8L1582.1 1562.2L1567.5 1548.6L1553.0 1562.2L1553.0 1562.2L1553.0 1562.2L1538.5 1548.6L1524.0 1562.2L1538.5 1575.8L1538.5 1575.8L1538.5 1575.8ZM1161.1 1575.8L1161.1 1575.8L1161.1 1575.8L1161.1 1575.8ZM1364.3 1575.8L1364.3 1575.8L1364.3 1575.8L1364.3 1575.8ZM1233.7 1562.2L1233.7 1562.2L1233.7 1562.2L1248.2 1548.6L1248.2 1548.6L1248.2 1548.6L1262.7 1562.2L1262.7 1562.2L1262.7 1562.2L1248.2 1562.2ZM1349.8 1562.2L1349.8 1562.2L1349.8 1548.6L1335.3 1535.0L1335.3 1535.0L1335.3 1535.0L1349.8 1535.0L1364.3 1535.0L1364.3 1535.0L1364.3 1548.6L1364.3 1548.6L1349.8 1562.2ZM1465.9 1562.2L1465.9 1562.2L1465.9 1562.2L1465.9 1562.2ZM1669.2 1562.2L1683.7 1575.8L1698.2 1562.2L1683.7 1548.6ZM377.3 1548.6L377.3 1548.6L377.3 1548.6L377.3 1548.6ZM1277.2 1548.6L1277.2 1548.6L1277.2 1535.0L1277.2 1535.0L1277.2 1535.0L1277.2 1548.6ZM1393.4 1548.6L1393.4 1548.6L1393.4 1548.6L1407.9 1548.6L1407.9 1548.6L1407.9 1548.6ZM1451.4 1548.6L1451.4 1548.6L1451.4 1548.6L1451.4 1548.6ZM1422.4 1535.0L1422.4 1535.0L1422.4 1535.0L1422.4 1535.0ZM1538.5 1535.0L1553.0 1548.6L1567.5 1535.0L1553.0 1521.4L1553.0 1521.4L1538.5 1507.9L1538.5 1507.9L1538.5 1494.3L1524.0 1480.7L1509.5 1494.3L1509.5 1507.9L1509.5 1521.4L1524.0 1535.0L1538.5 1535.0ZM1306.3 1521.4L1306.3 1521.4L1306.3 1521.4L1306.3 1521.4ZM1378.9 1521.4L1378.9 1521.4L1378.9 1507.9L1378.9 1507.9L1393.4 1507.9L1393.4 1507.9L1393.4 1507.9L1378.9 1521.4ZM1407.9 1521.4L1407.9 1521.4L1407.9 1521.4L1407.9 1521.4ZM377.3 1507.9L377.3 1507.9L377.3 1494.3L377.3 1494.3L377.3 1494.3L377.3 1507.9ZM1291.8 1507.9L1291.8 1507.9L1291.8 1507.9L1291.8 1507.9ZM1436.9 1507.9L1436.9 1507.9L1436.9 1507.9L1436.9 1507.9ZM1306.3 1494.3L1306.3 1494.3L1306.3 1494.3L1306.3 1494.3ZM1364.3 1494.3L1364.3 1494.3L1349.8 1480.7L1335.3 1480.7L1335.3 1480.7L1335.3 1480.7L1349.8 1480.7L1364.3 1480.7L1378.9 1467.1L1378.9 1467.1L1378.9 1467.1L1378.9 1480.7L1378.9 1480.7L1364.3 1494.3ZM1407.9 1494.3L1407.9 1494.3L1407.9 1494.3L1422.4 1480.7L1422.4 1480.7L1422.4 1480.7L1422.4 1494.3L1422.4 1494.3ZM1190.2 1480.7L1190.2 1480.7L1190.2 1480.7L1190.2 1480.7ZM1262.7 1480.7L1262.7 1480.7L1262.7 1480.7L1262.7 1480.7ZM377.3 1453.5L377.3 1453.5L377.3 1453.5L377.3 1453.5ZM1364.3 1453.5L1364.3 1453.5L1364.3 1453.5L1364.3 1453.5ZM1393.4 1453.5L1393.4 1453.5L1393.4 1453.5L1393.4 1453.5ZM1436.9 1453.5L1436.9 1453.5L1436.9 1453.5L1436.9 1453.5ZM1465.9 1453.5L1465.9 1453.5L1465.9 1453.5L1465.9 1453.5ZM1553.0 1453.5L1553.0 1453.5L1553.0 1453.5L1553.0 1453.5ZM1785.3 1453.5L1770.8 1467.1L1785.3 1480.7M1277.2 1439.9L1277.2 1439.9L1277.2 1426.3L1277.2 1426.3L1277.2 1426.3L1277.2 1439.9ZM1349.8 1439.9L1349.8 1439.9L1349.8 1426.3L1349.8 1412.7L1349.8 1412.7L1349.8 1412.7L1349.8 1426.3L1349.8 1439.9ZM1407.9 1439.9L1407.9 1439.9L1407.9 1439.9L1422.4 1426.3L1422.4 1426.3L1436.9 1426.3L1451.4 1426.3L1451.4 1426.3L1451.4 1426.3L1436.9 1426.3L1422.4 1439.9L1422.4 1439.9ZM1480.5 1439.9L1480.5 1439.9L1480.5 1439.9L1495.0 1439.9L1495.0 1439.9L1495.0 1439.9ZM1524.0 1439.9L1524.0 1439.9L1524.0 1439.9L1524.0 1439.9ZM1582.1 1439.9L1596.6 1453.5L1611.1 1439.9L1611.1 1439.9L1625.6 1426.3L1625.6 1426.3L1640.1 1426.3L1654.6 1412.7L1640.1 1399.1L1625.6 1399.1L1625.6 1399.1L1611.1 1385.5L1596.6 1385.5L1582.1 1399.1L1596.6 1412.7L1611.1 1412.7L1611.1 1412.7L1611.1 1412.7L1596.6 1426.3L1596.6 1426.3L1596.6 1426.3L1582.1 1412.7L1567.5 1426.3L1582.1 1439.9ZM1741.7 1439.9L1756.2 1453.5L1770.8 1439.9L1756.2 1426.3L1756.2 1426.3L1741.7 1412.7L1727.2 1426.3L1741.7 1439.9ZM377.3 1426.3L377.3 1426.3L377.3 1426.3L377.3 1426.3ZM1219.2 1426.3L1219.2 1426.3L1219.2 1426.3L1219.2 1426.3ZM1306.3 1412.7L1306.3 1412.7L1306.3 1412.7L1306.3 1412.7ZM1393.4 1412.7L1393.4 1412.7L1393.4 1412.7L1407.9 1412.7L1407.9 1412.7L1407.9 1412.7ZM1277.2 1399.1L1277.2 1399.1L1277.2 1399.1L1277.2 1399.1ZM1451.4 1399.1L1451.4 1399.1L1451.4 1399.1L1451.4 1399.1ZM1364.3 1385.5L1364.3 1385.5L1364.3 1372.0L1364.3 1372.0L1378.9 1372.0L1393.4 1372.0L1393.4 1372.0L1393.4 1372.0L1378.9 1385.5L1378.9 1385.5ZM1422.4 1385.5L1422.4 1385.5L1422.4 1372.0L1422.4 1372.0L1422.4 1372.0L1422.4 1385.5ZM1524.0 1385.5L1538.5 1399.1L1553.0 1385.5L1538.5 1372.0ZM1741.7 1385.5L1756.2 1399.1L1770.8 1385.5L1756.2 1372.0ZM377.3 1372.0L377.3 1372.0L377.3 1372.0L377.3 1372.0ZM1451.4 1372.0L1451.4 1372.0L1451.4 1372.0L1465.9 1372.0L1465.9 1372.0L1465.9 1372.0ZM1567.5 1372.0L1582.1 1385.5L1596.6 1385.5L1611.1 1372.0L1596.6 1358.4L1596.6 1358.4L1596.6 1344.8L1582.1 1331.2L1582.1 1331.2L1567.5 1317.6L1553.0 1331.2L1553.0 1331.2L1538.5 1344.8L1538.5 1358.4L1553.0 1372.0L1567.5 1358.4L1567.5 1344.8L1567.5 1344.8L1567.5 1344.8L1567.5 1358.4ZM1611.1 1372.0L1625.6 1385.5L1640.1 1372.0L1640.1 1372.0L1654.6 1372.0L1669.2 1358.4L1654.6 1344.8L1640.1 1344.8L1625.6 1358.4L1625.6 1358.4ZM1219.2 1358.4L1219.2 1358.4L1219.2 1358.4L1219.2 1358.4ZM1306.3 1358.4L1306.3 1358.4L1306.3 1358.4L1306.3 1358.4ZM1349.8 1358.4L1349.8 1358.4L1349.8 1358.4L1349.8 1358.4ZM1436.9 1358.4L1436.9 1358.4L1422.4 1344.8L1407.9 1344.8L1393.4 1344.8L1393.4 1344.8L1393.4 1344.8L1407.9 1344.8L1422.4 1344.8L1436.9 1344.8L1451.4 1344.8L1451.4 1344.8L1451.4 1344.8L1436.9 1358.4ZM1364.3 1344.8L1364.3 1344.8L1364.3 1344.8L1364.3 1344.8ZM1335.3 1331.2L1335.3 1331.2L1335.3 1331.2L1335.3 1331.2ZM1596.6 1331.2L1611.1 1344.8L1625.6 1331.2L1625.6 1331.2L1640.1 1317.6L1625.6 1304.0L1611.1 1317.6L1611.1 1317.6ZM1291.8 1317.6L1291.8 1317.6L1291.8 1304.0L1291.8 1290.4L1291.8 1290.4L1291.8 1290.4L1291.8 1304.0L1291.8 1317.6ZM362.8 1317.6L377.3 1317.6L377.3 1317.6L377.3 1317.6ZM1349.8 1304.0L1349.8 1304.0L1349.8 1304.0L1349.8 1304.0ZM1495.0 1304.0L1509.5 1317.6L1524.0 1304.0L1509.5 1290.4L1509.5 1290.4L1509.5 1276.8L1495.0 1263.2L1480.5 1263.2L1480.5 1263.2L1465.9 1249.7L1451.4 1263.2L1465.9 1276.8L1465.9 1276.8L1465.9 1290.4L1480.5 1304.0L1495.0 1304.0ZM1567.5 1304.0L1582.1 1317.6L1596.6 1304.0L1596.6 1290.4L1582.1 1276.8L1567.5 1290.4ZM377.3 1290.4L377.3 1290.4L377.3 1290.4L377.3 1290.4ZM1204.7 1290.4L1204.7 1290.4L1204.7 1290.4L1204.7 1290.4ZM1320.8 1290.4L1320.8 1290.4L1320.8 1290.4L1320.8 1290.4ZM1378.9 1290.4L1378.9 1290.4L1378.9 1290.4L1378.9 1290.4ZM1524.0 1290.4L1538.5 1304.0L1553.0 1290.4L1553.0 1276.8L1538.5 1263.2L1524.0 1276.8ZM1611.1 1290.4L1625.6 1304.0L1640.1 1290.4L1625.6 1276.8ZM1262.7 1276.8L1262.7 1276.8L1262.7 1276.8L1262.7 1276.8ZM1349.8 1276.8L1349.8 1276.8L1349.8 1263.2L1349.8 1263.2L1349.8 1263.2L1349.8 1276.8ZM1422.4 1276.8L1436.9 1290.4L1451.4 1276.8L1436.9 1263.2ZM1219.2 1263.2L1219.2 1263.2L1219.2 1263.2L1219.2 1263.2ZM1277.2 1263.2L1277.2 1263.2L1277.2 1263.2L1291.8 1263.2L1306.3 1263.2L1306.3 1263.2L1306.3 1263.2L1291.8 1263.2ZM1378.9 1263.2L1378.9 1263.2L1378.9 1263.2L1378.9 1263.2ZM362.8 1263.2L377.3 1249.7L377.3 1236.1L377.3 1236.1L377.3 1236.1L377.3 1249.7L377.3 1263.2L377.3 1263.2ZM1233.7 1249.7L1233.7 1249.7L1233.7 1249.7L1248.2 1249.7L1248.2 1249.7L1248.2 1249.7ZM1393.4 1249.7L1393.4 1249.7L1393.4 1249.7L1393.4 1249.7ZM1509.5 1249.7L1524.0 1263.2L1538.5 1249.7L1524.0 1236.1ZM1582.1 1249.7L1596.6 1263.2L1611.1 1263.2L1625.6 1249.7L1611.1 1236.1L1596.6 1236.1ZM986.9 1236.1L986.9 1236.1L986.9 1236.1L986.9 1236.1ZM1262.7 1236.1L1262.7 1236.1L1262.7 1236.1L1262.7 1236.1ZM1335.3 1236.1L1335.3 1236.1L1335.3 1222.5L1320.8 1208.9L1306.3 1222.5L1306.3 1222.5L1291.8 1222.5L1277.2 1222.5L1277.2 1222.5L1277.2 1222.5L1291.8 1222.5L1306.3 1208.9L1306.3 1195.3L1306.3 1195.3L1306.3 1195.3L1320.8 1208.9L1335.3 1208.9L1335.3 1208.9L1349.8 1222.5L1349.8 1222.5L1349.8 1236.1L1349.8 1236.1ZM1407.9 1236.1L1407.9 1236.1L1407.9 1236.1L1407.9 1236.1ZM1393.4 1222.5L1393.4 1222.5L1393.4 1222.5L1393.4 1222.5ZM1712.7 1222.5L1727.2 1236.1L1741.7 1222.5L1727.2 1208.9ZM1262.7 1208.9L1262.7 1208.9L1262.7 1208.9L1262.7 1208.9ZM1364.3 1208.9L1364.3 1208.9L1364.3 1208.9L1378.9 1208.9L1378.9 1208.9L1378.9 1208.9ZM1161.1 1195.3L1161.1 1195.3L1161.1 1195.3L1161.1 1195.3ZM1262.7 1181.7L1262.7 1181.7L1262.7 1181.7L1277.2 1181.7L1277.2 1181.7L1277.2 1181.7ZM1320.8 1181.7L1320.8 1181.7L1320.8 1168.1L1320.8 1168.1L1320.8 1168.1L1320.8 1181.7ZM1349.8 1181.7L1349.8 1181.7L1349.8 1181.7L1349.8 1181.7ZM1436.9 1181.7L1451.4 1195.3L1465.9 1181.7L1451.4 1168.1ZM362.8 1181.7L377.3 1168.1L377.3 1154.5L377.3 1154.5L377.3 1154.5L377.3 1168.1L391.8 1181.7L391.8 1181.7L391.8 1181.7L377.3 1195.3L377.3 1195.3L377.3 1195.3ZM1291.8 1168.1L1291.8 1168.1L1291.8 1168.1L1291.8 1168.1ZM1465.9 1168.1L1480.5 1181.7L1495.0 1168.1L1480.5 1154.5L1480.5 1154.5L1465.9 1140.9L1451.4 1154.5L1465.9 1168.1ZM1596.6 1168.1L1611.1 1181.7L1625.6 1168.1L1611.1 1154.5ZM1045.0 1154.5L1045.0 1154.5L1045.0 1154.5L1045.0 1154.5ZM1117.6 1154.5L1117.6 1154.5L1117.6 1154.5L1117.6 1154.5ZM1204.7 1154.5L1204.7 1154.5L1204.7 1154.5L1204.7 1154.5ZM1233.7 1154.5L1233.7 1154.5L1233.7 1154.5L1248.2 1140.9L1248.2 1140.9L1248.2 1140.9L1248.2 1154.5L1248.2 1154.5ZM1219.2 1140.9L1219.2 1140.9L1219.2 1140.9L1219.2 1140.9ZM1190.2 1127.4L1190.2 1127.4L1175.6 1113.8L1161.1 1113.8L1161.1 1113.8L1161.1 1113.8L1175.6 1100.2L1175.6 1100.2L1190.2 1100.2L1190.2 1100.2L1190.2 1113.8L1190.2 1127.4ZM1233.7 1127.4L1233.7 1127.4L1233.7 1127.4L1233.7 1127.4ZM1262.7 1127.4L1262.7 1127.4L1262.7 1127.4L1277.2 1127.4L1277.2 1127.4L1277.2 1127.4ZM1364.3 1127.4L1378.9 1140.9L1393.4 1127.4L1378.9 1113.8ZM1436.9 1127.4L1451.4 1140.9L1465.9 1127.4L1451.4 1113.8ZM1465.9 1127.4L1480.5 1140.9L1495.0 1140.9L1509.5 1127.4L1495.0 1113.8L1480.5 1113.8ZM362.8 1127.4L377.3 1113.8L362.8 1100.2M1088.5 1113.8L1088.5 1113.8L1088.5 1100.2L1088.5 1100.2L1088.5 1100.2L1088.5 1113.8ZM1335.3 1113.8L1349.8 1127.4L1364.3 1113.8L1364.3 1113.8L1378.9 1100.2L1378.9 1100.2L1393.4 1086.6L1393.4 1073.0L1378.9 1059.4L1364.3 1073.0L1364.3 1086.6L1364.3 1086.6L1349.8 1100.2L1349.8 1100.2ZM1045.0 1100.2L1045.0 1100.2L1045.0 1100.2L1045.0 1100.2ZM362.8 1100.2L377.3 1100.2L377.3 1100.2L377.3 1113.8L377.3 1127.4L377.3 1127.4L362.8 1127.4M1001.5 1086.6L1001.5 1086.6L1001.5 1086.6L1016.0 1086.6L1016.0 1086.6L1016.0 1086.6ZM1132.1 1086.6L1132.1 1086.6L1132.1 1086.6L1132.1 1086.6ZM1204.7 1086.6L1204.7 1086.6L1204.7 1086.6L1204.7 1086.6ZM1117.6 1073.0L1117.6 1073.0L1117.6 1073.0L1117.6 1073.0ZM1175.6 1073.0L1175.6 1073.0L1175.6 1059.4L1175.6 1059.4L1175.6 1059.4L1190.2 1073.0L1190.2 1073.0L1190.2 1073.0ZM377.3 1059.4L377.3 1059.4L377.3 1059.4L377.3 1059.4ZM1451.4 1059.4L1465.9 1073.0L1480.5 1059.4L1465.9 1045.8ZM391.8 1045.8L391.8 1045.8L391.8 1045.8L406.3 1045.8L406.3 1045.8L406.3 1045.8ZM841.8 1045.8L841.8 1045.8L841.8 1032.2L841.8 1032.2L841.8 1032.2L841.8 1045.8ZM870.8 1045.8L870.8 1045.8L870.8 1045.8L870.8 1045.8ZM1190.2 1045.8L1190.2 1045.8L1190.2 1045.8L1190.2 1045.8ZM609.6 1032.2L609.6 1032.2L609.6 1032.2L609.6 1032.2ZM914.4 1032.2L914.4 1032.2L914.4 1032.2L914.4 1032.2ZM986.9 1032.2L986.9 1032.2L986.9 1032.2L986.9 1032.2ZM1161.1 1032.2L1161.1 1032.2L1161.1 1032.2L1161.1 1032.2ZM957.9 1018.6L957.9 1018.6L957.9 1018.6L972.4 1018.6L972.4 1018.6L972.4 1018.6ZM1117.6 1018.6L1117.6 1018.6L1117.6 1018.6L1117.6 1018.6ZM1146.6 1018.6L1146.6 1018.6L1146.6 1018.6L1146.6 1018.6ZM1204.7 1018.6L1219.2 1032.2L1233.7 1032.2L1248.2 1018.6L1233.7 1005.1L1219.2 1005.1ZM1378.9 1018.6L1393.4 1032.2L1407.9 1018.6L1393.4 1005.1ZM406.3 1005.1L406.3 1005.1L406.3 1005.1L406.3 1005.1ZM1016.0 1005.1L1016.0 1005.1L1016.0 1005.1L1016.0 1005.1ZM1248.2 1005.1L1262.7 1018.6L1277.2 1005.1L1262.7 991.5ZM1320.8 1005.1L1335.3 1018.6L1349.8 1018.6L1364.3 1005.1L1349.8 991.5L1335.3 991.5ZM362.8 1005.1L377.3 991.5L362.8 977.9M435.4 991.5L435.4 991.5L435.4 991.5L435.4 991.5ZM566.0 991.5L566.0 991.5L566.0 991.5L566.0 991.5ZM798.2 991.5L798.2 991.5L798.2 991.5L812.8 991.5L812.8 991.5L812.8 991.5ZM885.3 991.5L885.3 991.5L885.3 991.5L885.3 991.5ZM914.4 991.5L914.4 991.5L914.4 977.9L914.4 977.9L914.4 977.9L914.4 991.5ZM1204.7 991.5L1219.2 1005.1L1233.7 991.5L1219.2 977.9L1219.2 977.9L1219.2 977.9L1233.7 964.3L1233.7 950.7L1219.2 937.1L1204.7 950.7L1204.7 964.3L1204.7 964.3L1190.2 977.9L1204.7 991.5ZM1451.4 991.5L1465.9 1005.1L1480.5 991.5L1465.9 977.9ZM449.9 977.9L449.9 977.9L449.9 977.9L464.4 964.3L464.4 964.3L464.4 964.3L464.4 977.9L464.4 977.9ZM696.6 977.9L696.6 977.9L696.6 964.3L696.6 950.7L696.6 950.7L696.6 950.7L696.6 964.3L711.2 977.9L711.2 977.9L711.2 977.9ZM1059.5 977.9L1059.5 977.9L1059.5 964.3L1059.5 950.7L1059.5 937.1L1059.5 937.1L1059.5 937.1L1074.0 950.7L1074.0 950.7L1088.5 964.3L1088.5 964.3L1088.5 964.3L1074.0 964.3L1059.5 977.9ZM1132.1 977.9L1146.6 991.5L1161.1 977.9L1146.6 964.3L1146.6 964.3L1132.1 950.7L1117.6 964.3L1132.1 977.9ZM1320.8 977.9L1335.3 991.5L1349.8 977.9L1335.3 964.3ZM1349.8 977.9L1364.3 991.5L1378.9 991.5L1393.4 977.9L1378.9 964.3L1364.3 964.3ZM493.4 964.3L493.4 964.3L493.4 964.3L493.4 964.3ZM740.2 964.3L740.2 964.3L740.2 964.3L740.2 964.3ZM841.8 964.3L841.8 964.3L841.8 964.3L841.8 964.3ZM870.8 964.3L870.8 964.3L870.8 964.3L870.8 964.3ZM1161.1 964.3L1175.6 977.9L1190.2 964.3L1175.6 950.7ZM1262.7 964.3L1277.2 977.9L1291.8 964.3L1291.8 950.7L1277.2 937.1L1262.7 937.1L1248.2 950.7L1262.7 964.3ZM580.5 950.7L580.5 950.7L580.5 937.1L580.5 937.1L580.5 937.1L580.5 950.7ZM667.6 950.7L667.6 950.7L667.6 950.7L667.6 950.7ZM812.8 950.7L812.8 950.7L812.8 950.7L812.8 950.7ZM420.9 937.1L420.9 937.1L420.9 937.1L420.9 937.1ZM449.9 937.1L449.9 937.1L449.9 937.1L449.9 937.1ZM478.9 937.1L478.9 937.1L478.9 937.1L478.9 937.1ZM551.5 937.1L551.5 937.1L551.5 937.1L551.5 937.1ZM653.1 937.1L653.1 937.1L653.1 937.1L653.1 937.1ZM798.2 937.1L798.2 937.1L798.2 923.5L798.2 923.5L798.2 923.5L798.2 937.1ZM1161.1 937.1L1175.6 950.7L1190.2 937.1L1175.6 923.5ZM493.4 923.5L493.4 923.5L493.4 909.9L478.9 896.3L464.4 909.9L464.4 909.9L464.4 909.9L464.4 896.3L464.4 896.3L478.9 896.3L493.4 896.3L493.4 896.3L493.4 909.9L493.4 923.5ZM1088.5 923.5L1103.1 937.1L1117.6 923.5L1117.6 923.5L1132.1 923.5L1146.6 909.9L1132.1 896.3L1117.6 896.3L1117.6 896.3L1103.1 882.8L1088.5 896.3L1088.5 909.9ZM362.8 923.5L377.3 909.9L362.8 896.3M522.5 909.9L522.5 909.9L522.5 896.3L522.5 896.3L522.5 896.3L537.0 909.9L537.0 909.9L537.0 909.9ZM914.4 909.9L928.9 923.5L943.4 909.9L928.9 896.3ZM798.2 896.3L798.2 896.3L798.2 896.3L798.2 896.3ZM711.2 882.8L725.7 896.3L740.2 896.3L754.7 882.8L740.2 869.2L725.7 869.2L725.7 869.2L711.2 855.6L711.2 855.6L696.6 842.0L682.1 855.6L696.6 869.2L696.6 869.2L711.2 882.8ZM841.8 882.8L856.3 896.3L870.8 882.8L870.8 869.2L856.3 855.6L841.8 869.2ZM1117.6 882.8L1132.1 896.3L1146.6 896.3L1161.1 882.8L1146.6 869.2L1132.1 869.2ZM870.8 869.2L885.3 882.8L899.9 882.8L914.4 869.2L899.9 855.6L885.3 855.6ZM986.9 869.2L1001.5 882.8L1016.0 869.2L1016.0 869.2L1016.0 869.2L1030.5 882.8L1045.0 869.2L1030.5 855.6L1030.5 855.6L1030.5 842.0L1016.0 828.4L1001.5 842.0L1001.5 855.6L1001.5 855.6ZM493.4 855.6L508.0 869.2L522.5 855.6L522.5 842.0L508.0 828.4L493.4 842.0ZM1059.5 855.6L1074.0 869.2L1088.5 855.6L1074.0 842.0ZM362.8 855.6L377.3 842.0L362.8 828.4M551.5 842.0L566.0 855.6L580.5 842.0L566.0 828.4ZM580.5 842.0L595.0 855.6L609.6 842.0L595.0 828.4ZM1103.1 842.0L1117.6 855.6L1132.1 842.0L1117.6 828.4L1117.6 828.4L1103.1 814.8L1088.5 828.4L1103.1 842.0ZM522.5 828.4L537.0 842.0L551.5 828.4L537.0 814.8ZM667.6 828.4L682.1 842.0L696.6 828.4L682.1 814.8ZM885.3 828.4L899.9 842.0L914.4 828.4L914.4 814.8L914.4 814.8L928.9 801.2L914.4 787.6L899.9 801.2L899.9 801.2L885.3 814.8ZM957.9 828.4L972.4 842.0L986.9 828.4L972.4 814.8L972.4 814.8L957.9 801.2L943.4 814.8L957.9 828.4ZM740.2 814.8L754.7 828.4L769.2 814.8L754.7 801.2ZM464.4 801.2L478.9 814.8L493.4 801.2L478.9 787.6ZM595.0 801.2L609.6 814.8L624.1 801.2L609.6 787.6ZM769.2 801.2L783.7 814.8L798.2 801.2L783.7 787.6ZM624.1 787.6L638.6 801.2L653.1 787.6L638.6 774.0ZM566.0 733.3L580.5 746.9L580.5 746.9L595.0 760.5L609.6 746.9L595.0 733.3L595.0 733.3M667.6 733.3L682.1 746.9L696.6 733.3M783.7 733.3L798.2 746.9L812.8 733.3"/>
<path stroke="#222222" d="M620.4 1820.4L624.1 1827.2L627.7 1820.4L638.6 1806.8L638.6 1806.8L638.6 1806.8L653.1 1813.6L657.9 1806.8L653.1 1793.2L653.1 1793.2L653.1 1793.2L667.6 1779.6L662.8 1766.0L653.1 1752.5L653.1 1752.5L638.6 1738.9L638.6 1738.9L638.6 1738.9L653.1 1738.9L653.1 1738.9L667.6 1750.8L672.5 1752.5L682.1 1757.9L690.8 1766.0L696.6 1772.8L711.2 1766.0L711.2 1766.0L711.2 1766.0L725.7 1777.7L729.3 1779.6L725.7 1782.3L718.4 1793.2L711.2 1804.1L703.9 1806.8L711.2 1810.2L725.7 1806.8L725.7 1806.8L740.2 1800.0L749.9 1793.2L754.7 1786.4L769.2 1785.1L783.7 1779.6L783.7 1779.6L786.6 1766.0L783.7 1762.6L778.9 1766.0L769.2 1772.8L754.7 1775.1L740.2 1771.5L736.6 1766.0L725.7 1752.5L725.7 1752.5L725.7 1738.9L725.7 1738.9L733.7 1725.3L740.2 1716.2L754.7 1719.5L769.2 1725.3L783.7 1711.7L783.7 1711.7L783.7 1711.7L783.7 1725.3L783.7 1725.3L777.9 1738.9L783.7 1744.3L793.4 1738.9L798.2 1736.6L810.3 1725.3L812.8 1718.5L816.4 1711.7L827.3 1701.5L841.8 1711.7L841.8 1711.7L847.2 1725.3L841.8 1731.1L827.3 1735.5L812.8 1738.9L823.7 1752.5L827.3 1766.0L829.4 1752.5L841.8 1744.3L856.3 1743.4L870.8 1745.7L881.2 1738.9L885.3 1725.3L885.3 1725.3L899.9 1719.8L914.4 1725.3L919.2 1711.7L928.9 1704.9L943.4 1698.1L943.4 1684.5L943.4 1684.5L957.9 1680.0L969.5 1670.9L968.3 1657.3L972.4 1650.5L982.1 1657.3L979.7 1670.9L986.9 1677.7L990.6 1670.9L991.8 1657.3L986.9 1643.7L986.9 1643.7L986.9 1643.7L986.9 1643.7L1001.5 1648.3L1007.3 1657.3L1016.0 1665.5L1026.9 1657.3L1021.8 1643.7L1016.0 1639.9L1008.7 1630.2L1016.0 1625.9L1024.0 1630.2L1030.5 1637.9L1042.1 1630.2L1045.0 1625.6L1059.5 1616.6L1059.5 1616.6L1059.5 1616.6L1074.0 1624.3L1082.7 1630.2L1088.5 1636.9L1103.1 1630.2L1103.1 1630.2L1112.7 1616.6L1117.6 1613.2L1128.5 1603.0L1117.6 1594.8L1107.9 1589.4L1103.1 1586.0L1095.8 1589.4L1097.3 1603.0L1088.5 1613.2L1074.0 1605.7L1070.4 1603.0L1067.8 1589.4L1074.0 1579.2L1077.7 1575.8L1088.5 1562.2L1088.5 1562.2L1095.8 1548.6L1100.2 1535.0L1096.8 1521.4L1103.1 1515.6L1114.0 1521.4L1117.6 1526.0L1124.8 1521.4L1117.6 1514.6L1114.7 1507.9L1103.1 1497.0L1098.2 1494.3L1103.1 1489.7L1117.6 1487.5L1124.8 1480.7L1132.1 1467.1L1132.1 1467.1L1132.1 1467.1L1146.6 1471.0L1161.1 1480.7L1161.1 1480.7L1175.6 1484.1L1177.7 1480.7L1175.6 1467.1L1175.6 1467.1L1161.1 1461.0L1146.6 1460.3L1140.8 1453.5L1144.2 1439.9L1146.6 1426.3L1146.6 1426.3L1161.1 1426.3L1175.6 1426.3L1181.4 1412.7L1175.6 1403.7L1161.1 1399.1L1161.1 1399.1L1153.9 1385.5L1161.1 1382.8L1175.6 1382.2L1182.9 1372.0L1175.6 1361.8L1168.4 1358.4L1166.0 1344.8L1161.1 1331.2L1146.6 1331.2L1132.1 1344.8L1132.1 1344.8L1122.4 1358.4L1117.6 1372.0L1132.1 1382.5L1141.8 1385.5L1132.1 1394.6L1117.6 1387.8L1110.3 1385.5L1117.6 1372.0L1113.4 1358.4L1117.6 1344.8L1117.6 1344.8L1128.5 1331.2L1117.6 1321.0L1110.3 1317.6L1117.6 1304.0L1117.6 1304.0L1117.6 1304.0L1132.1 1317.6L1132.1 1317.6L1146.6 1331.2L1153.9 1317.6L1146.6 1310.8L1136.9 1304.0L1132.1 1300.6L1124.8 1290.4L1117.6 1276.8L1117.6 1276.8L1117.6 1276.8L1132.1 1270.0L1146.6 1266.6L1150.2 1263.2L1146.6 1258.7L1132.1 1259.9L1117.6 1256.5L1110.3 1263.2L1103.1 1266.6L1098.2 1263.2L1095.8 1249.7L1088.5 1242.9L1083.7 1249.7L1074.0 1256.5L1069.9 1249.7L1074.0 1242.9L1083.7 1236.1L1074.0 1231.5L1064.4 1236.1L1059.5 1238.3L1045.0 1238.0L1030.5 1249.7L1030.5 1249.7L1016.0 1251.9L1014.5 1249.7L1016.0 1245.1L1025.7 1236.1L1020.1 1222.5L1016.0 1208.9L1016.0 1208.9L1016.0 1195.3L1016.0 1195.3L1016.0 1195.3L1030.5 1208.9L1030.5 1208.9L1045.0 1217.5L1059.5 1212.3L1062.4 1208.9L1059.5 1195.3L1045.0 1197.0L1037.7 1195.3L1030.5 1181.7L1030.5 1181.7L1016.0 1174.2L1001.5 1168.1L986.9 1174.9L979.7 1168.1L972.4 1161.3L961.5 1168.1L957.9 1172.7L948.2 1181.7L943.4 1185.1L928.9 1185.6L924.7 1181.7L923.1 1168.1L914.4 1160.0L904.7 1154.5L909.5 1140.9L903.5 1127.4L899.9 1113.8L885.3 1124.6L873.7 1113.8L870.8 1109.2L856.3 1101.9L849.1 1100.2L841.8 1095.7L827.3 1100.2L841.8 1104.7L845.0 1113.8L841.8 1119.2L827.3 1127.4L841.8 1135.5L845.9 1140.9L845.9 1154.5L841.8 1160.0L837.0 1154.5L827.3 1145.5L822.4 1140.9L827.3 1127.4L812.8 1120.6L805.5 1113.8L812.8 1104.7L827.3 1100.2L824.4 1086.6L827.3 1082.1L841.8 1081.2L856.3 1073.0L845.4 1059.4L841.8 1057.5L838.9 1059.4L827.3 1068.5L812.8 1073.0L812.8 1073.0L812.8 1073.0L798.2 1066.2L788.6 1073.0L783.7 1075.7L769.2 1077.5L763.4 1086.6L754.7 1100.2L762.0 1113.8L754.7 1119.6L746.0 1113.8L740.2 1100.2L740.2 1100.2L740.2 1086.6L725.7 1081.2L711.2 1076.4L702.5 1086.6L696.6 1093.4L682.1 1100.2L682.1 1100.2L672.5 1113.8L667.6 1116.5L653.1 1122.8L645.8 1113.8L638.6 1104.7L624.1 1110.4L609.6 1105.3L602.3 1100.2L609.6 1092.0L624.1 1092.0L638.6 1093.4L653.1 1086.6L638.6 1079.8L631.3 1073.0L638.6 1070.7L653.1 1059.4L638.6 1049.7L624.1 1056.0L616.8 1059.4L609.6 1062.1L597.9 1073.0L595.0 1077.5L580.5 1073.0L580.5 1073.0L566.0 1070.3L561.2 1073.0L551.5 1082.1L545.7 1073.0L537.0 1059.4L522.5 1073.0L533.4 1086.6L537.0 1089.3L551.5 1093.4L566.0 1091.1L570.8 1100.2L566.0 1105.6L558.8 1113.8L551.5 1120.6L542.8 1127.4L551.5 1135.5L558.8 1140.9L551.5 1150.0L537.0 1144.8L532.1 1140.9L522.5 1130.1L512.8 1140.9L508.0 1154.5L508.0 1154.5L508.0 1154.5L504.3 1140.9L508.0 1127.4L508.0 1113.8L508.0 1113.8L508.0 1113.8L522.5 1120.6L537.0 1113.8L522.5 1107.0L515.2 1100.2L508.0 1095.7L493.4 1086.6L478.9 1097.5L474.1 1100.2L478.9 1103.6L485.1 1113.8L478.9 1121.9L471.7 1113.8L464.4 1105.6L453.5 1113.8L449.9 1118.3L440.2 1127.4L449.9 1132.8L464.4 1127.4L464.4 1127.4L464.4 1127.4L473.1 1140.9L478.9 1154.5L478.9 1154.5L482.9 1168.1L478.9 1181.7L478.9 1181.7L478.9 1181.7L464.4 1177.2L457.1 1181.7L449.9 1188.5L445.1 1181.7L435.4 1172.7L428.1 1181.7L435.4 1195.3L435.4 1195.3L449.9 1199.8L464.4 1198.7L471.7 1208.9L464.4 1214.7L449.9 1213.4L440.2 1208.9L435.4 1195.3L420.9 1199.8L416.0 1208.9L412.2 1222.5L410.0 1236.1L420.9 1247.7L424.5 1249.7L420.9 1254.2L415.1 1263.2L410.0 1276.8L420.9 1287.0L428.1 1290.4L420.9 1295.0L406.3 1300.6L401.5 1304.0L406.3 1317.6L406.3 1317.6L420.9 1327.8L435.4 1331.2L449.9 1331.2L449.9 1331.2L449.9 1331.2L435.4 1331.2L420.9 1332.9L406.3 1331.2L399.1 1344.8L406.3 1349.3L416.0 1358.4L411.2 1372.0L420.9 1381.0L426.7 1385.5L420.9 1389.4L406.3 1388.3L394.7 1399.1L401.5 1412.7L406.3 1421.8L408.4 1426.3L409.2 1439.9L406.3 1446.7L401.5 1439.9L399.1 1426.3L391.8 1423.6L389.8 1426.3L387.0 1439.9L391.8 1453.5L391.8 1453.5L399.1 1467.1L397.3 1480.7L401.5 1494.3L406.3 1507.9L406.3 1507.9L409.6 1521.4L413.6 1535.0L406.3 1540.9L399.9 1548.6L401.5 1562.2L406.3 1569.0L413.6 1575.8L406.3 1589.4L406.3 1589.4L399.1 1603.0L406.3 1605.7L411.2 1603.0L420.9 1599.6L424.1 1603.0L420.9 1609.8L416.0 1616.6L420.9 1621.1L435.4 1625.6L446.3 1630.2L435.4 1643.7L449.9 1657.3L464.4 1655.1L471.7 1657.3L464.4 1664.1L449.9 1657.3L435.4 1660.0L420.9 1666.4L418.4 1670.9L420.9 1684.5L435.4 1678.7L449.9 1677.7L464.4 1674.3L470.6 1684.5L468.0 1698.1L469.2 1711.7L478.9 1725.3L478.9 1725.3L493.4 1729.8L497.6 1738.9L508.0 1750.2L522.5 1746.6L537.0 1744.3L551.5 1752.5L566.0 1743.4L580.5 1752.5L580.5 1752.5L589.2 1766.0L580.5 1771.9L570.8 1779.6L566.0 1786.4L551.5 1791.3L537.0 1784.2L525.4 1793.2L537.0 1800.0L548.6 1806.8L551.5 1810.2L556.3 1806.8L566.0 1800.0L580.5 1796.6L587.8 1793.2L592.1 1779.6L595.0 1775.1L609.6 1771.5L616.8 1779.6L616.8 1793.2L614.4 1806.8ZM837.0 1806.8L841.8 1820.4L845.4 1806.8L841.8 1803.4ZM476.0 1793.2L478.9 1795.2L482.5 1793.2L478.9 1779.6ZM694.6 1793.2L696.6 1800.0L699.5 1793.2L696.6 1788.7ZM837.0 1779.6L841.8 1783.0L845.4 1779.6L841.8 1777.4ZM462.0 1766.0L464.4 1770.6L478.9 1779.6L493.4 1777.4L508.0 1777.4L520.0 1766.0L508.0 1754.7L493.4 1756.3L478.9 1761.5L464.4 1762.6ZM524.9 1766.0L537.0 1775.7L549.1 1766.0L537.0 1757.5ZM443.7 1752.5L449.9 1757.5L457.1 1752.5L449.9 1744.3ZM609.6 1759.2L604.7 1752.5L609.6 1748.6L624.1 1752.5L624.1 1752.5L624.1 1752.5ZM760.5 1752.5L769.2 1760.6L776.5 1752.5L769.2 1745.7ZM794.6 1752.5L798.2 1755.2L801.9 1752.5L798.2 1745.7ZM474.1 1738.9L478.9 1743.4L483.8 1738.9L478.9 1725.3ZM904.7 1738.9L914.4 1747.9L924.0 1738.9L928.9 1732.1L943.4 1729.8L947.0 1725.3L943.4 1711.7L928.9 1720.7L914.4 1725.3L914.4 1725.3ZM953.1 1738.9L957.9 1741.1L962.8 1738.9L957.9 1735.5ZM979.7 1738.9L986.9 1752.5L991.8 1738.9L986.9 1733.4ZM537.0 1725.3L537.0 1725.3L522.5 1717.5L508.0 1716.2L493.4 1711.7L493.4 1711.7L486.2 1698.1L493.4 1691.3L504.3 1684.5L508.0 1670.9L508.0 1670.9L508.0 1670.9L515.2 1684.5L516.2 1698.1L522.5 1704.9L537.0 1711.7L537.0 1711.7L537.0 1725.3ZM566.0 1732.1L558.8 1725.3L566.0 1718.5L569.6 1725.3ZM968.8 1725.3L972.4 1729.8L976.1 1725.3L977.3 1711.7L972.4 1698.1L968.8 1711.7ZM711.2 1715.4L707.2 1711.7L711.2 1704.9L717.4 1711.7ZM425.7 1698.1L435.4 1705.9L443.7 1698.1L435.4 1690.3ZM551.5 1698.1L551.5 1698.1L551.5 1698.1L555.1 1684.5L566.0 1678.7L573.3 1684.5L566.0 1698.1L566.0 1698.1ZM667.6 1700.4L664.7 1698.1L667.6 1691.3L672.5 1698.1ZM725.7 1702.6L719.9 1698.1L725.7 1694.7L740.2 1698.1L754.7 1698.1L754.7 1698.1L754.7 1698.1L740.2 1698.1ZM870.8 1704.9L867.2 1698.1L870.8 1684.5L870.8 1670.9L870.8 1670.9L870.8 1670.9L885.3 1681.8L890.2 1684.5L885.3 1691.3L878.1 1698.1ZM995.2 1698.1L1001.5 1706.3L1010.2 1698.1L1016.0 1691.3L1023.2 1684.5L1016.0 1677.7L1001.5 1677.7L990.6 1684.5ZM537.0 1687.9L527.3 1684.5L537.0 1681.5L546.7 1684.5ZM653.1 1684.5L653.1 1684.5L653.1 1684.5L653.1 1684.5ZM580.5 1670.9L580.5 1670.9L580.5 1670.9L580.5 1670.9ZM1084.9 1670.9L1088.5 1673.6L1090.6 1670.9L1103.1 1657.3L1088.5 1652.8L1084.9 1657.3ZM696.6 1657.3L696.6 1657.3L696.6 1657.3L696.6 1657.3ZM827.3 1664.1L821.8 1657.3L827.3 1653.9L832.1 1657.3ZM914.4 1660.5L911.3 1657.3L914.4 1653.3L925.3 1657.3ZM1049.8 1657.3L1059.5 1662.8L1065.3 1657.3L1066.8 1643.7L1059.5 1630.2L1045.0 1643.7ZM943.4 1643.7L943.4 1643.7L943.4 1643.7L957.9 1641.0L965.2 1643.7L957.9 1647.6ZM464.4 1630.2L464.4 1630.2L464.4 1630.2L464.4 1630.2ZM522.5 1637.7L517.3 1630.2L522.5 1625.3L529.7 1630.2ZM986.9 1621.5L979.7 1616.6L986.9 1610.5L1001.5 1614.3L1002.7 1616.6L1001.5 1618.8ZM449.9 1607.5L448.1 1603.0L449.9 1600.7L453.5 1603.0ZM1016.0 1603.0L1016.0 1603.0L1016.0 1603.0L1016.0 1603.0ZM435.4 1589.4L435.4 1589.4L435.4 1589.4L435.4 1589.4ZM1030.5 1589.4L1030.5 1589.4L1030.5 1589.4L1045.0 1575.8L1045.0 1575.8L1045.0 1575.8L1052.3 1589.4L1045.0 1600.3ZM1001.5 1577.7L996.6 1575.8L1001.5 1571.3L1006.3 1575.8ZM435.4 1562.2L435.4 1562.2L435.4 1562.2L435.4 1562.2ZM1110.3 1562.2L1117.6 1566.7L1121.7 1562.2L1132.1 1552.5L1146.6 1558.8L1153.9 1562.2L1161.1 1564.1L1164.0 1562.2L1164.8 1548.6L1161.1 1544.1L1146.6 1540.5L1136.9 1535.0L1132.1 1528.2L1127.3 1535.0L1117.6 1540.5L1108.9 1548.6ZM388.9 1535.0L391.8 1537.3L395.5 1535.0L391.8 1530.5ZM986.9 1535.0L986.9 1535.0L986.9 1535.0L986.9 1535.0ZM1170.8 1521.4L1175.6 1525.3L1181.4 1521.4L1175.6 1507.9ZM420.9 1494.3L420.9 1494.3L420.9 1494.3L420.9 1494.3ZM1157.5 1494.3L1161.1 1507.9L1164.8 1494.3L1161.1 1480.7ZM1184.3 1494.3L1190.2 1507.9L1196.0 1494.3L1190.2 1490.9ZM420.9 1467.1L420.9 1467.1L420.9 1467.1L420.9 1467.1ZM1175.6 1467.1L1190.2 1469.0L1195.0 1467.1L1190.2 1464.4ZM1088.5 1453.5L1088.5 1453.5L1088.5 1453.5L1088.5 1453.5ZM1030.5 1439.9L1030.5 1439.9L1030.5 1426.3L1030.5 1426.3L1030.5 1426.3L1030.5 1439.9ZM1151.4 1439.9L1161.1 1443.8L1175.6 1446.7L1190.2 1442.6L1193.1 1439.9L1190.2 1436.5L1175.6 1426.3L1161.1 1426.3ZM1088.5 1426.3L1088.5 1426.3L1088.5 1412.7L1088.5 1412.7L1088.5 1412.7L1088.5 1426.3ZM1132.1 1418.2L1124.8 1412.7L1132.1 1403.7L1134.7 1412.7ZM1180.5 1399.1L1190.2 1404.6L1199.8 1399.1L1190.2 1385.5ZM389.8 1372.0L391.8 1376.5L396.7 1372.0L391.8 1365.2ZM1016.0 1372.0L1016.0 1372.0L1016.0 1372.0L1016.0 1372.0ZM1074.0 1374.2L1071.6 1372.0L1074.0 1369.2L1077.7 1372.0ZM1146.6 1363.8L1141.8 1358.4L1146.6 1352.9L1156.3 1358.4ZM1182.9 1358.4L1190.2 1361.8L1192.6 1358.4L1190.2 1353.8ZM1273.6 1344.8L1277.2 1349.3L1280.9 1344.8L1277.2 1342.5ZM1182.9 1331.2L1190.2 1335.7L1193.1 1331.2L1190.2 1326.7ZM972.4 1317.6L972.4 1317.6L972.4 1317.6L972.4 1317.6ZM1045.0 1323.0L1038.6 1317.6L1045.0 1313.1L1049.8 1317.6ZM508.0 1304.0L508.0 1304.0L508.0 1304.0L508.0 1304.0ZM1001.5 1304.0L1001.5 1304.0L1001.5 1304.0L1001.5 1304.0ZM1030.5 1304.0L1030.5 1304.0L1030.5 1304.0L1030.5 1304.0ZM1059.5 1305.5L1057.9 1304.0L1059.5 1301.8L1074.0 1301.0L1079.8 1304.0L1074.0 1307.4ZM1184.3 1304.0L1190.2 1310.8L1194.3 1304.0L1190.2 1300.1ZM1045.0 1291.9L1043.4 1290.4L1045.0 1285.9L1047.4 1290.4ZM1103.1 1290.4L1103.1 1290.4L1103.1 1290.4L1103.1 1290.4ZM1161.1 1290.4L1175.6 1293.8L1178.1 1290.4L1175.6 1287.7ZM943.4 1267.8L942.1 1263.2L943.4 1262.0L944.2 1263.2ZM537.0 1250.8L535.5 1249.7L537.0 1248.4L538.0 1249.7ZM972.4 1254.2L971.1 1249.7L972.4 1245.1L976.1 1236.1L986.9 1227.9L995.7 1236.1L986.9 1247.7L979.7 1249.7ZM1152.4 1249.7L1161.1 1256.5L1167.3 1249.7L1161.1 1241.5ZM449.9 1244.2L441.2 1236.1L449.9 1230.2L464.4 1233.4L469.2 1236.1L464.4 1238.3ZM943.4 1238.3L940.5 1236.1L943.4 1229.3L957.9 1232.7L962.8 1236.1L957.9 1237.3ZM1140.8 1222.5L1146.6 1227.0L1156.3 1222.5L1146.6 1218.0ZM537.0 1212.3L529.7 1208.9L522.5 1195.3L522.5 1195.3L522.5 1195.3L537.0 1190.8L539.1 1195.3L539.4 1208.9ZM957.9 1208.9L957.9 1208.9L957.9 1195.3L957.9 1195.3L957.9 1195.3L957.9 1208.9ZM986.9 1214.7L979.7 1208.9L986.9 1202.1L995.7 1208.9ZM914.4 1197.2L912.0 1195.3L914.4 1193.0L916.8 1195.3ZM899.9 1186.8L894.4 1181.7L897.4 1168.1L899.9 1161.3L903.5 1168.1L905.3 1181.7ZM1064.4 1181.7L1074.0 1186.2L1088.5 1181.7L1074.0 1177.2ZM1107.9 1181.7L1117.6 1195.3L1127.3 1181.7L1117.6 1176.3ZM754.7 1171.5L752.6 1168.1L754.7 1166.2L758.3 1168.1ZM783.7 1170.1L780.1 1168.1L783.7 1154.5L783.7 1154.5L783.7 1154.5L785.3 1168.1ZM696.6 1157.3L693.7 1154.5L696.6 1150.0L711.2 1150.0L713.2 1154.5L711.2 1156.0ZM812.8 1157.9L811.2 1154.5L812.8 1151.8L815.7 1154.5ZM885.3 1158.4L879.5 1154.5L885.3 1140.9L885.3 1140.9L885.3 1140.9L895.0 1154.5ZM928.9 1154.5L943.4 1168.1L948.2 1154.5L951.5 1140.9L943.4 1129.6L928.9 1138.2L921.6 1140.9L928.9 1154.5ZM429.6 1140.9L435.4 1147.7L441.2 1140.9L435.4 1131.9ZM595.0 1140.9L595.0 1140.9L595.0 1140.9L595.0 1140.9ZM798.2 1142.5L794.6 1140.9L798.2 1139.2L801.2 1140.9ZM969.5 1140.9L972.4 1144.3L976.1 1140.9L972.4 1138.7ZM1042.6 1140.9L1045.0 1142.9L1059.5 1140.9L1045.0 1137.6ZM416.0 1127.4L420.9 1132.8L430.5 1127.4L420.9 1121.9ZM566.0 1127.4L566.0 1127.4L566.0 1127.4L566.0 1127.4ZM696.6 1127.4L696.6 1127.4L696.6 1127.4L711.2 1127.4L723.9 1113.8L725.7 1109.2L730.5 1113.8L725.7 1127.4L725.7 1127.4L711.2 1127.4ZM997.8 1127.4L1001.5 1130.1L1008.7 1127.4L1001.5 1124.6ZM783.7 1119.2L777.9 1113.8L783.7 1100.2L783.7 1100.2L783.7 1100.2L791.0 1113.8ZM897.0 1100.2L899.9 1113.8L903.5 1100.2L902.8 1086.6L899.9 1084.3L897.0 1086.6ZM962.8 1100.2L972.4 1105.6L977.3 1100.2L972.4 1094.7ZM798.2 1093.4L795.3 1086.6L798.2 1082.1L801.2 1086.6ZM498.3 1073.0L508.0 1079.8L522.5 1073.0L508.0 1068.5ZM736.6 1073.0L740.2 1086.6L743.1 1073.0L740.2 1069.6ZM460.8 1059.4L464.4 1062.8L469.2 1059.4L464.4 1056.0ZM653.1 1059.4L667.6 1070.3L675.9 1059.4L667.6 1053.4ZM530.8 1045.8L537.0 1059.4L547.9 1045.8L537.0 1037.7ZM554.4 1045.8L566.0 1052.6L577.6 1045.8L566.0 1039.8ZM602.3 1045.8L609.6 1052.6L613.2 1045.8L609.6 1043.9ZM624.1 1032.2L638.6 1036.8L641.5 1032.2L638.6 1028.8ZM751.1 1018.6L754.7 1022.0L757.6 1018.6L754.7 1016.4ZM605.4 977.9L609.6 983.3L614.4 977.9L609.6 974.5Z"/>
<path stroke="#444444" d="M635.0 1752.5L638.6 1757.0L642.2 1752.5L638.6 1749.1ZM665.5 1738.9L667.6 1740.6L670.5 1738.9L667.6 1735.5ZM601.3 1725.3L609.6 1736.1L624.1 1732.1L638.6 1729.8L645.8 1725.3L645.8 1711.7L638.6 1707.2L624.1 1711.7L624.1 1711.7L624.1 1711.7L609.6 1704.9L603.7 1698.1L609.6 1687.2L616.8 1684.5L624.1 1681.1L628.9 1684.5L638.6 1691.3L642.2 1684.5L650.7 1670.9L653.1 1669.4L667.6 1670.9L667.6 1670.9L682.1 1683.1L685.8 1684.5L693.7 1698.1L689.4 1711.7L696.6 1715.6L699.3 1711.7L700.3 1698.1L707.5 1684.5L696.6 1676.4L694.0 1670.9L685.8 1657.3L696.6 1649.9L705.4 1657.3L711.2 1663.4L719.2 1670.9L725.7 1684.5L734.0 1670.9L740.2 1662.8L754.7 1657.3L752.6 1643.7L754.7 1641.5L757.1 1643.7L754.7 1657.3L764.4 1670.9L754.7 1674.8L745.6 1684.5L754.7 1690.7L763.8 1684.5L769.2 1674.3L780.1 1684.5L783.7 1691.3L798.2 1693.6L805.5 1684.5L807.0 1670.9L798.2 1660.7L783.7 1660.0L776.5 1657.3L779.6 1643.7L783.7 1638.3L791.0 1643.7L798.2 1652.8L812.8 1653.9L827.3 1647.1L834.5 1643.7L841.8 1635.6L849.1 1643.7L856.3 1649.6L865.0 1643.7L856.3 1633.5L851.5 1630.2L856.3 1627.9L868.4 1616.6L866.0 1603.0L862.1 1589.4L870.8 1584.9L874.5 1589.4L874.1 1603.0L872.4 1616.6L885.3 1628.6L895.9 1616.6L899.9 1613.2L914.4 1608.4L920.6 1616.6L914.4 1621.1L903.5 1630.2L899.9 1635.6L885.3 1634.7L878.1 1643.7L885.3 1650.5L889.5 1657.3L895.0 1670.9L899.9 1673.6L914.4 1678.7L922.7 1670.9L914.4 1666.7L905.0 1657.3L914.4 1645.1L917.3 1643.7L928.9 1630.2L928.9 1630.2L943.4 1630.2L943.4 1630.2L957.9 1632.9L963.7 1630.2L957.9 1624.7L949.2 1616.6L952.7 1603.0L957.9 1589.4L957.9 1589.4L957.9 1589.4L972.4 1599.6L979.7 1589.4L981.1 1575.8L986.9 1566.7L991.8 1562.2L986.9 1553.1L972.4 1562.2L972.4 1562.2L972.4 1562.2L969.8 1548.6L972.4 1544.1L978.2 1535.0L986.9 1521.4L986.9 1521.4L986.9 1521.4L1001.5 1524.8L1008.7 1521.4L1001.5 1516.9L996.6 1507.9L986.9 1498.8L982.8 1494.3L986.9 1488.8L1001.5 1491.5L1016.0 1482.9L1019.6 1480.7L1016.0 1467.1L1001.5 1467.1L1001.5 1467.1L1001.5 1467.1L1016.0 1467.1L1023.2 1453.5L1021.8 1439.9L1022.6 1426.3L1026.9 1412.7L1030.5 1409.1L1038.8 1412.7L1040.2 1426.3L1045.0 1439.9L1059.5 1434.5L1074.0 1429.0L1076.1 1426.3L1074.0 1419.5L1059.5 1416.1L1055.9 1412.7L1055.9 1399.1L1045.0 1385.5L1045.0 1385.5L1037.7 1372.0L1036.7 1358.4L1030.5 1351.6L1016.0 1355.7L1011.1 1358.4L1016.0 1360.3L1024.7 1372.0L1016.0 1380.1L1007.7 1385.5L1001.5 1389.3L986.9 1385.5L986.9 1385.5L986.9 1385.5L1001.5 1379.7L1007.3 1372.0L1001.5 1362.9L998.8 1358.4L986.9 1346.1L972.4 1348.2L957.9 1348.5L954.0 1344.8L957.9 1334.6L972.4 1342.8L986.9 1338.0L989.8 1331.2L986.9 1328.9L972.4 1324.4L963.7 1317.6L972.4 1308.5L986.9 1310.1L992.8 1304.0L1001.5 1296.6L1016.0 1290.4L1001.5 1283.6L986.9 1283.6L972.4 1283.6L965.2 1276.8L968.6 1263.2L963.2 1249.7L957.9 1244.7L943.4 1245.1L928.9 1249.7L928.9 1249.7L928.9 1249.7L928.9 1249.7L931.8 1236.1L928.9 1222.5L928.9 1222.5L914.4 1208.9L899.9 1216.7L892.6 1222.5L899.9 1236.1L914.4 1229.3L919.2 1236.1L914.4 1239.5L907.1 1249.7L899.9 1263.2L899.9 1263.2L899.9 1263.2L885.3 1254.2L882.9 1249.7L881.7 1236.1L870.8 1222.5L856.3 1227.0L841.8 1225.2L838.2 1222.5L832.1 1208.9L837.0 1195.3L827.3 1188.5L822.4 1195.3L812.8 1201.3L808.3 1195.3L798.3 1183.1L783.7 1195.3L783.7 1195.3L769.2 1205.5L763.8 1195.3L754.7 1186.8L745.6 1195.3L740.2 1208.9L742.0 1222.5L745.6 1236.1L740.2 1241.9L737.1 1236.1L738.6 1222.5L740.2 1208.9L729.3 1195.3L725.7 1188.5L723.3 1181.7L716.0 1168.1L711.2 1165.1L703.9 1168.1L700.8 1181.7L711.2 1193.0L718.4 1195.3L711.2 1196.8L696.6 1208.9L696.6 1208.9L682.1 1208.9L682.1 1208.9L680.3 1195.3L682.1 1181.7L682.1 1181.7L693.7 1168.1L682.1 1157.3L667.6 1154.5L667.6 1154.5L662.8 1140.9L653.1 1134.9L641.5 1140.9L646.9 1154.5L653.1 1162.7L662.8 1168.1L653.1 1171.5L647.3 1168.1L638.6 1162.3L624.1 1154.5L615.8 1168.1L609.6 1181.7L609.6 1181.7L604.7 1195.3L604.7 1208.9L602.3 1222.5L595.0 1225.9L580.5 1222.5L580.5 1222.5L566.0 1213.4L559.8 1208.9L566.0 1204.4L580.5 1195.3L566.0 1183.7L551.5 1181.7L545.3 1195.3L546.7 1208.9L551.5 1216.7L556.3 1222.5L553.6 1236.1L551.5 1237.8L548.6 1236.1L537.0 1222.5L522.5 1227.0L518.8 1222.5L508.0 1208.9L508.0 1208.9L508.0 1208.9L510.0 1195.3L508.0 1190.8L500.7 1195.3L493.4 1196.7L482.5 1208.9L493.4 1222.5L493.4 1222.5L508.0 1230.6L515.2 1236.1L508.0 1245.1L504.3 1249.7L493.4 1255.5L478.9 1256.5L464.4 1263.2L478.9 1274.1L493.4 1276.8L508.0 1276.8L508.0 1276.8L508.0 1276.8L493.4 1276.8L478.9 1281.4L471.7 1290.4L464.4 1299.5L449.9 1304.0L457.1 1317.6L464.4 1331.2L464.4 1331.2L464.4 1331.2L449.9 1341.4L445.1 1344.8L435.4 1352.5L429.9 1358.4L428.1 1372.0L435.4 1377.4L449.9 1372.0L449.9 1358.4L449.9 1358.4L449.9 1358.4L449.9 1372.0L455.3 1385.5L449.9 1392.3L439.0 1399.1L435.4 1403.7L429.6 1412.7L420.9 1426.3L435.4 1430.8L442.6 1439.9L435.4 1453.5L449.9 1464.6L461.8 1453.5L464.4 1439.9L464.4 1439.9L464.4 1439.9L468.6 1453.5L471.0 1467.1L478.9 1476.1L484.4 1480.7L478.9 1490.9L464.4 1480.7L464.4 1480.7L449.9 1476.1L435.4 1473.9L431.7 1480.7L435.4 1483.4L449.9 1487.5L451.7 1494.3L449.9 1498.8L435.4 1505.1L420.9 1507.9L420.9 1507.9L419.2 1521.4L420.9 1524.8L428.1 1521.4L435.4 1514.6L437.2 1521.4L442.6 1535.0L449.9 1545.2L464.4 1539.6L469.2 1548.6L478.9 1559.5L481.3 1562.2L478.9 1564.1L464.4 1575.8L478.9 1586.0L480.6 1589.4L493.4 1602.1L496.3 1603.0L508.0 1610.7L515.2 1616.6L522.5 1619.5L537.0 1623.4L541.8 1616.6L551.5 1611.1L561.2 1616.6L551.5 1623.4L541.8 1630.2L537.0 1643.7L551.5 1648.8L566.0 1657.3L566.0 1657.3L580.5 1661.9L587.8 1670.9L595.0 1682.6L602.3 1684.5L595.0 1686.4L584.2 1698.1L590.2 1711.7L595.0 1715.1ZM707.0 1725.3L711.2 1732.1L720.8 1725.3L711.2 1722.8ZM765.6 1698.1L769.2 1702.6L778.9 1698.1L769.2 1692.7ZM483.8 1670.9L493.4 1676.4L497.1 1670.9L493.4 1665.5ZM533.4 1670.9L537.0 1672.4L551.5 1673.2L556.3 1670.9L551.5 1668.7L537.0 1668.2ZM502.1 1657.3L508.0 1660.7L512.8 1657.3L516.7 1643.7L511.1 1630.2L508.0 1623.4L493.4 1621.7L488.0 1616.6L478.9 1609.0L470.9 1616.6L478.9 1627.9L481.3 1630.2L493.4 1639.9L499.2 1643.7ZM624.1 1662.8L621.2 1657.3L624.1 1654.9L628.9 1657.3ZM653.1 1646.5L645.8 1643.7L653.1 1640.3L655.3 1643.7ZM725.7 1650.5L724.8 1643.7L725.7 1642.2L727.7 1643.7ZM983.3 1630.2L986.9 1632.1L994.2 1630.2L986.9 1628.9ZM580.5 1619.0L570.8 1616.6L580.5 1611.1L584.2 1616.6ZM1009.9 1616.6L1016.0 1620.8L1023.2 1616.6L1016.0 1610.4ZM433.8 1603.0L435.4 1616.6L437.2 1603.0L435.4 1601.0ZM566.0 1609.8L562.4 1603.0L566.0 1601.5L569.6 1603.0ZM595.0 1603.0L595.0 1603.0L595.0 1603.0L595.0 1603.0ZM769.2 1605.2L767.1 1603.0L769.2 1602.0L774.1 1603.0ZM928.9 1605.7L924.0 1603.0L926.5 1589.4L928.9 1582.6L931.8 1589.4L930.3 1603.0ZM638.6 1591.1L637.4 1589.4L638.6 1588.5L640.2 1589.4ZM493.4 1575.8L493.4 1575.8L493.4 1575.8L508.0 1572.4L515.2 1575.8L508.0 1582.6ZM783.7 1578.3L779.8 1575.8L783.7 1572.4L787.1 1575.8ZM885.3 1575.8L885.3 1575.8L885.3 1575.8L885.3 1575.8ZM1055.9 1575.8L1059.5 1582.6L1063.7 1575.8L1059.5 1571.3ZM856.3 1563.7L855.1 1562.2L856.3 1561.5L858.4 1562.2ZM943.4 1562.2L943.4 1562.2L943.4 1562.2L943.4 1562.2ZM493.4 1548.6L493.4 1548.6L493.4 1548.6L493.4 1548.6ZM1007.3 1548.6L1016.0 1553.7L1023.2 1548.6L1016.0 1538.4ZM1041.4 1548.6L1045.0 1562.2L1059.5 1548.6L1049.2 1535.0L1045.0 1529.6L1040.9 1535.0ZM914.4 1536.2L913.4 1535.0L914.4 1532.3L916.4 1535.0ZM1008.7 1507.9L1016.0 1516.9L1025.7 1507.9L1016.0 1504.0ZM1034.1 1507.9L1045.0 1514.6L1059.5 1514.6L1066.8 1507.9L1064.4 1494.3L1059.5 1488.8L1055.4 1494.3L1045.0 1502.8ZM522.5 1496.0L519.2 1494.3L522.5 1491.8L525.1 1494.3ZM1045.0 1467.1L1059.5 1473.9L1074.0 1470.5L1078.9 1467.1L1074.0 1464.8L1059.5 1453.5ZM418.4 1453.5L420.9 1455.4L435.4 1453.5L420.9 1449.0ZM1115.2 1453.5L1117.6 1456.2L1121.2 1453.5L1117.6 1451.2ZM1079.8 1439.9L1088.5 1446.7L1097.3 1439.9L1088.5 1433.1ZM972.4 1426.3L972.4 1426.3L972.4 1426.3L972.4 1426.3ZM1001.5 1430.5L996.6 1426.3L996.0 1412.7L1001.5 1409.0L1004.4 1412.7L1007.9 1426.3ZM1101.0 1426.3L1103.1 1429.0L1106.0 1426.3L1103.1 1424.1ZM449.9 1419.5L442.6 1412.7L449.9 1407.3L464.4 1412.7L464.4 1412.7L464.4 1412.7ZM1142.7 1412.7L1146.6 1417.3L1152.8 1412.7L1146.6 1405.9ZM1016.0 1401.1L1013.1 1399.1L1016.0 1394.6L1018.2 1399.1ZM493.4 1385.5L493.4 1385.5L493.4 1385.5L493.4 1385.5ZM1076.1 1385.6L1088.5 1395.7L1096.5 1385.5L1088.5 1376.5ZM1130.0 1372.0L1132.1 1373.5L1135.7 1372.0L1132.1 1367.4ZM478.9 1363.5L470.2 1358.4L478.9 1353.3L484.4 1358.4ZM508.0 1359.4L505.5 1358.4L508.0 1357.1L510.9 1358.4ZM418.4 1344.8L420.9 1347.0L423.8 1344.8L420.9 1343.1ZM522.5 1347.5L521.1 1344.8L522.5 1343.3L524.9 1344.8ZM928.9 1344.8L928.9 1344.8L928.9 1344.8L928.9 1344.8ZM1074.0 1344.8L1088.5 1348.7L1095.8 1344.8L1088.5 1338.0ZM1013.1 1331.2L1016.0 1333.9L1019.6 1331.2L1016.0 1317.6L1016.0 1317.6L1016.0 1317.6L1018.0 1304.0L1016.0 1290.4L1013.9 1304.0L1001.5 1310.8L993.5 1317.6L1001.5 1325.8ZM1045.0 1331.2L1059.5 1344.8L1069.2 1331.2L1074.0 1317.6L1059.5 1314.6L1057.1 1317.6ZM478.9 1319.1L471.7 1317.6L478.9 1316.1L481.8 1317.6ZM914.4 1322.5L911.0 1317.6L914.4 1311.6L920.8 1317.6ZM508.0 1307.9L501.7 1304.0L508.0 1296.6L513.4 1304.0ZM1041.4 1304.0L1045.0 1306.3L1048.2 1304.0L1045.0 1301.0ZM522.5 1294.3L516.0 1290.4L522.5 1284.4L527.3 1290.4ZM957.9 1292.7L954.3 1290.4L957.9 1287.0L961.5 1290.4ZM1016.0 1290.4L1030.5 1293.8L1033.7 1290.4L1030.5 1286.5ZM1066.8 1290.4L1074.0 1291.9L1076.9 1290.4L1074.0 1287.0ZM827.3 1276.8L827.3 1276.8L827.3 1276.8L827.3 1276.8ZM870.8 1276.8L870.8 1276.8L870.8 1276.8L870.8 1276.8ZM914.4 1281.9L903.5 1276.8L914.4 1272.3L928.9 1272.3L934.2 1263.2L943.4 1254.6L949.0 1263.2L951.7 1276.8L943.4 1284.6L928.9 1280.7ZM638.6 1266.6L637.0 1263.2L638.6 1261.3L641.5 1263.2ZM1042.6 1263.2L1045.0 1266.0L1047.4 1263.2L1045.0 1249.7ZM537.0 1257.6L526.8 1249.7L537.0 1241.0L544.2 1249.7ZM711.2 1256.5L706.3 1249.7L711.2 1245.1L712.4 1249.7ZM827.3 1254.9L816.9 1249.7L826.1 1236.1L827.3 1234.1L828.9 1236.1L837.6 1249.7ZM856.3 1249.7L856.3 1249.7L856.3 1249.7L856.3 1249.7ZM996.0 1249.7L1001.5 1254.8L1005.8 1249.7L1001.5 1241.5ZM609.6 1239.5L605.9 1236.1L609.6 1229.3L616.8 1222.5L624.1 1220.2L627.0 1222.5L638.6 1233.4L641.0 1236.1L638.6 1238.0L624.1 1238.3ZM769.2 1236.1L769.2 1236.1L769.2 1222.5L769.2 1222.5L769.2 1222.5L769.2 1236.1ZM798.2 1210.1L794.6 1208.9L798.3 1207.5L800.7 1208.9ZM847.6 1208.9L856.3 1218.0L868.8 1208.9L856.3 1199.8ZM873.7 1208.9L885.3 1216.7L892.6 1208.9L885.3 1199.8ZM1042.9 1208.9L1045.0 1210.1L1047.4 1208.9L1045.0 1207.2ZM580.5 1181.7L595.0 1186.2L609.6 1181.7L595.0 1178.3ZM837.0 1181.7L841.8 1188.5L856.3 1181.7L841.8 1178.3ZM490.8 1168.1L493.4 1172.7L497.6 1168.1L493.4 1163.6ZM559.6 1168.1L566.0 1179.0L577.6 1168.1L566.0 1162.1ZM795.0 1168.1L798.2 1177.2L804.1 1168.1L801.5 1154.5L798.2 1151.5L794.6 1154.5ZM617.8 1140.9L624.1 1154.5L635.0 1140.9L630.3 1127.4L624.1 1122.3L617.8 1127.4ZM794.6 1127.4L798.2 1129.1L801.2 1127.4L798.2 1124.6ZM708.3 1113.8L711.2 1115.7L713.0 1113.8L711.2 1111.5ZM854.7 1113.8L856.3 1116.5L858.7 1113.8L856.3 1112.1Z"/>
<path stroke="#666666" d="M677.3 1670.9L682.1 1675.0L686.1 1670.9L682.1 1665.1ZM603.7 1657.3L609.6 1666.4L612.5 1657.3L609.6 1648.3ZM645.8 1657.3L653.1 1660.3L667.6 1657.3L653.1 1654.6ZM613.2 1643.7L624.1 1647.4L630.3 1643.7L624.1 1633.5L622.0 1630.2L609.6 1621.1L601.6 1630.2L609.6 1641.8ZM662.0 1643.7L667.6 1657.3L678.0 1643.7L682.1 1638.3L696.6 1641.8L698.1 1643.7L711.2 1654.9L719.3 1643.7L711.2 1634.3L705.4 1630.2L711.2 1624.1L720.8 1630.2L725.7 1633.2L740.2 1630.2L725.7 1616.6L725.7 1616.6L725.7 1616.6L737.3 1603.0L734.4 1589.4L725.7 1579.2L711.2 1583.9L708.4 1575.8L709.8 1562.2L711.2 1561.4L712.8 1562.2L725.7 1574.3L740.2 1569.0L745.0 1562.2L754.7 1559.5L757.6 1562.2L754.7 1569.0L745.0 1575.8L754.7 1581.2L759.1 1589.4L769.2 1596.2L783.7 1598.0L792.2 1589.4L783.7 1583.4L771.9 1575.8L783.7 1565.6L798.2 1562.2L798.2 1562.2L798.2 1562.2L798.2 1562.2L793.8 1575.8L798.2 1581.8L812.8 1579.2L827.3 1581.8L833.7 1575.8L841.8 1569.0L847.8 1562.2L856.3 1556.9L870.8 1562.2L870.8 1562.2L885.3 1566.7L899.9 1567.3L914.4 1571.3L919.2 1562.2L922.4 1548.6L914.4 1543.0L907.6 1535.0L899.9 1526.0L892.6 1521.4L899.9 1510.6L907.1 1507.9L914.4 1505.1L917.3 1507.9L918.5 1521.4L928.9 1535.0L943.4 1521.4L936.1 1507.9L943.4 1500.1L952.1 1494.3L948.2 1480.7L943.4 1476.1L937.6 1467.1L943.4 1460.3L949.2 1453.5L943.4 1439.9L943.4 1439.9L943.4 1439.9L945.8 1426.3L957.9 1415.0L965.2 1412.7L957.9 1409.3L951.7 1399.1L957.9 1385.5L951.7 1372.0L957.9 1363.8L963.7 1358.4L957.9 1355.9L946.0 1344.8L948.8 1331.2L943.4 1323.0L928.9 1321.0L914.4 1330.0L907.1 1331.2L914.4 1334.6L928.9 1335.7L939.8 1344.8L928.9 1351.1L914.4 1347.9L907.1 1344.8L899.9 1334.6L885.3 1344.8L885.3 1344.8L885.3 1344.8L881.4 1331.2L882.1 1317.6L885.3 1308.5L888.6 1317.6L899.9 1329.5L905.8 1317.6L899.9 1304.0L899.9 1304.0L892.6 1290.4L890.8 1276.8L885.3 1271.0L880.5 1276.8L879.1 1290.4L870.8 1295.4L856.3 1299.5L852.2 1290.4L856.3 1285.0L861.1 1276.8L859.9 1263.2L856.3 1261.3L853.4 1263.2L841.8 1268.7L834.5 1276.8L833.7 1290.4L827.3 1293.3L820.8 1290.4L819.4 1276.8L827.3 1266.6L832.1 1263.2L827.3 1261.2L812.8 1260.5L807.9 1263.2L802.4 1276.8L798.2 1280.2L783.7 1282.3L772.8 1290.4L770.3 1304.0L772.4 1317.6L770.4 1331.2L769.2 1332.9L766.3 1331.2L767.0 1317.6L767.9 1304.0L766.8 1290.4L754.7 1279.1L747.4 1276.8L754.7 1272.3L759.5 1263.2L759.5 1249.7L754.7 1242.9L749.9 1249.7L740.2 1263.2L740.2 1263.2L740.2 1263.2L736.0 1249.7L730.9 1236.1L728.9 1222.5L729.3 1208.9L725.7 1205.0L711.2 1205.9L707.5 1208.9L711.2 1213.4L720.8 1222.5L717.6 1236.1L719.6 1249.7L717.8 1263.2L711.2 1269.4L700.3 1276.8L696.6 1290.4L696.6 1304.0L696.6 1304.0L696.6 1304.0L696.6 1290.4L694.0 1276.8L696.6 1267.8L699.1 1263.2L696.6 1260.5L694.2 1263.2L682.1 1268.1L674.1 1263.2L667.6 1254.2L657.9 1249.7L653.1 1242.9L638.6 1249.7L653.1 1254.2L657.9 1263.2L653.1 1266.6L643.4 1276.8L638.6 1280.9L635.0 1276.8L627.3 1263.2L638.6 1249.7L624.1 1245.1L615.8 1249.7L609.6 1259.9L595.0 1256.5L580.5 1258.7L570.8 1263.2L576.9 1276.8L566.0 1280.5L557.3 1276.8L551.5 1273.0L545.7 1276.8L551.5 1285.9L553.1 1290.4L566.0 1300.3L580.5 1299.8L587.0 1304.0L580.5 1307.4L566.0 1308.5L551.5 1306.7L542.6 1317.6L537.0 1331.2L544.2 1344.8L537.0 1347.0L526.6 1358.4L537.0 1372.0L551.5 1369.2L553.6 1372.0L551.5 1376.5L537.0 1385.5L537.0 1385.5L537.0 1385.5L522.5 1378.8L518.8 1372.0L508.0 1365.7L495.5 1372.0L503.1 1385.5L508.0 1392.3L516.7 1399.1L522.5 1412.7L522.5 1412.7L522.5 1412.7L522.5 1412.7L508.0 1409.3L493.4 1407.3L478.9 1408.2L476.8 1412.7L464.4 1422.9L459.6 1426.3L464.4 1429.7L478.9 1434.1L487.2 1426.3L493.4 1418.2L502.1 1426.3L493.4 1439.9L493.4 1453.5L493.4 1453.5L478.9 1467.1L493.4 1478.0L498.3 1480.7L500.7 1494.3L508.0 1498.8L509.6 1494.3L522.5 1484.4L533.0 1494.3L522.5 1501.1L510.9 1507.9L522.5 1516.2L537.0 1521.4L537.0 1521.4L537.0 1521.4L529.7 1535.0L522.5 1540.9L511.6 1535.0L508.0 1528.2L493.4 1535.0L504.3 1548.6L508.0 1562.2L508.0 1562.2L522.5 1564.9L537.0 1562.2L537.0 1548.6L537.0 1548.6L547.9 1535.0L551.5 1531.6L552.8 1535.0L553.6 1548.6L551.5 1551.3L537.0 1562.2L551.5 1569.0L566.0 1562.2L566.0 1562.2L566.0 1562.2L580.5 1569.0L595.0 1571.3L609.6 1569.0L624.1 1569.0L628.5 1575.8L624.1 1581.8L612.0 1589.4L609.6 1590.7L604.7 1589.4L595.0 1585.5L580.5 1582.6L566.0 1575.8L561.2 1589.4L566.0 1592.4L580.5 1594.8L595.0 1592.8L600.8 1603.0L609.6 1613.2L624.1 1613.2L638.6 1606.4L653.1 1615.4L655.2 1616.6L653.1 1630.2ZM571.8 1630.2L580.5 1636.0L586.0 1630.2L580.5 1626.4ZM628.9 1630.2L638.6 1634.7L653.1 1630.2L638.6 1624.7ZM786.3 1630.2L798.2 1640.7L812.8 1636.9L823.7 1630.2L812.8 1620.0L809.1 1616.6L812.8 1609.8L815.2 1603.0L812.8 1599.6L798.2 1603.0L798.2 1603.0L783.7 1616.6ZM747.4 1616.6L754.7 1625.6L764.4 1616.6L754.7 1603.0ZM882.1 1616.6L885.3 1619.6L888.0 1616.6L899.9 1606.4L906.1 1603.0L899.9 1597.2L891.6 1589.4L885.3 1584.9L881.7 1589.4L883.7 1603.0ZM696.6 1607.5L687.0 1603.0L687.0 1589.4L696.6 1587.6L703.9 1589.4L699.3 1603.0ZM834.5 1603.0L841.8 1612.7L852.2 1603.0L841.8 1591.6ZM939.0 1603.0L943.4 1608.8L946.5 1603.0L943.4 1594.8ZM485.8 1589.4L493.4 1597.0L503.5 1589.4L493.4 1581.2ZM638.6 1601.3L630.1 1589.4L638.6 1583.4L649.9 1589.4ZM852.2 1575.8L856.3 1580.3L870.8 1575.8L856.3 1572.8ZM696.6 1548.6L696.6 1548.6L696.6 1548.6L696.6 1548.6ZM769.2 1548.6L769.2 1548.6L769.2 1548.6L783.7 1545.2L784.7 1548.6L783.7 1552.0ZM885.3 1552.0L878.1 1548.6L885.3 1546.7L890.2 1548.6ZM947.0 1548.6L957.9 1556.8L961.9 1548.6L957.9 1542.8ZM754.7 1535.0L754.7 1535.0L754.7 1535.0L754.7 1535.0ZM812.8 1543.5L808.2 1535.0L812.8 1521.4L812.8 1521.4L812.8 1521.4L824.9 1535.0ZM841.8 1540.9L830.9 1535.0L841.8 1529.2L845.1 1535.0ZM870.8 1535.0L870.8 1535.0L856.3 1521.4L856.3 1521.4L856.3 1521.4L868.8 1507.9L870.8 1506.3L875.7 1507.9L878.9 1521.4L870.8 1535.0ZM448.1 1521.4L449.9 1524.8L454.7 1521.4L449.9 1518.7ZM682.1 1527.5L673.8 1521.4L682.1 1516.9L688.6 1521.4ZM965.2 1521.4L972.4 1526.0L974.5 1521.4L972.4 1507.9ZM462.6 1494.3L464.4 1498.8L466.8 1494.3L464.4 1492.3ZM899.9 1504.5L891.1 1494.3L895.5 1480.7L899.9 1475.6L903.8 1480.7L906.1 1494.3ZM754.7 1484.6L751.5 1480.7L754.7 1477.3L757.6 1480.7ZM928.9 1487.5L927.3 1480.7L928.9 1477.3L936.1 1480.7ZM962.1 1480.7L972.4 1492.0L981.5 1480.7L983.3 1467.1L972.4 1458.9L957.9 1460.3L949.2 1467.1L957.9 1475.2ZM522.5 1472.5L519.6 1467.1L522.5 1453.5L522.5 1453.5L537.0 1453.5L537.0 1453.5L537.0 1453.5L528.3 1467.1ZM551.5 1468.1L547.9 1467.1L551.5 1463.7L552.7 1467.1ZM856.3 1467.1L856.3 1467.1L856.3 1467.1L856.3 1467.1ZM445.1 1453.5L449.9 1457.2L453.8 1453.5L449.9 1447.7ZM914.4 1442.5L903.5 1439.9L914.4 1435.4L917.3 1439.9ZM967.6 1439.9L972.4 1444.4L977.3 1439.9L972.4 1438.0ZM992.8 1439.9L1001.5 1448.1L1010.2 1439.9L1001.5 1436.8ZM537.0 1427.4L535.9 1426.3L537.0 1424.4L539.4 1426.3ZM899.9 1435.4L890.2 1426.3L899.9 1423.3L903.5 1426.3ZM983.3 1426.3L986.9 1433.1L989.4 1426.3L986.9 1417.3ZM856.3 1418.2L853.4 1412.7L856.3 1409.7L859.2 1412.7ZM1010.2 1412.7L1016.0 1424.4L1021.4 1412.7L1016.0 1406.9ZM456.1 1399.1L464.4 1404.6L474.1 1399.1L464.4 1388.3ZM566.0 1399.1L566.0 1399.1L566.0 1399.1L566.0 1399.1ZM914.4 1399.1L914.4 1399.1L899.9 1390.4L885.3 1387.1L883.6 1385.5L885.3 1381.0L899.9 1379.4L914.4 1384.7L928.9 1372.0L928.9 1372.0L928.9 1372.0L939.8 1385.5L936.1 1399.1L928.9 1403.7ZM968.8 1399.1L972.4 1405.9L976.1 1399.1L972.4 1394.6ZM995.7 1399.1L1001.5 1401.6L1004.4 1399.1L1001.5 1396.7ZM1024.9 1399.1L1030.5 1403.7L1039.6 1399.1L1030.5 1389.4ZM595.0 1388.0L593.7 1385.5L595.0 1384.3L597.3 1385.5ZM798.3 1386.6L797.1 1385.5L798.2 1384.8L799.7 1385.5ZM856.3 1372.0L856.3 1372.0L856.3 1372.0L856.3 1372.0ZM965.2 1372.0L972.4 1380.1L979.7 1372.0L972.4 1365.2ZM566.0 1361.8L561.2 1358.4L566.0 1353.8L580.5 1358.4L580.5 1358.4L580.5 1358.4ZM609.6 1360.3L608.7 1358.4L609.6 1357.3L610.5 1358.4ZM870.8 1361.6L866.4 1358.4L870.8 1353.4L876.1 1358.4ZM979.7 1358.4L986.9 1365.2L990.9 1358.4L986.9 1354.3ZM499.7 1344.8L508.0 1349.7L513.2 1344.8L522.5 1334.2L537.0 1331.2L527.9 1317.6L537.0 1304.0L522.5 1300.1L518.8 1304.0L508.0 1311.8L496.1 1317.6L493.4 1323.0L478.9 1328.2L475.3 1331.2L478.9 1340.3L493.4 1338.0ZM812.8 1346.9L807.9 1344.8L812.8 1338.0L816.0 1344.8ZM711.2 1320.5L708.9 1317.6L711.2 1315.9L725.7 1314.2L740.2 1304.0L740.2 1304.0L740.2 1304.0L741.4 1317.6L740.2 1319.3L725.7 1319.5ZM474.8 1304.0L478.9 1307.0L493.4 1310.8L495.5 1304.0L493.4 1299.5L478.9 1299.5ZM932.5 1304.0L943.4 1312.2L954.3 1304.0L943.4 1297.2ZM534.6 1290.4L537.0 1304.0L546.7 1290.4L537.0 1285.0ZM725.7 1293.8L722.0 1290.4L725.7 1288.7L728.3 1290.4ZM609.6 1276.8L609.6 1276.8L609.6 1276.8L609.6 1276.8ZM497.6 1263.2L508.0 1269.4L517.0 1263.2L508.0 1256.5ZM777.5 1263.2L783.7 1271.4L792.4 1263.2L789.2 1249.7L798.2 1236.1L798.2 1236.1L798.2 1236.1L812.8 1243.6L818.8 1236.1L812.8 1227.6L806.5 1222.5L798.2 1217.5L791.8 1222.5L783.7 1232.2L780.1 1236.1L775.0 1249.7ZM953.9 1263.2L957.9 1271.7L962.8 1263.2L957.9 1253.5ZM550.5 1249.7L551.5 1251.9L554.4 1249.7L551.5 1248.0ZM657.9 1236.1L667.6 1242.9L674.9 1236.1L667.6 1229.3ZM687.9 1236.1L696.6 1241.9L702.9 1236.1L696.6 1222.5ZM838.6 1236.1L841.8 1240.6L856.3 1236.1L841.8 1233.4ZM648.3 1222.5L653.1 1229.3L657.9 1222.5L653.1 1220.2ZM752.9 1222.5L754.7 1229.3L756.8 1222.5L754.7 1220.2ZM489.8 1208.9L493.4 1213.4L498.3 1208.9L493.4 1204.8ZM645.0 1195.3L653.1 1202.1L667.6 1198.0L669.4 1195.3L667.6 1192.6L653.1 1181.7L653.1 1181.7L638.6 1178.3L633.7 1181.7L638.6 1184.4ZM793.4 1195.3L798.2 1199.4L801.6 1195.3L798.2 1191.2ZM678.0 1168.1L682.1 1171.5L685.0 1168.1L682.1 1165.4Z"/>
<path stroke="#888888" d="M706.8 1643.7L711.2 1647.4L713.9 1643.7L711.2 1640.6ZM791.4 1630.2L798.2 1636.2L808.8 1630.2L798.2 1620.3ZM606.7 1603.0L609.6 1606.4L616.8 1603.0L609.6 1598.9ZM645.8 1603.0L653.1 1608.6L667.6 1603.0L667.6 1603.0L671.8 1589.4L667.6 1580.3L662.8 1589.4L653.1 1595.4ZM707.2 1603.0L711.2 1613.2L719.9 1603.0L711.2 1597.2ZM490.9 1589.4L493.4 1591.9L496.8 1589.4L493.4 1586.7ZM767.8 1589.4L769.2 1590.4L783.7 1590.6L784.9 1589.4L783.7 1588.5L769.2 1586.7ZM635.2 1575.8L638.6 1578.3L647.3 1575.8L648.3 1562.2L638.6 1554.8L634.3 1548.6L638.6 1541.1L645.8 1535.0L653.1 1527.3L658.9 1535.0L667.6 1544.1L678.5 1548.6L682.1 1550.9L684.2 1548.6L682.1 1541.8L680.1 1535.0L667.6 1526.0L660.4 1521.4L667.6 1516.9L682.1 1510.1L696.6 1516.9L697.8 1521.4L711.2 1534.0L714.8 1535.0L711.2 1536.3L702.1 1548.6L696.6 1556.8L690.2 1562.2L685.4 1575.8L696.6 1582.1L703.0 1575.8L701.9 1562.2L711.2 1556.6L722.4 1562.2L725.7 1565.2L729.8 1562.2L740.2 1550.9L754.7 1551.3L758.3 1548.6L754.7 1545.2L742.3 1535.0L754.7 1529.6L769.2 1530.5L779.6 1521.4L783.7 1513.7L788.6 1521.4L789.2 1535.0L790.5 1548.6L798.2 1556.4L808.8 1548.6L802.8 1535.0L806.5 1521.4L805.5 1507.9L812.8 1500.1L819.0 1494.3L812.8 1484.1L811.9 1480.7L812.8 1473.9L827.3 1467.1L827.3 1453.5L816.4 1439.9L812.8 1433.1L811.7 1426.3L812.8 1424.8L820.0 1426.3L827.3 1429.7L833.5 1439.9L827.3 1453.5L841.8 1462.6L856.3 1458.0L865.0 1453.5L870.8 1449.0L878.1 1439.9L881.3 1426.3L885.3 1415.0L899.9 1414.2L907.1 1412.7L904.7 1399.1L899.9 1396.2L885.3 1391.9L878.5 1385.5L882.1 1372.0L870.8 1366.4L863.0 1372.0L859.9 1385.5L856.3 1395.7L841.8 1399.1L856.3 1400.6L867.9 1412.7L859.0 1426.3L862.5 1439.9L856.3 1446.7L850.1 1439.9L850.1 1426.3L844.7 1412.7L841.8 1399.1L827.3 1399.1L827.3 1399.1L827.3 1399.1L834.5 1385.5L841.8 1372.0L841.8 1372.0L856.3 1362.9L859.7 1358.4L870.8 1346.0L872.9 1344.8L873.5 1331.2L872.4 1317.6L873.2 1304.0L870.8 1302.8L868.4 1304.0L863.6 1317.6L856.3 1331.2L856.3 1331.2L844.7 1344.8L841.8 1346.6L832.1 1344.8L830.9 1331.2L827.3 1328.5L824.4 1331.2L825.7 1344.8L827.3 1351.6L828.3 1358.4L827.3 1360.3L824.9 1358.4L812.8 1353.1L798.2 1349.3L791.8 1358.4L783.7 1369.7L774.7 1358.4L776.5 1344.8L769.2 1343.1L762.0 1344.8L754.7 1346.3L740.2 1352.5L730.5 1344.8L740.2 1333.9L745.0 1331.2L740.2 1329.5L725.7 1325.4L711.2 1326.3L704.3 1317.6L711.2 1312.5L725.7 1304.0L711.2 1290.4L700.8 1304.0L696.6 1309.1L682.1 1317.6L696.6 1331.2L696.6 1331.2L705.4 1344.8L696.6 1349.3L682.1 1344.8L682.1 1344.8L678.1 1331.2L667.6 1320.2L655.0 1331.2L653.1 1335.7L650.7 1331.2L638.6 1320.7L631.3 1317.6L624.1 1311.8L618.6 1317.6L619.2 1331.2L609.6 1336.6L599.9 1331.2L597.5 1317.6L595.0 1310.8L580.5 1312.5L566.0 1317.6L580.5 1327.8L587.8 1331.2L580.5 1334.2L569.2 1344.8L580.5 1352.1L586.0 1358.4L580.5 1363.5L566.0 1372.0L566.0 1372.0L561.2 1385.5L566.0 1388.9L572.2 1399.1L566.0 1407.3L559.3 1399.1L551.5 1390.5L538.8 1399.1L551.5 1407.8L558.8 1412.7L558.8 1426.3L559.8 1439.9L557.7 1453.5L560.0 1467.1L551.5 1473.9L540.2 1480.7L543.2 1494.3L551.5 1507.9L566.0 1498.8L571.8 1494.3L566.0 1488.8L561.7 1480.7L566.0 1475.6L572.2 1480.7L580.5 1488.4L595.0 1492.0L609.6 1480.7L609.6 1480.7L609.6 1480.7L624.1 1486.5L631.3 1494.3L624.1 1503.3L609.6 1494.3L597.9 1507.9L604.7 1521.4L595.0 1526.0L587.8 1521.4L580.5 1512.4L570.8 1521.4L566.0 1526.0L560.7 1535.0L566.0 1548.6L573.3 1535.0L580.5 1528.2L585.4 1535.0L595.0 1544.9L609.6 1547.4L610.7 1548.6L624.1 1560.3L627.7 1562.2ZM587.8 1562.2L595.0 1565.8L601.5 1562.2L595.0 1554.4ZM766.3 1562.2L769.2 1566.7L775.0 1562.2L769.2 1558.8ZM845.9 1548.6L856.3 1552.4L863.6 1548.6L862.1 1535.0L856.3 1529.6L851.8 1535.0ZM885.3 1535.0L899.9 1539.6L901.8 1535.0L899.9 1532.8ZM624.1 1529.6L615.4 1521.4L624.1 1513.3L632.8 1521.4ZM740.2 1521.4L740.2 1521.4L740.2 1521.4L740.2 1521.4ZM519.6 1507.9L522.5 1509.9L529.7 1507.9L522.5 1506.2ZM754.7 1512.7L750.4 1507.9L749.9 1494.3L741.8 1480.7L754.7 1467.1L754.7 1467.1L754.7 1467.1L766.3 1480.7L769.2 1484.6L774.8 1494.3L769.2 1502.8L763.8 1507.9ZM832.1 1507.9L841.8 1514.6L856.3 1507.9L841.8 1502.4ZM682.1 1501.1L672.5 1494.3L682.1 1487.5L696.6 1491.5L699.1 1494.3L696.6 1498.8ZM856.3 1494.3L870.8 1497.3L875.7 1494.3L885.3 1483.4L886.8 1480.7L885.3 1478.4L875.0 1467.1L870.8 1460.3L867.2 1467.1L856.3 1477.3L841.8 1473.9L836.0 1480.7L841.8 1486.1L856.3 1494.3ZM653.1 1491.5L648.3 1480.7L653.1 1478.1L658.4 1480.7ZM911.7 1480.7L914.4 1487.5L917.6 1480.7L914.4 1473.9ZM500.7 1467.1L508.0 1471.6L510.9 1467.1L508.0 1460.3ZM580.5 1467.1L580.5 1467.1L580.5 1453.5L580.5 1453.5L592.3 1439.9L595.0 1432.1L603.3 1439.9L595.0 1453.5L595.0 1453.5L580.5 1467.1ZM783.7 1467.1L783.7 1467.1L769.2 1457.6L764.9 1453.5L769.2 1439.9L769.2 1439.9L769.2 1439.9L783.7 1446.7L791.0 1453.5L783.7 1467.1ZM904.2 1453.5L914.4 1464.1L924.5 1453.5L928.9 1449.0L936.1 1439.9L936.8 1426.3L933.7 1412.7L928.9 1410.5L919.2 1412.7L914.4 1426.3L923.1 1439.9L914.4 1447.5ZM511.6 1439.9L522.5 1449.0L537.0 1446.1L545.0 1439.9L537.0 1434.2L529.2 1426.3L522.5 1419.5L513.8 1426.3ZM711.2 1443.3L710.4 1439.9L711.2 1438.4L720.8 1426.3L725.7 1415.4L740.2 1422.9L746.4 1426.3L740.2 1428.2L725.7 1439.9L725.7 1439.9ZM580.5 1426.3L580.5 1426.3L580.5 1426.3L580.5 1426.3ZM754.7 1415.4L753.3 1412.7L754.7 1408.2L755.9 1412.7ZM653.1 1404.0L645.8 1399.1L653.1 1390.6L663.5 1399.1ZM682.1 1407.6L671.8 1399.1L682.1 1393.9L687.0 1399.1ZM595.0 1395.4L589.8 1385.5L595.0 1380.6L604.0 1385.5ZM798.2 1392.9L790.4 1385.5L798.2 1380.3L808.4 1385.5ZM609.6 1372.0L609.6 1372.0L603.6 1358.4L609.6 1351.1L615.9 1358.4L609.6 1372.0ZM667.6 1376.9L665.0 1372.0L667.6 1368.3L674.1 1372.0ZM740.2 1375.1L736.8 1372.0L740.2 1365.2L743.5 1372.0ZM812.8 1372.0L812.8 1372.0L812.8 1372.0L812.8 1372.0ZM899.9 1372.0L914.4 1379.6L923.1 1372.0L928.9 1360.3L936.1 1358.4L928.9 1357.3L914.4 1354.2L899.9 1349.9L885.3 1356.4L884.0 1358.4L885.3 1362.9L899.9 1372.0ZM777.7 1331.2L783.7 1342.5L798.2 1342.3L808.3 1331.2L798.2 1321.8L786.6 1317.6L798.2 1309.8L809.1 1304.0L798.2 1290.4L783.7 1295.0L777.0 1304.0L782.1 1317.6ZM504.0 1317.6L508.0 1325.8L515.2 1317.6L508.0 1315.7ZM549.3 1317.6L551.5 1326.7L566.0 1317.6L551.5 1314.9ZM748.7 1317.6L754.7 1327.3L760.3 1317.6L760.0 1304.0L754.7 1293.1L748.9 1304.0ZM898.2 1317.6L899.9 1319.3L900.7 1317.6L899.9 1315.7ZM599.9 1304.0L609.6 1307.9L614.4 1304.0L609.6 1297.2ZM635.7 1304.0L638.6 1307.4L653.1 1310.8L662.2 1304.0L664.0 1290.4L653.1 1276.8L638.6 1289.1L635.0 1290.4ZM814.2 1304.0L827.3 1313.4L841.8 1304.0L827.3 1297.6ZM562.8 1290.4L566.0 1292.9L580.5 1293.6L589.2 1290.4L580.5 1285.3L566.0 1288.0ZM736.2 1290.4L740.2 1295.0L751.1 1290.4L740.2 1285.3ZM619.2 1276.8L624.1 1283.6L627.7 1276.8L624.1 1271.0ZM674.9 1276.8L682.1 1285.0L686.1 1276.8L682.1 1273.9ZM711.2 1276.8L725.7 1283.6L734.6 1276.8L725.7 1263.2Z"/>
<path stroke="#aaaaaa" d="M796.5 1630.2L798.2 1631.7L800.9 1630.2L798.2 1627.7ZM695.0 1575.8L696.6 1576.7L697.6 1575.8L696.6 1571.3ZM617.4 1548.6L624.1 1554.4L629.2 1548.6L624.1 1540.5ZM707.5 1548.6L711.2 1551.8L722.8 1548.6L711.2 1543.7ZM796.3 1548.6L798.2 1550.6L800.9 1548.6L798.2 1539.6ZM592.6 1535.0L595.0 1537.5L609.6 1540.0L616.8 1535.0L609.6 1528.2L595.0 1532.8ZM704.5 1521.4L711.2 1527.7L722.0 1521.4L714.8 1507.9L711.2 1501.1L708.3 1507.9ZM749.9 1521.4L754.7 1524.2L769.2 1525.1L773.4 1521.4L769.2 1513.7L754.7 1518.5ZM795.8 1521.4L798.2 1530.5L800.3 1521.4L798.2 1514.6ZM606.7 1507.9L609.6 1512.4L614.4 1507.9L609.6 1504.5ZM648.3 1507.9L653.1 1511.2L667.6 1507.9L653.1 1505.6ZM730.5 1507.9L740.2 1514.6L745.3 1507.9L740.2 1499.7ZM781.5 1494.3L783.7 1499.7L798.2 1494.3L798.2 1494.3L806.4 1480.7L798.2 1471.3L783.7 1478.7L780.8 1480.7ZM549.9 1480.7L551.5 1485.2L552.9 1480.7L551.5 1479.7ZM585.4 1480.7L595.0 1485.2L600.8 1480.7L605.9 1467.1L595.0 1462.6L590.2 1467.1ZM632.8 1480.7L638.6 1487.5L641.0 1480.7L653.1 1474.2L666.3 1480.7L667.6 1482.9L670.5 1480.7L682.1 1467.1L682.1 1467.1L682.1 1467.1L696.6 1473.9L706.3 1467.1L696.6 1462.6L691.4 1453.5L696.6 1449.9L705.5 1439.9L711.2 1429.3L713.6 1426.3L721.6 1412.7L725.7 1404.2L734.7 1412.7L740.2 1416.1L744.5 1412.7L740.2 1399.1L740.2 1399.1L740.2 1399.1L751.8 1385.6L740.2 1381.4L728.6 1385.6L725.7 1388.9L718.4 1385.5L725.7 1382.8L730.1 1372.0L731.5 1358.4L725.7 1353.8L721.5 1358.4L711.2 1364.0L696.6 1358.4L696.6 1358.4L682.1 1352.2L667.6 1344.8L653.1 1353.8L645.8 1358.4L638.6 1372.0L653.1 1382.8L661.0 1372.0L667.6 1362.9L682.1 1369.7L684.2 1372.0L682.1 1376.5L667.6 1384.3L664.0 1385.5L667.6 1388.3L682.1 1387.6L692.8 1399.1L696.6 1408.2L698.6 1412.7L703.9 1426.3L696.6 1428.4L690.8 1426.3L682.1 1419.5L674.9 1412.7L667.6 1406.9L653.1 1409.8L638.6 1401.1L637.1 1399.1L637.3 1385.5L638.6 1372.0L635.0 1358.4L627.0 1344.8L624.1 1342.1L609.6 1344.8L621.3 1358.4L616.3 1372.0L610.9 1385.5L609.6 1390.1L603.7 1399.1L595.0 1404.2L586.3 1399.1L585.8 1385.5L595.0 1376.9L603.3 1372.0L598.5 1358.4L595.0 1349.3L591.4 1358.4L580.5 1368.6L574.7 1372.0L570.8 1385.5L578.5 1399.1L580.5 1404.6L586.0 1412.7L595.0 1421.2L605.9 1426.3L609.6 1429.7L612.0 1426.3L624.1 1418.8L630.7 1426.3L638.6 1435.4L644.8 1439.9L653.1 1449.0L667.6 1453.5L667.6 1453.5L667.6 1453.5L653.1 1455.6L643.4 1453.5L638.6 1450.1L624.1 1444.0L615.6 1453.5L624.1 1461.4L630.7 1467.1ZM714.8 1467.1L725.7 1472.9L732.9 1467.1L740.2 1458.9L754.7 1455.4L756.2 1453.5L754.7 1439.9L754.7 1439.9L740.2 1431.9L730.3 1439.9L725.7 1444.0L713.7 1453.5ZM767.1 1467.1L769.2 1469.8L771.3 1467.1L769.2 1465.7ZM912.9 1453.5L914.4 1455.0L915.8 1453.5L914.4 1452.6ZM517.0 1439.9L522.5 1444.4L534.9 1439.9L522.5 1426.3ZM569.1 1439.9L580.5 1448.7L588.1 1439.9L580.5 1431.1ZM794.1 1439.9L798.2 1443.8L802.4 1439.9L805.5 1426.3L798.2 1417.7L788.6 1412.7L783.7 1405.9L769.2 1405.2L763.2 1412.7L769.2 1420.3L783.7 1417.3L789.0 1426.3ZM653.1 1430.8L649.5 1426.3L653.1 1420.9L662.8 1426.3ZM864.5 1426.3L870.8 1436.9L876.5 1426.3L870.8 1417.7ZM807.9 1412.7L812.8 1415.7L818.6 1412.7L820.6 1399.1L812.8 1389.6L798.2 1399.1ZM549.7 1399.1L551.5 1400.4L552.6 1399.1L551.5 1397.9ZM711.2 1401.0L706.3 1399.1L711.2 1390.1L717.0 1399.1ZM864.4 1399.1L870.8 1405.9L885.3 1404.2L892.6 1399.1L885.3 1396.7L873.4 1385.5L872.4 1372.0L870.8 1371.2L869.7 1372.0L867.2 1385.5ZM756.5 1385.5L769.2 1394.2L783.7 1385.5L771.6 1372.0L769.2 1368.6L760.5 1358.4L754.7 1355.4L748.9 1358.4L750.2 1372.0L754.7 1382.8ZM791.0 1372.0L798.2 1375.7L804.8 1372.0L798.2 1362.3ZM909.5 1372.0L914.4 1374.5L917.3 1372.0L914.4 1363.8ZM834.5 1358.4L841.8 1365.7L852.0 1358.4L841.8 1352.0ZM578.9 1344.8L580.5 1345.8L585.4 1344.8L580.5 1343.3ZM853.4 1344.8L856.3 1350.2L860.5 1344.8L856.3 1341.4ZM631.3 1331.2L638.6 1338.0L643.4 1331.2L638.6 1327.0ZM660.8 1331.2L667.6 1344.8L673.3 1331.2L667.6 1325.2ZM787.4 1331.2L798.2 1334.9L801.6 1331.2L798.2 1328.1ZM690.8 1317.6L696.6 1323.0L699.7 1317.6L696.6 1314.2ZM704.9 1304.0L711.2 1309.1L719.9 1304.0L711.2 1295.9ZM822.9 1304.0L827.3 1307.2L832.1 1304.0L827.3 1301.9ZM722.0 1276.8L725.7 1278.5L727.9 1276.8L725.7 1273.4Z"/>
<path stroke="#cccccc" d="M792.8 1480.7L798.2 1485.2L801.0 1480.7L798.2 1477.5ZM638.6 1467.1L653.1 1470.3L662.2 1467.1L653.1 1461.9ZM622.9 1453.5L624.1 1454.6L626.5 1453.5L624.1 1452.1ZM680.1 1453.5L682.1 1455.4L683.4 1453.5L682.1 1450.1ZM718.8 1453.5L725.7 1463.4L735.4 1453.5L725.7 1448.1ZM575.3 1439.9L580.5 1443.9L584.0 1439.9L580.5 1435.9ZM687.6 1439.9L696.6 1444.4L700.7 1439.9L696.6 1434.7ZM734.8 1439.9L740.2 1448.6L748.0 1439.9L740.2 1435.6ZM796.9 1426.3L798.2 1429.0L799.3 1426.3L798.2 1425.1ZM869.9 1426.3L870.8 1427.8L871.6 1426.3L870.8 1425.1ZM704.4 1412.7L711.2 1421.4L716.8 1412.7L711.2 1406.4ZM617.8 1399.1L624.1 1407.3L628.4 1399.1L629.3 1385.5L626.1 1372.0L624.1 1368.6L623.0 1372.0L618.8 1385.5ZM810.7 1399.1L812.8 1401.9L813.9 1399.1L812.8 1397.8ZM578.1 1385.5L580.5 1390.1L581.8 1385.5L580.5 1378.8ZM767.4 1385.5L769.2 1386.8L771.3 1385.5L769.2 1383.3ZM587.8 1372.0L595.0 1373.2L597.1 1372.0L595.0 1365.2ZM645.8 1372.0L653.1 1377.4L657.1 1372.0L653.1 1364.5ZM696.6 1372.0L711.2 1374.2L716.0 1372.0L711.2 1370.8ZM840.8 1358.4L841.8 1359.4L843.2 1358.4L841.8 1357.5ZM666.6 1331.2L667.6 1333.1L668.4 1331.2L667.6 1330.3ZM709.1 1304.0L711.2 1305.7L714.1 1304.0L711.2 1301.3Z"/>
<path stroke="#eeeeee" d="M724.0 1453.5L725.7 1456.0L728.1 1453.5L725.7 1452.1ZM739.4 1439.9L740.2 1441.1L741.3 1439.9L740.2 1439.3ZM710.2 1412.7L711.2 1414.0L712.0 1412.7L711.2 1411.8Z"/>
</g>
<rect x="2610.4" y="720.4" width="150" height="1440" fill="url(#cb)"/>
<path d="M360.40 600.40v-33.30M360.40 120.40v33.30M709.55 600.40v-33.30M709.55 120.40v33.30M1058.70 600.40v-33.30M1058.70 120.40v33.30M1407.85 600.40v-33.30M1407.85 120.40v33.30M1757.00 600.40v-33.30M1757.00 120.40v33.30M430.23 600.40v-16.70M430.23 120.40v16.70M500.06 600.40v-16.70M500.06 120.40v16.70M569.89 600.40v-16.70M569.89 120.40v16.70M639.72 600.40v-16.70M639.72 120.40v16.70M779.38 600.40v-16.70M779.38 120.40v16.70M849.21 600.40v-16.70M849.21 120.40v16.70M919.04 600.40v-16.70M919.04 120.40v16.70M988.87 600.40v-16.70M988.87 120.40v16.70M1128.53 600.40v-16.70M1128.53 120.40v16.70M1198.36 600.40v-16.70M1198.36 120.40v16.70M1268.19 600.40v-16.70M1268.19 120.40v16.70M1338.02 600.40v-16.70M1338.02 120.40v16.70M1477.68 600.40v-16.70M1477.68 120.40v16.70M1547.51 600.40v-16.70M1547.51 120.40v16.70M1617.34 600.40v-16.70M1617.34 120.40v16.70M1687.17 600.40v-16.70M1687.17 120.40v16.70M360.40 2160.40v-33.30M360.40 720.40v33.30M709.55 2160.40v-33.30M709.55 720.40v33.30M1058.70 2160.40v-33.30M1058.70 720.40v33.30M1407.85 2160.40v-33.30M1407.85 720.40v33.30M1757.00 2160.40v-33.30M1757.00 720.40v33.30M430.23 2160.40v-16.70M430.23 720.40v16.70M500.06 2160.40v-16.70M500.06 720.40v16.70M569.89 2160.40v-16.70M569.89 720.40v16.70M639.72 2160.40v-16.70M639.72 720.40v16.70M779.38 2160.40v-16.70M779.38 720.40v16.70M849.21 2160.40v-16.70M849.21 720.40v16.70M919.04 2160.40v-16.70M919.04 720.40v16.70M988.87 2160.40v-16.70M988.87 720.40v16.70M1128.53 2160.40v-16.70M1128.53 720.40v16.70M1198.36 2160.40v-16.70M1198.36 720.40v16.70M1268.19 2160.40v-16.70M1268.19 720.40v16.70M1338.02 2160.40v-16.70M1338.02 720.40v16.70M1477.68 2160.40v-16.70M1477.68 720.40v16.70M1547.51 2160.40v-16.70M1547.51 720.40v16.70M1617.34 2160.40v-16.70M1617.34 720.40v16.70M1687.17 2160.40v-16.70M1687.17 720.40v16.70M360.40 2110.42h33.30M1800.40 2110.42h-33.30M360.40 1887.08h33.30M1800.40 1887.08h-33.30M360.40 1663.74h33.30M1800.40 1663.74h-33.30M360.40 1440.40h33.30M1800.40 1440.40h-33.30M360.40 1217.06h33.30M1800.40 1217.06h-33.30M360.40 993.72h33.30M1800.40 993.72h-33.30M360.40 770.38h33.30M1800.40 770.38h-33.30M360.40 2054.59h16.70M1800.40 2054.59h-16.70M360.40 1998.75h16.70M1800.40 1998.75h-16.70M360.40 1942.91h16.70M1800.40 1942.91h-16.70M360.40 1831.25h16.70M1800.40 1831.25h-16.70M360.40 1775.41h16.70M1800.40 1775.41h-16.70M360.40 1719.58h16.70M1800.40 1719.58h-16.70M360.40 1607.91h16.70M1800.40 1607.91h-16.70M360.40 1552.07h16.70M1800.40 1552.07h-16.70M360.40 1496.24h16.70M1800.40 1496.24h-16.70M360.40 1384.57h16.70M1800.40 1384.57h-16.70M360.40 1328.73h16.70M1800.40 1328.73h-16.70M360.40 1272.89h16.70M1800.40 1272.89h-16.70M360.40 1161.23h16.70M1800.40 1161.23h-16.70M360.40 1105.39h16.70M1800.40 1105.39h-16.70M360.40 1049.56h16.70M1800.40 1049.56h-16.70M360.40 937.89h16.70M1800.40 937.89h-16.70M360.40 882.05h16.70M1800.40 882.05h-16.70M360.40 826.22h16.70M1800.40 826.22h-16.70M1920.40 2110.42h33.30M2490.40 2110.42h-33.30M1920.40 1887.08h33.30M2490.40 1887.08h-33.30M1920.40 1663.74h33.30M2490.40 1663.74h-33.30M1920.40 1440.40h33.30M2490.40 1440.40h-33.30M1920.40 1217.06h33.30M2490.40 1217.06h-33.30M1920.40 993.72h33.30M2490.40 993.72h-33.30M1920.40 770.38h33.30M2490.40 770.38h-33.30M1920.40 2054.59h16.70M2490.40 2054.59h-16.70M1920.40 1998.75h16.70M2490.40 1998.75h-16.70M1920.40 1942.91h16.70M2490.40 1942.91h-16.70M1920.40 1831.25h16.70M2490.40 1831.25h-16.70M1920.40 1775.41h16.70M2490.40 1775.41h-16.70M1920.40 1719.58h16.70M2490.40 1719.58h-16.70M1920.40 1607.91h16.70M2490.40 1607.91h-16.70M1920.40 1552.07h16.70M2490.40 1552.07h-16.70M1920.40 1496.24h16.70M2490.40 1496.24h-16.70M1920.40 1384.57h16.70M2490.40 1384.57h-16.70M1920.40 1328.73h16.70M2490.40 1328.73h-16.70M1920.40 1272.89h16.70M2490.40 1272.89h-16.70M1920.40 1161.23h16.70M2490.40 1161.23h-16.70M1920.40 1105.39h16.70M2490.40 1105.39h-16.70M1920.40 1049.56h16.70M2490.40 1049.56h-16.70M1920.40 937.89h16.70M2490.40 937.89h-16.70M1920.40 882.05h16.70M2490.40 882.05h-16.70M1920.40 826.22h16.70M2490.40 826.22h-16.70M360.40 600.40h33.30M1800.40 600.40h-33.30M360.40 221.80h33.30M1800.40 221.80h-33.30M360.40 524.68h16.70M1800.40 524.68h-16.70M360.40 448.96h16.70M1800.40 448.96h-16.70M360.40 373.24h16.70M1800.40 373.24h-16.70M360.40 297.52h16.70M1800.40 297.52h-16.70M360.40 146.08h16.70M1800.40 146.08h-16.70M1920.40 2160.40v-33.30M1920.40 720.40v33.30M2338.90 2160.40v-33.30M2338.90 720.40v33.30M2004.10 2160.40v-16.70M2004.10 720.40v16.70M2087.80 2160.40v-16.70M2087.80 720.40v16.70M2171.50 2160.40v-16.70M2171.50 720.40v16.70M2255.20 2160.40v-16.70M2255.20 720.40v16.70M2422.60 2160.40v-16.70M2422.60 720.40v16.70M2760.40 2160.40h-33.30M2760.40 1872.40h-33.30M2760.40 1584.40h-33.30M2760.40 1296.40h-33.30M2760.40 1008.40h-33.30M2760.40 720.40h-33.30M2760.40 2088.40h-16.70M2760.40 2016.40h-16.70M2760.40 1944.40h-16.70M2760.40 1800.40h-16.70M2760.40 1728.40h-16.70M2760.40 1656.40h-16.70M2760.40 1512.40h-16.70M2760.40 1440.40h-16.70M2760.40 1368.40h-16.70M2760.40 1224.40h-16.70M2760.40 1152.40h-16.70M2760.40 1080.40h-16.70M2760.40 936.40h-16.70M2760.40 864.40h-16.70M2760.40 792.40h-16.70" stroke="#000" stroke-width="2.20" fill="none"/>
<rect x="360.40" y="120.40" width="1440.00" height="480.00" fill="none" stroke="#000" stroke-width="3.33" stroke-linejoin="miter"/>
<rect x="360.40" y="720.40" width="1440.00" height="1440.00" fill="none" stroke="#000" stroke-width="3.33" stroke-linejoin="miter"/>
<rect x="1920.40" y="720.40" width="570.00" height="1440.00" fill="none" stroke="#000" stroke-width="3.33" stroke-linejoin="miter"/>
<rect x="2610.40" y="720.40" width="150.00" height="1440.00" fill="none" stroke="#000" stroke-width="3.33" stroke-linejoin="miter"/>
<g font-family="'Liberation Sans', sans-serif" font-weight="bold" fill="#000">
<text transform="translate(1916.68,280.90) scale(0.6051,1.000)" font-size="128.12">P</text><text transform="translate(1917.78,280.90) scale(0.6051,1.000)" font-size="128.12">P</text><text transform="translate(1968.39,280.90) scale(0.6051,0.930)" font-size="128.12">ep</text><text transform="translate(1969.49,280.90) scale(0.6051,0.930)" font-size="128.12">ep</text><text transform="translate(2058.87,280.90) scale(0.6051,1.000)" font-size="128.12">DF</text><text transform="translate(2059.97,280.90) scale(0.6051,1.000)" font-size="128.12">DF</text>
<text transform="translate(1919.48,432.90) scale(0.6237,1.000)" font-size="106.77">T</text><text transform="translate(1920.58,432.90) scale(0.6237,1.000)" font-size="106.77">T</text><text transform="translate(1958.96,432.90) scale(0.6237,0.930)" font-size="106.77">ime</text><text transform="translate(1960.06,432.90) scale(0.6237,0.930)" font-size="106.77">ime</text>
<text transform="translate(2093.48,432.90) scale(0.6382,0.930)" font-size="106.77">window</text><text transform="translate(2094.58,432.90) scale(0.6382,0.930)" font-size="106.77">window</text><text transform="translate(2343.28,432.90) scale(0.6382,0.930)" font-size="106.77">:</text><text transform="translate(2344.38,432.90) scale(0.6382,0.930)" font-size="106.77">:</text>
<text transform="translate(2383.49,432.90) scale(0.6110,1.000)" font-size="106.77">5</text><text transform="translate(2384.59,432.90) scale(0.6110,1.000)" font-size="106.77">5</text>
<text transform="translate(2439.48,432.90) scale(0.6282,0.930)" font-size="106.77">ns</text><text transform="translate(2440.58,432.90) scale(0.6282,0.930)" font-size="106.77">ns</text>
<text transform="translate(657.19,2344.00) scale(0.6543,1.000)" font-size="106.77">L</text><text transform="translate(658.29,2344.00) scale(0.6543,1.000)" font-size="106.77">L</text><text transform="translate(699.87,2344.00) scale(0.6543,0.930)" font-size="106.77">ateral</text><text transform="translate(700.97,2344.00) scale(0.6543,0.930)" font-size="106.77">ateral</text>
<text transform="translate(902.04,2344.00) scale(0.6349,0.930)" font-size="106.77">displacement</text><text transform="translate(903.14,2344.00) scale(0.6349,0.930)" font-size="106.77">displacement</text>
<text transform="translate(1356.54,2335.03) scale(0.6195,0.840)" font-size="106.77">(</text><text transform="translate(1357.64,2335.03) scale(0.6195,0.840)" font-size="106.77">(</text><text transform="translate(1378.57,2344.00) scale(0.6195,0.930)" font-size="106.77">nm</text><text transform="translate(1379.67,2344.00) scale(0.6195,0.930)" font-size="106.77">nm</text><text transform="translate(1477.79,2335.03) scale(0.6195,0.840)" font-size="106.77">)</text><text transform="translate(1478.89,2335.03) scale(0.6195,0.840)" font-size="106.77">)</text>
<text transform="translate(2064.97,2343.90) scale(0.6658,1.000)" font-size="106.77">#</text><text transform="translate(2066.07,2343.90) scale(0.6658,1.000)" font-size="106.77">#</text>
<text transform="translate(2124.50,2343.90) scale(0.5970,1.000)" font-size="106.77">C</text><text transform="translate(2125.60,2343.90) scale(0.5970,1.000)" font-size="106.77">C</text><text transform="translate(2170.53,2343.90) scale(0.5970,0.930)" font-size="106.77">ounts</text><text transform="translate(2171.63,2343.90) scale(0.5970,0.930)" font-size="106.77">ounts</text>
<text transform="translate(192.70,1782.92) rotate(-90) scale(0.6278,1.000)" font-size="106.77">P</text><text transform="translate(192.70,1784.02) rotate(-90) scale(0.6278,1.000)" font-size="106.77">P</text><text transform="translate(192.70,1738.21) rotate(-90) scale(0.6278,0.930)" font-size="106.77">recession</text><text transform="translate(192.70,1739.31) rotate(-90) scale(0.6278,0.930)" font-size="106.77">recession</text>
<text transform="translate(183.73,1403.83) rotate(-90) scale(0.6322,0.840)" font-size="106.77">(</text><text transform="translate(183.73,1404.92) rotate(-90) scale(0.6322,0.840)" font-size="106.77">(</text><text transform="translate(192.70,1381.35) rotate(-90) scale(0.6322,0.930)" font-size="106.77">degrees</text><text transform="translate(192.70,1382.45) rotate(-90) scale(0.6322,0.930)" font-size="106.77">degrees</text><text transform="translate(183.73,1122.45) rotate(-90) scale(0.6322,0.840)" font-size="106.77">)</text><text transform="translate(183.73,1123.55) rotate(-90) scale(0.6322,0.840)" font-size="106.77">)</text>
<text transform="translate(211.40,499.32) rotate(-90) scale(0.6568,1.000)" font-size="106.77">#</text><text transform="translate(211.40,500.42) rotate(-90) scale(0.6568,1.000)" font-size="106.77">#</text>
<text transform="translate(211.40,439.68) rotate(-90) scale(0.5923,1.000)" font-size="106.77">C</text><text transform="translate(211.40,440.78) rotate(-90) scale(0.5923,1.000)" font-size="106.77">C</text><text transform="translate(211.40,394.01) rotate(-90) scale(0.5923,0.930)" font-size="106.77">ounts</text><text transform="translate(211.40,395.11) rotate(-90) scale(0.5923,0.930)" font-size="106.77">ounts</text>
<text transform="translate(2931.90,1733.46) rotate(-90) scale(0.6345,1.000)" font-size="85.42">N</text><text transform="translate(2931.90,1734.56) rotate(-90) scale(0.6345,1.000)" font-size="85.42">N</text><text transform="translate(2931.90,1694.32) rotate(-90) scale(0.6345,0.930)" font-size="85.42">ormalized</text><text transform="translate(2931.90,1695.42) rotate(-90) scale(0.6345,0.930)" font-size="85.42">ormalized</text>
<text transform="translate(2931.90,1426.95) rotate(-90) scale(0.6315,1.000)" font-size="85.42">M</text><text transform="translate(2931.90,1428.05) rotate(-90) scale(0.6315,1.000)" font-size="85.42">M</text><text transform="translate(2931.90,1382.01) rotate(-90) scale(0.6315,0.930)" font-size="85.42">ean</text><text transform="translate(2931.90,1383.11) rotate(-90) scale(0.6315,0.930)" font-size="85.42">ean</text>
<text transform="translate(2931.90,1272.19) rotate(-90) scale(0.6273,1.000)" font-size="85.42">T</text><text transform="translate(2931.90,1273.29) rotate(-90) scale(0.6273,1.000)" font-size="85.42">T</text><text transform="translate(2931.90,1240.43) rotate(-90) scale(0.6273,0.930)" font-size="85.42">ime</text><text transform="translate(2931.90,1241.53) rotate(-90) scale(0.6273,0.930)" font-size="85.42">ime</text>
<text transform="translate(322.16,2235.50) scale(0.6399,1)" font-size="85.42">0.0</text><text transform="translate(323.26,2235.50) scale(0.6399,1)" font-size="85.42">0.0</text>
<text transform="translate(670.95,2235.50) scale(0.6399,1)" font-size="85.42">0.5</text><text transform="translate(672.05,2235.50) scale(0.6399,1)" font-size="85.42">0.5</text>
<text transform="translate(1019.83,2235.50) scale(0.6399,1)" font-size="85.42">1.0</text><text transform="translate(1020.93,2235.50) scale(0.6399,1)" font-size="85.42">1.0</text>
<text transform="translate(1368.61,2235.50) scale(0.6399,1)" font-size="85.42">1.5</text><text transform="translate(1369.71,2235.50) scale(0.6399,1)" font-size="85.42">1.5</text>
<text transform="translate(1718.95,2235.50) scale(0.6399,1)" font-size="85.42">2.0</text><text transform="translate(1720.05,2235.50) scale(0.6399,1)" font-size="85.42">2.0</text>
<text transform="translate(1904.94,2235.50) scale(0.6399,1)" font-size="85.42">0</text><text transform="translate(1906.04,2235.50) scale(0.6399,1)" font-size="85.42">0</text>
<text transform="translate(2293.38,2235.50) scale(0.6399,1)" font-size="85.42">500</text><text transform="translate(2294.48,2235.50) scale(0.6399,1)" font-size="85.42">500</text>
<text transform="translate(281.67,790.68) scale(0.6399,1)" font-size="85.42">60</text><text transform="translate(282.77,790.68) scale(0.6399,1)" font-size="85.42">60</text>
<text transform="translate(281.67,1014.02) scale(0.6399,1)" font-size="85.42">40</text><text transform="translate(282.77,1014.02) scale(0.6399,1)" font-size="85.42">40</text>
<text transform="translate(281.67,1237.36) scale(0.6399,1)" font-size="85.42">20</text><text transform="translate(282.77,1237.36) scale(0.6399,1)" font-size="85.42">20</text>
<text transform="translate(311.91,1460.70) scale(0.6399,1)" font-size="85.42">0</text><text transform="translate(313.01,1460.70) scale(0.6399,1)" font-size="85.42">0</text>
<text transform="translate(281.67,1684.04) scale(0.6399,1)" font-size="85.42">20</text><text transform="translate(282.77,1684.04) scale(0.6399,1)" font-size="85.42">20</text>
<rect x="235.94" y="1660.14" width="42.1" height="6.7"/>
<text transform="translate(281.67,1907.38) scale(0.6399,1)" font-size="85.42">40</text><text transform="translate(282.77,1907.38) scale(0.6399,1)" font-size="85.42">40</text>
<rect x="235.03" y="1883.48" width="42.1" height="6.7"/>
<text transform="translate(281.67,2130.72) scale(0.6399,1)" font-size="85.42">60</text><text transform="translate(282.77,2130.72) scale(0.6399,1)" font-size="85.42">60</text>
<rect x="236.12" y="2106.82" width="42.1" height="6.7"/>
<text transform="translate(312.41,620.70) scale(0.6399,1)" font-size="85.42">0</text><text transform="translate(313.51,620.70) scale(0.6399,1)" font-size="85.42">0</text>
<text transform="translate(251.74,242.10) scale(0.6399,1)" font-size="85.42">500</text><text transform="translate(252.84,242.10) scale(0.6399,1)" font-size="85.42">500</text>
<text transform="translate(2778.06,2180.70) scale(0.6399,1)" font-size="85.42">0.0</text><text transform="translate(2779.16,2180.70) scale(0.6399,1)" font-size="85.42">0.0</text>
<text transform="translate(2778.06,1892.70) scale(0.6399,1)" font-size="85.42">0.2</text><text transform="translate(2779.16,1892.70) scale(0.6399,1)" font-size="85.42">0.2</text>
<text transform="translate(2778.06,1604.70) scale(0.6399,1)" font-size="85.42">0.4</text><text transform="translate(2779.16,1604.70) scale(0.6399,1)" font-size="85.42">0.4</text>
<text transform="translate(2778.06,1316.70) scale(0.6399,1)" font-size="85.42">0.6</text><text transform="translate(2779.16,1316.70) scale(0.6399,1)" font-size="85.42">0.6</text>
<text transform="translate(2778.06,1028.70) scale(0.6399,1)" font-size="85.42">0.8</text><text transform="translate(2779.16,1028.70) scale(0.6399,1)" font-size="85.42">0.8</text>
<text transform="translate(2776.79,740.70) scale(0.6399,1)" font-size="85.42">1.0</text><text transform="translate(2777.89,740.70) scale(0.6399,1)" font-size="85.42">1.0</text>
</g>
</svg></body></html>
